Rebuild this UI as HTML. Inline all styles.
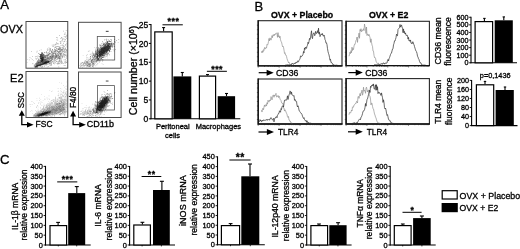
<!DOCTYPE html>
<html lang="en">
<head>
<meta charset="utf-8">
<title>Figure</title>
<style>
html,body{margin:0;padding:0;background:#fff;}
body{width:520px;height:249px;overflow:hidden;}
svg{display:block;font-family:"Liberation Sans", sans-serif;filter:blur(0.3px);}
text{stroke:#000;stroke-width:0.3px;}
</style>
</head>
<body>
<svg width="520" height="249" viewBox="0 0 520 249">
<rect width="520" height="249" fill="#fff"/>
<text x="0.2" y="9.3" font-size="13.2" text-anchor="start" font-weight="normal" fill="#000">A</text>
<text x="254.6" y="10.7" font-size="13" text-anchor="start" font-weight="normal" fill="#000">B</text>
<text x="0.0" y="163.6" font-size="13.2" text-anchor="start" font-weight="normal" fill="#000">C</text>
<text x="0.1" y="32.8" font-size="11" text-anchor="start" font-weight="normal" fill="#000" textLength="22.9" lengthAdjust="spacingAndGlyphs">OVX</text>
<text x="10.1" y="81.6" font-size="11" text-anchor="start" font-weight="normal" fill="#000">E2</text>
<rect x="26" y="21.5" width="41.75" height="46.70" fill="#fff" stroke="#4a4a4a" stroke-width="1.0"/>
<path d="M54.6 45.6h0.75v0.75h-0.75zM44.6 56.4h0.75v0.75h-0.75zM60.8 52.4h0.75v0.75h-0.75zM42.8 61.6h0.75v0.75h-0.75zM41.3 63.1h0.75v0.75h-0.75zM35.0 63.2h0.75v0.75h-0.75zM54.9 53.0h0.75v0.75h-0.75zM40.1 62.0h0.75v0.75h-0.75zM34.1 64.9h0.75v0.75h-0.75zM63.5 48.7h0.75v0.75h-0.75zM58.9 61.5h0.75v0.75h-0.75zM62.7 53.5h0.75v0.75h-0.75zM47.3 60.4h0.75v0.75h-0.75zM46.4 52.1h0.75v0.75h-0.75zM54.9 51.2h0.75v0.75h-0.75zM42.5 62.9h0.75v0.75h-0.75zM40.4 61.3h0.75v0.75h-0.75zM56.5 61.3h0.75v0.75h-0.75zM64.9 47.6h0.75v0.75h-0.75zM65.0 48.1h0.75v0.75h-0.75zM55.3 53.0h0.75v0.75h-0.75zM42.3 65.4h0.75v0.75h-0.75zM52.6 58.3h0.75v0.75h-0.75zM45.7 63.6h0.75v0.75h-0.75zM56.9 55.2h0.75v0.75h-0.75zM45.7 58.9h0.75v0.75h-0.75zM51.6 52.8h0.75v0.75h-0.75zM64.8 65.1h0.75v0.75h-0.75zM38.7 64.5h0.75v0.75h-0.75zM54.3 48.7h0.75v0.75h-0.75zM41.9 62.0h0.75v0.75h-0.75zM45.9 52.6h0.75v0.75h-0.75zM43.7 56.7h0.75v0.75h-0.75zM50.9 56.1h0.75v0.75h-0.75zM53.1 56.4h0.75v0.75h-0.75zM64.9 61.4h0.75v0.75h-0.75zM65.7 53.7h0.75v0.75h-0.75zM57.9 51.5h0.75v0.75h-0.75zM48.0 61.1h0.75v0.75h-0.75zM65.2 39.6h0.75v0.75h-0.75zM53.2 51.9h0.75v0.75h-0.75zM49.3 55.8h0.75v0.75h-0.75zM35.6 64.9h0.75v0.75h-0.75zM58.6 59.8h0.75v0.75h-0.75zM63.7 49.0h0.75v0.75h-0.75zM35.5 66.5h0.75v0.75h-0.75zM39.7 61.7h0.75v0.75h-0.75zM39.8 61.8h0.75v0.75h-0.75zM65.3 48.7h0.75v0.75h-0.75zM54.7 60.2h0.75v0.75h-0.75zM60.4 38.1h0.75v0.75h-0.75zM45.3 60.5h0.75v0.75h-0.75zM60.8 53.2h0.75v0.75h-0.75zM38.0 62.3h0.75v0.75h-0.75zM52.6 52.5h0.75v0.75h-0.75zM55.8 51.8h0.75v0.75h-0.75zM45.0 57.0h0.75v0.75h-0.75zM40.2 66.2h0.75v0.75h-0.75zM52.9 45.9h0.75v0.75h-0.75zM49.3 56.1h0.75v0.75h-0.75zM38.5 63.6h0.75v0.75h-0.75zM45.2 57.2h0.75v0.75h-0.75zM48.9 63.2h0.75v0.75h-0.75zM44.1 64.5h0.75v0.75h-0.75zM38.7 65.8h0.75v0.75h-0.75zM42.7 62.8h0.75v0.75h-0.75zM40.3 62.7h0.75v0.75h-0.75zM57.6 62.0h0.75v0.75h-0.75zM61.8 44.8h0.75v0.75h-0.75zM51.3 51.5h0.75v0.75h-0.75zM52.0 52.4h0.75v0.75h-0.75zM39.4 60.2h0.75v0.75h-0.75zM47.2 56.9h0.75v0.75h-0.75zM59.4 47.7h0.75v0.75h-0.75zM48.3 65.9h0.75v0.75h-0.75zM47.0 57.5h0.75v0.75h-0.75zM61.7 38.1h0.75v0.75h-0.75zM59.1 35.0h0.75v0.75h-0.75zM62.3 38.9h0.75v0.75h-0.75zM38.0 64.6h0.75v0.75h-0.75zM59.9 58.4h0.75v0.75h-0.75zM59.9 60.6h0.75v0.75h-0.75zM44.2 62.7h0.75v0.75h-0.75zM36.1 62.8h0.75v0.75h-0.75zM41.7 61.7h0.75v0.75h-0.75zM50.5 62.7h0.75v0.75h-0.75zM50.1 61.3h0.75v0.75h-0.75zM51.6 58.9h0.75v0.75h-0.75zM52.7 57.9h0.75v0.75h-0.75zM40.2 63.3h0.75v0.75h-0.75zM65.8 55.5h0.75v0.75h-0.75zM50.7 56.4h0.75v0.75h-0.75zM44.3 59.4h0.75v0.75h-0.75zM49.1 51.1h0.75v0.75h-0.75zM59.9 48.4h0.75v0.75h-0.75zM58.6 56.4h0.75v0.75h-0.75zM39.0 58.8h0.75v0.75h-0.75zM65.8 57.2h0.75v0.75h-0.75zM66.5 46.6h0.75v0.75h-0.75zM60.4 46.9h0.75v0.75h-0.75zM47.8 59.3h0.75v0.75h-0.75zM45.1 59.2h0.75v0.75h-0.75zM59.7 63.6h0.75v0.75h-0.75zM65.4 49.3h0.75v0.75h-0.75zM52.0 51.8h0.75v0.75h-0.75zM52.5 46.3h0.75v0.75h-0.75zM55.0 52.9h0.75v0.75h-0.75zM41.8 63.7h0.75v0.75h-0.75zM48.8 53.6h0.75v0.75h-0.75zM60.7 53.1h0.75v0.75h-0.75zM57.0 50.3h0.75v0.75h-0.75zM46.8 55.7h0.75v0.75h-0.75zM58.9 52.9h0.75v0.75h-0.75zM46.3 55.0h0.75v0.75h-0.75zM58.3 63.3h0.75v0.75h-0.75zM53.0 53.9h0.75v0.75h-0.75zM53.8 55.9h0.75v0.75h-0.75zM43.3 60.3h0.75v0.75h-0.75zM46.5 58.0h0.75v0.75h-0.75zM47.4 61.3h0.75v0.75h-0.75zM56.4 61.0h0.75v0.75h-0.75zM47.5 52.9h0.75v0.75h-0.75zM59.9 50.5h0.75v0.75h-0.75zM40.6 62.4h0.75v0.75h-0.75zM36.2 65.3h0.75v0.75h-0.75zM35.9 62.7h0.75v0.75h-0.75zM46.2 57.5h0.75v0.75h-0.75zM52.3 55.5h0.75v0.75h-0.75zM43.4 62.0h0.75v0.75h-0.75zM48.4 53.8h0.75v0.75h-0.75zM38.3 64.0h0.75v0.75h-0.75zM65.0 44.7h0.75v0.75h-0.75zM58.6 55.1h0.75v0.75h-0.75zM50.4 60.0h0.75v0.75h-0.75zM38.4 64.7h0.75v0.75h-0.75zM66.3 62.3h0.75v0.75h-0.75zM49.8 65.3h0.75v0.75h-0.75zM60.7 56.4h0.75v0.75h-0.75zM47.7 54.3h0.75v0.75h-0.75zM64.0 45.9h0.75v0.75h-0.75zM54.5 50.9h0.75v0.75h-0.75zM63.6 59.6h0.75v0.75h-0.75zM61.3 37.3h0.75v0.75h-0.75zM56.4 50.1h0.75v0.75h-0.75zM54.3 57.2h0.75v0.75h-0.75zM58.4 49.1h0.75v0.75h-0.75zM59.3 54.5h0.75v0.75h-0.75zM40.3 64.4h0.75v0.75h-0.75zM42.7 55.8h0.75v0.75h-0.75zM46.8 66.4h0.75v0.75h-0.75zM37.9 61.0h0.75v0.75h-0.75zM42.7 56.5h0.75v0.75h-0.75zM38.3 59.7h0.75v0.75h-0.75zM35.6 66.5h0.75v0.75h-0.75zM43.0 59.1h0.75v0.75h-0.75zM55.0 56.7h0.75v0.75h-0.75zM59.4 50.4h0.75v0.75h-0.75zM58.2 48.5h0.75v0.75h-0.75zM65.9 41.4h0.75v0.75h-0.75zM43.8 59.9h0.75v0.75h-0.75zM44.1 61.7h0.75v0.75h-0.75zM42.7 62.7h0.75v0.75h-0.75zM41.3 60.8h0.75v0.75h-0.75zM53.5 55.1h0.75v0.75h-0.75zM61.8 62.2h0.75v0.75h-0.75zM63.7 65.2h0.75v0.75h-0.75zM59.6 61.4h0.75v0.75h-0.75zM50.0 56.8h0.75v0.75h-0.75zM35.6 65.5h0.75v0.75h-0.75zM52.9 44.7h0.75v0.75h-0.75zM44.5 59.4h0.75v0.75h-0.75zM60.3 50.8h0.75v0.75h-0.75zM50.8 63.3h0.75v0.75h-0.75zM38.4 64.9h0.75v0.75h-0.75zM43.3 62.3h0.75v0.75h-0.75zM53.0 63.2h0.75v0.75h-0.75zM37.6 64.3h0.75v0.75h-0.75zM64.4 62.3h0.75v0.75h-0.75zM49.6 49.4h0.75v0.75h-0.75zM50.8 54.9h0.75v0.75h-0.75zM38.7 65.5h0.75v0.75h-0.75zM37.7 61.3h0.75v0.75h-0.75zM33.8 65.2h0.75v0.75h-0.75zM56.1 53.5h0.75v0.75h-0.75zM43.5 63.5h0.75v0.75h-0.75zM49.9 60.2h0.75v0.75h-0.75zM35.1 65.6h0.75v0.75h-0.75zM47.5 55.0h0.75v0.75h-0.75zM64.7 55.1h0.75v0.75h-0.75zM38.2 64.2h0.75v0.75h-0.75zM38.9 62.4h0.75v0.75h-0.75zM66.4 43.0h0.75v0.75h-0.75zM37.2 65.1h0.75v0.75h-0.75zM34.5 65.3h0.75v0.75h-0.75zM53.3 55.6h0.75v0.75h-0.75zM56.1 37.3h0.75v0.75h-0.75zM48.4 55.0h0.75v0.75h-0.75zM42.5 60.8h0.75v0.75h-0.75zM45.7 52.1h0.75v0.75h-0.75zM49.1 59.3h0.75v0.75h-0.75zM36.2 65.0h0.75v0.75h-0.75zM60.8 55.4h0.75v0.75h-0.75zM44.8 56.7h0.75v0.75h-0.75zM55.2 58.0h0.75v0.75h-0.75zM59.1 55.9h0.75v0.75h-0.75zM47.9 57.7h0.75v0.75h-0.75zM54.1 53.0h0.75v0.75h-0.75zM36.7 61.8h0.75v0.75h-0.75zM39.9 56.8h0.75v0.75h-0.75zM54.4 52.1h0.75v0.75h-0.75zM40.9 64.3h0.75v0.75h-0.75zM64.8 51.3h0.75v0.75h-0.75zM34.1 66.7h0.75v0.75h-0.75zM55.1 62.5h0.75v0.75h-0.75zM41.4 65.7h0.75v0.75h-0.75zM36.9 66.0h0.75v0.75h-0.75zM45.3 64.6h0.75v0.75h-0.75zM52.3 53.4h0.75v0.75h-0.75zM53.7 44.6h0.75v0.75h-0.75zM50.9 64.9h0.75v0.75h-0.75zM38.2 61.9h0.75v0.75h-0.75zM48.7 61.6h0.75v0.75h-0.75zM45.0 60.3h0.75v0.75h-0.75zM41.2 60.8h0.75v0.75h-0.75zM64.3 53.7h0.75v0.75h-0.75zM50.0 62.1h0.75v0.75h-0.75zM53.4 63.2h0.75v0.75h-0.75zM48.5 49.5h0.75v0.75h-0.75zM61.7 48.9h0.75v0.75h-0.75zM40.5 59.6h0.75v0.75h-0.75zM40.3 63.5h0.75v0.75h-0.75zM36.0 64.5h0.75v0.75h-0.75zM42.5 65.4h0.75v0.75h-0.75zM51.3 58.9h0.75v0.75h-0.75zM64.6 34.1h0.75v0.75h-0.75zM62.7 55.2h0.75v0.75h-0.75zM57.7 54.1h0.75v0.75h-0.75zM35.8 64.6h0.75v0.75h-0.75zM46.1 64.1h0.75v0.75h-0.75zM37.7 62.7h0.75v0.75h-0.75zM63.4 41.6h0.75v0.75h-0.75zM41.0 59.3h0.75v0.75h-0.75zM40.7 63.0h0.75v0.75h-0.75zM38.2 62.9h0.75v0.75h-0.75zM34.1 66.1h0.75v0.75h-0.75zM53.2 56.8h0.75v0.75h-0.75zM57.1 56.8h0.75v0.75h-0.75zM64.0 55.7h0.75v0.75h-0.75zM64.0 51.9h0.75v0.75h-0.75zM55.7 61.0h0.75v0.75h-0.75zM34.9 65.2h0.75v0.75h-0.75zM39.0 63.0h0.75v0.75h-0.75zM53.4 59.0h0.75v0.75h-0.75zM60.8 50.2h0.75v0.75h-0.75zM55.2 57.0h0.75v0.75h-0.75zM51.0 62.5h0.75v0.75h-0.75zM57.7 58.3h0.75v0.75h-0.75zM47.9 58.8h0.75v0.75h-0.75zM56.4 50.3h0.75v0.75h-0.75zM49.5 57.1h0.75v0.75h-0.75zM44.9 57.7h0.75v0.75h-0.75zM65.1 61.6h0.75v0.75h-0.75zM36.2 65.2h0.75v0.75h-0.75zM39.8 64.2h0.75v0.75h-0.75zM61.2 37.1h0.75v0.75h-0.75zM63.2 46.3h0.75v0.75h-0.75zM42.8 57.2h0.75v0.75h-0.75zM59.2 53.3h0.75v0.75h-0.75zM44.1 60.7h0.75v0.75h-0.75zM35.4 66.4h0.75v0.75h-0.75zM59.9 61.0h0.75v0.75h-0.75zM60.1 41.7h0.75v0.75h-0.75zM40.1 63.3h0.75v0.75h-0.75zM55.5 44.3h0.75v0.75h-0.75zM46.2 55.7h0.75v0.75h-0.75zM59.0 49.4h0.75v0.75h-0.75zM49.3 50.7h0.75v0.75h-0.75zM49.2 58.6h0.75v0.75h-0.75zM65.1 51.6h0.75v0.75h-0.75zM63.2 45.1h0.75v0.75h-0.75zM50.3 48.1h0.75v0.75h-0.75zM44.0 57.9h0.75v0.75h-0.75zM36.5 62.7h0.75v0.75h-0.75zM63.4 53.9h0.75v0.75h-0.75zM49.7 60.9h0.75v0.75h-0.75zM48.1 57.2h0.75v0.75h-0.75zM39.0 61.8h0.75v0.75h-0.75zM36.8 63.5h0.75v0.75h-0.75zM42.7 60.3h0.75v0.75h-0.75zM36.0 66.6h0.75v0.75h-0.75zM43.5 55.8h0.75v0.75h-0.75zM41.8 66.5h0.75v0.75h-0.75zM59.7 61.4h0.75v0.75h-0.75zM45.9 64.7h0.75v0.75h-0.75zM47.0 48.5h0.75v0.75h-0.75zM65.4 52.1h0.75v0.75h-0.75zM38.2 61.9h0.75v0.75h-0.75zM63.7 47.7h0.75v0.75h-0.75zM37.1 64.1h0.75v0.75h-0.75zM58.2 48.1h0.75v0.75h-0.75zM42.2 56.7h0.75v0.75h-0.75zM35.5 62.9h0.75v0.75h-0.75zM52.8 53.4h0.75v0.75h-0.75zM45.0 64.6h0.75v0.75h-0.75zM34.9 64.8h0.75v0.75h-0.75zM51.8 55.9h0.75v0.75h-0.75zM47.3 57.1h0.75v0.75h-0.75zM45.9 59.0h0.75v0.75h-0.75zM38.5 63.1h0.75v0.75h-0.75zM62.5 52.6h0.75v0.75h-0.75zM45.8 59.5h0.75v0.75h-0.75zM65.9 58.0h0.75v0.75h-0.75zM60.4 50.8h0.75v0.75h-0.75zM58.0 56.9h0.75v0.75h-0.75zM40.5 65.5h0.75v0.75h-0.75zM56.9 57.1h0.75v0.75h-0.75zM56.3 53.7h0.75v0.75h-0.75zM42.2 59.0h0.75v0.75h-0.75zM46.9 64.2h0.75v0.75h-0.75zM64.9 36.9h0.75v0.75h-0.75zM43.4 59.5h0.75v0.75h-0.75zM50.4 55.9h0.75v0.75h-0.75zM56.1 56.1h0.75v0.75h-0.75zM54.4 56.0h0.75v0.75h-0.75zM51.3 60.5h0.75v0.75h-0.75zM56.6 43.8h0.75v0.75h-0.75zM54.1 60.6h0.75v0.75h-0.75zM46.6 60.0h0.75v0.75h-0.75zM42.7 60.1h0.75v0.75h-0.75zM60.7 59.6h0.75v0.75h-0.75zM43.7 56.4h0.75v0.75h-0.75zM43.6 56.4h0.75v0.75h-0.75zM63.3 30.8h0.75v0.75h-0.75zM41.1 61.5h0.75v0.75h-0.75zM44.8 61.0h0.75v0.75h-0.75zM49.0 52.5h0.75v0.75h-0.75zM56.8 53.5h0.75v0.75h-0.75zM59.2 58.6h0.75v0.75h-0.75zM41.6 59.5h0.75v0.75h-0.75zM62.8 47.9h0.75v0.75h-0.75zM58.8 46.5h0.75v0.75h-0.75zM43.5 59.0h0.75v0.75h-0.75zM46.1 61.1h0.75v0.75h-0.75zM48.7 52.4h0.75v0.75h-0.75zM66.5 54.7h0.75v0.75h-0.75zM47.2 50.2h0.75v0.75h-0.75zM63.8 49.9h0.75v0.75h-0.75zM45.5 60.4h0.75v0.75h-0.75zM44.1 52.2h0.75v0.75h-0.75zM65.2 58.9h0.75v0.75h-0.75zM55.2 54.4h0.75v0.75h-0.75zM37.2 64.9h0.75v0.75h-0.75zM51.8 44.8h0.75v0.75h-0.75zM52.8 61.0h0.75v0.75h-0.75zM45.1 61.2h0.75v0.75h-0.75zM49.5 64.6h0.75v0.75h-0.75zM59.8 51.3h0.75v0.75h-0.75zM56.5 39.5h0.75v0.75h-0.75zM50.3 61.4h0.75v0.75h-0.75zM41.9 57.6h0.75v0.75h-0.75zM56.8 56.3h0.75v0.75h-0.75zM44.3 61.4h0.75v0.75h-0.75zM43.4 60.5h0.75v0.75h-0.75zM57.9 61.6h0.75v0.75h-0.75zM43.3 57.6h0.75v0.75h-0.75zM35.4 66.3h0.75v0.75h-0.75zM53.9 57.5h0.75v0.75h-0.75zM62.9 54.1h0.75v0.75h-0.75zM38.2 60.7h0.75v0.75h-0.75zM60.5 48.5h0.75v0.75h-0.75zM55.6 52.2h0.75v0.75h-0.75zM66.3 50.3h0.75v0.75h-0.75zM37.2 64.2h0.75v0.75h-0.75zM41.2 63.4h0.75v0.75h-0.75zM61.1 62.9h0.75v0.75h-0.75zM52.1 57.1h0.75v0.75h-0.75zM41.7 59.8h0.75v0.75h-0.75zM35.0 65.0h0.75v0.75h-0.75zM62.0 44.9h0.75v0.75h-0.75zM62.8 51.3h0.75v0.75h-0.75zM45.2 58.1h0.75v0.75h-0.75zM40.1 63.1h0.75v0.75h-0.75zM65.8 30.3h0.75v0.75h-0.75zM42.6 61.9h0.75v0.75h-0.75zM42.8 63.6h0.75v0.75h-0.75zM58.4 66.6h0.75v0.75h-0.75zM63.0 48.4h0.75v0.75h-0.75zM63.1 43.2h0.75v0.75h-0.75zM40.8 64.2h0.75v0.75h-0.75zM47.6 59.6h0.75v0.75h-0.75zM44.6 59.5h0.75v0.75h-0.75zM41.1 60.5h0.75v0.75h-0.75zM58.2 49.3h0.75v0.75h-0.75zM56.1 49.8h0.75v0.75h-0.75zM42.5 61.3h0.75v0.75h-0.75zM34.5 63.9h0.75v0.75h-0.75zM38.6 62.0h0.75v0.75h-0.75zM40.2 64.7h0.75v0.75h-0.75zM51.9 57.8h0.75v0.75h-0.75zM56.7 55.8h0.75v0.75h-0.75zM57.8 61.0h0.75v0.75h-0.75zM43.3 61.5h0.75v0.75h-0.75zM42.4 64.3h0.75v0.75h-0.75zM48.3 63.7h0.75v0.75h-0.75zM34.3 63.9h0.75v0.75h-0.75zM45.6 64.6h0.75v0.75h-0.75zM40.1 64.7h0.75v0.75h-0.75zM56.4 48.0h0.75v0.75h-0.75zM35.2 66.2h0.75v0.75h-0.75zM46.9 58.2h0.75v0.75h-0.75zM43.3 60.8h0.75v0.75h-0.75zM35.5 65.0h0.75v0.75h-0.75zM62.2 56.2h0.75v0.75h-0.75zM63.2 55.8h0.75v0.75h-0.75zM43.2 63.6h0.75v0.75h-0.75zM49.5 53.6h0.75v0.75h-0.75zM50.2 57.3h0.75v0.75h-0.75zM44.1 60.6h0.75v0.75h-0.75zM37.4 64.6h0.75v0.75h-0.75zM42.3 62.4h0.75v0.75h-0.75zM66.2 36.5h0.75v0.75h-0.75zM47.7 62.1h0.75v0.75h-0.75zM41.0 61.9h0.75v0.75h-0.75zM65.9 51.9h0.75v0.75h-0.75zM63.9 59.4h0.75v0.75h-0.75zM65.1 36.1h0.75v0.75h-0.75zM34.2 65.6h0.75v0.75h-0.75zM34.3 65.4h0.75v0.75h-0.75zM51.1 62.5h0.75v0.75h-0.75zM46.7 54.7h0.75v0.75h-0.75zM62.1 39.0h0.75v0.75h-0.75zM64.6 33.8h0.75v0.75h-0.75zM63.5 44.8h0.75v0.75h-0.75zM44.0 56.2h0.75v0.75h-0.75zM35.8 64.3h0.75v0.75h-0.75zM49.1 48.5h0.75v0.75h-0.75zM61.0 60.4h0.75v0.75h-0.75zM38.5 62.5h0.75v0.75h-0.75zM44.1 60.4h0.75v0.75h-0.75zM40.3 59.8h0.75v0.75h-0.75zM57.6 53.8h0.75v0.75h-0.75zM66.0 51.5h0.75v0.75h-0.75zM44.4 55.6h0.75v0.75h-0.75zM60.5 41.4h0.75v0.75h-0.75zM65.8 53.5h0.75v0.75h-0.75zM37.1 63.7h0.75v0.75h-0.75zM34.2 66.0h0.75v0.75h-0.75zM61.7 40.6h0.75v0.75h-0.75zM49.2 53.2h0.75v0.75h-0.75zM60.2 52.5h0.75v0.75h-0.75zM59.3 51.2h0.75v0.75h-0.75zM54.8 53.4h0.75v0.75h-0.75zM66.5 61.4h0.75v0.75h-0.75zM37.4 62.4h0.75v0.75h-0.75zM61.8 49.8h0.75v0.75h-0.75zM57.0 43.0h0.75v0.75h-0.75zM62.9 53.3h0.75v0.75h-0.75zM34.8 67.0h0.75v0.75h-0.75zM59.8 54.2h0.75v0.75h-0.75zM46.4 57.4h0.75v0.75h-0.75zM48.3 57.9h0.75v0.75h-0.75zM52.1 53.2h0.75v0.75h-0.75zM51.1 59.9h0.75v0.75h-0.75zM55.0 46.6h0.75v0.75h-0.75zM59.7 41.0h0.75v0.75h-0.75zM47.1 57.3h0.75v0.75h-0.75zM61.9 44.6h0.75v0.75h-0.75zM59.7 52.6h0.75v0.75h-0.75zM49.5 52.9h0.75v0.75h-0.75zM50.8 51.4h0.75v0.75h-0.75zM42.1 63.4h0.75v0.75h-0.75zM63.9 38.7h0.75v0.75h-0.75zM55.4 55.9h0.75v0.75h-0.75zM49.8 49.8h0.75v0.75h-0.75zM60.1 57.1h0.75v0.75h-0.75zM39.0 63.6h0.75v0.75h-0.75zM43.3 58.7h0.75v0.75h-0.75zM51.1 57.7h0.75v0.75h-0.75zM50.6 60.0h0.75v0.75h-0.75zM36.0 63.9h0.75v0.75h-0.75zM66.5 35.4h0.75v0.75h-0.75zM49.1 53.0h0.75v0.75h-0.75zM44.0 56.5h0.75v0.75h-0.75zM40.1 63.8h0.75v0.75h-0.75zM44.1 60.3h0.75v0.75h-0.75zM46.4 62.7h0.75v0.75h-0.75zM35.9 66.6h0.75v0.75h-0.75zM57.8 51.0h0.75v0.75h-0.75zM55.4 56.0h0.75v0.75h-0.75zM60.5 49.3h0.75v0.75h-0.75zM64.9 51.4h0.75v0.75h-0.75zM52.6 50.4h0.75v0.75h-0.75zM39.1 63.6h0.75v0.75h-0.75zM38.5 63.8h0.75v0.75h-0.75zM37.8 64.6h0.75v0.75h-0.75zM50.9 59.7h0.75v0.75h-0.75zM60.8 61.9h0.75v0.75h-0.75zM52.4 56.5h0.75v0.75h-0.75zM45.1 56.0h0.75v0.75h-0.75zM56.9 63.4h0.75v0.75h-0.75zM56.1 55.2h0.75v0.75h-0.75zM48.8 63.0h0.75v0.75h-0.75zM40.2 60.9h0.75v0.75h-0.75zM58.1 51.5h0.75v0.75h-0.75zM36.9 64.1h0.75v0.75h-0.75zM38.4 63.0h0.75v0.75h-0.75zM46.6 61.9h0.75v0.75h-0.75zM65.1 61.4h0.75v0.75h-0.75zM45.8 57.8h0.75v0.75h-0.75zM44.4 59.6h0.75v0.75h-0.75zM49.9 63.7h0.75v0.75h-0.75zM35.5 63.9h0.75v0.75h-0.75zM51.6 52.5h0.75v0.75h-0.75zM66.4 44.6h0.75v0.75h-0.75zM37.5 63.4h0.75v0.75h-0.75zM52.9 53.9h0.75v0.75h-0.75zM44.9 59.2h0.75v0.75h-0.75zM62.4 46.7h0.75v0.75h-0.75zM63.7 49.9h0.75v0.75h-0.75zM39.7 63.0h0.75v0.75h-0.75zM42.5 60.0h0.75v0.75h-0.75zM43.2 58.3h0.75v0.75h-0.75zM58.6 56.1h0.75v0.75h-0.75zM52.3 51.8h0.75v0.75h-0.75zM42.0 61.1h0.75v0.75h-0.75zM66.2 49.6h0.75v0.75h-0.75zM50.1 60.7h0.75v0.75h-0.75zM55.3 49.5h0.75v0.75h-0.75zM65.0 54.6h0.75v0.75h-0.75zM38.8 61.4h0.75v0.75h-0.75zM62.6 49.8h0.75v0.75h-0.75zM63.2 38.6h0.75v0.75h-0.75zM43.6 63.7h0.75v0.75h-0.75zM43.9 61.2h0.75v0.75h-0.75zM59.2 63.0h0.75v0.75h-0.75zM35.1 65.9h0.75v0.75h-0.75zM62.2 57.3h0.75v0.75h-0.75zM39.7 62.5h0.75v0.75h-0.75zM46.8 63.8h0.75v0.75h-0.75zM51.0 60.6h0.75v0.75h-0.75zM50.4 57.5h0.75v0.75h-0.75zM35.7 65.0h0.75v0.75h-0.75zM58.0 46.0h0.75v0.75h-0.75zM40.8 59.8h0.75v0.75h-0.75zM50.1 49.3h0.75v0.75h-0.75zM56.7 56.3h0.75v0.75h-0.75zM63.2 55.6h0.75v0.75h-0.75zM51.8 61.5h0.75v0.75h-0.75zM36.5 65.3h0.75v0.75h-0.75zM37.2 66.7h0.75v0.75h-0.75zM57.2 37.6h0.75v0.75h-0.75zM59.3 46.4h0.75v0.75h-0.75zM36.7 61.8h0.75v0.75h-0.75zM35.1 65.1h0.75v0.75h-0.75zM45.9 55.6h0.75v0.75h-0.75zM37.2 62.3h0.75v0.75h-0.75zM47.4 52.9h0.75v0.75h-0.75zM35.8 63.8h0.75v0.75h-0.75zM54.7 62.3h0.75v0.75h-0.75zM59.0 59.1h0.75v0.75h-0.75zM42.0 57.2h0.75v0.75h-0.75zM57.5 46.0h0.75v0.75h-0.75zM50.1 61.2h0.75v0.75h-0.75zM54.9 55.9h0.75v0.75h-0.75zM52.1 61.3h0.75v0.75h-0.75zM64.9 39.2h0.75v0.75h-0.75zM56.1 59.5h0.75v0.75h-0.75zM34.9 66.4h0.75v0.75h-0.75zM60.6 42.8h0.75v0.75h-0.75zM55.8 43.3h0.75v0.75h-0.75zM42.7 61.9h0.75v0.75h-0.75zM63.3 63.3h0.75v0.75h-0.75zM41.6 64.2h0.75v0.75h-0.75zM48.8 62.1h0.75v0.75h-0.75zM60.5 62.2h0.75v0.75h-0.75zM58.0 56.4h0.75v0.75h-0.75zM43.6 56.9h0.75v0.75h-0.75zM58.9 57.7h0.75v0.75h-0.75zM49.7 58.2h0.75v0.75h-0.75zM59.5 46.6h0.75v0.75h-0.75zM43.1 61.8h0.75v0.75h-0.75zM39.3 61.0h0.75v0.75h-0.75zM48.0 61.7h0.75v0.75h-0.75zM63.1 53.2h0.75v0.75h-0.75zM63.8 35.9h0.75v0.75h-0.75zM49.1 56.0h0.75v0.75h-0.75zM43.1 62.6h0.75v0.75h-0.75zM60.0 58.3h0.75v0.75h-0.75zM38.5 64.4h0.75v0.75h-0.75zM64.3 40.8h0.75v0.75h-0.75zM51.8 53.4h0.75v0.75h-0.75zM57.0 46.1h0.75v0.75h-0.75zM61.7 49.6h0.75v0.75h-0.75zM47.8 52.1h0.75v0.75h-0.75zM46.8 57.8h0.75v0.75h-0.75zM64.1 56.7h0.75v0.75h-0.75zM50.2 60.2h0.75v0.75h-0.75zM45.9 59.1h0.75v0.75h-0.75zM47.4 54.5h0.75v0.75h-0.75zM36.0 62.3h0.75v0.75h-0.75zM65.0 44.3h0.75v0.75h-0.75zM46.3 60.9h0.75v0.75h-0.75zM51.1 64.5h0.75v0.75h-0.75zM55.0 46.4h0.75v0.75h-0.75zM53.9 58.4h0.75v0.75h-0.75zM66.4 56.2h0.75v0.75h-0.75zM63.0 48.6h0.75v0.75h-0.75zM64.1 54.4h0.75v0.75h-0.75zM40.6 60.4h0.75v0.75h-0.75zM61.1 52.7h0.75v0.75h-0.75zM37.8 62.5h0.75v0.75h-0.75zM64.6 60.9h0.75v0.75h-0.75zM55.5 55.2h0.75v0.75h-0.75zM52.3 59.3h0.75v0.75h-0.75zM62.3 56.9h0.75v0.75h-0.75zM50.6 55.2h0.75v0.75h-0.75zM66.4 34.8h0.75v0.75h-0.75zM65.4 55.1h0.75v0.75h-0.75zM40.3 64.2h0.75v0.75h-0.75zM54.6 52.1h0.75v0.75h-0.75zM62.0 44.9h0.75v0.75h-0.75zM52.9 62.2h0.75v0.75h-0.75zM50.9 57.5h0.75v0.75h-0.75zM62.0 51.4h0.75v0.75h-0.75zM59.3 51.1h0.75v0.75h-0.75zM37.6 64.4h0.75v0.75h-0.75zM48.4 59.7h0.75v0.75h-0.75zM36.1 63.8h0.75v0.75h-0.75zM65.4 44.7h0.75v0.75h-0.75zM65.6 60.2h0.75v0.75h-0.75zM50.0 48.8h0.75v0.75h-0.75zM63.7 51.6h0.75v0.75h-0.75zM42.0 57.0h0.75v0.75h-0.75zM41.8 62.8h0.75v0.75h-0.75zM36.7 66.5h0.75v0.75h-0.75zM60.0 53.1h0.75v0.75h-0.75zM35.0 66.7h0.75v0.75h-0.75zM65.7 50.2h0.75v0.75h-0.75zM41.7 62.7h0.75v0.75h-0.75zM52.3 56.6h0.75v0.75h-0.75zM65.6 62.3h0.75v0.75h-0.75zM57.8 54.6h0.75v0.75h-0.75zM64.3 52.0h0.75v0.75h-0.75zM63.1 53.2h0.75v0.75h-0.75zM62.1 48.6h0.75v0.75h-0.75zM42.4 66.4h0.75v0.75h-0.75zM38.6 60.3h0.75v0.75h-0.75zM41.9 63.8h0.75v0.75h-0.75zM63.9 33.8h0.75v0.75h-0.75zM53.8 61.4h0.75v0.75h-0.75zM38.1 64.7h0.75v0.75h-0.75zM57.7 63.7h0.75v0.75h-0.75zM56.7 51.0h0.75v0.75h-0.75zM53.1 50.7h0.75v0.75h-0.75zM58.9 58.3h0.75v0.75h-0.75zM48.7 53.8h0.75v0.75h-0.75zM43.5 58.5h0.75v0.75h-0.75zM62.9 47.2h0.75v0.75h-0.75zM64.4 49.1h0.75v0.75h-0.75zM36.7 63.4h0.75v0.75h-0.75zM61.7 47.3h0.75v0.75h-0.75zM64.3 50.5h0.75v0.75h-0.75zM45.1 60.8h0.75v0.75h-0.75zM38.9 59.8h0.75v0.75h-0.75zM57.7 55.5h0.75v0.75h-0.75zM57.3 63.4h0.75v0.75h-0.75zM41.9 64.1h0.75v0.75h-0.75zM44.8 60.6h0.75v0.75h-0.75zM51.6 50.4h0.75v0.75h-0.75zM50.0 56.0h0.75v0.75h-0.75zM40.2 62.4h0.75v0.75h-0.75zM61.9 37.8h0.75v0.75h-0.75zM58.6 49.1h0.75v0.75h-0.75zM49.8 63.3h0.75v0.75h-0.75zM54.3 49.1h0.75v0.75h-0.75zM54.7 57.2h0.75v0.75h-0.75zM64.8 32.5h0.75v0.75h-0.75zM38.8 61.8h0.75v0.75h-0.75zM51.3 58.3h0.75v0.75h-0.75zM42.9 61.2h0.75v0.75h-0.75zM48.4 54.7h0.75v0.75h-0.75zM45.1 55.1h0.75v0.75h-0.75zM61.0 52.4h0.75v0.75h-0.75zM38.3 64.7h0.75v0.75h-0.75zM54.9 44.0h0.75v0.75h-0.75zM38.9 63.6h0.75v0.75h-0.75zM59.3 46.7h0.75v0.75h-0.75zM53.1 53.3h0.75v0.75h-0.75zM66.3 38.0h0.75v0.75h-0.75zM59.9 54.2h0.75v0.75h-0.75zM41.2 62.2h0.75v0.75h-0.75zM41.7 58.0h0.75v0.75h-0.75zM61.2 49.5h0.75v0.75h-0.75zM53.9 57.3h0.75v0.75h-0.75zM50.5 60.2h0.75v0.75h-0.75zM35.3 64.9h0.75v0.75h-0.75zM35.4 66.0h0.75v0.75h-0.75zM60.9 60.3h0.75v0.75h-0.75zM41.0 57.9h0.75v0.75h-0.75zM36.4 64.6h0.75v0.75h-0.75zM62.1 50.5h0.75v0.75h-0.75zM46.9 49.0h0.75v0.75h-0.75zM46.1 56.8h0.75v0.75h-0.75zM56.6 55.6h0.75v0.75h-0.75zM38.9 64.1h0.75v0.75h-0.75zM48.7 53.4h0.75v0.75h-0.75zM54.2 52.1h0.75v0.75h-0.75zM45.7 61.1h0.75v0.75h-0.75zM60.5 51.3h0.75v0.75h-0.75zM35.7 63.3h0.75v0.75h-0.75zM47.8 53.9h0.75v0.75h-0.75zM51.1 58.6h0.75v0.75h-0.75zM36.1 62.8h0.75v0.75h-0.75zM58.1 52.4h0.75v0.75h-0.75zM40.6 65.3h0.75v0.75h-0.75zM51.1 63.7h0.75v0.75h-0.75zM61.1 61.2h0.75v0.75h-0.75zM34.4 66.7h0.75v0.75h-0.75zM36.7 62.0h0.75v0.75h-0.75zM55.6 57.6h0.75v0.75h-0.75zM35.1 66.4h0.75v0.75h-0.75zM46.7 63.8h0.75v0.75h-0.75zM57.5 53.5h0.75v0.75h-0.75zM52.2 55.5h0.75v0.75h-0.75zM40.9 61.0h0.75v0.75h-0.75zM64.9 54.6h0.75v0.75h-0.75zM56.3 42.3h0.75v0.75h-0.75zM36.3 64.9h0.75v0.75h-0.75zM46.1 51.2h0.75v0.75h-0.75zM40.6 63.7h0.75v0.75h-0.75zM65.9 50.4h0.75v0.75h-0.75zM49.3 57.1h0.75v0.75h-0.75zM42.8 63.8h0.75v0.75h-0.75zM48.4 58.0h0.75v0.75h-0.75zM46.4 53.7h0.75v0.75h-0.75zM58.0 62.8h0.75v0.75h-0.75zM51.5 52.0h0.75v0.75h-0.75zM52.2 49.3h0.75v0.75h-0.75zM43.9 59.8h0.75v0.75h-0.75zM43.7 54.0h0.75v0.75h-0.75zM52.2 58.7h0.75v0.75h-0.75zM57.4 39.8h0.75v0.75h-0.75zM60.7 56.9h0.75v0.75h-0.75zM44.9 62.5h0.75v0.75h-0.75zM50.2 57.7h0.75v0.75h-0.75zM48.6 47.4h0.75v0.75h-0.75zM42.1 59.6h0.75v0.75h-0.75zM50.2 60.6h0.75v0.75h-0.75zM44.2 66.0h0.75v0.75h-0.75zM34.1 65.9h0.75v0.75h-0.75zM46.8 58.0h0.75v0.75h-0.75zM58.7 52.7h0.75v0.75h-0.75zM33.8 65.9h0.75v0.75h-0.75zM63.5 51.0h0.75v0.75h-0.75zM52.9 62.2h0.75v0.75h-0.75zM43.4 54.8h0.75v0.75h-0.75zM64.8 63.2h0.75v0.75h-0.75zM51.4 62.1h0.75v0.75h-0.75zM54.0 63.6h0.75v0.75h-0.75zM34.7 66.1h0.75v0.75h-0.75zM36.8 64.4h0.75v0.75h-0.75zM54.2 53.2h0.75v0.75h-0.75zM42.9 63.2h0.75v0.75h-0.75zM45.3 60.8h0.75v0.75h-0.75zM42.4 57.6h0.75v0.75h-0.75zM63.8 54.3h0.75v0.75h-0.75zM62.4 57.0h0.75v0.75h-0.75zM62.0 57.5h0.75v0.75h-0.75zM38.6 63.8h0.75v0.75h-0.75zM40.5 58.4h0.75v0.75h-0.75zM60.5 48.3h0.75v0.75h-0.75zM45.1 57.6h0.75v0.75h-0.75zM62.8 47.4h0.75v0.75h-0.75zM42.2 63.4h0.75v0.75h-0.75zM64.3 41.3h0.75v0.75h-0.75zM59.9 58.2h0.75v0.75h-0.75zM66.2 36.5h0.75v0.75h-0.75zM61.8 62.9h0.75v0.75h-0.75zM55.3 47.1h0.75v0.75h-0.75zM52.6 54.8h0.75v0.75h-0.75zM45.9 63.3h0.75v0.75h-0.75zM66.1 49.2h0.75v0.75h-0.75zM57.2 50.7h0.75v0.75h-0.75z" fill="#000" fill-opacity="0.36"/>
<path d="M40.5 62.5h0.75v0.75h-0.75zM56.2 57.1h0.75v0.75h-0.75zM58.4 54.2h0.75v0.75h-0.75zM53.1 57.0h0.75v0.75h-0.75zM41.4 61.4h0.75v0.75h-0.75zM41.5 59.7h0.75v0.75h-0.75zM56.3 55.2h0.75v0.75h-0.75zM58.2 57.1h0.75v0.75h-0.75zM36.4 64.4h0.75v0.75h-0.75zM49.5 58.2h0.75v0.75h-0.75zM45.7 60.3h0.75v0.75h-0.75zM47.5 57.1h0.75v0.75h-0.75zM55.9 54.4h0.75v0.75h-0.75zM44.4 58.9h0.75v0.75h-0.75zM57.8 52.4h0.75v0.75h-0.75zM60.4 53.3h0.75v0.75h-0.75zM48.1 54.1h0.75v0.75h-0.75zM41.3 59.8h0.75v0.75h-0.75zM39.5 63.7h0.75v0.75h-0.75zM56.2 56.1h0.75v0.75h-0.75zM40.9 60.7h0.75v0.75h-0.75zM45.7 58.1h0.75v0.75h-0.75zM56.1 48.5h0.75v0.75h-0.75zM45.5 62.5h0.75v0.75h-0.75zM42.3 63.2h0.75v0.75h-0.75zM46.2 55.3h0.75v0.75h-0.75zM52.1 54.4h0.75v0.75h-0.75zM51.4 58.6h0.75v0.75h-0.75zM55.5 56.3h0.75v0.75h-0.75zM60.0 47.7h0.75v0.75h-0.75zM41.3 61.4h0.75v0.75h-0.75zM55.7 54.3h0.75v0.75h-0.75zM51.3 56.8h0.75v0.75h-0.75zM59.9 47.8h0.75v0.75h-0.75zM61.7 40.6h0.75v0.75h-0.75zM55.6 47.0h0.75v0.75h-0.75zM37.3 63.1h0.75v0.75h-0.75zM47.2 58.6h0.75v0.75h-0.75zM35.6 64.0h0.75v0.75h-0.75zM41.3 59.9h0.75v0.75h-0.75zM54.3 59.0h0.75v0.75h-0.75zM61.7 61.5h0.75v0.75h-0.75zM58.7 58.2h0.75v0.75h-0.75zM43.7 61.8h0.75v0.75h-0.75zM50.8 53.9h0.75v0.75h-0.75zM60.6 45.0h0.75v0.75h-0.75zM47.2 60.5h0.75v0.75h-0.75zM49.8 56.2h0.75v0.75h-0.75zM52.8 55.9h0.75v0.75h-0.75zM44.7 58.9h0.75v0.75h-0.75zM41.7 63.3h0.75v0.75h-0.75zM44.1 59.3h0.75v0.75h-0.75zM55.2 55.6h0.75v0.75h-0.75zM40.8 61.3h0.75v0.75h-0.75zM46.2 59.1h0.75v0.75h-0.75zM36.4 62.9h0.75v0.75h-0.75zM52.3 55.6h0.75v0.75h-0.75zM51.7 58.5h0.75v0.75h-0.75zM40.2 60.2h0.75v0.75h-0.75zM44.7 62.4h0.75v0.75h-0.75zM40.8 62.3h0.75v0.75h-0.75zM50.4 58.2h0.75v0.75h-0.75zM38.9 62.2h0.75v0.75h-0.75zM36.8 61.2h0.75v0.75h-0.75zM60.0 42.9h0.75v0.75h-0.75zM56.3 48.6h0.75v0.75h-0.75zM39.9 60.3h0.75v0.75h-0.75zM40.2 60.0h0.75v0.75h-0.75zM40.3 63.2h0.75v0.75h-0.75zM38.5 61.2h0.75v0.75h-0.75zM55.9 56.6h0.75v0.75h-0.75zM47.3 62.7h0.75v0.75h-0.75zM44.2 64.4h0.75v0.75h-0.75zM47.4 59.6h0.75v0.75h-0.75zM44.2 59.3h0.75v0.75h-0.75zM49.5 58.6h0.75v0.75h-0.75zM44.8 59.8h0.75v0.75h-0.75zM46.5 60.2h0.75v0.75h-0.75zM42.8 58.8h0.75v0.75h-0.75zM40.4 59.9h0.75v0.75h-0.75zM38.6 62.9h0.75v0.75h-0.75zM52.3 56.2h0.75v0.75h-0.75zM60.6 49.6h0.75v0.75h-0.75zM40.4 62.5h0.75v0.75h-0.75zM61.0 49.8h0.75v0.75h-0.75zM47.3 58.8h0.75v0.75h-0.75zM56.7 59.3h0.75v0.75h-0.75zM51.8 55.7h0.75v0.75h-0.75zM46.7 59.7h0.75v0.75h-0.75zM59.2 56.1h0.75v0.75h-0.75zM60.8 48.9h0.75v0.75h-0.75zM62.1 56.3h0.75v0.75h-0.75zM57.5 49.4h0.75v0.75h-0.75zM61.6 51.5h0.75v0.75h-0.75zM57.4 48.6h0.75v0.75h-0.75zM54.2 47.5h0.75v0.75h-0.75zM59.0 48.5h0.75v0.75h-0.75zM54.6 49.9h0.75v0.75h-0.75zM39.6 63.1h0.75v0.75h-0.75zM44.5 55.4h0.75v0.75h-0.75zM56.9 56.6h0.75v0.75h-0.75zM40.4 63.2h0.75v0.75h-0.75zM54.0 49.5h0.75v0.75h-0.75zM61.0 54.2h0.75v0.75h-0.75zM52.9 56.3h0.75v0.75h-0.75zM48.9 59.8h0.75v0.75h-0.75zM44.4 59.4h0.75v0.75h-0.75zM55.4 51.3h0.75v0.75h-0.75zM60.4 58.2h0.75v0.75h-0.75zM47.0 55.4h0.75v0.75h-0.75zM59.2 57.9h0.75v0.75h-0.75zM39.1 61.9h0.75v0.75h-0.75zM39.6 61.4h0.75v0.75h-0.75zM47.9 55.5h0.75v0.75h-0.75zM39.0 64.6h0.75v0.75h-0.75zM60.7 53.9h0.75v0.75h-0.75zM39.0 64.4h0.75v0.75h-0.75zM44.4 61.8h0.75v0.75h-0.75zM45.3 61.2h0.75v0.75h-0.75zM37.4 62.5h0.75v0.75h-0.75zM36.1 63.4h0.75v0.75h-0.75zM47.3 55.1h0.75v0.75h-0.75zM46.4 61.6h0.75v0.75h-0.75zM38.2 62.7h0.75v0.75h-0.75zM54.7 58.2h0.75v0.75h-0.75zM50.2 60.6h0.75v0.75h-0.75zM51.6 56.8h0.75v0.75h-0.75zM39.9 58.4h0.75v0.75h-0.75zM44.1 63.4h0.75v0.75h-0.75zM48.1 55.5h0.75v0.75h-0.75zM42.7 60.6h0.75v0.75h-0.75zM50.2 56.0h0.75v0.75h-0.75zM58.1 55.2h0.75v0.75h-0.75zM41.0 60.0h0.75v0.75h-0.75zM55.4 50.2h0.75v0.75h-0.75zM37.8 63.4h0.75v0.75h-0.75zM48.9 62.6h0.75v0.75h-0.75zM47.5 57.4h0.75v0.75h-0.75zM55.9 55.1h0.75v0.75h-0.75zM44.2 61.4h0.75v0.75h-0.75zM49.7 60.4h0.75v0.75h-0.75zM44.6 60.3h0.75v0.75h-0.75zM41.9 61.8h0.75v0.75h-0.75zM53.9 55.5h0.75v0.75h-0.75zM49.8 59.2h0.75v0.75h-0.75zM42.5 61.9h0.75v0.75h-0.75zM51.1 57.3h0.75v0.75h-0.75zM43.4 59.0h0.75v0.75h-0.75zM41.0 62.9h0.75v0.75h-0.75zM50.8 50.7h0.75v0.75h-0.75zM51.0 52.0h0.75v0.75h-0.75zM37.1 64.5h0.75v0.75h-0.75zM46.8 58.0h0.75v0.75h-0.75zM41.9 61.6h0.75v0.75h-0.75zM51.3 56.7h0.75v0.75h-0.75zM54.8 50.8h0.75v0.75h-0.75zM49.3 63.0h0.75v0.75h-0.75zM51.6 58.8h0.75v0.75h-0.75zM53.1 53.0h0.75v0.75h-0.75zM45.6 60.8h0.75v0.75h-0.75zM54.6 58.8h0.75v0.75h-0.75zM57.7 54.8h0.75v0.75h-0.75zM57.7 52.3h0.75v0.75h-0.75zM49.9 50.1h0.75v0.75h-0.75zM59.1 60.1h0.75v0.75h-0.75zM60.6 58.7h0.75v0.75h-0.75zM51.7 60.4h0.75v0.75h-0.75zM37.1 63.2h0.75v0.75h-0.75zM46.2 60.5h0.75v0.75h-0.75zM47.8 60.2h0.75v0.75h-0.75zM45.3 56.7h0.75v0.75h-0.75zM58.8 52.5h0.75v0.75h-0.75zM59.1 56.9h0.75v0.75h-0.75zM55.2 49.6h0.75v0.75h-0.75zM45.5 61.1h0.75v0.75h-0.75zM39.4 63.7h0.75v0.75h-0.75zM52.2 48.9h0.75v0.75h-0.75zM60.3 54.9h0.75v0.75h-0.75zM54.3 58.8h0.75v0.75h-0.75zM59.4 47.8h0.75v0.75h-0.75zM42.0 61.2h0.75v0.75h-0.75zM47.0 58.2h0.75v0.75h-0.75zM41.9 60.7h0.75v0.75h-0.75zM46.0 60.4h0.75v0.75h-0.75zM61.3 55.5h0.75v0.75h-0.75zM40.6 61.1h0.75v0.75h-0.75zM45.6 56.0h0.75v0.75h-0.75zM51.7 58.4h0.75v0.75h-0.75zM46.0 59.5h0.75v0.75h-0.75zM40.9 62.3h0.75v0.75h-0.75zM58.1 56.9h0.75v0.75h-0.75zM46.4 63.2h0.75v0.75h-0.75zM43.0 60.8h0.75v0.75h-0.75zM56.1 45.9h0.75v0.75h-0.75zM51.6 59.2h0.75v0.75h-0.75zM40.5 60.7h0.75v0.75h-0.75zM59.0 52.2h0.75v0.75h-0.75zM48.8 54.1h0.75v0.75h-0.75zM52.2 56.3h0.75v0.75h-0.75zM40.7 64.9h0.75v0.75h-0.75zM44.1 61.3h0.75v0.75h-0.75zM41.2 61.0h0.75v0.75h-0.75zM54.7 57.0h0.75v0.75h-0.75zM51.0 51.5h0.75v0.75h-0.75zM62.0 54.7h0.75v0.75h-0.75zM50.4 53.1h0.75v0.75h-0.75zM55.3 57.7h0.75v0.75h-0.75zM44.8 61.3h0.75v0.75h-0.75zM38.2 62.3h0.75v0.75h-0.75zM47.4 61.5h0.75v0.75h-0.75zM59.3 60.8h0.75v0.75h-0.75zM47.9 57.2h0.75v0.75h-0.75zM37.9 62.1h0.75v0.75h-0.75zM55.6 54.8h0.75v0.75h-0.75zM41.2 61.5h0.75v0.75h-0.75zM55.9 55.6h0.75v0.75h-0.75zM50.6 56.7h0.75v0.75h-0.75zM37.8 63.4h0.75v0.75h-0.75zM51.3 57.6h0.75v0.75h-0.75zM52.9 53.6h0.75v0.75h-0.75zM62.1 48.9h0.75v0.75h-0.75zM38.8 64.8h0.75v0.75h-0.75zM55.0 54.0h0.75v0.75h-0.75zM44.1 57.7h0.75v0.75h-0.75zM52.2 57.6h0.75v0.75h-0.75zM46.3 61.8h0.75v0.75h-0.75zM44.1 63.4h0.75v0.75h-0.75zM58.5 49.2h0.75v0.75h-0.75zM57.4 54.9h0.75v0.75h-0.75zM43.0 63.1h0.75v0.75h-0.75zM42.3 60.0h0.75v0.75h-0.75zM49.0 60.8h0.75v0.75h-0.75zM50.8 60.6h0.75v0.75h-0.75zM45.2 59.1h0.75v0.75h-0.75zM37.1 64.3h0.75v0.75h-0.75zM47.3 56.3h0.75v0.75h-0.75zM51.8 54.0h0.75v0.75h-0.75zM49.0 57.0h0.75v0.75h-0.75zM54.9 53.1h0.75v0.75h-0.75zM45.5 59.2h0.75v0.75h-0.75zM36.8 63.4h0.75v0.75h-0.75zM41.7 62.9h0.75v0.75h-0.75zM60.5 53.4h0.75v0.75h-0.75zM59.6 56.4h0.75v0.75h-0.75zM55.8 54.3h0.75v0.75h-0.75zM48.2 62.4h0.75v0.75h-0.75zM36.5 64.2h0.75v0.75h-0.75zM60.0 50.6h0.75v0.75h-0.75zM49.2 58.1h0.75v0.75h-0.75zM39.6 62.5h0.75v0.75h-0.75zM58.3 51.5h0.75v0.75h-0.75zM49.8 58.3h0.75v0.75h-0.75zM45.1 60.4h0.75v0.75h-0.75zM41.0 59.7h0.75v0.75h-0.75zM40.2 63.8h0.75v0.75h-0.75zM59.9 54.8h0.75v0.75h-0.75zM48.2 61.1h0.75v0.75h-0.75zM55.1 59.8h0.75v0.75h-0.75zM48.6 55.7h0.75v0.75h-0.75zM58.3 57.9h0.75v0.75h-0.75zM40.6 62.7h0.75v0.75h-0.75zM57.8 49.1h0.75v0.75h-0.75zM54.2 51.6h0.75v0.75h-0.75zM40.4 60.4h0.75v0.75h-0.75zM59.8 56.0h0.75v0.75h-0.75zM38.7 62.1h0.75v0.75h-0.75zM57.0 53.6h0.75v0.75h-0.75zM44.7 60.6h0.75v0.75h-0.75zM54.0 58.5h0.75v0.75h-0.75zM38.2 61.8h0.75v0.75h-0.75zM58.5 56.8h0.75v0.75h-0.75zM48.1 57.8h0.75v0.75h-0.75zM46.3 60.8h0.75v0.75h-0.75zM36.9 63.4h0.75v0.75h-0.75zM56.7 63.2h0.75v0.75h-0.75zM41.8 63.6h0.75v0.75h-0.75zM56.8 57.7h0.75v0.75h-0.75zM45.7 61.7h0.75v0.75h-0.75zM57.3 58.6h0.75v0.75h-0.75zM59.0 57.5h0.75v0.75h-0.75zM53.8 51.0h0.75v0.75h-0.75zM44.6 60.0h0.75v0.75h-0.75zM40.1 60.8h0.75v0.75h-0.75zM57.1 51.1h0.75v0.75h-0.75zM37.5 62.6h0.75v0.75h-0.75zM37.2 64.7h0.75v0.75h-0.75zM51.4 55.2h0.75v0.75h-0.75zM38.6 62.9h0.75v0.75h-0.75zM47.4 60.4h0.75v0.75h-0.75zM37.9 64.4h0.75v0.75h-0.75zM37.1 64.6h0.75v0.75h-0.75zM53.5 60.0h0.75v0.75h-0.75zM43.3 59.4h0.75v0.75h-0.75zM51.6 56.2h0.75v0.75h-0.75zM38.6 62.5h0.75v0.75h-0.75zM60.9 53.3h0.75v0.75h-0.75zM51.9 56.7h0.75v0.75h-0.75zM47.1 58.5h0.75v0.75h-0.75zM59.2 51.3h0.75v0.75h-0.75zM43.8 62.2h0.75v0.75h-0.75zM42.5 61.4h0.75v0.75h-0.75zM47.8 55.4h0.75v0.75h-0.75zM60.8 58.3h0.75v0.75h-0.75zM45.0 62.1h0.75v0.75h-0.75zM41.6 62.0h0.75v0.75h-0.75zM38.4 64.0h0.75v0.75h-0.75zM58.3 43.6h0.75v0.75h-0.75zM43.5 56.5h0.75v0.75h-0.75zM38.0 63.4h0.75v0.75h-0.75zM53.4 55.1h0.75v0.75h-0.75zM59.5 49.6h0.75v0.75h-0.75zM40.7 61.3h0.75v0.75h-0.75zM60.5 55.5h0.75v0.75h-0.75zM50.6 54.4h0.75v0.75h-0.75zM40.7 61.0h0.75v0.75h-0.75zM59.4 56.7h0.75v0.75h-0.75zM58.8 47.4h0.75v0.75h-0.75zM48.2 58.5h0.75v0.75h-0.75zM56.0 57.3h0.75v0.75h-0.75zM60.0 54.3h0.75v0.75h-0.75zM47.4 54.8h0.75v0.75h-0.75zM39.8 61.8h0.75v0.75h-0.75zM50.4 57.0h0.75v0.75h-0.75zM53.9 55.2h0.75v0.75h-0.75zM60.2 53.5h0.75v0.75h-0.75zM49.5 52.9h0.75v0.75h-0.75zM58.4 51.4h0.75v0.75h-0.75zM51.9 50.5h0.75v0.75h-0.75zM53.6 55.2h0.75v0.75h-0.75zM55.6 50.0h0.75v0.75h-0.75z" fill="#000" fill-opacity="0.4"/>
<path d="M39.3 50.4h0.7v0.7h-0.7zM40.1 61.7h0.7v0.7h-0.7zM37.1 61.3h0.7v0.7h-0.7zM38.0 55.8h0.7v0.7h-0.7zM36.8 58.1h0.7v0.7h-0.7zM39.9 59.8h0.7v0.7h-0.7zM28.9 59.6h0.7v0.7h-0.7zM38.2 58.4h0.7v0.7h-0.7zM32.0 62.9h0.7v0.7h-0.7zM32.1 56.0h0.7v0.7h-0.7zM37.2 55.7h0.7v0.7h-0.7zM35.6 55.9h0.7v0.7h-0.7zM40.8 49.5h0.7v0.7h-0.7zM41.7 55.9h0.7v0.7h-0.7zM27.0 59.4h0.7v0.7h-0.7zM36.3 58.6h0.7v0.7h-0.7zM45.1 56.5h0.7v0.7h-0.7zM40.0 59.6h0.7v0.7h-0.7zM43.9 52.0h0.7v0.7h-0.7zM37.4 56.9h0.7v0.7h-0.7zM30.8 58.4h0.7v0.7h-0.7zM31.9 59.3h0.7v0.7h-0.7zM40.1 55.7h0.7v0.7h-0.7zM39.9 61.7h0.7v0.7h-0.7zM32.7 63.6h0.7v0.7h-0.7zM36.0 56.1h0.7v0.7h-0.7zM37.3 60.5h0.7v0.7h-0.7zM31.0 51.0h0.7v0.7h-0.7zM36.8 50.8h0.7v0.7h-0.7zM42.7 61.1h0.7v0.7h-0.7zM45.3 59.6h0.7v0.7h-0.7zM36.2 58.4h0.7v0.7h-0.7zM44.4 57.2h0.7v0.7h-0.7zM34.9 56.4h0.7v0.7h-0.7zM33.1 59.9h0.7v0.7h-0.7zM26.8 61.9h0.7v0.7h-0.7zM40.7 57.8h0.7v0.7h-0.7zM36.5 51.8h0.7v0.7h-0.7zM45.1 64.0h0.7v0.7h-0.7zM37.7 60.1h0.7v0.7h-0.7zM37.1 60.3h0.7v0.7h-0.7zM29.6 57.0h0.7v0.7h-0.7zM41.1 66.9h0.7v0.7h-0.7zM35.3 57.8h0.7v0.7h-0.7zM35.8 59.4h0.7v0.7h-0.7z" fill="#000" fill-opacity="0.35"/>
<path d="M41.7 53.0h0.7v0.7h-0.7zM41.1 55.6h0.7v0.7h-0.7zM41.4 55.3h0.7v0.7h-0.7zM40.7 56.7h0.7v0.7h-0.7zM41.1 57.4h0.7v0.7h-0.7zM42.0 55.1h0.7v0.7h-0.7zM42.3 59.8h0.7v0.7h-0.7zM41.5 54.6h0.7v0.7h-0.7zM42.8 55.6h0.7v0.7h-0.7zM42.7 56.9h0.7v0.7h-0.7zM40.5 54.4h0.7v0.7h-0.7zM43.3 57.5h0.7v0.7h-0.7zM41.0 57.9h0.7v0.7h-0.7zM41.4 56.1h0.7v0.7h-0.7zM42.4 60.2h0.7v0.7h-0.7zM41.3 56.8h0.7v0.7h-0.7zM41.4 57.2h0.7v0.7h-0.7zM40.4 55.0h0.7v0.7h-0.7zM41.6 53.4h0.7v0.7h-0.7zM41.7 55.4h0.7v0.7h-0.7zM41.9 56.0h0.7v0.7h-0.7zM39.9 56.0h0.7v0.7h-0.7zM41.1 58.2h0.7v0.7h-0.7zM41.9 52.0h0.7v0.7h-0.7zM41.7 54.4h0.7v0.7h-0.7zM41.8 53.1h0.7v0.7h-0.7zM42.1 59.1h0.7v0.7h-0.7zM41.4 55.6h0.7v0.7h-0.7zM39.5 55.9h0.7v0.7h-0.7zM43.0 54.3h0.7v0.7h-0.7zM41.1 58.4h0.7v0.7h-0.7zM41.2 55.9h0.7v0.7h-0.7zM42.4 56.9h0.7v0.7h-0.7zM41.3 52.8h0.7v0.7h-0.7zM42.5 58.7h0.7v0.7h-0.7zM41.8 57.3h0.7v0.7h-0.7zM41.0 57.8h0.7v0.7h-0.7zM43.4 58.7h0.7v0.7h-0.7zM40.5 56.4h0.7v0.7h-0.7zM42.0 56.2h0.7v0.7h-0.7zM40.6 58.2h0.7v0.7h-0.7zM41.5 57.5h0.7v0.7h-0.7zM40.5 56.3h0.7v0.7h-0.7zM41.2 56.8h0.7v0.7h-0.7zM40.6 55.8h0.7v0.7h-0.7zM41.9 58.0h0.7v0.7h-0.7zM42.7 58.2h0.7v0.7h-0.7zM41.1 56.7h0.7v0.7h-0.7zM41.6 60.2h0.7v0.7h-0.7zM39.4 54.0h0.7v0.7h-0.7zM43.4 55.9h0.7v0.7h-0.7zM42.4 59.8h0.7v0.7h-0.7zM40.7 56.0h0.7v0.7h-0.7zM42.4 53.4h0.7v0.7h-0.7zM42.3 59.2h0.7v0.7h-0.7zM40.0 57.9h0.7v0.7h-0.7zM40.1 54.5h0.7v0.7h-0.7zM42.7 57.9h0.7v0.7h-0.7zM40.2 54.9h0.7v0.7h-0.7zM40.3 54.2h0.7v0.7h-0.7zM41.0 56.4h0.7v0.7h-0.7zM41.2 55.8h0.7v0.7h-0.7zM41.2 54.6h0.7v0.7h-0.7zM42.4 55.8h0.7v0.7h-0.7zM41.9 54.6h0.7v0.7h-0.7zM41.1 56.8h0.7v0.7h-0.7zM41.6 56.6h0.7v0.7h-0.7zM40.3 58.3h0.7v0.7h-0.7zM41.9 55.7h0.7v0.7h-0.7zM43.5 53.8h0.7v0.7h-0.7zM41.6 54.1h0.7v0.7h-0.7zM41.4 56.2h0.7v0.7h-0.7zM41.8 59.6h0.7v0.7h-0.7zM41.9 58.2h0.7v0.7h-0.7zM42.3 55.3h0.7v0.7h-0.7zM40.6 58.6h0.7v0.7h-0.7zM42.0 54.3h0.7v0.7h-0.7zM41.4 58.6h0.7v0.7h-0.7zM41.9 55.8h0.7v0.7h-0.7zM43.0 57.9h0.7v0.7h-0.7zM40.6 58.0h0.7v0.7h-0.7zM43.9 55.8h0.7v0.7h-0.7zM42.6 57.1h0.7v0.7h-0.7zM41.0 54.7h0.7v0.7h-0.7zM42.0 56.4h0.7v0.7h-0.7zM41.3 58.7h0.7v0.7h-0.7zM43.0 64.3h0.7v0.7h-0.7zM42.3 57.9h0.7v0.7h-0.7zM39.8 57.1h0.7v0.7h-0.7zM41.6 54.7h0.7v0.7h-0.7zM42.1 58.6h0.7v0.7h-0.7zM42.2 53.3h0.7v0.7h-0.7zM42.1 55.0h0.7v0.7h-0.7zM41.2 57.4h0.7v0.7h-0.7zM40.9 54.4h0.7v0.7h-0.7zM42.1 59.5h0.7v0.7h-0.7zM42.6 58.6h0.7v0.7h-0.7zM40.9 55.6h0.7v0.7h-0.7zM43.1 55.3h0.7v0.7h-0.7zM41.6 54.1h0.7v0.7h-0.7zM41.5 53.9h0.7v0.7h-0.7zM42.6 57.3h0.7v0.7h-0.7zM41.7 57.8h0.7v0.7h-0.7zM42.4 57.2h0.7v0.7h-0.7zM42.5 57.0h0.7v0.7h-0.7zM39.9 55.8h0.7v0.7h-0.7zM41.1 57.4h0.7v0.7h-0.7zM40.2 54.0h0.7v0.7h-0.7zM41.7 56.6h0.7v0.7h-0.7zM41.3 59.5h0.7v0.7h-0.7zM41.4 59.2h0.7v0.7h-0.7zM40.5 55.9h0.7v0.7h-0.7zM39.5 56.3h0.7v0.7h-0.7zM42.3 59.2h0.7v0.7h-0.7zM42.0 60.0h0.7v0.7h-0.7zM41.3 53.8h0.7v0.7h-0.7zM44.7 55.3h0.7v0.7h-0.7zM43.0 56.9h0.7v0.7h-0.7zM42.0 58.9h0.7v0.7h-0.7zM40.9 55.1h0.7v0.7h-0.7zM42.4 57.7h0.7v0.7h-0.7zM40.6 56.2h0.7v0.7h-0.7zM41.2 61.3h0.7v0.7h-0.7zM42.2 57.4h0.7v0.7h-0.7zM40.4 56.5h0.7v0.7h-0.7zM40.0 56.2h0.7v0.7h-0.7zM41.6 58.7h0.7v0.7h-0.7zM42.8 57.8h0.7v0.7h-0.7zM40.1 54.8h0.7v0.7h-0.7zM41.9 57.0h0.7v0.7h-0.7zM41.6 54.0h0.7v0.7h-0.7zM41.4 55.2h0.7v0.7h-0.7zM41.8 54.1h0.7v0.7h-0.7zM40.4 54.3h0.7v0.7h-0.7zM40.8 55.4h0.7v0.7h-0.7zM40.3 54.9h0.7v0.7h-0.7zM41.3 57.7h0.7v0.7h-0.7zM42.6 58.0h0.7v0.7h-0.7zM41.8 56.1h0.7v0.7h-0.7zM40.6 54.6h0.7v0.7h-0.7zM42.3 58.1h0.7v0.7h-0.7zM38.5 53.2h0.7v0.7h-0.7zM41.4 52.9h0.7v0.7h-0.7zM42.4 57.9h0.7v0.7h-0.7zM40.9 58.0h0.7v0.7h-0.7zM41.3 58.6h0.7v0.7h-0.7zM41.7 56.2h0.7v0.7h-0.7zM41.5 54.2h0.7v0.7h-0.7zM41.2 55.7h0.7v0.7h-0.7zM41.1 57.8h0.7v0.7h-0.7zM40.8 55.3h0.7v0.7h-0.7zM41.8 55.3h0.7v0.7h-0.7zM40.9 54.0h0.7v0.7h-0.7zM40.6 54.5h0.7v0.7h-0.7zM41.2 58.3h0.7v0.7h-0.7zM44.6 57.1h0.7v0.7h-0.7zM42.2 54.3h0.7v0.7h-0.7zM42.1 54.5h0.7v0.7h-0.7zM41.7 55.5h0.7v0.7h-0.7zM41.7 57.7h0.7v0.7h-0.7zM40.5 54.5h0.7v0.7h-0.7zM41.1 56.4h0.7v0.7h-0.7zM41.2 52.6h0.7v0.7h-0.7zM41.3 54.2h0.7v0.7h-0.7zM40.2 57.6h0.7v0.7h-0.7zM42.5 58.2h0.7v0.7h-0.7zM41.1 54.5h0.7v0.7h-0.7zM40.1 55.4h0.7v0.7h-0.7zM41.6 58.2h0.7v0.7h-0.7zM43.4 55.6h0.7v0.7h-0.7z" fill="#000" fill-opacity="0.72"/>
<path d="M43.9 60.6h0.7v0.7h-0.7zM41.9 61.9h0.7v0.7h-0.7zM42.8 60.4h0.7v0.7h-0.7zM45.1 62.2h0.7v0.7h-0.7zM44.3 59.6h0.7v0.7h-0.7zM42.4 60.8h0.7v0.7h-0.7zM44.8 61.8h0.7v0.7h-0.7zM44.2 59.8h0.7v0.7h-0.7zM43.3 60.2h0.7v0.7h-0.7zM43.8 60.1h0.7v0.7h-0.7zM43.3 62.0h0.7v0.7h-0.7zM42.5 59.6h0.7v0.7h-0.7zM41.9 61.3h0.7v0.7h-0.7zM42.6 63.1h0.7v0.7h-0.7zM40.8 60.9h0.7v0.7h-0.7zM40.8 57.9h0.7v0.7h-0.7zM45.8 61.6h0.7v0.7h-0.7zM42.2 62.2h0.7v0.7h-0.7zM43.0 60.4h0.7v0.7h-0.7zM42.4 62.4h0.7v0.7h-0.7zM42.9 61.7h0.7v0.7h-0.7zM42.9 61.4h0.7v0.7h-0.7zM43.2 60.5h0.7v0.7h-0.7zM41.4 59.7h0.7v0.7h-0.7zM45.1 60.8h0.7v0.7h-0.7zM41.5 60.6h0.7v0.7h-0.7zM45.1 62.0h0.7v0.7h-0.7zM38.7 60.6h0.7v0.7h-0.7zM40.8 59.9h0.7v0.7h-0.7zM45.1 61.3h0.7v0.7h-0.7zM42.6 61.3h0.7v0.7h-0.7zM42.0 58.1h0.7v0.7h-0.7zM44.0 59.8h0.7v0.7h-0.7zM41.0 59.2h0.7v0.7h-0.7zM43.2 60.6h0.7v0.7h-0.7zM38.3 59.5h0.7v0.7h-0.7zM42.1 60.2h0.7v0.7h-0.7zM41.9 59.3h0.7v0.7h-0.7zM44.0 62.0h0.7v0.7h-0.7zM44.8 61.6h0.7v0.7h-0.7zM41.6 58.0h0.7v0.7h-0.7zM46.5 61.5h0.7v0.7h-0.7zM42.0 58.9h0.7v0.7h-0.7zM38.1 62.4h0.7v0.7h-0.7zM38.0 59.1h0.7v0.7h-0.7zM46.4 60.9h0.7v0.7h-0.7zM42.8 60.9h0.7v0.7h-0.7zM41.7 60.2h0.7v0.7h-0.7zM41.4 60.4h0.7v0.7h-0.7zM40.2 62.6h0.7v0.7h-0.7zM45.8 61.7h0.7v0.7h-0.7zM42.6 62.0h0.7v0.7h-0.7zM46.5 63.3h0.7v0.7h-0.7zM42.9 59.3h0.7v0.7h-0.7zM37.4 62.3h0.7v0.7h-0.7zM44.6 62.2h0.7v0.7h-0.7zM41.9 62.1h0.7v0.7h-0.7zM42.7 59.5h0.7v0.7h-0.7zM46.1 62.7h0.7v0.7h-0.7zM42.3 61.3h0.7v0.7h-0.7zM45.7 60.5h0.7v0.7h-0.7zM42.3 64.2h0.7v0.7h-0.7zM41.2 61.3h0.7v0.7h-0.7zM44.2 60.7h0.7v0.7h-0.7zM41.6 60.9h0.7v0.7h-0.7zM45.4 62.7h0.7v0.7h-0.7zM44.7 62.9h0.7v0.7h-0.7zM43.0 61.7h0.7v0.7h-0.7zM44.0 62.9h0.7v0.7h-0.7zM43.8 63.2h0.7v0.7h-0.7z" fill="#000" fill-opacity="0.4"/>
<path d="M36.4 66.3h0.7v0.7h-0.7zM47.8 61.7h0.7v0.7h-0.7zM48.2 61.6h0.7v0.7h-0.7zM47.2 61.8h0.7v0.7h-0.7zM38.1 65.5h0.7v0.7h-0.7zM46.5 62.1h0.7v0.7h-0.7zM39.8 64.3h0.7v0.7h-0.7zM39.6 64.8h0.7v0.7h-0.7zM44.8 62.8h0.7v0.7h-0.7zM36.8 66.3h0.7v0.7h-0.7zM35.0 66.8h0.7v0.7h-0.7zM48.1 61.7h0.7v0.7h-0.7zM40.0 64.3h0.7v0.7h-0.7zM45.8 62.0h0.7v0.7h-0.7zM40.8 64.1h0.7v0.7h-0.7zM37.0 66.3h0.7v0.7h-0.7zM42.0 64.0h0.7v0.7h-0.7zM37.5 65.4h0.7v0.7h-0.7zM36.1 65.6h0.7v0.7h-0.7zM35.7 66.5h0.7v0.7h-0.7zM40.6 64.3h0.7v0.7h-0.7zM39.4 65.0h0.7v0.7h-0.7zM39.4 64.6h0.7v0.7h-0.7zM47.7 61.9h0.7v0.7h-0.7zM46.4 62.0h0.7v0.7h-0.7zM44.9 63.2h0.7v0.7h-0.7zM38.7 65.5h0.7v0.7h-0.7zM45.7 62.5h0.7v0.7h-0.7zM45.4 63.0h0.7v0.7h-0.7zM42.4 63.6h0.7v0.7h-0.7zM38.4 64.8h0.7v0.7h-0.7zM37.6 65.2h0.7v0.7h-0.7zM41.1 63.9h0.7v0.7h-0.7zM39.4 65.1h0.7v0.7h-0.7zM47.2 61.8h0.7v0.7h-0.7zM42.0 64.1h0.7v0.7h-0.7zM44.5 63.1h0.7v0.7h-0.7zM47.9 60.7h0.7v0.7h-0.7zM43.8 63.2h0.7v0.7h-0.7zM37.2 64.9h0.7v0.7h-0.7zM39.5 64.7h0.7v0.7h-0.7zM47.3 61.3h0.7v0.7h-0.7zM35.5 66.1h0.7v0.7h-0.7zM38.5 65.6h0.7v0.7h-0.7zM44.0 62.6h0.7v0.7h-0.7zM47.5 62.0h0.7v0.7h-0.7zM46.4 62.1h0.7v0.7h-0.7zM45.1 62.0h0.7v0.7h-0.7zM44.5 62.9h0.7v0.7h-0.7zM40.7 64.4h0.7v0.7h-0.7zM36.3 65.8h0.7v0.7h-0.7zM43.7 62.8h0.7v0.7h-0.7zM36.6 67.0h0.7v0.7h-0.7zM46.3 62.1h0.7v0.7h-0.7zM36.6 65.1h0.7v0.7h-0.7zM36.0 65.9h0.7v0.7h-0.7zM48.8 61.1h0.7v0.7h-0.7zM37.5 65.3h0.7v0.7h-0.7zM43.1 63.3h0.7v0.7h-0.7zM36.8 65.7h0.7v0.7h-0.7zM49.0 61.5h0.7v0.7h-0.7zM36.2 66.1h0.7v0.7h-0.7zM44.3 62.4h0.7v0.7h-0.7zM46.5 61.7h0.7v0.7h-0.7zM39.7 64.7h0.7v0.7h-0.7zM35.1 66.5h0.7v0.7h-0.7zM35.7 66.3h0.7v0.7h-0.7zM35.6 65.9h0.7v0.7h-0.7zM46.1 62.5h0.7v0.7h-0.7zM42.8 63.7h0.7v0.7h-0.7zM47.6 62.4h0.7v0.7h-0.7zM43.9 62.9h0.7v0.7h-0.7zM43.2 63.4h0.7v0.7h-0.7zM38.0 65.5h0.7v0.7h-0.7zM38.6 64.9h0.7v0.7h-0.7zM48.3 61.4h0.7v0.7h-0.7zM48.6 61.5h0.7v0.7h-0.7zM41.1 63.9h0.7v0.7h-0.7zM45.8 62.4h0.7v0.7h-0.7zM45.5 63.0h0.7v0.7h-0.7zM39.1 65.2h0.7v0.7h-0.7zM38.3 65.2h0.7v0.7h-0.7zM45.3 62.5h0.7v0.7h-0.7zM47.6 62.1h0.7v0.7h-0.7zM48.8 60.9h0.7v0.7h-0.7zM39.8 64.5h0.7v0.7h-0.7zM36.6 66.3h0.7v0.7h-0.7zM39.2 64.7h0.7v0.7h-0.7zM35.7 66.2h0.7v0.7h-0.7zM48.7 61.3h0.7v0.7h-0.7zM39.7 65.0h0.7v0.7h-0.7zM46.8 62.4h0.7v0.7h-0.7zM38.3 65.0h0.7v0.7h-0.7zM48.5 61.5h0.7v0.7h-0.7zM41.5 63.8h0.7v0.7h-0.7zM46.4 61.9h0.7v0.7h-0.7zM43.2 63.2h0.7v0.7h-0.7zM45.5 62.0h0.7v0.7h-0.7zM36.6 66.2h0.7v0.7h-0.7zM36.4 66.4h0.7v0.7h-0.7zM40.4 65.0h0.7v0.7h-0.7zM47.4 62.2h0.7v0.7h-0.7zM47.0 61.4h0.7v0.7h-0.7zM44.5 63.2h0.7v0.7h-0.7zM43.3 63.0h0.7v0.7h-0.7zM35.9 66.0h0.7v0.7h-0.7zM47.9 62.2h0.7v0.7h-0.7zM43.6 62.6h0.7v0.7h-0.7zM43.9 63.4h0.7v0.7h-0.7zM46.9 62.1h0.7v0.7h-0.7zM38.5 65.0h0.7v0.7h-0.7zM43.3 62.9h0.7v0.7h-0.7zM44.6 63.0h0.7v0.7h-0.7zM45.4 62.3h0.7v0.7h-0.7zM36.9 66.2h0.7v0.7h-0.7zM45.1 63.0h0.7v0.7h-0.7zM47.7 61.3h0.7v0.7h-0.7zM43.7 62.9h0.7v0.7h-0.7zM38.1 65.3h0.7v0.7h-0.7zM47.0 61.2h0.7v0.7h-0.7zM36.4 65.4h0.7v0.7h-0.7zM38.6 65.2h0.7v0.7h-0.7zM46.4 61.9h0.7v0.7h-0.7zM43.5 62.8h0.7v0.7h-0.7zM39.5 64.4h0.7v0.7h-0.7zM46.2 62.4h0.7v0.7h-0.7zM43.8 62.6h0.7v0.7h-0.7zM36.8 65.4h0.7v0.7h-0.7zM38.6 65.6h0.7v0.7h-0.7zM46.2 62.6h0.7v0.7h-0.7zM46.1 61.6h0.7v0.7h-0.7zM37.1 65.5h0.7v0.7h-0.7zM42.4 63.8h0.7v0.7h-0.7zM44.6 62.3h0.7v0.7h-0.7zM40.1 64.6h0.7v0.7h-0.7zM36.5 65.8h0.7v0.7h-0.7zM41.4 64.4h0.7v0.7h-0.7zM48.5 60.7h0.7v0.7h-0.7zM44.9 61.9h0.7v0.7h-0.7zM38.6 64.8h0.7v0.7h-0.7zM47.1 62.3h0.7v0.7h-0.7zM44.3 62.8h0.7v0.7h-0.7zM39.4 64.3h0.7v0.7h-0.7zM38.0 65.1h0.7v0.7h-0.7zM37.6 65.6h0.7v0.7h-0.7zM41.4 64.2h0.7v0.7h-0.7zM39.7 64.4h0.7v0.7h-0.7zM39.1 65.0h0.7v0.7h-0.7zM47.2 62.2h0.7v0.7h-0.7zM45.8 62.5h0.7v0.7h-0.7z" fill="#000" fill-opacity="0.75"/>
<rect x="26" y="71.5" width="41.75" height="46.00" fill="#fff" stroke="#4a4a4a" stroke-width="1.0"/>
<path d="M46.8 112.4h0.6v0.6h-0.6zM62.9 108.9h0.6v0.6h-0.6zM64.4 109.0h0.6v0.6h-0.6zM37.2 115.3h0.6v0.6h-0.6zM41.9 109.7h0.6v0.6h-0.6zM34.5 115.9h0.6v0.6h-0.6zM66.4 106.9h0.6v0.6h-0.6zM59.0 112.4h0.6v0.6h-0.6zM46.9 110.5h0.6v0.6h-0.6zM66.2 101.0h0.6v0.6h-0.6zM63.0 102.7h0.6v0.6h-0.6zM51.4 106.8h0.6v0.6h-0.6zM60.2 113.9h0.6v0.6h-0.6zM62.0 105.3h0.6v0.6h-0.6zM49.4 113.5h0.6v0.6h-0.6zM50.4 105.5h0.6v0.6h-0.6zM57.4 107.4h0.6v0.6h-0.6zM61.7 110.0h0.6v0.6h-0.6zM59.2 97.1h0.6v0.6h-0.6zM58.9 107.9h0.6v0.6h-0.6zM43.2 108.1h0.6v0.6h-0.6zM51.4 106.4h0.6v0.6h-0.6zM35.6 116.1h0.6v0.6h-0.6zM33.4 115.3h0.6v0.6h-0.6zM47.6 114.0h0.6v0.6h-0.6zM51.9 112.1h0.6v0.6h-0.6zM60.3 110.9h0.6v0.6h-0.6zM37.9 114.8h0.6v0.6h-0.6zM64.0 108.1h0.6v0.6h-0.6zM41.1 110.8h0.6v0.6h-0.6zM53.9 105.5h0.6v0.6h-0.6zM64.0 102.9h0.6v0.6h-0.6zM40.4 110.9h0.6v0.6h-0.6zM56.5 113.2h0.6v0.6h-0.6zM47.4 110.4h0.6v0.6h-0.6zM35.7 115.8h0.6v0.6h-0.6zM46.4 110.6h0.6v0.6h-0.6zM59.4 101.7h0.6v0.6h-0.6zM42.1 109.3h0.6v0.6h-0.6zM56.4 106.6h0.6v0.6h-0.6zM59.6 101.7h0.6v0.6h-0.6zM41.6 109.1h0.6v0.6h-0.6zM38.0 116.1h0.6v0.6h-0.6zM66.3 105.2h0.6v0.6h-0.6zM45.3 112.8h0.6v0.6h-0.6zM56.3 104.2h0.6v0.6h-0.6zM52.2 114.0h0.6v0.6h-0.6zM57.0 110.8h0.6v0.6h-0.6zM50.1 113.1h0.6v0.6h-0.6zM42.9 113.4h0.6v0.6h-0.6zM57.5 105.1h0.6v0.6h-0.6zM60.2 109.0h0.6v0.6h-0.6zM52.1 109.4h0.6v0.6h-0.6zM47.6 107.7h0.6v0.6h-0.6zM44.8 113.4h0.6v0.6h-0.6zM36.8 115.7h0.6v0.6h-0.6zM47.6 107.9h0.6v0.6h-0.6zM56.1 108.6h0.6v0.6h-0.6zM55.0 100.1h0.6v0.6h-0.6zM54.8 111.3h0.6v0.6h-0.6zM58.1 112.6h0.6v0.6h-0.6zM56.6 106.2h0.6v0.6h-0.6zM54.4 111.1h0.6v0.6h-0.6zM35.2 114.9h0.6v0.6h-0.6zM46.4 107.3h0.6v0.6h-0.6zM48.9 113.3h0.6v0.6h-0.6zM62.4 102.2h0.6v0.6h-0.6zM51.7 99.9h0.6v0.6h-0.6zM45.4 111.6h0.6v0.6h-0.6zM40.8 114.7h0.6v0.6h-0.6zM56.5 105.0h0.6v0.6h-0.6zM45.4 113.8h0.6v0.6h-0.6zM45.7 114.8h0.6v0.6h-0.6zM54.5 110.5h0.6v0.6h-0.6zM54.3 107.3h0.6v0.6h-0.6zM56.3 112.6h0.6v0.6h-0.6zM38.4 113.8h0.6v0.6h-0.6zM52.7 110.3h0.6v0.6h-0.6zM46.0 111.6h0.6v0.6h-0.6zM52.4 107.3h0.6v0.6h-0.6zM62.4 106.4h0.6v0.6h-0.6zM50.8 108.8h0.6v0.6h-0.6zM39.4 113.8h0.6v0.6h-0.6zM40.7 114.4h0.6v0.6h-0.6zM48.4 113.7h0.6v0.6h-0.6zM50.7 101.9h0.6v0.6h-0.6zM57.4 98.9h0.6v0.6h-0.6zM53.6 100.8h0.6v0.6h-0.6zM65.2 110.0h0.6v0.6h-0.6zM41.5 113.2h0.6v0.6h-0.6zM50.3 110.5h0.6v0.6h-0.6zM42.8 111.1h0.6v0.6h-0.6zM65.5 93.7h0.6v0.6h-0.6zM41.8 111.3h0.6v0.6h-0.6zM61.9 104.6h0.6v0.6h-0.6zM55.4 103.3h0.6v0.6h-0.6zM65.4 106.1h0.6v0.6h-0.6zM50.8 104.1h0.6v0.6h-0.6zM59.1 100.1h0.6v0.6h-0.6zM58.0 105.9h0.6v0.6h-0.6zM52.1 109.0h0.6v0.6h-0.6zM55.2 107.2h0.6v0.6h-0.6zM56.3 113.4h0.6v0.6h-0.6zM60.6 108.5h0.6v0.6h-0.6zM38.3 113.9h0.6v0.6h-0.6zM49.8 107.9h0.6v0.6h-0.6zM52.9 110.8h0.6v0.6h-0.6zM38.0 111.6h0.6v0.6h-0.6zM61.6 113.2h0.6v0.6h-0.6zM43.4 109.0h0.6v0.6h-0.6zM36.2 114.4h0.6v0.6h-0.6zM64.9 98.7h0.6v0.6h-0.6zM50.0 107.5h0.6v0.6h-0.6zM62.7 95.8h0.6v0.6h-0.6zM61.9 106.4h0.6v0.6h-0.6zM40.5 114.1h0.6v0.6h-0.6zM64.7 104.3h0.6v0.6h-0.6zM47.2 112.7h0.6v0.6h-0.6zM41.7 114.2h0.6v0.6h-0.6zM37.1 116.1h0.6v0.6h-0.6zM66.0 95.3h0.6v0.6h-0.6zM44.2 114.2h0.6v0.6h-0.6zM57.5 108.0h0.6v0.6h-0.6zM53.4 110.3h0.6v0.6h-0.6zM56.6 103.0h0.6v0.6h-0.6zM64.1 104.1h0.6v0.6h-0.6zM35.5 114.1h0.6v0.6h-0.6zM37.2 114.2h0.6v0.6h-0.6zM59.1 109.2h0.6v0.6h-0.6zM57.9 105.1h0.6v0.6h-0.6zM55.9 111.1h0.6v0.6h-0.6zM48.7 103.3h0.6v0.6h-0.6zM60.0 113.7h0.6v0.6h-0.6zM37.6 115.2h0.6v0.6h-0.6zM35.4 115.7h0.6v0.6h-0.6zM55.7 105.6h0.6v0.6h-0.6zM54.3 114.9h0.6v0.6h-0.6zM40.6 114.1h0.6v0.6h-0.6zM63.8 109.3h0.6v0.6h-0.6zM53.9 101.3h0.6v0.6h-0.6zM40.1 114.0h0.6v0.6h-0.6zM47.0 106.7h0.6v0.6h-0.6zM56.4 108.0h0.6v0.6h-0.6zM45.7 111.7h0.6v0.6h-0.6zM54.9 100.4h0.6v0.6h-0.6zM49.5 111.4h0.6v0.6h-0.6zM40.1 115.0h0.6v0.6h-0.6zM43.3 113.6h0.6v0.6h-0.6zM44.0 113.9h0.6v0.6h-0.6zM56.2 109.6h0.6v0.6h-0.6zM63.8 112.7h0.6v0.6h-0.6zM36.7 115.9h0.6v0.6h-0.6zM37.1 114.9h0.6v0.6h-0.6zM59.5 105.6h0.6v0.6h-0.6zM42.3 108.2h0.6v0.6h-0.6zM53.5 101.3h0.6v0.6h-0.6zM64.2 104.8h0.6v0.6h-0.6zM60.3 100.3h0.6v0.6h-0.6zM62.1 112.9h0.6v0.6h-0.6zM60.1 103.6h0.6v0.6h-0.6zM52.9 112.9h0.6v0.6h-0.6zM49.1 104.5h0.6v0.6h-0.6zM63.3 109.2h0.6v0.6h-0.6zM62.1 107.8h0.6v0.6h-0.6zM47.3 110.9h0.6v0.6h-0.6zM64.0 99.3h0.6v0.6h-0.6zM46.9 108.6h0.6v0.6h-0.6zM59.9 109.6h0.6v0.6h-0.6zM36.5 115.4h0.6v0.6h-0.6zM44.0 113.0h0.6v0.6h-0.6zM63.8 106.3h0.6v0.6h-0.6zM46.9 113.9h0.6v0.6h-0.6zM55.1 109.2h0.6v0.6h-0.6zM62.4 106.2h0.6v0.6h-0.6zM41.9 111.2h0.6v0.6h-0.6zM43.6 110.8h0.6v0.6h-0.6zM62.7 105.5h0.6v0.6h-0.6zM53.2 107.0h0.6v0.6h-0.6zM44.4 115.4h0.6v0.6h-0.6zM56.1 103.5h0.6v0.6h-0.6zM47.3 113.0h0.6v0.6h-0.6zM39.1 113.3h0.6v0.6h-0.6zM53.2 100.6h0.6v0.6h-0.6zM38.2 114.7h0.6v0.6h-0.6zM56.7 113.4h0.6v0.6h-0.6zM56.4 108.3h0.6v0.6h-0.6zM59.8 100.9h0.6v0.6h-0.6zM35.1 115.2h0.6v0.6h-0.6zM52.9 107.2h0.6v0.6h-0.6zM48.2 110.6h0.6v0.6h-0.6zM58.5 95.7h0.6v0.6h-0.6zM50.0 105.1h0.6v0.6h-0.6zM65.4 100.1h0.6v0.6h-0.6zM44.9 111.4h0.6v0.6h-0.6zM55.0 109.4h0.6v0.6h-0.6zM64.0 112.0h0.6v0.6h-0.6zM33.5 114.6h0.6v0.6h-0.6zM51.4 108.5h0.6v0.6h-0.6zM40.8 115.3h0.6v0.6h-0.6zM35.9 113.8h0.6v0.6h-0.6zM43.3 112.1h0.6v0.6h-0.6zM42.6 113.6h0.6v0.6h-0.6zM57.6 109.0h0.6v0.6h-0.6zM49.2 108.4h0.6v0.6h-0.6zM57.1 109.7h0.6v0.6h-0.6zM56.7 104.7h0.6v0.6h-0.6zM40.8 109.6h0.6v0.6h-0.6zM43.1 114.1h0.6v0.6h-0.6zM58.5 108.0h0.6v0.6h-0.6zM55.0 112.7h0.6v0.6h-0.6zM57.4 103.8h0.6v0.6h-0.6zM38.4 114.2h0.6v0.6h-0.6zM61.5 108.1h0.6v0.6h-0.6zM40.7 114.0h0.6v0.6h-0.6zM62.4 113.9h0.6v0.6h-0.6zM50.5 103.2h0.6v0.6h-0.6zM39.8 112.9h0.6v0.6h-0.6zM36.7 114.0h0.6v0.6h-0.6zM64.1 104.9h0.6v0.6h-0.6zM57.7 102.1h0.6v0.6h-0.6zM35.9 113.7h0.6v0.6h-0.6zM53.0 106.2h0.6v0.6h-0.6zM49.2 113.5h0.6v0.6h-0.6zM42.5 112.9h0.6v0.6h-0.6zM51.9 103.3h0.6v0.6h-0.6zM53.2 100.7h0.6v0.6h-0.6zM55.3 106.0h0.6v0.6h-0.6zM46.3 105.7h0.6v0.6h-0.6zM55.6 105.2h0.6v0.6h-0.6zM51.8 110.4h0.6v0.6h-0.6zM55.3 101.9h0.6v0.6h-0.6zM34.8 115.4h0.6v0.6h-0.6zM65.6 93.2h0.6v0.6h-0.6zM47.1 106.2h0.6v0.6h-0.6zM61.6 109.6h0.6v0.6h-0.6zM60.2 111.5h0.6v0.6h-0.6zM63.2 109.8h0.6v0.6h-0.6zM35.6 115.8h0.6v0.6h-0.6zM62.5 110.7h0.6v0.6h-0.6zM44.9 107.4h0.6v0.6h-0.6zM45.6 107.2h0.6v0.6h-0.6zM50.6 110.0h0.6v0.6h-0.6zM60.1 94.3h0.6v0.6h-0.6zM65.8 105.6h0.6v0.6h-0.6zM49.7 108.2h0.6v0.6h-0.6zM46.1 110.5h0.6v0.6h-0.6zM52.6 104.8h0.6v0.6h-0.6zM43.3 111.8h0.6v0.6h-0.6zM51.6 102.3h0.6v0.6h-0.6zM62.0 106.2h0.6v0.6h-0.6zM49.5 104.7h0.6v0.6h-0.6zM46.0 106.8h0.6v0.6h-0.6zM56.7 101.0h0.6v0.6h-0.6zM43.0 111.8h0.6v0.6h-0.6zM60.5 107.1h0.6v0.6h-0.6zM58.2 112.9h0.6v0.6h-0.6zM55.1 112.0h0.6v0.6h-0.6zM40.3 112.3h0.6v0.6h-0.6zM58.5 105.9h0.6v0.6h-0.6zM43.2 111.9h0.6v0.6h-0.6zM66.5 96.3h0.6v0.6h-0.6zM55.0 104.2h0.6v0.6h-0.6zM58.4 114.7h0.6v0.6h-0.6zM48.9 110.2h0.6v0.6h-0.6zM63.6 100.4h0.6v0.6h-0.6zM43.7 111.0h0.6v0.6h-0.6zM55.2 113.9h0.6v0.6h-0.6zM63.0 107.4h0.6v0.6h-0.6zM52.8 109.2h0.6v0.6h-0.6zM60.5 105.6h0.6v0.6h-0.6zM38.3 111.1h0.6v0.6h-0.6zM62.8 110.1h0.6v0.6h-0.6zM55.1 103.9h0.6v0.6h-0.6zM51.8 108.7h0.6v0.6h-0.6zM58.9 114.5h0.6v0.6h-0.6zM58.2 106.9h0.6v0.6h-0.6zM44.3 109.8h0.6v0.6h-0.6zM53.4 108.9h0.6v0.6h-0.6zM41.7 113.2h0.6v0.6h-0.6zM53.0 108.9h0.6v0.6h-0.6zM61.1 100.6h0.6v0.6h-0.6zM55.5 98.3h0.6v0.6h-0.6zM55.4 103.9h0.6v0.6h-0.6zM45.8 109.9h0.6v0.6h-0.6zM63.2 90.8h0.6v0.6h-0.6zM60.1 106.0h0.6v0.6h-0.6zM57.2 106.9h0.6v0.6h-0.6zM48.0 114.2h0.6v0.6h-0.6zM54.1 99.5h0.6v0.6h-0.6zM56.9 109.6h0.6v0.6h-0.6zM38.7 114.7h0.6v0.6h-0.6zM65.4 102.6h0.6v0.6h-0.6zM55.9 106.9h0.6v0.6h-0.6zM43.6 112.9h0.6v0.6h-0.6zM49.5 106.1h0.6v0.6h-0.6zM65.5 99.6h0.6v0.6h-0.6zM66.2 100.1h0.6v0.6h-0.6zM47.4 115.2h0.6v0.6h-0.6zM34.7 116.1h0.6v0.6h-0.6zM63.5 92.5h0.6v0.6h-0.6zM38.9 114.9h0.6v0.6h-0.6zM58.9 98.3h0.6v0.6h-0.6zM49.9 111.6h0.6v0.6h-0.6zM66.4 111.8h0.6v0.6h-0.6zM41.0 115.3h0.6v0.6h-0.6zM44.3 112.6h0.6v0.6h-0.6zM41.1 112.6h0.6v0.6h-0.6zM51.4 114.9h0.6v0.6h-0.6zM47.2 103.7h0.6v0.6h-0.6zM55.6 108.6h0.6v0.6h-0.6zM54.4 109.2h0.6v0.6h-0.6zM51.3 110.2h0.6v0.6h-0.6zM36.5 113.1h0.6v0.6h-0.6zM51.2 106.8h0.6v0.6h-0.6zM51.1 102.9h0.6v0.6h-0.6zM39.7 110.8h0.6v0.6h-0.6zM45.9 111.5h0.6v0.6h-0.6zM43.4 114.1h0.6v0.6h-0.6zM49.7 107.8h0.6v0.6h-0.6zM63.0 113.7h0.6v0.6h-0.6zM63.0 109.6h0.6v0.6h-0.6zM55.9 108.9h0.6v0.6h-0.6zM43.9 112.8h0.6v0.6h-0.6zM35.4 116.3h0.6v0.6h-0.6zM58.1 104.7h0.6v0.6h-0.6zM56.9 106.1h0.6v0.6h-0.6zM55.4 113.4h0.6v0.6h-0.6zM47.7 111.7h0.6v0.6h-0.6zM33.7 115.3h0.6v0.6h-0.6zM56.5 106.7h0.6v0.6h-0.6zM46.6 112.3h0.6v0.6h-0.6zM59.3 104.1h0.6v0.6h-0.6zM48.4 109.3h0.6v0.6h-0.6zM56.8 113.0h0.6v0.6h-0.6zM35.6 113.7h0.6v0.6h-0.6zM66.2 106.8h0.6v0.6h-0.6zM60.1 96.6h0.6v0.6h-0.6zM44.3 113.0h0.6v0.6h-0.6zM65.5 112.4h0.6v0.6h-0.6zM61.4 106.7h0.6v0.6h-0.6zM62.0 107.3h0.6v0.6h-0.6zM47.8 112.7h0.6v0.6h-0.6zM43.1 111.8h0.6v0.6h-0.6zM65.8 106.1h0.6v0.6h-0.6zM65.4 108.8h0.6v0.6h-0.6zM52.2 100.5h0.6v0.6h-0.6zM53.1 110.6h0.6v0.6h-0.6zM47.7 113.9h0.6v0.6h-0.6zM37.2 116.0h0.6v0.6h-0.6zM40.1 111.9h0.6v0.6h-0.6zM39.7 113.5h0.6v0.6h-0.6zM48.8 109.1h0.6v0.6h-0.6zM55.0 109.4h0.6v0.6h-0.6zM60.1 105.0h0.6v0.6h-0.6zM55.7 109.6h0.6v0.6h-0.6zM61.1 98.5h0.6v0.6h-0.6zM45.7 112.4h0.6v0.6h-0.6zM52.8 109.8h0.6v0.6h-0.6zM53.4 110.9h0.6v0.6h-0.6zM42.8 113.9h0.6v0.6h-0.6zM47.2 102.9h0.6v0.6h-0.6zM63.9 92.6h0.6v0.6h-0.6zM53.9 114.3h0.6v0.6h-0.6zM33.7 114.9h0.6v0.6h-0.6zM55.6 111.9h0.6v0.6h-0.6zM40.5 115.7h0.6v0.6h-0.6zM52.6 111.8h0.6v0.6h-0.6zM60.2 109.3h0.6v0.6h-0.6zM41.5 113.9h0.6v0.6h-0.6zM41.7 108.9h0.6v0.6h-0.6zM51.9 114.5h0.6v0.6h-0.6zM53.3 111.9h0.6v0.6h-0.6zM59.2 103.8h0.6v0.6h-0.6zM44.6 110.0h0.6v0.6h-0.6zM61.3 91.1h0.6v0.6h-0.6zM49.0 108.1h0.6v0.6h-0.6zM40.6 111.5h0.6v0.6h-0.6zM42.9 110.3h0.6v0.6h-0.6zM50.1 113.0h0.6v0.6h-0.6zM45.9 113.4h0.6v0.6h-0.6zM65.7 98.4h0.6v0.6h-0.6zM39.8 114.2h0.6v0.6h-0.6zM55.9 110.6h0.6v0.6h-0.6zM52.0 102.8h0.6v0.6h-0.6zM50.5 102.8h0.6v0.6h-0.6zM65.4 111.0h0.6v0.6h-0.6zM46.6 111.9h0.6v0.6h-0.6zM48.9 109.4h0.6v0.6h-0.6zM35.4 115.0h0.6v0.6h-0.6zM64.3 102.2h0.6v0.6h-0.6zM57.2 111.9h0.6v0.6h-0.6zM51.3 111.4h0.6v0.6h-0.6zM60.3 112.9h0.6v0.6h-0.6zM58.1 104.1h0.6v0.6h-0.6zM46.5 107.7h0.6v0.6h-0.6zM63.0 99.7h0.6v0.6h-0.6zM33.5 115.2h0.6v0.6h-0.6zM59.5 109.6h0.6v0.6h-0.6zM34.3 115.8h0.6v0.6h-0.6zM34.2 116.1h0.6v0.6h-0.6zM58.8 112.5h0.6v0.6h-0.6zM58.4 102.7h0.6v0.6h-0.6zM49.3 108.9h0.6v0.6h-0.6zM59.7 104.4h0.6v0.6h-0.6zM49.1 105.2h0.6v0.6h-0.6zM57.4 113.2h0.6v0.6h-0.6zM50.4 108.9h0.6v0.6h-0.6zM40.1 112.4h0.6v0.6h-0.6zM47.9 111.5h0.6v0.6h-0.6zM52.8 109.7h0.6v0.6h-0.6zM63.2 110.5h0.6v0.6h-0.6zM51.7 108.4h0.6v0.6h-0.6zM46.1 114.0h0.6v0.6h-0.6zM66.1 105.0h0.6v0.6h-0.6zM34.9 114.7h0.6v0.6h-0.6zM45.4 112.2h0.6v0.6h-0.6zM49.9 101.2h0.6v0.6h-0.6zM57.0 107.8h0.6v0.6h-0.6zM54.9 109.9h0.6v0.6h-0.6zM59.0 103.5h0.6v0.6h-0.6zM39.5 115.5h0.6v0.6h-0.6zM38.1 112.1h0.6v0.6h-0.6zM49.0 113.6h0.6v0.6h-0.6zM50.5 115.8h0.6v0.6h-0.6zM53.8 106.4h0.6v0.6h-0.6zM65.0 109.3h0.6v0.6h-0.6zM46.1 104.9h0.6v0.6h-0.6zM42.5 113.7h0.6v0.6h-0.6zM40.5 111.6h0.6v0.6h-0.6zM63.7 100.0h0.6v0.6h-0.6zM49.1 113.5h0.6v0.6h-0.6zM56.4 104.0h0.6v0.6h-0.6zM53.1 113.9h0.6v0.6h-0.6zM59.9 101.5h0.6v0.6h-0.6zM62.8 97.7h0.6v0.6h-0.6zM43.4 109.1h0.6v0.6h-0.6zM54.5 112.5h0.6v0.6h-0.6zM50.6 109.7h0.6v0.6h-0.6zM58.5 108.6h0.6v0.6h-0.6zM45.2 108.2h0.6v0.6h-0.6zM60.6 111.3h0.6v0.6h-0.6zM56.0 101.7h0.6v0.6h-0.6zM60.0 107.4h0.6v0.6h-0.6zM37.2 114.3h0.6v0.6h-0.6zM43.2 110.3h0.6v0.6h-0.6zM55.9 110.1h0.6v0.6h-0.6zM41.9 109.6h0.6v0.6h-0.6zM45.2 111.6h0.6v0.6h-0.6zM38.4 115.0h0.6v0.6h-0.6zM38.0 109.8h0.6v0.6h-0.6zM57.8 98.5h0.6v0.6h-0.6zM52.3 112.6h0.6v0.6h-0.6zM51.9 106.0h0.6v0.6h-0.6zM51.0 109.6h0.6v0.6h-0.6zM52.4 105.8h0.6v0.6h-0.6zM51.2 112.4h0.6v0.6h-0.6zM64.8 99.0h0.6v0.6h-0.6zM51.3 103.6h0.6v0.6h-0.6zM49.7 104.1h0.6v0.6h-0.6zM57.9 108.1h0.6v0.6h-0.6zM47.4 111.8h0.6v0.6h-0.6zM38.4 113.5h0.6v0.6h-0.6zM48.2 112.2h0.6v0.6h-0.6zM66.2 109.4h0.6v0.6h-0.6zM38.5 114.7h0.6v0.6h-0.6zM55.6 112.4h0.6v0.6h-0.6zM53.7 100.2h0.6v0.6h-0.6zM52.3 114.9h0.6v0.6h-0.6zM37.8 115.0h0.6v0.6h-0.6zM45.6 113.1h0.6v0.6h-0.6zM66.1 102.7h0.6v0.6h-0.6zM35.5 115.6h0.6v0.6h-0.6zM44.0 113.0h0.6v0.6h-0.6zM39.4 114.8h0.6v0.6h-0.6zM57.2 106.4h0.6v0.6h-0.6zM35.0 115.8h0.6v0.6h-0.6zM62.5 99.6h0.6v0.6h-0.6zM43.8 113.9h0.6v0.6h-0.6zM66.4 108.0h0.6v0.6h-0.6zM34.3 115.8h0.6v0.6h-0.6zM40.0 114.2h0.6v0.6h-0.6zM62.2 93.7h0.6v0.6h-0.6zM43.6 111.8h0.6v0.6h-0.6zM43.6 112.1h0.6v0.6h-0.6zM63.8 112.4h0.6v0.6h-0.6zM34.4 116.1h0.6v0.6h-0.6zM61.4 108.7h0.6v0.6h-0.6zM46.2 114.1h0.6v0.6h-0.6zM60.4 106.2h0.6v0.6h-0.6zM47.8 115.9h0.6v0.6h-0.6zM37.9 114.0h0.6v0.6h-0.6zM39.8 115.5h0.6v0.6h-0.6zM62.0 107.6h0.6v0.6h-0.6zM39.7 110.9h0.6v0.6h-0.6zM66.3 110.2h0.6v0.6h-0.6zM34.6 116.0h0.6v0.6h-0.6zM46.7 112.1h0.6v0.6h-0.6zM43.6 110.6h0.6v0.6h-0.6zM55.0 101.9h0.6v0.6h-0.6zM34.5 115.8h0.6v0.6h-0.6zM51.4 101.7h0.6v0.6h-0.6zM61.4 107.3h0.6v0.6h-0.6zM66.1 111.3h0.6v0.6h-0.6zM48.4 113.7h0.6v0.6h-0.6zM47.5 108.7h0.6v0.6h-0.6zM61.5 98.1h0.6v0.6h-0.6zM38.9 111.6h0.6v0.6h-0.6zM39.9 115.1h0.6v0.6h-0.6zM55.3 109.1h0.6v0.6h-0.6zM36.2 115.9h0.6v0.6h-0.6zM60.4 110.3h0.6v0.6h-0.6zM40.1 110.6h0.6v0.6h-0.6zM47.8 110.6h0.6v0.6h-0.6zM65.0 113.6h0.6v0.6h-0.6zM40.8 113.9h0.6v0.6h-0.6zM50.7 105.0h0.6v0.6h-0.6zM46.0 111.6h0.6v0.6h-0.6zM45.9 115.1h0.6v0.6h-0.6zM38.0 115.5h0.6v0.6h-0.6zM52.2 109.0h0.6v0.6h-0.6zM46.8 111.0h0.6v0.6h-0.6zM63.4 96.5h0.6v0.6h-0.6zM62.2 109.5h0.6v0.6h-0.6zM59.0 101.7h0.6v0.6h-0.6zM59.7 112.4h0.6v0.6h-0.6zM49.9 114.0h0.6v0.6h-0.6zM63.5 112.3h0.6v0.6h-0.6zM33.5 115.5h0.6v0.6h-0.6zM65.2 104.2h0.6v0.6h-0.6zM44.4 110.4h0.6v0.6h-0.6zM43.3 111.4h0.6v0.6h-0.6zM64.3 99.0h0.6v0.6h-0.6zM61.4 106.0h0.6v0.6h-0.6zM49.2 111.7h0.6v0.6h-0.6zM46.5 108.6h0.6v0.6h-0.6zM62.6 106.7h0.6v0.6h-0.6zM40.0 113.5h0.6v0.6h-0.6zM57.6 105.3h0.6v0.6h-0.6zM66.4 94.4h0.6v0.6h-0.6zM36.2 115.6h0.6v0.6h-0.6zM41.9 114.5h0.6v0.6h-0.6zM40.0 112.0h0.6v0.6h-0.6zM61.2 108.7h0.6v0.6h-0.6zM53.0 107.4h0.6v0.6h-0.6zM60.8 108.7h0.6v0.6h-0.6zM39.9 111.1h0.6v0.6h-0.6zM45.4 112.4h0.6v0.6h-0.6zM48.4 107.9h0.6v0.6h-0.6zM37.0 115.3h0.6v0.6h-0.6zM34.7 115.2h0.6v0.6h-0.6zM56.4 109.7h0.6v0.6h-0.6zM65.4 97.5h0.6v0.6h-0.6zM49.1 104.5h0.6v0.6h-0.6zM64.2 108.8h0.6v0.6h-0.6zM59.7 103.0h0.6v0.6h-0.6zM56.0 109.5h0.6v0.6h-0.6zM45.6 111.8h0.6v0.6h-0.6zM44.7 113.9h0.6v0.6h-0.6zM43.6 115.9h0.6v0.6h-0.6zM61.5 107.3h0.6v0.6h-0.6zM35.9 113.4h0.6v0.6h-0.6zM56.3 103.1h0.6v0.6h-0.6zM51.8 110.8h0.6v0.6h-0.6zM63.4 93.4h0.6v0.6h-0.6zM58.0 108.1h0.6v0.6h-0.6zM45.6 109.1h0.6v0.6h-0.6zM40.3 109.9h0.6v0.6h-0.6zM56.1 108.8h0.6v0.6h-0.6zM43.4 113.5h0.6v0.6h-0.6zM58.2 100.4h0.6v0.6h-0.6zM48.3 109.6h0.6v0.6h-0.6zM34.1 115.9h0.6v0.6h-0.6zM47.2 111.0h0.6v0.6h-0.6zM46.3 112.7h0.6v0.6h-0.6zM54.2 99.7h0.6v0.6h-0.6zM39.9 111.5h0.6v0.6h-0.6zM55.4 105.5h0.6v0.6h-0.6zM39.4 114.0h0.6v0.6h-0.6zM34.6 115.9h0.6v0.6h-0.6zM50.0 106.0h0.6v0.6h-0.6zM37.6 113.4h0.6v0.6h-0.6zM58.0 106.2h0.6v0.6h-0.6zM60.3 103.4h0.6v0.6h-0.6zM65.3 111.3h0.6v0.6h-0.6zM44.1 113.0h0.6v0.6h-0.6zM41.2 116.1h0.6v0.6h-0.6zM55.2 106.2h0.6v0.6h-0.6zM43.8 114.8h0.6v0.6h-0.6zM35.6 116.2h0.6v0.6h-0.6zM66.3 99.7h0.6v0.6h-0.6zM52.2 112.2h0.6v0.6h-0.6zM35.6 116.3h0.6v0.6h-0.6zM36.5 115.1h0.6v0.6h-0.6zM58.1 102.8h0.6v0.6h-0.6zM37.9 115.5h0.6v0.6h-0.6zM65.1 103.2h0.6v0.6h-0.6zM34.9 116.2h0.6v0.6h-0.6zM55.3 96.8h0.6v0.6h-0.6zM48.9 109.2h0.6v0.6h-0.6zM41.8 108.5h0.6v0.6h-0.6zM51.5 106.0h0.6v0.6h-0.6zM58.7 106.1h0.6v0.6h-0.6zM64.8 103.6h0.6v0.6h-0.6zM46.4 109.6h0.6v0.6h-0.6zM64.6 115.8h0.6v0.6h-0.6zM47.3 115.2h0.6v0.6h-0.6zM46.6 114.3h0.6v0.6h-0.6zM62.8 99.2h0.6v0.6h-0.6zM47.8 112.7h0.6v0.6h-0.6zM49.9 111.4h0.6v0.6h-0.6zM46.8 109.4h0.6v0.6h-0.6zM39.3 112.7h0.6v0.6h-0.6zM55.5 103.4h0.6v0.6h-0.6zM36.0 114.2h0.6v0.6h-0.6zM57.2 107.8h0.6v0.6h-0.6zM55.2 100.6h0.6v0.6h-0.6zM44.5 112.1h0.6v0.6h-0.6zM46.8 104.4h0.6v0.6h-0.6zM50.9 104.2h0.6v0.6h-0.6zM50.5 114.4h0.6v0.6h-0.6zM65.5 110.5h0.6v0.6h-0.6zM36.1 114.6h0.6v0.6h-0.6zM55.0 102.8h0.6v0.6h-0.6zM48.3 114.4h0.6v0.6h-0.6zM53.7 107.9h0.6v0.6h-0.6zM48.7 105.3h0.6v0.6h-0.6zM50.9 112.1h0.6v0.6h-0.6zM66.2 105.3h0.6v0.6h-0.6zM65.4 107.3h0.6v0.6h-0.6zM60.4 108.3h0.6v0.6h-0.6zM46.2 106.8h0.6v0.6h-0.6zM52.0 107.9h0.6v0.6h-0.6zM44.3 110.3h0.6v0.6h-0.6zM33.7 114.8h0.6v0.6h-0.6zM42.1 114.2h0.6v0.6h-0.6zM66.0 102.7h0.6v0.6h-0.6zM66.5 111.1h0.6v0.6h-0.6zM56.1 104.5h0.6v0.6h-0.6zM45.2 109.7h0.6v0.6h-0.6zM49.6 113.2h0.6v0.6h-0.6zM59.9 104.2h0.6v0.6h-0.6zM47.0 111.3h0.6v0.6h-0.6zM39.7 114.0h0.6v0.6h-0.6zM46.2 115.4h0.6v0.6h-0.6zM48.0 110.4h0.6v0.6h-0.6zM64.2 101.0h0.6v0.6h-0.6zM34.0 116.3h0.6v0.6h-0.6zM45.4 108.9h0.6v0.6h-0.6zM64.4 109.1h0.6v0.6h-0.6zM33.7 114.7h0.6v0.6h-0.6zM44.0 113.0h0.6v0.6h-0.6zM40.7 114.8h0.6v0.6h-0.6zM61.3 94.5h0.6v0.6h-0.6zM59.1 113.2h0.6v0.6h-0.6zM40.7 111.4h0.6v0.6h-0.6zM51.5 112.4h0.6v0.6h-0.6zM35.5 114.2h0.6v0.6h-0.6zM56.3 107.5h0.6v0.6h-0.6zM59.3 104.6h0.6v0.6h-0.6zM45.7 113.5h0.6v0.6h-0.6zM42.7 113.1h0.6v0.6h-0.6zM63.5 103.1h0.6v0.6h-0.6zM37.4 115.0h0.6v0.6h-0.6zM44.8 110.6h0.6v0.6h-0.6zM45.8 112.9h0.6v0.6h-0.6zM46.1 107.4h0.6v0.6h-0.6zM39.9 115.3h0.6v0.6h-0.6zM43.6 108.1h0.6v0.6h-0.6zM39.1 111.5h0.6v0.6h-0.6zM46.9 113.0h0.6v0.6h-0.6zM46.5 106.9h0.6v0.6h-0.6zM52.0 103.9h0.6v0.6h-0.6zM55.2 103.7h0.6v0.6h-0.6zM51.0 108.6h0.6v0.6h-0.6zM64.1 107.5h0.6v0.6h-0.6zM63.1 109.3h0.6v0.6h-0.6zM47.6 107.8h0.6v0.6h-0.6zM46.7 114.6h0.6v0.6h-0.6zM45.4 109.0h0.6v0.6h-0.6zM60.1 98.3h0.6v0.6h-0.6zM63.9 110.4h0.6v0.6h-0.6zM38.4 112.3h0.6v0.6h-0.6zM55.2 100.7h0.6v0.6h-0.6zM54.5 108.8h0.6v0.6h-0.6zM42.1 116.0h0.6v0.6h-0.6zM64.6 108.6h0.6v0.6h-0.6zM40.6 115.5h0.6v0.6h-0.6zM34.0 115.9h0.6v0.6h-0.6zM55.2 109.6h0.6v0.6h-0.6zM38.3 113.8h0.6v0.6h-0.6zM45.0 113.3h0.6v0.6h-0.6zM41.0 114.1h0.6v0.6h-0.6zM40.0 109.9h0.6v0.6h-0.6zM66.1 98.5h0.6v0.6h-0.6zM45.0 110.1h0.6v0.6h-0.6zM37.6 111.8h0.6v0.6h-0.6zM40.1 110.8h0.6v0.6h-0.6zM46.3 113.1h0.6v0.6h-0.6zM63.2 109.4h0.6v0.6h-0.6zM42.4 112.6h0.6v0.6h-0.6zM39.1 116.2h0.6v0.6h-0.6zM52.8 105.3h0.6v0.6h-0.6zM45.4 114.3h0.6v0.6h-0.6zM40.6 109.7h0.6v0.6h-0.6zM36.7 114.6h0.6v0.6h-0.6zM37.4 110.7h0.6v0.6h-0.6zM66.5 111.4h0.6v0.6h-0.6zM53.4 110.3h0.6v0.6h-0.6zM63.9 111.5h0.6v0.6h-0.6zM51.2 111.3h0.6v0.6h-0.6zM53.3 109.6h0.6v0.6h-0.6zM38.2 115.4h0.6v0.6h-0.6zM63.2 107.5h0.6v0.6h-0.6zM63.7 101.5h0.6v0.6h-0.6zM51.2 107.1h0.6v0.6h-0.6zM57.9 102.1h0.6v0.6h-0.6zM52.2 112.5h0.6v0.6h-0.6zM47.6 110.9h0.6v0.6h-0.6zM38.0 116.0h0.6v0.6h-0.6zM57.5 98.6h0.6v0.6h-0.6zM46.6 112.1h0.6v0.6h-0.6zM44.1 112.3h0.6v0.6h-0.6zM44.7 109.1h0.6v0.6h-0.6zM46.4 115.4h0.6v0.6h-0.6zM42.6 113.9h0.6v0.6h-0.6zM52.5 106.7h0.6v0.6h-0.6zM49.1 110.9h0.6v0.6h-0.6zM38.7 114.3h0.6v0.6h-0.6zM53.1 105.6h0.6v0.6h-0.6zM46.9 110.9h0.6v0.6h-0.6zM60.5 113.9h0.6v0.6h-0.6zM60.1 104.6h0.6v0.6h-0.6zM42.2 115.3h0.6v0.6h-0.6zM65.0 95.7h0.6v0.6h-0.6zM65.2 112.3h0.6v0.6h-0.6zM62.8 112.4h0.6v0.6h-0.6zM43.5 112.1h0.6v0.6h-0.6zM50.7 111.9h0.6v0.6h-0.6zM34.2 116.1h0.6v0.6h-0.6zM64.8 106.4h0.6v0.6h-0.6zM34.9 115.4h0.6v0.6h-0.6zM55.7 107.9h0.6v0.6h-0.6zM36.4 115.9h0.6v0.6h-0.6zM65.5 100.0h0.6v0.6h-0.6zM55.7 103.9h0.6v0.6h-0.6zM59.2 112.4h0.6v0.6h-0.6zM55.9 106.6h0.6v0.6h-0.6zM36.0 115.9h0.6v0.6h-0.6zM45.9 104.4h0.6v0.6h-0.6zM59.5 103.1h0.6v0.6h-0.6zM41.2 110.6h0.6v0.6h-0.6zM55.7 110.6h0.6v0.6h-0.6zM35.2 115.0h0.6v0.6h-0.6zM52.1 109.9h0.6v0.6h-0.6zM58.8 103.0h0.6v0.6h-0.6zM64.9 96.7h0.6v0.6h-0.6zM60.3 109.2h0.6v0.6h-0.6zM46.9 109.4h0.6v0.6h-0.6zM52.8 114.2h0.6v0.6h-0.6zM37.9 113.6h0.6v0.6h-0.6zM44.9 113.0h0.6v0.6h-0.6zM33.3 115.2h0.6v0.6h-0.6zM65.2 99.9h0.6v0.6h-0.6zM61.5 97.3h0.6v0.6h-0.6zM51.1 110.2h0.6v0.6h-0.6zM42.2 108.2h0.6v0.6h-0.6zM42.7 112.8h0.6v0.6h-0.6zM44.7 110.8h0.6v0.6h-0.6zM64.1 112.4h0.6v0.6h-0.6zM52.0 111.3h0.6v0.6h-0.6zM65.5 104.6h0.6v0.6h-0.6zM41.5 115.5h0.6v0.6h-0.6zM57.3 107.2h0.6v0.6h-0.6zM64.6 109.4h0.6v0.6h-0.6zM43.0 112.7h0.6v0.6h-0.6zM42.2 116.0h0.6v0.6h-0.6zM51.8 104.9h0.6v0.6h-0.6zM43.8 108.7h0.6v0.6h-0.6zM37.7 116.2h0.6v0.6h-0.6zM44.7 110.3h0.6v0.6h-0.6zM53.8 101.7h0.6v0.6h-0.6zM63.8 103.3h0.6v0.6h-0.6zM44.7 112.3h0.6v0.6h-0.6zM61.9 107.6h0.6v0.6h-0.6zM33.3 116.3h0.6v0.6h-0.6zM56.1 104.2h0.6v0.6h-0.6zM63.0 100.9h0.6v0.6h-0.6zM36.0 114.2h0.6v0.6h-0.6zM62.8 105.7h0.6v0.6h-0.6zM58.0 94.9h0.6v0.6h-0.6zM50.9 112.0h0.6v0.6h-0.6zM64.0 99.0h0.6v0.6h-0.6zM48.8 109.2h0.6v0.6h-0.6zM35.8 116.1h0.6v0.6h-0.6zM66.1 101.2h0.6v0.6h-0.6zM61.3 105.4h0.6v0.6h-0.6zM38.3 111.3h0.6v0.6h-0.6zM47.6 111.8h0.6v0.6h-0.6zM46.8 113.7h0.6v0.6h-0.6zM65.3 94.0h0.6v0.6h-0.6zM36.7 111.8h0.6v0.6h-0.6zM56.0 110.4h0.6v0.6h-0.6zM65.4 104.6h0.6v0.6h-0.6zM53.2 105.5h0.6v0.6h-0.6zM48.3 112.6h0.6v0.6h-0.6zM37.1 115.1h0.6v0.6h-0.6zM61.5 109.9h0.6v0.6h-0.6zM65.1 98.9h0.6v0.6h-0.6zM51.4 111.9h0.6v0.6h-0.6zM45.0 111.4h0.6v0.6h-0.6zM38.5 114.4h0.6v0.6h-0.6zM66.5 100.4h0.6v0.6h-0.6zM65.2 110.2h0.6v0.6h-0.6zM47.2 115.9h0.6v0.6h-0.6zM56.7 105.7h0.6v0.6h-0.6zM60.5 107.0h0.6v0.6h-0.6zM51.1 114.4h0.6v0.6h-0.6zM50.3 110.7h0.6v0.6h-0.6zM47.5 115.2h0.6v0.6h-0.6zM63.0 106.6h0.6v0.6h-0.6zM63.2 109.8h0.6v0.6h-0.6zM63.3 105.5h0.6v0.6h-0.6zM35.7 115.8h0.6v0.6h-0.6zM53.4 105.5h0.6v0.6h-0.6zM44.9 110.3h0.6v0.6h-0.6zM57.3 101.0h0.6v0.6h-0.6zM57.5 107.5h0.6v0.6h-0.6zM43.1 115.1h0.6v0.6h-0.6zM65.7 89.4h0.6v0.6h-0.6zM34.8 116.2h0.6v0.6h-0.6zM53.7 106.3h0.6v0.6h-0.6zM65.7 104.0h0.6v0.6h-0.6zM51.2 108.4h0.6v0.6h-0.6zM39.3 114.2h0.6v0.6h-0.6zM45.4 113.0h0.6v0.6h-0.6zM60.2 106.2h0.6v0.6h-0.6zM58.7 108.0h0.6v0.6h-0.6zM44.1 115.1h0.6v0.6h-0.6zM53.6 112.6h0.6v0.6h-0.6zM48.8 113.1h0.6v0.6h-0.6zM37.9 114.2h0.6v0.6h-0.6zM51.2 106.2h0.6v0.6h-0.6zM62.9 102.3h0.6v0.6h-0.6zM47.3 105.3h0.6v0.6h-0.6zM54.1 116.1h0.6v0.6h-0.6zM41.4 113.7h0.6v0.6h-0.6zM57.4 109.0h0.6v0.6h-0.6zM56.5 105.0h0.6v0.6h-0.6zM55.5 106.1h0.6v0.6h-0.6zM45.0 109.5h0.6v0.6h-0.6zM55.6 109.8h0.6v0.6h-0.6zM51.2 108.5h0.6v0.6h-0.6zM56.9 110.9h0.6v0.6h-0.6zM35.4 116.3h0.6v0.6h-0.6zM54.3 109.7h0.6v0.6h-0.6zM64.9 113.6h0.6v0.6h-0.6zM58.9 98.2h0.6v0.6h-0.6zM64.4 104.5h0.6v0.6h-0.6zM39.4 116.1h0.6v0.6h-0.6zM38.4 113.7h0.6v0.6h-0.6zM46.0 110.3h0.6v0.6h-0.6zM64.9 110.6h0.6v0.6h-0.6zM59.9 109.5h0.6v0.6h-0.6zM65.6 106.0h0.6v0.6h-0.6zM42.8 113.5h0.6v0.6h-0.6zM61.4 97.4h0.6v0.6h-0.6zM61.8 100.7h0.6v0.6h-0.6zM50.5 115.5h0.6v0.6h-0.6zM38.4 114.8h0.6v0.6h-0.6zM59.6 106.4h0.6v0.6h-0.6zM54.5 110.3h0.6v0.6h-0.6zM42.3 110.9h0.6v0.6h-0.6zM60.5 109.2h0.6v0.6h-0.6zM64.9 104.8h0.6v0.6h-0.6zM50.9 100.2h0.6v0.6h-0.6zM49.9 110.9h0.6v0.6h-0.6zM37.9 114.1h0.6v0.6h-0.6zM54.5 103.4h0.6v0.6h-0.6zM38.1 113.5h0.6v0.6h-0.6zM48.6 109.4h0.6v0.6h-0.6zM49.6 113.4h0.6v0.6h-0.6zM64.6 107.7h0.6v0.6h-0.6zM56.5 106.6h0.6v0.6h-0.6zM36.3 115.0h0.6v0.6h-0.6zM63.0 104.9h0.6v0.6h-0.6zM48.0 113.7h0.6v0.6h-0.6zM57.7 101.3h0.6v0.6h-0.6zM62.2 103.7h0.6v0.6h-0.6zM48.1 113.2h0.6v0.6h-0.6zM47.9 111.8h0.6v0.6h-0.6zM53.4 106.7h0.6v0.6h-0.6zM57.9 108.2h0.6v0.6h-0.6zM45.8 114.0h0.6v0.6h-0.6zM41.5 115.1h0.6v0.6h-0.6zM47.1 115.2h0.6v0.6h-0.6zM35.7 116.0h0.6v0.6h-0.6zM38.7 112.6h0.6v0.6h-0.6zM64.6 102.9h0.6v0.6h-0.6zM59.4 112.0h0.6v0.6h-0.6zM48.8 113.5h0.6v0.6h-0.6zM41.0 115.2h0.6v0.6h-0.6zM66.2 93.7h0.6v0.6h-0.6zM55.3 100.8h0.6v0.6h-0.6zM55.9 112.6h0.6v0.6h-0.6zM61.2 99.2h0.6v0.6h-0.6zM44.8 110.1h0.6v0.6h-0.6zM48.0 107.9h0.6v0.6h-0.6zM33.9 114.8h0.6v0.6h-0.6zM62.1 108.7h0.6v0.6h-0.6zM64.8 110.7h0.6v0.6h-0.6zM44.3 112.3h0.6v0.6h-0.6zM66.3 98.8h0.6v0.6h-0.6zM35.4 116.0h0.6v0.6h-0.6zM45.7 113.2h0.6v0.6h-0.6zM33.9 114.2h0.6v0.6h-0.6zM42.6 110.3h0.6v0.6h-0.6zM44.0 110.0h0.6v0.6h-0.6zM63.0 95.8h0.6v0.6h-0.6zM57.6 95.4h0.6v0.6h-0.6zM36.4 111.4h0.6v0.6h-0.6zM50.3 107.5h0.6v0.6h-0.6zM49.6 114.3h0.6v0.6h-0.6zM48.5 108.6h0.6v0.6h-0.6zM36.7 112.5h0.6v0.6h-0.6zM45.2 109.2h0.6v0.6h-0.6zM63.5 112.5h0.6v0.6h-0.6zM54.1 110.5h0.6v0.6h-0.6zM53.9 103.7h0.6v0.6h-0.6zM49.7 104.2h0.6v0.6h-0.6zM37.3 113.4h0.6v0.6h-0.6zM62.9 105.1h0.6v0.6h-0.6zM36.0 115.2h0.6v0.6h-0.6zM39.7 112.0h0.6v0.6h-0.6zM55.4 109.6h0.6v0.6h-0.6zM49.9 110.3h0.6v0.6h-0.6zM51.8 113.8h0.6v0.6h-0.6zM38.6 112.4h0.6v0.6h-0.6zM33.5 115.3h0.6v0.6h-0.6zM59.6 108.6h0.6v0.6h-0.6zM41.3 111.8h0.6v0.6h-0.6zM49.7 114.6h0.6v0.6h-0.6zM42.4 114.8h0.6v0.6h-0.6zM41.4 114.8h0.6v0.6h-0.6zM49.9 107.3h0.6v0.6h-0.6zM58.5 94.5h0.6v0.6h-0.6zM58.1 106.9h0.6v0.6h-0.6zM63.9 114.3h0.6v0.6h-0.6zM60.0 111.5h0.6v0.6h-0.6zM59.8 113.0h0.6v0.6h-0.6zM58.6 109.4h0.6v0.6h-0.6zM40.7 116.2h0.6v0.6h-0.6zM59.3 101.9h0.6v0.6h-0.6zM41.4 113.4h0.6v0.6h-0.6zM41.9 113.9h0.6v0.6h-0.6zM58.7 109.5h0.6v0.6h-0.6zM39.3 115.2h0.6v0.6h-0.6zM64.0 103.8h0.6v0.6h-0.6zM42.1 115.6h0.6v0.6h-0.6zM51.5 110.7h0.6v0.6h-0.6zM44.4 113.2h0.6v0.6h-0.6zM49.6 114.6h0.6v0.6h-0.6zM64.0 113.0h0.6v0.6h-0.6zM46.9 106.4h0.6v0.6h-0.6zM49.4 101.9h0.6v0.6h-0.6zM51.5 109.7h0.6v0.6h-0.6zM41.2 116.1h0.6v0.6h-0.6zM65.1 101.8h0.6v0.6h-0.6zM47.3 106.7h0.6v0.6h-0.6zM57.6 104.5h0.6v0.6h-0.6zM61.4 102.0h0.6v0.6h-0.6zM40.3 113.1h0.6v0.6h-0.6zM53.9 102.8h0.6v0.6h-0.6zM63.8 109.9h0.6v0.6h-0.6zM55.7 110.0h0.6v0.6h-0.6zM63.3 106.8h0.6v0.6h-0.6zM45.5 107.2h0.6v0.6h-0.6zM45.8 111.0h0.6v0.6h-0.6zM48.9 108.3h0.6v0.6h-0.6zM40.3 108.5h0.6v0.6h-0.6zM43.1 113.2h0.6v0.6h-0.6zM38.0 114.8h0.6v0.6h-0.6zM63.2 103.4h0.6v0.6h-0.6zM55.8 106.4h0.6v0.6h-0.6zM49.4 106.2h0.6v0.6h-0.6zM64.6 102.3h0.6v0.6h-0.6zM64.6 113.0h0.6v0.6h-0.6zM37.4 116.2h0.6v0.6h-0.6zM58.8 100.0h0.6v0.6h-0.6zM63.7 104.9h0.6v0.6h-0.6zM38.7 113.9h0.6v0.6h-0.6zM66.3 100.2h0.6v0.6h-0.6zM37.6 116.3h0.6v0.6h-0.6zM38.1 114.6h0.6v0.6h-0.6zM53.0 109.1h0.6v0.6h-0.6zM49.0 105.1h0.6v0.6h-0.6zM49.7 105.9h0.6v0.6h-0.6zM56.1 110.4h0.6v0.6h-0.6zM46.9 107.0h0.6v0.6h-0.6zM39.0 113.5h0.6v0.6h-0.6zM53.8 113.1h0.6v0.6h-0.6zM51.5 110.9h0.6v0.6h-0.6zM41.1 113.3h0.6v0.6h-0.6zM48.6 108.0h0.6v0.6h-0.6zM41.6 116.3h0.6v0.6h-0.6zM41.6 112.8h0.6v0.6h-0.6zM65.2 103.2h0.6v0.6h-0.6zM37.4 114.8h0.6v0.6h-0.6zM39.0 115.8h0.6v0.6h-0.6zM34.0 114.0h0.6v0.6h-0.6zM40.6 111.7h0.6v0.6h-0.6zM64.8 112.6h0.6v0.6h-0.6zM55.8 109.4h0.6v0.6h-0.6zM59.4 106.2h0.6v0.6h-0.6zM61.1 111.3h0.6v0.6h-0.6zM42.6 109.3h0.6v0.6h-0.6zM53.6 105.6h0.6v0.6h-0.6zM49.1 114.8h0.6v0.6h-0.6zM56.8 110.3h0.6v0.6h-0.6zM46.4 113.8h0.6v0.6h-0.6zM44.8 108.1h0.6v0.6h-0.6zM61.0 109.8h0.6v0.6h-0.6zM65.5 111.0h0.6v0.6h-0.6zM63.6 104.1h0.6v0.6h-0.6zM66.0 98.5h0.6v0.6h-0.6zM46.4 110.4h0.6v0.6h-0.6zM62.4 99.8h0.6v0.6h-0.6zM56.4 104.4h0.6v0.6h-0.6zM36.8 114.4h0.6v0.6h-0.6zM62.9 103.7h0.6v0.6h-0.6zM51.9 107.7h0.6v0.6h-0.6zM59.1 104.9h0.6v0.6h-0.6zM59.0 106.0h0.6v0.6h-0.6zM37.1 115.9h0.6v0.6h-0.6zM60.5 103.5h0.6v0.6h-0.6zM56.9 106.2h0.6v0.6h-0.6zM45.7 114.5h0.6v0.6h-0.6zM52.9 101.1h0.6v0.6h-0.6zM47.3 113.2h0.6v0.6h-0.6zM48.6 106.2h0.6v0.6h-0.6zM51.1 112.6h0.6v0.6h-0.6zM59.9 104.2h0.6v0.6h-0.6zM62.6 96.4h0.6v0.6h-0.6zM62.9 113.1h0.6v0.6h-0.6zM54.0 107.7h0.6v0.6h-0.6zM37.3 116.2h0.6v0.6h-0.6zM47.4 107.8h0.6v0.6h-0.6zM46.8 106.9h0.6v0.6h-0.6zM44.4 109.7h0.6v0.6h-0.6zM63.3 112.8h0.6v0.6h-0.6zM33.8 115.9h0.6v0.6h-0.6zM55.6 109.3h0.6v0.6h-0.6zM64.3 105.5h0.6v0.6h-0.6zM43.3 111.5h0.6v0.6h-0.6zM35.2 116.2h0.6v0.6h-0.6zM60.3 111.2h0.6v0.6h-0.6zM40.3 114.7h0.6v0.6h-0.6zM37.5 113.9h0.6v0.6h-0.6zM46.3 108.4h0.6v0.6h-0.6zM43.6 109.2h0.6v0.6h-0.6zM55.3 105.6h0.6v0.6h-0.6zM54.7 111.3h0.6v0.6h-0.6zM55.9 103.0h0.6v0.6h-0.6zM61.2 100.8h0.6v0.6h-0.6zM52.9 111.2h0.6v0.6h-0.6zM53.6 111.3h0.6v0.6h-0.6zM55.3 112.1h0.6v0.6h-0.6zM49.4 106.7h0.6v0.6h-0.6zM37.4 113.9h0.6v0.6h-0.6zM55.4 103.9h0.6v0.6h-0.6zM36.3 115.3h0.6v0.6h-0.6zM48.3 112.9h0.6v0.6h-0.6zM55.4 111.7h0.6v0.6h-0.6zM39.1 114.2h0.6v0.6h-0.6zM62.6 109.4h0.6v0.6h-0.6zM48.9 110.2h0.6v0.6h-0.6zM62.8 95.0h0.6v0.6h-0.6zM48.5 112.1h0.6v0.6h-0.6zM55.2 110.1h0.6v0.6h-0.6zM55.5 103.9h0.6v0.6h-0.6zM42.9 108.1h0.6v0.6h-0.6zM45.6 105.4h0.6v0.6h-0.6zM64.9 104.7h0.6v0.6h-0.6zM35.9 115.8h0.6v0.6h-0.6zM45.2 115.3h0.6v0.6h-0.6zM58.7 96.9h0.6v0.6h-0.6zM60.0 106.0h0.6v0.6h-0.6zM43.0 111.4h0.6v0.6h-0.6zM56.6 103.1h0.6v0.6h-0.6zM43.1 107.6h0.6v0.6h-0.6zM61.0 104.5h0.6v0.6h-0.6zM41.6 115.1h0.6v0.6h-0.6zM38.0 115.9h0.6v0.6h-0.6zM63.9 106.9h0.6v0.6h-0.6zM57.4 105.4h0.6v0.6h-0.6zM63.7 105.0h0.6v0.6h-0.6zM57.7 108.7h0.6v0.6h-0.6zM49.0 107.6h0.6v0.6h-0.6zM64.3 102.6h0.6v0.6h-0.6zM36.0 115.8h0.6v0.6h-0.6zM40.0 114.3h0.6v0.6h-0.6zM42.2 110.9h0.6v0.6h-0.6zM34.2 115.5h0.6v0.6h-0.6zM58.9 109.0h0.6v0.6h-0.6zM38.4 112.9h0.6v0.6h-0.6zM46.6 109.6h0.6v0.6h-0.6zM59.8 109.0h0.6v0.6h-0.6zM53.6 110.4h0.6v0.6h-0.6zM57.4 107.5h0.6v0.6h-0.6zM38.2 115.7h0.6v0.6h-0.6zM58.6 111.7h0.6v0.6h-0.6zM34.4 115.8h0.6v0.6h-0.6zM62.8 103.4h0.6v0.6h-0.6zM59.5 105.7h0.6v0.6h-0.6zM36.5 114.7h0.6v0.6h-0.6zM38.5 115.5h0.6v0.6h-0.6zM38.3 114.3h0.6v0.6h-0.6zM61.5 106.0h0.6v0.6h-0.6zM55.4 98.7h0.6v0.6h-0.6zM65.2 91.8h0.6v0.6h-0.6zM41.6 114.6h0.6v0.6h-0.6zM61.4 104.7h0.6v0.6h-0.6zM47.4 106.2h0.6v0.6h-0.6zM41.2 110.8h0.6v0.6h-0.6zM56.3 110.0h0.6v0.6h-0.6zM63.9 106.3h0.6v0.6h-0.6zM53.7 108.7h0.6v0.6h-0.6zM60.9 102.8h0.6v0.6h-0.6zM50.0 113.2h0.6v0.6h-0.6zM58.7 97.0h0.6v0.6h-0.6zM59.3 103.4h0.6v0.6h-0.6zM46.5 105.6h0.6v0.6h-0.6zM59.4 114.2h0.6v0.6h-0.6zM51.8 115.0h0.6v0.6h-0.6zM34.0 115.9h0.6v0.6h-0.6zM60.7 101.8h0.6v0.6h-0.6zM45.7 110.7h0.6v0.6h-0.6zM48.0 105.3h0.6v0.6h-0.6zM60.8 93.2h0.6v0.6h-0.6zM54.3 106.8h0.6v0.6h-0.6zM36.1 112.9h0.6v0.6h-0.6zM39.9 112.8h0.6v0.6h-0.6zM59.2 111.5h0.6v0.6h-0.6zM44.2 110.2h0.6v0.6h-0.6zM64.3 99.2h0.6v0.6h-0.6zM65.6 104.2h0.6v0.6h-0.6zM34.6 114.4h0.6v0.6h-0.6zM49.4 103.4h0.6v0.6h-0.6zM50.7 109.9h0.6v0.6h-0.6zM63.4 101.0h0.6v0.6h-0.6zM56.9 109.1h0.6v0.6h-0.6zM35.3 113.2h0.6v0.6h-0.6zM62.3 98.7h0.6v0.6h-0.6zM44.5 110.0h0.6v0.6h-0.6zM66.1 103.0h0.6v0.6h-0.6zM63.5 110.6h0.6v0.6h-0.6zM47.5 108.3h0.6v0.6h-0.6zM56.5 102.8h0.6v0.6h-0.6zM46.1 115.6h0.6v0.6h-0.6zM49.1 110.9h0.6v0.6h-0.6zM47.0 114.6h0.6v0.6h-0.6zM66.0 106.9h0.6v0.6h-0.6zM59.2 103.9h0.6v0.6h-0.6zM35.8 113.6h0.6v0.6h-0.6zM37.2 115.7h0.6v0.6h-0.6zM44.7 114.8h0.6v0.6h-0.6zM59.0 107.4h0.6v0.6h-0.6zM63.0 108.1h0.6v0.6h-0.6zM39.0 112.9h0.6v0.6h-0.6zM44.7 108.3h0.6v0.6h-0.6zM48.9 113.8h0.6v0.6h-0.6zM37.2 112.9h0.6v0.6h-0.6zM32.7 115.7h0.6v0.6h-0.6zM55.2 111.9h0.6v0.6h-0.6zM39.9 114.8h0.6v0.6h-0.6zM54.5 114.2h0.6v0.6h-0.6zM34.4 114.6h0.6v0.6h-0.6zM60.2 105.8h0.6v0.6h-0.6zM55.9 112.9h0.6v0.6h-0.6zM54.7 109.5h0.6v0.6h-0.6zM56.1 104.3h0.6v0.6h-0.6zM41.2 116.2h0.6v0.6h-0.6zM53.4 109.7h0.6v0.6h-0.6zM54.3 110.8h0.6v0.6h-0.6zM38.3 115.8h0.6v0.6h-0.6zM52.5 113.0h0.6v0.6h-0.6zM55.9 108.3h0.6v0.6h-0.6zM63.1 106.8h0.6v0.6h-0.6zM61.0 110.3h0.6v0.6h-0.6zM47.1 110.4h0.6v0.6h-0.6zM53.5 109.1h0.6v0.6h-0.6zM54.6 113.2h0.6v0.6h-0.6zM39.7 113.5h0.6v0.6h-0.6zM47.8 104.8h0.6v0.6h-0.6zM41.7 113.5h0.6v0.6h-0.6zM65.9 104.1h0.6v0.6h-0.6zM49.6 107.2h0.6v0.6h-0.6zM47.6 112.0h0.6v0.6h-0.6zM41.2 115.2h0.6v0.6h-0.6zM64.8 108.2h0.6v0.6h-0.6zM54.8 106.0h0.6v0.6h-0.6zM41.3 112.5h0.6v0.6h-0.6zM63.6 108.1h0.6v0.6h-0.6zM56.4 103.6h0.6v0.6h-0.6zM61.3 98.0h0.6v0.6h-0.6zM37.1 116.3h0.6v0.6h-0.6zM49.4 104.6h0.6v0.6h-0.6zM36.7 116.1h0.6v0.6h-0.6zM41.0 115.5h0.6v0.6h-0.6zM45.6 111.7h0.6v0.6h-0.6zM63.0 108.0h0.6v0.6h-0.6zM50.2 111.6h0.6v0.6h-0.6zM41.9 112.9h0.6v0.6h-0.6zM46.9 109.2h0.6v0.6h-0.6zM35.9 112.6h0.6v0.6h-0.6zM53.3 108.1h0.6v0.6h-0.6zM49.9 115.6h0.6v0.6h-0.6zM53.7 109.7h0.6v0.6h-0.6zM57.3 112.4h0.6v0.6h-0.6zM61.5 97.7h0.6v0.6h-0.6zM64.4 109.6h0.6v0.6h-0.6zM52.9 99.3h0.6v0.6h-0.6zM46.4 111.5h0.6v0.6h-0.6zM57.1 112.1h0.6v0.6h-0.6zM59.0 98.1h0.6v0.6h-0.6zM54.4 111.3h0.6v0.6h-0.6zM58.6 95.4h0.6v0.6h-0.6zM35.9 111.4h0.6v0.6h-0.6zM48.6 112.6h0.6v0.6h-0.6zM65.0 101.3h0.6v0.6h-0.6zM46.7 110.4h0.6v0.6h-0.6zM54.5 111.5h0.6v0.6h-0.6zM65.1 102.9h0.6v0.6h-0.6zM40.5 114.6h0.6v0.6h-0.6zM59.7 108.7h0.6v0.6h-0.6zM47.4 107.3h0.6v0.6h-0.6zM55.5 100.7h0.6v0.6h-0.6zM57.0 111.1h0.6v0.6h-0.6zM56.4 103.9h0.6v0.6h-0.6zM50.8 109.0h0.6v0.6h-0.6zM59.9 114.9h0.6v0.6h-0.6zM59.2 102.2h0.6v0.6h-0.6zM55.5 108.7h0.6v0.6h-0.6zM64.0 112.0h0.6v0.6h-0.6zM64.4 98.5h0.6v0.6h-0.6zM48.8 112.6h0.6v0.6h-0.6zM42.9 111.2h0.6v0.6h-0.6zM45.1 114.5h0.6v0.6h-0.6zM55.4 101.1h0.6v0.6h-0.6zM52.2 111.5h0.6v0.6h-0.6zM53.5 108.4h0.6v0.6h-0.6zM38.3 114.3h0.6v0.6h-0.6zM42.7 112.2h0.6v0.6h-0.6zM56.9 113.0h0.6v0.6h-0.6zM38.3 114.0h0.6v0.6h-0.6zM63.7 102.5h0.6v0.6h-0.6zM52.3 104.9h0.6v0.6h-0.6zM51.0 106.7h0.6v0.6h-0.6zM66.5 103.0h0.6v0.6h-0.6zM52.9 110.1h0.6v0.6h-0.6zM38.2 114.4h0.6v0.6h-0.6zM44.3 112.5h0.6v0.6h-0.6zM33.7 114.2h0.6v0.6h-0.6zM46.4 105.8h0.6v0.6h-0.6zM64.3 97.5h0.6v0.6h-0.6zM59.9 110.9h0.6v0.6h-0.6zM48.3 114.9h0.6v0.6h-0.6zM43.4 113.3h0.6v0.6h-0.6zM56.2 102.3h0.6v0.6h-0.6zM39.7 111.1h0.6v0.6h-0.6zM64.0 114.7h0.6v0.6h-0.6zM57.3 110.6h0.6v0.6h-0.6zM44.7 109.2h0.6v0.6h-0.6zM49.8 105.1h0.6v0.6h-0.6zM47.1 111.9h0.6v0.6h-0.6zM39.6 112.9h0.6v0.6h-0.6zM38.2 114.6h0.6v0.6h-0.6zM63.5 109.3h0.6v0.6h-0.6zM65.5 92.9h0.6v0.6h-0.6zM59.6 100.9h0.6v0.6h-0.6zM42.3 112.7h0.6v0.6h-0.6zM47.2 113.3h0.6v0.6h-0.6zM35.0 115.2h0.6v0.6h-0.6zM36.2 116.0h0.6v0.6h-0.6zM42.6 114.3h0.6v0.6h-0.6zM43.9 112.6h0.6v0.6h-0.6zM37.9 115.1h0.6v0.6h-0.6zM44.9 108.1h0.6v0.6h-0.6zM54.9 102.4h0.6v0.6h-0.6zM63.4 110.9h0.6v0.6h-0.6zM50.7 109.3h0.6v0.6h-0.6zM54.5 106.9h0.6v0.6h-0.6zM43.4 106.9h0.6v0.6h-0.6zM58.2 105.2h0.6v0.6h-0.6zM39.3 115.4h0.6v0.6h-0.6zM47.4 105.7h0.6v0.6h-0.6zM54.0 107.3h0.6v0.6h-0.6zM60.4 97.4h0.6v0.6h-0.6zM48.2 105.4h0.6v0.6h-0.6zM43.1 111.1h0.6v0.6h-0.6zM42.0 112.9h0.6v0.6h-0.6zM53.3 107.6h0.6v0.6h-0.6zM55.4 105.5h0.6v0.6h-0.6zM43.5 111.9h0.6v0.6h-0.6zM33.0 115.4h0.6v0.6h-0.6zM50.2 112.6h0.6v0.6h-0.6zM49.4 107.7h0.6v0.6h-0.6zM62.2 99.1h0.6v0.6h-0.6zM58.5 105.6h0.6v0.6h-0.6zM63.7 102.4h0.6v0.6h-0.6zM38.2 111.8h0.6v0.6h-0.6zM39.9 110.9h0.6v0.6h-0.6zM52.5 108.3h0.6v0.6h-0.6zM55.2 102.7h0.6v0.6h-0.6zM54.2 109.9h0.6v0.6h-0.6zM53.3 113.7h0.6v0.6h-0.6zM41.5 115.3h0.6v0.6h-0.6zM44.4 115.1h0.6v0.6h-0.6zM51.2 107.2h0.6v0.6h-0.6zM37.1 114.5h0.6v0.6h-0.6zM36.7 116.0h0.6v0.6h-0.6zM49.5 112.2h0.6v0.6h-0.6zM48.3 110.5h0.6v0.6h-0.6zM66.4 102.6h0.6v0.6h-0.6zM34.9 116.1h0.6v0.6h-0.6zM64.7 112.3h0.6v0.6h-0.6zM51.8 104.0h0.6v0.6h-0.6zM39.5 113.2h0.6v0.6h-0.6zM65.0 96.1h0.6v0.6h-0.6zM55.6 114.6h0.6v0.6h-0.6zM65.6 103.5h0.6v0.6h-0.6zM52.3 109.2h0.6v0.6h-0.6zM42.4 111.9h0.6v0.6h-0.6zM61.3 99.0h0.6v0.6h-0.6zM54.1 104.1h0.6v0.6h-0.6zM47.2 109.6h0.6v0.6h-0.6zM40.6 111.7h0.6v0.6h-0.6zM36.9 112.6h0.6v0.6h-0.6zM61.2 110.0h0.6v0.6h-0.6zM66.5 111.0h0.6v0.6h-0.6zM56.5 106.2h0.6v0.6h-0.6zM35.9 114.7h0.6v0.6h-0.6zM47.9 115.2h0.6v0.6h-0.6zM42.9 109.3h0.6v0.6h-0.6zM43.4 114.4h0.6v0.6h-0.6zM35.1 114.8h0.6v0.6h-0.6zM54.8 112.9h0.6v0.6h-0.6zM37.1 112.0h0.6v0.6h-0.6zM57.6 112.9h0.6v0.6h-0.6zM61.8 108.5h0.6v0.6h-0.6zM40.5 111.9h0.6v0.6h-0.6zM56.7 114.4h0.6v0.6h-0.6zM57.2 113.9h0.6v0.6h-0.6zM34.2 115.4h0.6v0.6h-0.6zM60.6 106.6h0.6v0.6h-0.6zM64.3 98.9h0.6v0.6h-0.6zM64.5 112.6h0.6v0.6h-0.6zM46.4 113.1h0.6v0.6h-0.6zM58.1 106.7h0.6v0.6h-0.6zM41.9 112.5h0.6v0.6h-0.6zM47.2 116.0h0.6v0.6h-0.6zM55.8 99.2h0.6v0.6h-0.6zM59.5 111.5h0.6v0.6h-0.6zM42.4 114.5h0.6v0.6h-0.6zM49.3 109.9h0.6v0.6h-0.6zM56.3 107.8h0.6v0.6h-0.6zM50.7 108.7h0.6v0.6h-0.6zM54.5 107.0h0.6v0.6h-0.6zM57.9 107.1h0.6v0.6h-0.6zM54.4 115.0h0.6v0.6h-0.6zM39.1 114.1h0.6v0.6h-0.6zM44.7 111.3h0.6v0.6h-0.6zM57.3 101.3h0.6v0.6h-0.6zM62.7 106.9h0.6v0.6h-0.6zM59.4 104.8h0.6v0.6h-0.6zM60.1 105.1h0.6v0.6h-0.6zM65.5 88.4h0.6v0.6h-0.6zM55.7 107.8h0.6v0.6h-0.6zM45.8 113.0h0.6v0.6h-0.6zM58.2 105.4h0.6v0.6h-0.6zM44.6 114.0h0.6v0.6h-0.6zM49.3 112.6h0.6v0.6h-0.6zM34.3 115.4h0.6v0.6h-0.6zM62.5 106.9h0.6v0.6h-0.6zM38.0 111.9h0.6v0.6h-0.6zM62.0 99.4h0.6v0.6h-0.6zM45.7 114.1h0.6v0.6h-0.6zM51.4 110.2h0.6v0.6h-0.6zM35.7 115.3h0.6v0.6h-0.6zM38.1 114.4h0.6v0.6h-0.6zM56.1 106.0h0.6v0.6h-0.6zM60.2 110.3h0.6v0.6h-0.6zM57.7 111.8h0.6v0.6h-0.6zM63.9 100.1h0.6v0.6h-0.6zM46.4 113.9h0.6v0.6h-0.6zM64.6 114.5h0.6v0.6h-0.6zM36.4 115.9h0.6v0.6h-0.6zM43.9 113.2h0.6v0.6h-0.6zM66.4 102.5h0.6v0.6h-0.6zM57.3 103.3h0.6v0.6h-0.6zM40.1 114.9h0.6v0.6h-0.6zM36.0 114.6h0.6v0.6h-0.6zM57.8 103.1h0.6v0.6h-0.6zM63.7 113.7h0.6v0.6h-0.6zM48.4 107.7h0.6v0.6h-0.6zM66.0 92.4h0.6v0.6h-0.6zM52.6 108.8h0.6v0.6h-0.6zM42.9 113.2h0.6v0.6h-0.6zM52.3 109.4h0.6v0.6h-0.6zM57.4 102.9h0.6v0.6h-0.6zM55.1 112.7h0.6v0.6h-0.6zM47.2 106.8h0.6v0.6h-0.6zM39.4 112.3h0.6v0.6h-0.6zM47.9 113.0h0.6v0.6h-0.6zM48.7 107.1h0.6v0.6h-0.6zM59.5 107.8h0.6v0.6h-0.6zM49.2 114.1h0.6v0.6h-0.6zM56.6 112.3h0.6v0.6h-0.6zM64.7 102.0h0.6v0.6h-0.6zM45.1 109.4h0.6v0.6h-0.6zM65.0 109.4h0.6v0.6h-0.6zM60.7 110.7h0.6v0.6h-0.6zM45.1 106.8h0.6v0.6h-0.6zM55.6 109.4h0.6v0.6h-0.6zM60.2 103.3h0.6v0.6h-0.6zM62.2 111.7h0.6v0.6h-0.6zM66.1 102.8h0.6v0.6h-0.6zM56.4 114.0h0.6v0.6h-0.6zM61.2 113.7h0.6v0.6h-0.6zM43.7 113.7h0.6v0.6h-0.6zM46.1 109.1h0.6v0.6h-0.6zM35.8 114.0h0.6v0.6h-0.6zM38.9 113.0h0.6v0.6h-0.6zM39.7 114.6h0.6v0.6h-0.6zM58.2 108.2h0.6v0.6h-0.6zM65.1 100.1h0.6v0.6h-0.6zM59.1 110.4h0.6v0.6h-0.6zM51.2 109.9h0.6v0.6h-0.6zM43.1 109.7h0.6v0.6h-0.6zM38.1 111.9h0.6v0.6h-0.6zM60.0 106.3h0.6v0.6h-0.6zM57.9 111.7h0.6v0.6h-0.6zM47.1 106.2h0.6v0.6h-0.6zM62.1 95.2h0.6v0.6h-0.6zM43.9 105.6h0.6v0.6h-0.6zM46.8 104.4h0.6v0.6h-0.6zM37.7 113.6h0.6v0.6h-0.6zM53.4 111.0h0.6v0.6h-0.6zM59.5 108.6h0.6v0.6h-0.6zM52.7 110.6h0.6v0.6h-0.6zM51.5 106.5h0.6v0.6h-0.6zM47.8 113.5h0.6v0.6h-0.6zM54.0 102.3h0.6v0.6h-0.6zM53.5 111.7h0.6v0.6h-0.6zM63.7 108.8h0.6v0.6h-0.6zM41.6 110.9h0.6v0.6h-0.6zM34.8 114.5h0.6v0.6h-0.6zM65.0 108.8h0.6v0.6h-0.6zM41.8 109.1h0.6v0.6h-0.6zM49.9 112.0h0.6v0.6h-0.6zM34.5 113.8h0.6v0.6h-0.6zM48.8 106.5h0.6v0.6h-0.6zM36.8 115.6h0.6v0.6h-0.6zM38.7 115.0h0.6v0.6h-0.6zM35.1 114.5h0.6v0.6h-0.6zM54.1 109.0h0.6v0.6h-0.6zM63.9 103.1h0.6v0.6h-0.6zM43.5 108.6h0.6v0.6h-0.6zM34.5 115.4h0.6v0.6h-0.6zM64.2 109.0h0.6v0.6h-0.6zM57.8 112.9h0.6v0.6h-0.6zM51.8 110.3h0.6v0.6h-0.6zM59.6 107.7h0.6v0.6h-0.6zM36.4 115.5h0.6v0.6h-0.6zM39.7 114.0h0.6v0.6h-0.6zM51.3 107.6h0.6v0.6h-0.6zM55.1 106.1h0.6v0.6h-0.6zM61.3 111.2h0.6v0.6h-0.6zM64.8 112.2h0.6v0.6h-0.6zM39.6 116.1h0.6v0.6h-0.6zM63.4 104.6h0.6v0.6h-0.6zM50.1 113.0h0.6v0.6h-0.6zM65.0 104.9h0.6v0.6h-0.6zM65.4 102.7h0.6v0.6h-0.6zM57.8 103.7h0.6v0.6h-0.6zM65.5 110.7h0.6v0.6h-0.6zM54.6 112.5h0.6v0.6h-0.6zM54.7 110.4h0.6v0.6h-0.6zM43.0 106.6h0.6v0.6h-0.6zM52.5 115.1h0.6v0.6h-0.6zM53.8 105.7h0.6v0.6h-0.6zM58.8 108.4h0.6v0.6h-0.6zM39.5 114.6h0.6v0.6h-0.6zM66.2 103.1h0.6v0.6h-0.6zM44.8 107.0h0.6v0.6h-0.6zM48.4 108.4h0.6v0.6h-0.6zM55.2 103.8h0.6v0.6h-0.6zM55.1 102.1h0.6v0.6h-0.6zM52.6 111.2h0.6v0.6h-0.6zM38.4 113.7h0.6v0.6h-0.6zM44.7 108.8h0.6v0.6h-0.6zM48.3 103.6h0.6v0.6h-0.6zM47.0 112.3h0.6v0.6h-0.6zM35.8 115.5h0.6v0.6h-0.6zM51.4 111.5h0.6v0.6h-0.6zM62.3 103.7h0.6v0.6h-0.6zM61.4 104.0h0.6v0.6h-0.6zM60.2 109.5h0.6v0.6h-0.6zM56.7 109.3h0.6v0.6h-0.6zM52.6 106.9h0.6v0.6h-0.6zM61.4 113.0h0.6v0.6h-0.6zM62.9 97.7h0.6v0.6h-0.6zM50.8 109.6h0.6v0.6h-0.6zM53.9 108.5h0.6v0.6h-0.6zM57.6 110.3h0.6v0.6h-0.6zM66.2 97.0h0.6v0.6h-0.6zM66.4 104.6h0.6v0.6h-0.6zM37.0 113.8h0.6v0.6h-0.6zM62.4 100.5h0.6v0.6h-0.6zM47.3 115.6h0.6v0.6h-0.6zM44.9 107.1h0.6v0.6h-0.6zM37.4 115.4h0.6v0.6h-0.6zM35.7 113.4h0.6v0.6h-0.6zM60.9 113.8h0.6v0.6h-0.6zM45.9 111.3h0.6v0.6h-0.6zM44.4 115.1h0.6v0.6h-0.6zM34.3 115.1h0.6v0.6h-0.6zM56.2 105.8h0.6v0.6h-0.6zM41.9 112.8h0.6v0.6h-0.6zM48.3 110.9h0.6v0.6h-0.6zM44.3 113.9h0.6v0.6h-0.6zM38.4 113.3h0.6v0.6h-0.6zM51.3 109.7h0.6v0.6h-0.6zM52.0 103.8h0.6v0.6h-0.6zM59.9 104.5h0.6v0.6h-0.6zM61.7 96.4h0.6v0.6h-0.6zM43.2 110.5h0.6v0.6h-0.6zM47.4 108.0h0.6v0.6h-0.6zM65.9 94.1h0.6v0.6h-0.6zM43.0 113.5h0.6v0.6h-0.6zM43.6 114.7h0.6v0.6h-0.6zM46.3 111.1h0.6v0.6h-0.6zM62.8 113.2h0.6v0.6h-0.6zM60.4 109.3h0.6v0.6h-0.6zM47.8 110.0h0.6v0.6h-0.6zM46.8 110.6h0.6v0.6h-0.6zM56.1 110.8h0.6v0.6h-0.6zM60.2 113.0h0.6v0.6h-0.6zM55.1 99.4h0.6v0.6h-0.6zM60.8 101.8h0.6v0.6h-0.6zM60.3 99.2h0.6v0.6h-0.6zM49.6 108.0h0.6v0.6h-0.6zM43.0 112.8h0.6v0.6h-0.6zM36.1 115.2h0.6v0.6h-0.6zM50.0 113.4h0.6v0.6h-0.6zM64.2 110.6h0.6v0.6h-0.6zM57.1 99.7h0.6v0.6h-0.6zM58.1 102.0h0.6v0.6h-0.6zM46.2 115.0h0.6v0.6h-0.6zM62.2 108.4h0.6v0.6h-0.6zM37.3 113.6h0.6v0.6h-0.6zM64.3 115.3h0.6v0.6h-0.6zM44.2 113.3h0.6v0.6h-0.6zM46.1 111.6h0.6v0.6h-0.6zM40.9 112.9h0.6v0.6h-0.6zM35.8 113.9h0.6v0.6h-0.6zM47.0 106.2h0.6v0.6h-0.6zM41.5 112.5h0.6v0.6h-0.6zM58.6 114.6h0.6v0.6h-0.6zM58.4 106.8h0.6v0.6h-0.6zM41.3 113.3h0.6v0.6h-0.6zM39.2 113.1h0.6v0.6h-0.6zM59.6 107.4h0.6v0.6h-0.6zM51.7 108.6h0.6v0.6h-0.6zM38.7 115.3h0.6v0.6h-0.6zM34.1 115.1h0.6v0.6h-0.6zM50.2 112.4h0.6v0.6h-0.6zM49.2 112.9h0.6v0.6h-0.6zM57.0 109.6h0.6v0.6h-0.6zM37.2 114.6h0.6v0.6h-0.6zM52.8 103.8h0.6v0.6h-0.6zM36.6 114.1h0.6v0.6h-0.6zM52.0 107.5h0.6v0.6h-0.6zM39.6 112.2h0.6v0.6h-0.6zM45.8 115.0h0.6v0.6h-0.6zM63.8 96.4h0.6v0.6h-0.6zM59.3 114.0h0.6v0.6h-0.6zM54.5 102.7h0.6v0.6h-0.6zM66.4 95.2h0.6v0.6h-0.6zM65.5 109.0h0.6v0.6h-0.6zM57.5 103.1h0.6v0.6h-0.6zM37.5 115.3h0.6v0.6h-0.6zM60.6 105.0h0.6v0.6h-0.6zM53.8 101.5h0.6v0.6h-0.6zM45.0 110.4h0.6v0.6h-0.6zM56.9 110.2h0.6v0.6h-0.6zM41.9 109.1h0.6v0.6h-0.6zM55.2 97.4h0.6v0.6h-0.6zM64.0 104.2h0.6v0.6h-0.6zM59.6 103.1h0.6v0.6h-0.6zM60.5 97.9h0.6v0.6h-0.6zM37.0 112.6h0.6v0.6h-0.6zM52.0 109.5h0.6v0.6h-0.6zM43.9 109.1h0.6v0.6h-0.6zM48.0 113.7h0.6v0.6h-0.6zM61.0 103.1h0.6v0.6h-0.6zM46.3 107.9h0.6v0.6h-0.6zM60.6 102.7h0.6v0.6h-0.6zM34.1 115.3h0.6v0.6h-0.6zM50.4 110.7h0.6v0.6h-0.6zM41.8 109.3h0.6v0.6h-0.6zM59.4 114.5h0.6v0.6h-0.6zM36.5 114.8h0.6v0.6h-0.6zM62.0 101.2h0.6v0.6h-0.6zM43.7 112.1h0.6v0.6h-0.6zM43.3 107.3h0.6v0.6h-0.6zM52.4 102.5h0.6v0.6h-0.6zM42.7 110.4h0.6v0.6h-0.6zM51.9 116.2h0.6v0.6h-0.6zM42.2 113.2h0.6v0.6h-0.6zM59.1 103.7h0.6v0.6h-0.6zM57.1 111.9h0.6v0.6h-0.6zM62.5 109.5h0.6v0.6h-0.6zM59.6 105.1h0.6v0.6h-0.6zM55.5 114.1h0.6v0.6h-0.6zM38.5 115.6h0.6v0.6h-0.6zM47.2 108.5h0.6v0.6h-0.6zM37.0 112.9h0.6v0.6h-0.6zM41.7 112.8h0.6v0.6h-0.6zM55.0 103.9h0.6v0.6h-0.6zM47.4 112.9h0.6v0.6h-0.6zM61.1 110.7h0.6v0.6h-0.6zM46.6 111.7h0.6v0.6h-0.6zM61.3 94.3h0.6v0.6h-0.6zM36.8 114.3h0.6v0.6h-0.6zM62.1 101.9h0.6v0.6h-0.6zM35.9 115.8h0.6v0.6h-0.6zM65.0 111.1h0.6v0.6h-0.6zM66.0 88.8h0.6v0.6h-0.6zM58.3 107.8h0.6v0.6h-0.6zM41.0 113.9h0.6v0.6h-0.6zM48.1 110.1h0.6v0.6h-0.6zM52.3 108.9h0.6v0.6h-0.6zM61.1 106.5h0.6v0.6h-0.6zM58.9 107.6h0.6v0.6h-0.6zM49.0 114.0h0.6v0.6h-0.6zM46.9 110.9h0.6v0.6h-0.6zM42.9 109.2h0.6v0.6h-0.6zM36.8 110.7h0.6v0.6h-0.6zM41.6 113.8h0.6v0.6h-0.6zM42.3 112.3h0.6v0.6h-0.6zM49.6 111.0h0.6v0.6h-0.6zM51.6 112.7h0.6v0.6h-0.6zM48.0 112.0h0.6v0.6h-0.6zM59.0 105.9h0.6v0.6h-0.6zM44.9 113.4h0.6v0.6h-0.6zM54.7 107.0h0.6v0.6h-0.6zM34.6 113.9h0.6v0.6h-0.6zM33.5 114.5h0.6v0.6h-0.6zM60.4 114.3h0.6v0.6h-0.6zM49.8 113.1h0.6v0.6h-0.6zM59.5 108.3h0.6v0.6h-0.6zM51.5 105.4h0.6v0.6h-0.6zM48.9 112.8h0.6v0.6h-0.6zM57.8 110.7h0.6v0.6h-0.6zM58.5 102.8h0.6v0.6h-0.6zM47.6 109.7h0.6v0.6h-0.6zM63.9 95.0h0.6v0.6h-0.6zM54.8 111.8h0.6v0.6h-0.6zM48.6 112.7h0.6v0.6h-0.6zM44.5 114.3h0.6v0.6h-0.6zM60.8 100.3h0.6v0.6h-0.6zM35.9 115.4h0.6v0.6h-0.6zM56.2 111.2h0.6v0.6h-0.6zM37.7 115.2h0.6v0.6h-0.6zM48.6 113.9h0.6v0.6h-0.6zM58.3 107.9h0.6v0.6h-0.6zM53.7 104.4h0.6v0.6h-0.6zM39.3 114.2h0.6v0.6h-0.6zM39.9 114.0h0.6v0.6h-0.6zM58.3 105.9h0.6v0.6h-0.6zM48.8 108.5h0.6v0.6h-0.6zM64.5 98.5h0.6v0.6h-0.6zM55.7 108.8h0.6v0.6h-0.6zM47.8 114.7h0.6v0.6h-0.6zM61.2 110.0h0.6v0.6h-0.6zM44.1 113.8h0.6v0.6h-0.6zM65.4 111.6h0.6v0.6h-0.6zM42.3 113.9h0.6v0.6h-0.6zM40.8 114.6h0.6v0.6h-0.6zM46.4 113.4h0.6v0.6h-0.6zM65.0 104.8h0.6v0.6h-0.6zM62.4 112.1h0.6v0.6h-0.6zM44.1 109.9h0.6v0.6h-0.6zM59.4 109.0h0.6v0.6h-0.6zM51.0 102.7h0.6v0.6h-0.6zM42.2 112.6h0.6v0.6h-0.6zM40.9 113.1h0.6v0.6h-0.6zM54.6 111.3h0.6v0.6h-0.6zM49.7 113.2h0.6v0.6h-0.6zM49.1 110.5h0.6v0.6h-0.6zM35.4 115.1h0.6v0.6h-0.6zM56.0 103.9h0.6v0.6h-0.6zM54.9 107.5h0.6v0.6h-0.6zM39.9 114.7h0.6v0.6h-0.6zM65.8 107.7h0.6v0.6h-0.6zM40.3 112.9h0.6v0.6h-0.6zM56.5 105.2h0.6v0.6h-0.6zM51.9 111.9h0.6v0.6h-0.6zM60.0 98.8h0.6v0.6h-0.6zM42.6 110.7h0.6v0.6h-0.6zM49.4 111.3h0.6v0.6h-0.6zM63.3 105.1h0.6v0.6h-0.6zM65.0 107.1h0.6v0.6h-0.6zM66.2 107.1h0.6v0.6h-0.6zM62.5 111.1h0.6v0.6h-0.6zM46.6 111.3h0.6v0.6h-0.6zM64.1 94.3h0.6v0.6h-0.6zM38.3 114.7h0.6v0.6h-0.6zM53.9 111.8h0.6v0.6h-0.6zM45.3 114.8h0.6v0.6h-0.6zM48.7 110.0h0.6v0.6h-0.6zM35.0 115.7h0.6v0.6h-0.6zM40.1 113.1h0.6v0.6h-0.6zM38.7 115.6h0.6v0.6h-0.6zM33.3 115.8h0.6v0.6h-0.6zM50.1 108.6h0.6v0.6h-0.6zM61.9 112.7h0.6v0.6h-0.6zM61.2 97.8h0.6v0.6h-0.6zM49.0 113.0h0.6v0.6h-0.6zM60.1 110.9h0.6v0.6h-0.6zM65.0 102.0h0.6v0.6h-0.6zM51.9 109.9h0.6v0.6h-0.6zM44.0 114.2h0.6v0.6h-0.6zM59.5 99.8h0.6v0.6h-0.6zM46.9 113.8h0.6v0.6h-0.6zM52.8 105.6h0.6v0.6h-0.6zM61.9 92.3h0.6v0.6h-0.6zM38.9 113.7h0.6v0.6h-0.6zM39.7 114.6h0.6v0.6h-0.6zM63.1 107.2h0.6v0.6h-0.6zM56.6 111.3h0.6v0.6h-0.6zM47.5 116.0h0.6v0.6h-0.6zM42.3 109.2h0.6v0.6h-0.6zM63.6 105.1h0.6v0.6h-0.6zM43.1 113.7h0.6v0.6h-0.6zM33.3 115.1h0.6v0.6h-0.6zM54.2 110.5h0.6v0.6h-0.6zM64.5 102.6h0.6v0.6h-0.6zM40.0 112.6h0.6v0.6h-0.6zM48.7 110.3h0.6v0.6h-0.6zM44.7 113.8h0.6v0.6h-0.6zM56.8 103.0h0.6v0.6h-0.6zM59.1 106.7h0.6v0.6h-0.6zM33.7 115.9h0.6v0.6h-0.6zM56.5 109.6h0.6v0.6h-0.6zM37.0 111.9h0.6v0.6h-0.6zM61.0 113.5h0.6v0.6h-0.6zM39.0 115.9h0.6v0.6h-0.6zM64.9 112.7h0.6v0.6h-0.6zM37.2 113.4h0.6v0.6h-0.6zM66.2 105.6h0.6v0.6h-0.6zM56.2 108.3h0.6v0.6h-0.6zM62.5 110.8h0.6v0.6h-0.6zM55.4 108.6h0.6v0.6h-0.6zM65.2 92.7h0.6v0.6h-0.6zM63.5 112.0h0.6v0.6h-0.6zM50.9 110.3h0.6v0.6h-0.6zM39.7 115.5h0.6v0.6h-0.6zM38.7 114.7h0.6v0.6h-0.6zM43.8 114.3h0.6v0.6h-0.6zM51.5 105.3h0.6v0.6h-0.6zM33.6 116.2h0.6v0.6h-0.6zM43.4 114.4h0.6v0.6h-0.6zM41.3 111.5h0.6v0.6h-0.6zM38.5 114.1h0.6v0.6h-0.6zM41.9 115.1h0.6v0.6h-0.6zM38.6 113.0h0.6v0.6h-0.6zM41.4 110.1h0.6v0.6h-0.6zM59.0 106.3h0.6v0.6h-0.6zM53.0 108.4h0.6v0.6h-0.6zM54.6 113.6h0.6v0.6h-0.6zM42.7 115.5h0.6v0.6h-0.6zM42.7 114.2h0.6v0.6h-0.6zM52.1 109.8h0.6v0.6h-0.6zM52.1 111.0h0.6v0.6h-0.6zM55.0 110.6h0.6v0.6h-0.6zM64.3 110.9h0.6v0.6h-0.6zM49.7 114.5h0.6v0.6h-0.6zM56.9 103.4h0.6v0.6h-0.6zM46.7 110.8h0.6v0.6h-0.6zM34.3 114.9h0.6v0.6h-0.6zM38.2 115.7h0.6v0.6h-0.6zM54.1 106.6h0.6v0.6h-0.6zM63.6 105.4h0.6v0.6h-0.6zM47.2 109.3h0.6v0.6h-0.6zM64.8 99.5h0.6v0.6h-0.6zM37.8 113.0h0.6v0.6h-0.6zM56.2 100.0h0.6v0.6h-0.6zM58.7 105.6h0.6v0.6h-0.6zM64.6 106.2h0.6v0.6h-0.6zM41.3 115.4h0.6v0.6h-0.6zM61.7 100.7h0.6v0.6h-0.6zM42.1 115.4h0.6v0.6h-0.6zM33.4 114.8h0.6v0.6h-0.6zM43.0 110.8h0.6v0.6h-0.6zM43.4 113.1h0.6v0.6h-0.6zM41.7 112.9h0.6v0.6h-0.6zM63.1 106.6h0.6v0.6h-0.6zM44.5 109.6h0.6v0.6h-0.6zM61.3 101.9h0.6v0.6h-0.6zM35.6 115.2h0.6v0.6h-0.6zM62.0 108.0h0.6v0.6h-0.6zM63.0 95.8h0.6v0.6h-0.6zM37.1 115.7h0.6v0.6h-0.6zM57.4 108.6h0.6v0.6h-0.6zM45.9 106.1h0.6v0.6h-0.6zM51.2 107.4h0.6v0.6h-0.6zM64.9 109.2h0.6v0.6h-0.6zM50.3 106.3h0.6v0.6h-0.6zM62.2 100.4h0.6v0.6h-0.6zM51.5 107.1h0.6v0.6h-0.6zM34.4 115.9h0.6v0.6h-0.6zM63.9 90.6h0.6v0.6h-0.6zM46.5 113.0h0.6v0.6h-0.6zM49.6 107.0h0.6v0.6h-0.6zM51.3 110.9h0.6v0.6h-0.6zM53.0 109.1h0.6v0.6h-0.6zM56.8 107.1h0.6v0.6h-0.6zM46.3 113.0h0.6v0.6h-0.6zM66.0 103.8h0.6v0.6h-0.6zM63.7 109.0h0.6v0.6h-0.6zM59.7 105.9h0.6v0.6h-0.6zM58.4 98.9h0.6v0.6h-0.6zM47.5 115.6h0.6v0.6h-0.6zM59.3 111.4h0.6v0.6h-0.6zM40.8 114.7h0.6v0.6h-0.6zM49.7 110.4h0.6v0.6h-0.6zM60.4 108.4h0.6v0.6h-0.6zM48.0 112.1h0.6v0.6h-0.6zM47.1 112.9h0.6v0.6h-0.6zM64.6 109.0h0.6v0.6h-0.6zM37.2 116.2h0.6v0.6h-0.6zM39.2 116.0h0.6v0.6h-0.6zM38.0 115.1h0.6v0.6h-0.6zM57.2 99.4h0.6v0.6h-0.6zM58.0 109.2h0.6v0.6h-0.6zM54.5 105.2h0.6v0.6h-0.6zM53.3 111.0h0.6v0.6h-0.6zM66.0 107.5h0.6v0.6h-0.6zM46.9 110.3h0.6v0.6h-0.6zM51.0 113.9h0.6v0.6h-0.6zM52.3 106.3h0.6v0.6h-0.6zM62.8 103.9h0.6v0.6h-0.6zM66.3 103.3h0.6v0.6h-0.6zM54.1 112.0h0.6v0.6h-0.6zM53.6 107.8h0.6v0.6h-0.6zM48.3 107.3h0.6v0.6h-0.6zM66.4 99.0h0.6v0.6h-0.6zM41.9 113.6h0.6v0.6h-0.6zM44.6 112.6h0.6v0.6h-0.6zM51.2 106.1h0.6v0.6h-0.6zM65.6 106.1h0.6v0.6h-0.6zM64.2 114.3h0.6v0.6h-0.6zM51.5 110.1h0.6v0.6h-0.6zM48.7 105.7h0.6v0.6h-0.6z" fill="#000" fill-opacity="0.27"/>
<path d="M61.5 112.7h0.6v0.6h-0.6zM39.4 114.0h0.6v0.6h-0.6zM52.4 106.9h0.6v0.6h-0.6zM55.1 108.4h0.6v0.6h-0.6zM41.8 115.8h0.6v0.6h-0.6zM42.1 115.4h0.6v0.6h-0.6zM39.2 112.9h0.6v0.6h-0.6zM55.6 107.6h0.6v0.6h-0.6zM46.9 112.8h0.6v0.6h-0.6zM48.8 108.3h0.6v0.6h-0.6zM51.0 112.4h0.6v0.6h-0.6zM58.6 106.6h0.6v0.6h-0.6zM54.8 104.3h0.6v0.6h-0.6zM37.6 115.9h0.6v0.6h-0.6zM42.1 115.2h0.6v0.6h-0.6zM57.4 109.7h0.6v0.6h-0.6zM49.1 109.2h0.6v0.6h-0.6zM47.6 113.9h0.6v0.6h-0.6zM53.8 114.8h0.6v0.6h-0.6zM38.4 114.6h0.6v0.6h-0.6zM57.4 112.1h0.6v0.6h-0.6zM53.9 113.0h0.6v0.6h-0.6zM46.7 111.8h0.6v0.6h-0.6zM61.4 110.5h0.6v0.6h-0.6zM60.4 113.6h0.6v0.6h-0.6zM59.7 101.6h0.6v0.6h-0.6zM51.7 106.8h0.6v0.6h-0.6zM38.1 115.2h0.6v0.6h-0.6zM53.5 109.7h0.6v0.6h-0.6zM56.4 113.3h0.6v0.6h-0.6zM48.3 108.7h0.6v0.6h-0.6zM56.6 108.6h0.6v0.6h-0.6zM36.8 115.4h0.6v0.6h-0.6zM44.1 111.9h0.6v0.6h-0.6zM62.1 105.6h0.6v0.6h-0.6zM63.2 109.9h0.6v0.6h-0.6zM47.7 113.9h0.6v0.6h-0.6zM51.8 112.4h0.6v0.6h-0.6zM53.9 112.2h0.6v0.6h-0.6zM38.5 115.1h0.6v0.6h-0.6zM56.3 104.1h0.6v0.6h-0.6zM49.8 111.4h0.6v0.6h-0.6zM49.4 112.8h0.6v0.6h-0.6zM62.7 108.2h0.6v0.6h-0.6zM52.8 109.6h0.6v0.6h-0.6zM51.2 110.8h0.6v0.6h-0.6zM51.3 110.8h0.6v0.6h-0.6zM54.8 112.6h0.6v0.6h-0.6zM56.3 108.9h0.6v0.6h-0.6zM43.8 114.1h0.6v0.6h-0.6zM51.4 111.5h0.6v0.6h-0.6zM61.2 109.1h0.6v0.6h-0.6zM43.8 112.4h0.6v0.6h-0.6zM46.3 113.7h0.6v0.6h-0.6zM50.0 111.8h0.6v0.6h-0.6zM59.3 106.1h0.6v0.6h-0.6zM54.3 108.8h0.6v0.6h-0.6zM51.5 110.7h0.6v0.6h-0.6zM61.5 105.0h0.6v0.6h-0.6zM42.6 115.4h0.6v0.6h-0.6zM39.0 113.2h0.6v0.6h-0.6zM49.7 110.9h0.6v0.6h-0.6zM52.1 112.5h0.6v0.6h-0.6zM60.5 109.2h0.6v0.6h-0.6zM51.7 113.8h0.6v0.6h-0.6zM59.9 109.2h0.6v0.6h-0.6zM52.6 110.9h0.6v0.6h-0.6zM37.3 116.1h0.6v0.6h-0.6zM40.5 115.1h0.6v0.6h-0.6zM38.1 115.3h0.6v0.6h-0.6zM58.2 112.8h0.6v0.6h-0.6zM50.0 114.0h0.6v0.6h-0.6zM48.2 112.7h0.6v0.6h-0.6zM62.7 100.0h0.6v0.6h-0.6zM60.7 100.3h0.6v0.6h-0.6zM63.8 112.4h0.6v0.6h-0.6zM62.1 107.4h0.6v0.6h-0.6zM53.3 106.9h0.6v0.6h-0.6zM51.1 109.7h0.6v0.6h-0.6zM55.8 110.6h0.6v0.6h-0.6zM61.9 109.9h0.6v0.6h-0.6zM46.0 112.5h0.6v0.6h-0.6zM55.1 110.8h0.6v0.6h-0.6zM58.4 111.6h0.6v0.6h-0.6zM48.1 107.5h0.6v0.6h-0.6zM52.3 112.0h0.6v0.6h-0.6zM54.6 110.9h0.6v0.6h-0.6zM64.3 104.4h0.6v0.6h-0.6zM51.5 109.9h0.6v0.6h-0.6zM62.3 111.8h0.6v0.6h-0.6zM47.6 108.1h0.6v0.6h-0.6zM50.4 110.1h0.6v0.6h-0.6zM62.1 105.6h0.6v0.6h-0.6zM60.5 106.6h0.6v0.6h-0.6zM61.8 107.3h0.6v0.6h-0.6zM44.2 113.7h0.6v0.6h-0.6zM63.5 104.8h0.6v0.6h-0.6zM63.6 108.9h0.6v0.6h-0.6zM54.7 112.7h0.6v0.6h-0.6zM52.1 113.8h0.6v0.6h-0.6zM55.8 107.5h0.6v0.6h-0.6zM54.2 106.4h0.6v0.6h-0.6zM42.6 111.2h0.6v0.6h-0.6zM59.4 111.6h0.6v0.6h-0.6zM61.5 103.1h0.6v0.6h-0.6zM39.5 115.1h0.6v0.6h-0.6zM64.0 101.7h0.6v0.6h-0.6zM59.0 109.6h0.6v0.6h-0.6zM61.5 111.7h0.6v0.6h-0.6zM35.8 115.8h0.6v0.6h-0.6zM41.4 111.5h0.6v0.6h-0.6zM45.1 115.3h0.6v0.6h-0.6zM62.9 104.6h0.6v0.6h-0.6zM57.1 105.8h0.6v0.6h-0.6zM61.4 108.2h0.6v0.6h-0.6zM61.9 110.4h0.6v0.6h-0.6zM36.2 116.2h0.6v0.6h-0.6zM63.7 102.8h0.6v0.6h-0.6zM63.2 103.3h0.6v0.6h-0.6zM52.0 108.7h0.6v0.6h-0.6zM45.4 113.7h0.6v0.6h-0.6zM42.9 111.3h0.6v0.6h-0.6zM39.6 115.0h0.6v0.6h-0.6zM47.1 114.7h0.6v0.6h-0.6zM55.2 109.4h0.6v0.6h-0.6zM49.1 112.0h0.6v0.6h-0.6zM44.7 113.7h0.6v0.6h-0.6zM51.7 112.3h0.6v0.6h-0.6zM61.7 110.8h0.6v0.6h-0.6zM49.8 110.1h0.6v0.6h-0.6zM43.2 113.7h0.6v0.6h-0.6zM46.5 112.8h0.6v0.6h-0.6zM50.2 112.4h0.6v0.6h-0.6zM55.6 111.3h0.6v0.6h-0.6zM60.2 110.4h0.6v0.6h-0.6zM49.2 113.2h0.6v0.6h-0.6zM49.4 114.1h0.6v0.6h-0.6zM40.2 113.5h0.6v0.6h-0.6zM60.7 105.8h0.6v0.6h-0.6zM41.7 113.5h0.6v0.6h-0.6zM38.9 114.8h0.6v0.6h-0.6zM55.5 108.2h0.6v0.6h-0.6zM47.3 109.2h0.6v0.6h-0.6zM63.5 108.3h0.6v0.6h-0.6zM50.5 108.4h0.6v0.6h-0.6zM48.5 113.1h0.6v0.6h-0.6zM62.0 111.9h0.6v0.6h-0.6zM52.6 109.5h0.6v0.6h-0.6zM46.0 113.3h0.6v0.6h-0.6zM54.2 110.5h0.6v0.6h-0.6zM38.2 115.6h0.6v0.6h-0.6zM36.8 115.8h0.6v0.6h-0.6zM48.8 112.3h0.6v0.6h-0.6zM35.1 115.6h0.6v0.6h-0.6zM42.5 114.8h0.6v0.6h-0.6zM46.8 113.3h0.6v0.6h-0.6zM58.0 110.6h0.6v0.6h-0.6zM39.1 113.1h0.6v0.6h-0.6zM47.5 112.9h0.6v0.6h-0.6zM41.7 111.2h0.6v0.6h-0.6zM54.2 108.3h0.6v0.6h-0.6zM43.8 111.4h0.6v0.6h-0.6zM53.9 108.6h0.6v0.6h-0.6zM62.4 110.5h0.6v0.6h-0.6zM64.3 109.1h0.6v0.6h-0.6zM63.5 111.1h0.6v0.6h-0.6zM49.2 113.3h0.6v0.6h-0.6zM48.6 113.1h0.6v0.6h-0.6zM46.1 114.2h0.6v0.6h-0.6zM47.8 113.0h0.6v0.6h-0.6zM41.2 113.4h0.6v0.6h-0.6zM51.4 111.6h0.6v0.6h-0.6zM57.9 105.8h0.6v0.6h-0.6zM58.9 104.2h0.6v0.6h-0.6zM51.5 109.8h0.6v0.6h-0.6zM46.3 113.8h0.6v0.6h-0.6zM63.0 109.7h0.6v0.6h-0.6zM43.4 110.6h0.6v0.6h-0.6zM62.9 109.7h0.6v0.6h-0.6zM48.3 114.4h0.6v0.6h-0.6zM47.5 114.0h0.6v0.6h-0.6zM52.8 109.6h0.6v0.6h-0.6zM56.6 102.9h0.6v0.6h-0.6zM46.6 113.0h0.6v0.6h-0.6zM54.8 107.2h0.6v0.6h-0.6zM40.0 113.4h0.6v0.6h-0.6zM61.4 110.6h0.6v0.6h-0.6zM57.1 107.3h0.6v0.6h-0.6zM53.1 106.6h0.6v0.6h-0.6zM64.1 101.2h0.6v0.6h-0.6zM44.9 114.5h0.6v0.6h-0.6zM56.3 109.7h0.6v0.6h-0.6zM57.7 104.2h0.6v0.6h-0.6zM55.2 110.1h0.6v0.6h-0.6zM52.5 109.1h0.6v0.6h-0.6zM55.6 111.7h0.6v0.6h-0.6zM57.7 110.6h0.6v0.6h-0.6zM53.6 108.8h0.6v0.6h-0.6zM38.3 114.5h0.6v0.6h-0.6zM56.1 107.9h0.6v0.6h-0.6zM41.7 113.3h0.6v0.6h-0.6zM44.8 111.5h0.6v0.6h-0.6zM60.4 109.6h0.6v0.6h-0.6zM37.3 115.1h0.6v0.6h-0.6zM61.3 108.1h0.6v0.6h-0.6zM60.6 108.5h0.6v0.6h-0.6zM42.0 112.8h0.6v0.6h-0.6zM47.2 109.6h0.6v0.6h-0.6zM62.5 105.3h0.6v0.6h-0.6zM43.1 113.8h0.6v0.6h-0.6zM39.9 114.0h0.6v0.6h-0.6zM53.2 114.1h0.6v0.6h-0.6zM57.8 110.5h0.6v0.6h-0.6zM52.3 110.6h0.6v0.6h-0.6zM59.2 107.6h0.6v0.6h-0.6zM59.6 101.8h0.6v0.6h-0.6zM60.0 110.4h0.6v0.6h-0.6zM54.2 110.2h0.6v0.6h-0.6zM36.5 115.2h0.6v0.6h-0.6zM56.2 110.9h0.6v0.6h-0.6zM60.6 109.0h0.6v0.6h-0.6zM54.3 109.7h0.6v0.6h-0.6zM49.6 115.5h0.6v0.6h-0.6zM55.4 110.4h0.6v0.6h-0.6zM58.9 109.0h0.6v0.6h-0.6zM51.0 106.1h0.6v0.6h-0.6zM46.5 116.0h0.6v0.6h-0.6zM52.6 110.5h0.6v0.6h-0.6zM40.0 113.7h0.6v0.6h-0.6zM50.9 114.0h0.6v0.6h-0.6zM52.8 109.4h0.6v0.6h-0.6zM40.3 113.1h0.6v0.6h-0.6zM59.9 109.5h0.6v0.6h-0.6zM50.7 113.0h0.6v0.6h-0.6zM61.5 110.7h0.6v0.6h-0.6zM54.1 111.8h0.6v0.6h-0.6zM53.2 109.0h0.6v0.6h-0.6zM51.0 108.4h0.6v0.6h-0.6zM49.7 111.1h0.6v0.6h-0.6zM44.4 113.5h0.6v0.6h-0.6zM50.8 112.3h0.6v0.6h-0.6zM48.3 113.8h0.6v0.6h-0.6zM39.1 114.5h0.6v0.6h-0.6zM46.3 110.0h0.6v0.6h-0.6zM56.2 109.1h0.6v0.6h-0.6zM62.0 107.1h0.6v0.6h-0.6zM57.9 108.0h0.6v0.6h-0.6zM57.0 104.4h0.6v0.6h-0.6zM59.7 105.1h0.6v0.6h-0.6zM60.1 103.7h0.6v0.6h-0.6zM60.1 108.5h0.6v0.6h-0.6zM59.8 112.2h0.6v0.6h-0.6zM40.2 115.0h0.6v0.6h-0.6zM45.2 114.1h0.6v0.6h-0.6zM62.4 112.2h0.6v0.6h-0.6zM53.3 113.5h0.6v0.6h-0.6zM59.3 110.5h0.6v0.6h-0.6zM56.1 110.4h0.6v0.6h-0.6zM62.3 111.5h0.6v0.6h-0.6zM37.9 113.6h0.6v0.6h-0.6zM49.5 107.1h0.6v0.6h-0.6zM48.0 111.0h0.6v0.6h-0.6zM54.9 108.2h0.6v0.6h-0.6zM39.3 113.2h0.6v0.6h-0.6zM45.0 111.8h0.6v0.6h-0.6zM60.9 102.2h0.6v0.6h-0.6zM54.9 109.3h0.6v0.6h-0.6zM46.3 111.6h0.6v0.6h-0.6zM47.6 112.6h0.6v0.6h-0.6zM42.8 113.3h0.6v0.6h-0.6zM41.0 115.2h0.6v0.6h-0.6zM45.8 112.4h0.6v0.6h-0.6zM61.7 108.0h0.6v0.6h-0.6zM34.6 115.1h0.6v0.6h-0.6zM43.5 114.3h0.6v0.6h-0.6zM63.5 109.7h0.6v0.6h-0.6zM53.0 110.6h0.6v0.6h-0.6zM43.0 110.9h0.6v0.6h-0.6zM58.4 108.8h0.6v0.6h-0.6zM57.9 109.7h0.6v0.6h-0.6zM45.3 113.9h0.6v0.6h-0.6zM46.2 113.9h0.6v0.6h-0.6zM52.1 110.9h0.6v0.6h-0.6zM38.2 114.8h0.6v0.6h-0.6zM52.0 107.6h0.6v0.6h-0.6zM38.6 116.0h0.6v0.6h-0.6zM60.3 100.8h0.6v0.6h-0.6zM55.7 111.3h0.6v0.6h-0.6zM56.5 110.7h0.6v0.6h-0.6zM59.1 108.2h0.6v0.6h-0.6zM55.8 113.2h0.6v0.6h-0.6zM58.6 110.5h0.6v0.6h-0.6zM50.6 106.9h0.6v0.6h-0.6zM60.9 110.0h0.6v0.6h-0.6zM57.9 109.6h0.6v0.6h-0.6zM44.2 113.6h0.6v0.6h-0.6zM38.3 116.1h0.6v0.6h-0.6zM57.9 110.8h0.6v0.6h-0.6zM62.0 104.3h0.6v0.6h-0.6zM38.2 114.7h0.6v0.6h-0.6zM55.7 109.9h0.6v0.6h-0.6zM41.1 115.5h0.6v0.6h-0.6zM62.1 104.3h0.6v0.6h-0.6zM58.9 106.8h0.6v0.6h-0.6zM42.1 112.1h0.6v0.6h-0.6zM54.0 113.5h0.6v0.6h-0.6zM45.8 113.4h0.6v0.6h-0.6zM47.0 109.8h0.6v0.6h-0.6zM49.1 113.5h0.6v0.6h-0.6zM51.8 114.0h0.6v0.6h-0.6zM38.3 115.1h0.6v0.6h-0.6zM56.8 111.0h0.6v0.6h-0.6zM52.9 108.6h0.6v0.6h-0.6zM46.9 107.8h0.6v0.6h-0.6zM54.1 115.4h0.6v0.6h-0.6zM62.3 107.2h0.6v0.6h-0.6zM49.0 113.7h0.6v0.6h-0.6zM48.1 114.2h0.6v0.6h-0.6zM63.5 108.8h0.6v0.6h-0.6zM57.8 108.0h0.6v0.6h-0.6zM49.3 110.0h0.6v0.6h-0.6zM48.4 114.7h0.6v0.6h-0.6zM63.5 99.6h0.6v0.6h-0.6zM39.1 115.7h0.6v0.6h-0.6zM55.8 111.5h0.6v0.6h-0.6zM50.3 111.5h0.6v0.6h-0.6zM59.5 103.5h0.6v0.6h-0.6zM38.8 115.5h0.6v0.6h-0.6zM42.3 112.7h0.6v0.6h-0.6zM48.5 114.6h0.6v0.6h-0.6zM37.8 116.0h0.6v0.6h-0.6zM48.8 110.9h0.6v0.6h-0.6zM62.7 108.2h0.6v0.6h-0.6zM57.6 107.1h0.6v0.6h-0.6zM37.0 115.4h0.6v0.6h-0.6zM35.8 114.6h0.6v0.6h-0.6zM46.5 112.5h0.6v0.6h-0.6zM47.1 113.1h0.6v0.6h-0.6zM44.7 113.0h0.6v0.6h-0.6zM62.8 106.9h0.6v0.6h-0.6zM56.4 107.2h0.6v0.6h-0.6zM46.8 109.8h0.6v0.6h-0.6zM46.5 113.9h0.6v0.6h-0.6zM52.7 108.6h0.6v0.6h-0.6zM59.9 107.5h0.6v0.6h-0.6zM40.2 114.6h0.6v0.6h-0.6zM59.8 108.5h0.6v0.6h-0.6zM55.7 108.1h0.6v0.6h-0.6zM57.4 108.5h0.6v0.6h-0.6zM54.1 106.7h0.6v0.6h-0.6zM57.2 108.8h0.6v0.6h-0.6zM57.5 110.9h0.6v0.6h-0.6zM44.0 111.3h0.6v0.6h-0.6zM59.6 114.3h0.6v0.6h-0.6zM58.4 109.7h0.6v0.6h-0.6zM60.7 110.2h0.6v0.6h-0.6zM60.6 110.6h0.6v0.6h-0.6zM60.9 108.2h0.6v0.6h-0.6zM51.9 109.4h0.6v0.6h-0.6zM47.4 113.6h0.6v0.6h-0.6zM60.2 108.4h0.6v0.6h-0.6zM34.8 116.1h0.6v0.6h-0.6zM62.2 108.8h0.6v0.6h-0.6zM57.8 110.6h0.6v0.6h-0.6zM47.7 112.7h0.6v0.6h-0.6zM61.0 107.7h0.6v0.6h-0.6zM62.7 109.7h0.6v0.6h-0.6zM49.5 111.7h0.6v0.6h-0.6zM37.9 115.4h0.6v0.6h-0.6zM54.6 104.9h0.6v0.6h-0.6zM57.0 107.6h0.6v0.6h-0.6zM43.7 111.0h0.6v0.6h-0.6zM53.9 111.7h0.6v0.6h-0.6zM55.3 111.2h0.6v0.6h-0.6zM61.7 110.7h0.6v0.6h-0.6zM53.0 112.2h0.6v0.6h-0.6zM45.5 116.2h0.6v0.6h-0.6zM51.6 113.6h0.6v0.6h-0.6zM41.8 111.5h0.6v0.6h-0.6zM58.1 111.3h0.6v0.6h-0.6zM39.3 114.7h0.6v0.6h-0.6zM53.8 108.6h0.6v0.6h-0.6zM40.8 113.6h0.6v0.6h-0.6zM40.1 115.7h0.6v0.6h-0.6zM45.9 111.8h0.6v0.6h-0.6zM45.6 110.3h0.6v0.6h-0.6zM60.1 105.6h0.6v0.6h-0.6zM44.2 109.5h0.6v0.6h-0.6zM61.5 104.1h0.6v0.6h-0.6zM49.1 109.5h0.6v0.6h-0.6zM49.7 112.0h0.6v0.6h-0.6zM54.2 110.2h0.6v0.6h-0.6zM36.0 115.6h0.6v0.6h-0.6zM51.8 113.6h0.6v0.6h-0.6zM35.1 113.6h0.6v0.6h-0.6zM47.0 108.0h0.6v0.6h-0.6zM47.8 110.9h0.6v0.6h-0.6zM55.8 107.5h0.6v0.6h-0.6zM51.6 109.9h0.6v0.6h-0.6zM59.2 108.5h0.6v0.6h-0.6zM46.7 111.0h0.6v0.6h-0.6zM52.2 106.6h0.6v0.6h-0.6zM62.5 106.3h0.6v0.6h-0.6zM51.2 111.2h0.6v0.6h-0.6zM62.2 105.3h0.6v0.6h-0.6zM44.6 114.5h0.6v0.6h-0.6zM62.7 108.9h0.6v0.6h-0.6zM62.3 105.2h0.6v0.6h-0.6zM57.8 108.5h0.6v0.6h-0.6zM57.9 109.9h0.6v0.6h-0.6zM36.8 115.4h0.6v0.6h-0.6zM61.1 107.8h0.6v0.6h-0.6zM45.1 114.9h0.6v0.6h-0.6zM54.1 110.1h0.6v0.6h-0.6zM55.8 107.6h0.6v0.6h-0.6zM52.2 114.3h0.6v0.6h-0.6zM54.1 106.8h0.6v0.6h-0.6zM60.6 108.6h0.6v0.6h-0.6zM41.6 114.7h0.6v0.6h-0.6zM37.7 114.2h0.6v0.6h-0.6zM56.4 111.0h0.6v0.6h-0.6zM58.9 108.3h0.6v0.6h-0.6zM45.0 114.7h0.6v0.6h-0.6zM57.6 110.6h0.6v0.6h-0.6zM39.7 115.5h0.6v0.6h-0.6zM61.1 111.4h0.6v0.6h-0.6zM41.3 114.3h0.6v0.6h-0.6zM61.8 108.5h0.6v0.6h-0.6zM52.3 113.4h0.6v0.6h-0.6zM47.9 111.2h0.6v0.6h-0.6zM63.8 109.0h0.6v0.6h-0.6zM35.3 115.5h0.6v0.6h-0.6zM61.6 101.7h0.6v0.6h-0.6zM43.4 113.9h0.6v0.6h-0.6zM59.5 112.5h0.6v0.6h-0.6zM38.7 115.0h0.6v0.6h-0.6zM60.2 105.7h0.6v0.6h-0.6zM58.6 110.0h0.6v0.6h-0.6zM59.0 103.9h0.6v0.6h-0.6zM38.2 112.7h0.6v0.6h-0.6zM58.3 103.5h0.6v0.6h-0.6zM50.2 110.0h0.6v0.6h-0.6zM57.5 104.5h0.6v0.6h-0.6zM62.9 107.4h0.6v0.6h-0.6zM63.9 105.8h0.6v0.6h-0.6zM45.9 113.2h0.6v0.6h-0.6zM42.0 113.5h0.6v0.6h-0.6zM53.7 112.7h0.6v0.6h-0.6zM58.3 107.7h0.6v0.6h-0.6zM64.7 100.4h0.6v0.6h-0.6zM39.6 113.8h0.6v0.6h-0.6zM40.7 114.7h0.6v0.6h-0.6zM49.6 109.1h0.6v0.6h-0.6zM47.2 113.1h0.6v0.6h-0.6zM56.4 108.0h0.6v0.6h-0.6zM46.5 114.8h0.6v0.6h-0.6zM50.0 109.0h0.6v0.6h-0.6zM63.2 103.9h0.6v0.6h-0.6zM48.4 111.3h0.6v0.6h-0.6zM42.6 112.5h0.6v0.6h-0.6zM49.9 112.5h0.6v0.6h-0.6zM49.1 108.3h0.6v0.6h-0.6zM46.5 114.3h0.6v0.6h-0.6zM41.6 115.8h0.6v0.6h-0.6zM48.4 112.8h0.6v0.6h-0.6zM53.9 106.9h0.6v0.6h-0.6zM61.2 109.0h0.6v0.6h-0.6zM46.0 113.3h0.6v0.6h-0.6zM43.7 112.8h0.6v0.6h-0.6zM36.9 115.6h0.6v0.6h-0.6zM49.3 111.9h0.6v0.6h-0.6zM46.8 111.8h0.6v0.6h-0.6zM45.5 111.4h0.6v0.6h-0.6zM41.4 115.9h0.6v0.6h-0.6zM63.8 106.7h0.6v0.6h-0.6zM52.6 108.5h0.6v0.6h-0.6zM41.1 114.1h0.6v0.6h-0.6zM41.2 115.3h0.6v0.6h-0.6zM47.3 112.6h0.6v0.6h-0.6zM58.2 111.2h0.6v0.6h-0.6zM56.0 109.0h0.6v0.6h-0.6zM38.4 114.9h0.6v0.6h-0.6zM42.4 112.1h0.6v0.6h-0.6zM51.7 111.7h0.6v0.6h-0.6zM49.7 113.0h0.6v0.6h-0.6zM47.6 112.9h0.6v0.6h-0.6zM37.8 115.2h0.6v0.6h-0.6zM42.6 114.1h0.6v0.6h-0.6zM43.6 115.9h0.6v0.6h-0.6zM42.7 113.3h0.6v0.6h-0.6zM49.8 110.9h0.6v0.6h-0.6zM57.6 108.0h0.6v0.6h-0.6zM41.3 113.5h0.6v0.6h-0.6zM56.5 110.1h0.6v0.6h-0.6zM36.6 114.8h0.6v0.6h-0.6zM48.4 111.5h0.6v0.6h-0.6zM37.1 115.4h0.6v0.6h-0.6zM53.3 106.8h0.6v0.6h-0.6zM45.9 115.3h0.6v0.6h-0.6zM60.6 103.5h0.6v0.6h-0.6zM61.8 113.5h0.6v0.6h-0.6zM34.2 115.2h0.6v0.6h-0.6zM61.4 108.8h0.6v0.6h-0.6zM45.0 112.3h0.6v0.6h-0.6zM46.3 112.8h0.6v0.6h-0.6zM36.9 114.5h0.6v0.6h-0.6zM57.1 107.7h0.6v0.6h-0.6zM60.6 109.1h0.6v0.6h-0.6zM53.5 112.3h0.6v0.6h-0.6zM60.6 107.3h0.6v0.6h-0.6zM58.7 109.1h0.6v0.6h-0.6zM45.5 115.8h0.6v0.6h-0.6zM59.8 110.4h0.6v0.6h-0.6zM51.4 113.1h0.6v0.6h-0.6zM55.2 111.8h0.6v0.6h-0.6zM54.4 110.8h0.6v0.6h-0.6zM55.2 105.5h0.6v0.6h-0.6zM58.2 108.2h0.6v0.6h-0.6zM40.1 115.7h0.6v0.6h-0.6zM38.3 114.8h0.6v0.6h-0.6zM58.1 106.3h0.6v0.6h-0.6zM62.6 106.4h0.6v0.6h-0.6zM46.6 115.6h0.6v0.6h-0.6zM57.3 103.9h0.6v0.6h-0.6zM52.0 106.6h0.6v0.6h-0.6zM54.3 109.1h0.6v0.6h-0.6zM51.1 110.1h0.6v0.6h-0.6zM59.1 109.1h0.6v0.6h-0.6zM59.6 109.5h0.6v0.6h-0.6zM63.2 108.5h0.6v0.6h-0.6zM64.3 111.3h0.6v0.6h-0.6zM61.3 110.1h0.6v0.6h-0.6zM47.9 114.1h0.6v0.6h-0.6zM45.3 113.7h0.6v0.6h-0.6zM46.2 111.0h0.6v0.6h-0.6zM39.6 112.7h0.6v0.6h-0.6zM35.7 115.9h0.6v0.6h-0.6zM55.6 109.5h0.6v0.6h-0.6zM49.2 108.4h0.6v0.6h-0.6zM63.9 108.7h0.6v0.6h-0.6zM56.8 113.2h0.6v0.6h-0.6zM63.5 111.3h0.6v0.6h-0.6zM40.4 115.9h0.6v0.6h-0.6zM37.2 116.1h0.6v0.6h-0.6zM44.3 113.7h0.6v0.6h-0.6zM38.8 113.8h0.6v0.6h-0.6zM41.6 115.4h0.6v0.6h-0.6zM63.7 101.7h0.6v0.6h-0.6zM38.8 115.1h0.6v0.6h-0.6zM34.7 115.2h0.6v0.6h-0.6zM63.6 105.4h0.6v0.6h-0.6zM47.6 113.5h0.6v0.6h-0.6zM45.5 114.4h0.6v0.6h-0.6zM48.4 110.3h0.6v0.6h-0.6zM40.4 112.8h0.6v0.6h-0.6zM44.0 113.8h0.6v0.6h-0.6zM55.8 106.2h0.6v0.6h-0.6zM61.1 108.1h0.6v0.6h-0.6zM46.4 113.1h0.6v0.6h-0.6zM61.2 102.4h0.6v0.6h-0.6zM52.8 112.2h0.6v0.6h-0.6zM38.4 115.7h0.6v0.6h-0.6zM51.1 112.4h0.6v0.6h-0.6zM37.9 116.2h0.6v0.6h-0.6zM54.9 112.6h0.6v0.6h-0.6zM59.7 109.9h0.6v0.6h-0.6zM44.1 110.8h0.6v0.6h-0.6zM47.1 112.0h0.6v0.6h-0.6zM63.5 107.4h0.6v0.6h-0.6zM43.2 113.5h0.6v0.6h-0.6zM39.2 113.9h0.6v0.6h-0.6zM61.9 109.1h0.6v0.6h-0.6zM58.7 103.3h0.6v0.6h-0.6zM57.9 110.1h0.6v0.6h-0.6zM40.8 114.2h0.6v0.6h-0.6zM62.8 109.1h0.6v0.6h-0.6zM41.5 112.4h0.6v0.6h-0.6zM60.5 108.8h0.6v0.6h-0.6zM43.3 112.8h0.6v0.6h-0.6zM57.6 107.3h0.6v0.6h-0.6zM50.0 109.3h0.6v0.6h-0.6zM52.1 113.0h0.6v0.6h-0.6zM46.1 112.8h0.6v0.6h-0.6zM38.0 114.9h0.6v0.6h-0.6zM59.6 109.7h0.6v0.6h-0.6zM40.0 114.7h0.6v0.6h-0.6zM51.1 115.9h0.6v0.6h-0.6zM37.5 114.1h0.6v0.6h-0.6zM63.0 107.5h0.6v0.6h-0.6zM62.8 106.9h0.6v0.6h-0.6zM54.7 110.7h0.6v0.6h-0.6zM57.9 112.1h0.6v0.6h-0.6zM43.4 112.9h0.6v0.6h-0.6zM49.7 111.6h0.6v0.6h-0.6zM51.1 113.8h0.6v0.6h-0.6zM57.4 112.4h0.6v0.6h-0.6zM56.7 109.9h0.6v0.6h-0.6zM51.2 107.6h0.6v0.6h-0.6zM38.8 112.7h0.6v0.6h-0.6zM56.3 108.9h0.6v0.6h-0.6zM38.4 115.4h0.6v0.6h-0.6zM53.8 109.3h0.6v0.6h-0.6zM43.3 114.0h0.6v0.6h-0.6zM58.4 106.6h0.6v0.6h-0.6zM59.1 110.0h0.6v0.6h-0.6zM41.8 113.6h0.6v0.6h-0.6zM55.9 108.1h0.6v0.6h-0.6zM45.8 114.0h0.6v0.6h-0.6zM57.0 103.1h0.6v0.6h-0.6zM58.8 111.1h0.6v0.6h-0.6zM44.8 113.5h0.6v0.6h-0.6zM59.2 110.0h0.6v0.6h-0.6zM47.0 111.7h0.6v0.6h-0.6zM52.9 109.5h0.6v0.6h-0.6zM46.4 109.9h0.6v0.6h-0.6zM58.4 109.0h0.6v0.6h-0.6zM38.7 115.2h0.6v0.6h-0.6zM59.0 107.2h0.6v0.6h-0.6zM56.8 110.6h0.6v0.6h-0.6zM62.5 109.5h0.6v0.6h-0.6zM43.2 111.3h0.6v0.6h-0.6zM60.0 106.7h0.6v0.6h-0.6zM41.4 113.5h0.6v0.6h-0.6zM42.7 112.4h0.6v0.6h-0.6zM62.3 103.1h0.6v0.6h-0.6zM61.1 106.2h0.6v0.6h-0.6zM54.5 111.6h0.6v0.6h-0.6zM36.8 115.9h0.6v0.6h-0.6zM60.7 107.2h0.6v0.6h-0.6zM36.1 114.8h0.6v0.6h-0.6zM40.7 114.0h0.6v0.6h-0.6zM39.5 115.7h0.6v0.6h-0.6zM46.3 110.4h0.6v0.6h-0.6zM60.2 109.8h0.6v0.6h-0.6zM41.0 114.2h0.6v0.6h-0.6zM63.1 108.5h0.6v0.6h-0.6zM52.1 108.7h0.6v0.6h-0.6zM58.7 108.8h0.6v0.6h-0.6zM56.5 109.7h0.6v0.6h-0.6zM59.2 103.1h0.6v0.6h-0.6zM53.5 110.8h0.6v0.6h-0.6zM40.7 113.5h0.6v0.6h-0.6zM51.8 111.5h0.6v0.6h-0.6zM44.7 111.2h0.6v0.6h-0.6zM62.7 109.2h0.6v0.6h-0.6zM38.6 114.7h0.6v0.6h-0.6zM53.9 108.3h0.6v0.6h-0.6zM39.6 112.8h0.6v0.6h-0.6zM37.7 113.8h0.6v0.6h-0.6zM62.6 105.6h0.6v0.6h-0.6zM43.2 112.3h0.6v0.6h-0.6zM36.8 113.3h0.6v0.6h-0.6zM59.3 103.1h0.6v0.6h-0.6zM37.8 115.0h0.6v0.6h-0.6zM48.8 111.0h0.6v0.6h-0.6zM58.5 108.5h0.6v0.6h-0.6zM35.9 116.0h0.6v0.6h-0.6zM46.6 115.2h0.6v0.6h-0.6zM53.2 111.8h0.6v0.6h-0.6zM48.3 112.9h0.6v0.6h-0.6zM41.2 113.8h0.6v0.6h-0.6zM46.7 112.3h0.6v0.6h-0.6zM60.0 105.8h0.6v0.6h-0.6zM58.4 110.4h0.6v0.6h-0.6zM40.6 113.4h0.6v0.6h-0.6zM56.7 105.2h0.6v0.6h-0.6zM61.0 101.3h0.6v0.6h-0.6zM61.2 107.6h0.6v0.6h-0.6zM63.4 109.4h0.6v0.6h-0.6zM54.6 112.6h0.6v0.6h-0.6zM39.9 114.6h0.6v0.6h-0.6zM51.2 108.9h0.6v0.6h-0.6zM60.5 107.7h0.6v0.6h-0.6zM64.1 107.6h0.6v0.6h-0.6zM53.3 107.9h0.6v0.6h-0.6zM57.7 108.3h0.6v0.6h-0.6zM41.9 114.1h0.6v0.6h-0.6zM46.1 114.2h0.6v0.6h-0.6zM56.2 109.9h0.6v0.6h-0.6zM58.5 112.9h0.6v0.6h-0.6zM46.3 112.6h0.6v0.6h-0.6zM45.9 111.3h0.6v0.6h-0.6zM57.0 110.0h0.6v0.6h-0.6zM53.7 105.7h0.6v0.6h-0.6zM60.2 111.0h0.6v0.6h-0.6zM61.6 105.3h0.6v0.6h-0.6zM61.9 108.8h0.6v0.6h-0.6zM38.8 114.5h0.6v0.6h-0.6zM43.3 114.7h0.6v0.6h-0.6zM42.0 114.0h0.6v0.6h-0.6zM52.2 110.2h0.6v0.6h-0.6zM48.9 106.5h0.6v0.6h-0.6zM44.2 112.4h0.6v0.6h-0.6zM51.8 109.9h0.6v0.6h-0.6zM51.6 109.4h0.6v0.6h-0.6zM59.8 106.8h0.6v0.6h-0.6zM55.4 107.5h0.6v0.6h-0.6zM49.3 110.1h0.6v0.6h-0.6zM57.5 108.6h0.6v0.6h-0.6zM39.6 115.8h0.6v0.6h-0.6zM44.1 114.9h0.6v0.6h-0.6zM45.1 113.0h0.6v0.6h-0.6zM42.2 113.4h0.6v0.6h-0.6zM60.3 109.0h0.6v0.6h-0.6zM56.0 109.3h0.6v0.6h-0.6zM63.2 107.1h0.6v0.6h-0.6zM43.6 112.2h0.6v0.6h-0.6zM43.5 115.4h0.6v0.6h-0.6zM50.3 107.4h0.6v0.6h-0.6zM58.6 112.3h0.6v0.6h-0.6zM54.0 109.7h0.6v0.6h-0.6zM47.1 112.2h0.6v0.6h-0.6zM38.3 116.3h0.6v0.6h-0.6zM55.7 111.8h0.6v0.6h-0.6zM55.1 110.6h0.6v0.6h-0.6zM51.7 111.4h0.6v0.6h-0.6zM35.9 116.1h0.6v0.6h-0.6zM59.1 105.2h0.6v0.6h-0.6zM48.4 111.2h0.6v0.6h-0.6zM46.1 110.5h0.6v0.6h-0.6zM55.3 108.1h0.6v0.6h-0.6zM37.4 114.7h0.6v0.6h-0.6zM59.4 106.6h0.6v0.6h-0.6zM50.7 112.7h0.6v0.6h-0.6zM50.3 108.4h0.6v0.6h-0.6zM59.6 111.0h0.6v0.6h-0.6zM51.5 110.9h0.6v0.6h-0.6zM45.7 113.7h0.6v0.6h-0.6zM42.4 114.0h0.6v0.6h-0.6zM63.4 109.6h0.6v0.6h-0.6zM36.4 115.7h0.6v0.6h-0.6zM61.3 109.9h0.6v0.6h-0.6zM62.2 110.1h0.6v0.6h-0.6zM55.9 110.5h0.6v0.6h-0.6zM41.1 114.8h0.6v0.6h-0.6zM59.9 105.3h0.6v0.6h-0.6zM54.7 110.9h0.6v0.6h-0.6zM45.3 111.3h0.6v0.6h-0.6zM51.3 113.2h0.6v0.6h-0.6zM59.9 112.0h0.6v0.6h-0.6zM55.5 111.1h0.6v0.6h-0.6zM60.4 111.9h0.6v0.6h-0.6zM48.6 113.5h0.6v0.6h-0.6zM50.1 112.9h0.6v0.6h-0.6zM47.0 114.1h0.6v0.6h-0.6zM42.0 111.4h0.6v0.6h-0.6zM54.5 110.6h0.6v0.6h-0.6zM54.3 111.6h0.6v0.6h-0.6zM56.3 106.5h0.6v0.6h-0.6zM62.2 109.1h0.6v0.6h-0.6zM55.9 109.2h0.6v0.6h-0.6zM35.7 115.7h0.6v0.6h-0.6zM62.6 103.4h0.6v0.6h-0.6zM61.9 110.2h0.6v0.6h-0.6zM52.4 109.8h0.6v0.6h-0.6zM54.5 110.5h0.6v0.6h-0.6zM47.7 112.2h0.6v0.6h-0.6zM37.0 113.6h0.6v0.6h-0.6zM60.8 105.4h0.6v0.6h-0.6zM54.2 106.6h0.6v0.6h-0.6zM42.5 114.4h0.6v0.6h-0.6zM47.9 109.8h0.6v0.6h-0.6zM55.4 111.7h0.6v0.6h-0.6zM37.2 114.7h0.6v0.6h-0.6zM61.2 113.0h0.6v0.6h-0.6zM57.8 104.8h0.6v0.6h-0.6zM46.0 112.4h0.6v0.6h-0.6zM57.7 106.5h0.6v0.6h-0.6zM56.0 110.8h0.6v0.6h-0.6zM44.0 113.2h0.6v0.6h-0.6zM59.1 108.2h0.6v0.6h-0.6zM40.0 114.6h0.6v0.6h-0.6zM37.8 116.3h0.6v0.6h-0.6zM42.6 113.0h0.6v0.6h-0.6zM53.6 113.6h0.6v0.6h-0.6zM62.0 110.9h0.6v0.6h-0.6zM38.7 115.0h0.6v0.6h-0.6zM53.7 112.6h0.6v0.6h-0.6zM59.2 110.8h0.6v0.6h-0.6zM46.6 111.4h0.6v0.6h-0.6zM48.3 110.5h0.6v0.6h-0.6zM46.6 113.8h0.6v0.6h-0.6zM61.4 109.6h0.6v0.6h-0.6zM46.3 112.1h0.6v0.6h-0.6zM39.3 113.4h0.6v0.6h-0.6zM48.4 113.0h0.6v0.6h-0.6zM40.3 115.4h0.6v0.6h-0.6zM55.7 109.9h0.6v0.6h-0.6zM55.0 110.1h0.6v0.6h-0.6zM42.0 114.0h0.6v0.6h-0.6zM59.8 104.9h0.6v0.6h-0.6zM50.7 110.5h0.6v0.6h-0.6zM40.4 115.3h0.6v0.6h-0.6zM59.4 109.5h0.6v0.6h-0.6zM61.3 101.1h0.6v0.6h-0.6zM44.9 114.2h0.6v0.6h-0.6zM44.5 112.2h0.6v0.6h-0.6zM63.3 102.4h0.6v0.6h-0.6zM57.2 109.2h0.6v0.6h-0.6zM35.8 116.1h0.6v0.6h-0.6zM44.4 112.6h0.6v0.6h-0.6zM56.4 112.6h0.6v0.6h-0.6zM35.1 116.1h0.6v0.6h-0.6zM43.9 115.5h0.6v0.6h-0.6zM51.3 109.2h0.6v0.6h-0.6zM52.7 109.2h0.6v0.6h-0.6zM49.6 112.3h0.6v0.6h-0.6zM62.0 106.7h0.6v0.6h-0.6zM44.5 114.0h0.6v0.6h-0.6zM39.8 114.1h0.6v0.6h-0.6zM58.0 104.3h0.6v0.6h-0.6zM42.2 114.3h0.6v0.6h-0.6zM58.1 110.9h0.6v0.6h-0.6zM56.5 111.2h0.6v0.6h-0.6zM59.9 109.1h0.6v0.6h-0.6zM62.6 103.8h0.6v0.6h-0.6zM55.4 105.0h0.6v0.6h-0.6zM47.5 111.6h0.6v0.6h-0.6zM60.5 111.4h0.6v0.6h-0.6zM38.3 114.7h0.6v0.6h-0.6zM38.7 114.1h0.6v0.6h-0.6zM36.1 115.7h0.6v0.6h-0.6zM51.2 108.5h0.6v0.6h-0.6zM39.0 114.8h0.6v0.6h-0.6zM62.8 109.3h0.6v0.6h-0.6zM56.0 107.9h0.6v0.6h-0.6zM54.6 106.2h0.6v0.6h-0.6zM50.9 112.6h0.6v0.6h-0.6zM55.9 113.5h0.6v0.6h-0.6zM43.0 113.0h0.6v0.6h-0.6zM48.1 109.4h0.6v0.6h-0.6zM51.7 107.9h0.6v0.6h-0.6zM57.0 110.5h0.6v0.6h-0.6zM45.2 114.8h0.6v0.6h-0.6zM56.5 113.1h0.6v0.6h-0.6zM56.5 110.8h0.6v0.6h-0.6zM57.5 111.9h0.6v0.6h-0.6zM37.5 115.4h0.6v0.6h-0.6zM59.8 107.4h0.6v0.6h-0.6zM57.1 110.8h0.6v0.6h-0.6zM46.0 112.2h0.6v0.6h-0.6zM44.6 114.4h0.6v0.6h-0.6zM55.1 109.4h0.6v0.6h-0.6zM62.1 106.5h0.6v0.6h-0.6zM52.9 107.9h0.6v0.6h-0.6zM51.1 113.6h0.6v0.6h-0.6zM55.4 113.1h0.6v0.6h-0.6zM50.2 113.6h0.6v0.6h-0.6zM62.2 109.7h0.6v0.6h-0.6zM50.3 112.6h0.6v0.6h-0.6zM57.2 107.6h0.6v0.6h-0.6zM42.6 114.1h0.6v0.6h-0.6zM62.9 108.3h0.6v0.6h-0.6zM60.2 110.8h0.6v0.6h-0.6zM47.2 113.2h0.6v0.6h-0.6zM48.8 113.9h0.6v0.6h-0.6zM37.4 115.2h0.6v0.6h-0.6zM39.1 116.1h0.6v0.6h-0.6zM40.7 113.7h0.6v0.6h-0.6zM39.7 114.8h0.6v0.6h-0.6zM50.9 112.6h0.6v0.6h-0.6zM49.2 115.3h0.6v0.6h-0.6zM64.3 109.0h0.6v0.6h-0.6zM58.6 108.8h0.6v0.6h-0.6zM36.0 116.2h0.6v0.6h-0.6zM45.0 113.8h0.6v0.6h-0.6zM44.2 113.6h0.6v0.6h-0.6zM56.3 109.9h0.6v0.6h-0.6zM41.2 116.2h0.6v0.6h-0.6zM47.5 109.6h0.6v0.6h-0.6zM53.9 109.7h0.6v0.6h-0.6zM63.8 109.3h0.6v0.6h-0.6zM48.8 113.4h0.6v0.6h-0.6zM40.2 115.5h0.6v0.6h-0.6zM46.1 114.9h0.6v0.6h-0.6zM42.8 114.7h0.6v0.6h-0.6zM60.4 109.1h0.6v0.6h-0.6zM47.3 112.7h0.6v0.6h-0.6zM47.3 115.0h0.6v0.6h-0.6z" fill="#000" fill-opacity="0.33"/>
<path d="M41.6 105.3h0.6v0.6h-0.6zM66.2 81.7h0.6v0.6h-0.6zM49.5 90.2h0.6v0.6h-0.6zM51.4 100.2h0.6v0.6h-0.6zM33.9 103.2h0.6v0.6h-0.6zM42.8 100.0h0.6v0.6h-0.6zM30.7 104.0h0.6v0.6h-0.6zM36.7 100.0h0.6v0.6h-0.6zM57.8 88.3h0.6v0.6h-0.6zM32.4 104.5h0.6v0.6h-0.6zM46.7 97.4h0.6v0.6h-0.6zM61.3 102.0h0.6v0.6h-0.6zM39.4 97.8h0.6v0.6h-0.6zM61.8 94.2h0.6v0.6h-0.6zM58.4 93.0h0.6v0.6h-0.6zM52.3 90.7h0.6v0.6h-0.6zM59.3 107.5h0.6v0.6h-0.6zM48.7 98.5h0.6v0.6h-0.6zM58.3 90.7h0.6v0.6h-0.6zM63.1 101.2h0.6v0.6h-0.6zM43.5 106.1h0.6v0.6h-0.6zM62.1 102.3h0.6v0.6h-0.6zM40.3 107.3h0.6v0.6h-0.6zM57.8 91.3h0.6v0.6h-0.6zM61.0 96.0h0.6v0.6h-0.6zM57.5 100.5h0.6v0.6h-0.6zM30.3 110.9h0.6v0.6h-0.6zM60.0 95.0h0.6v0.6h-0.6zM61.4 82.8h0.6v0.6h-0.6zM50.2 102.9h0.6v0.6h-0.6zM60.6 100.9h0.6v0.6h-0.6zM59.6 103.4h0.6v0.6h-0.6zM38.2 102.9h0.6v0.6h-0.6zM41.4 94.4h0.6v0.6h-0.6zM36.4 107.0h0.6v0.6h-0.6zM38.9 110.7h0.6v0.6h-0.6zM33.1 101.9h0.6v0.6h-0.6zM65.0 96.0h0.6v0.6h-0.6zM58.7 97.3h0.6v0.6h-0.6zM56.1 106.6h0.6v0.6h-0.6zM44.6 98.5h0.6v0.6h-0.6zM61.2 99.6h0.6v0.6h-0.6zM36.3 106.0h0.6v0.6h-0.6zM35.3 113.3h0.6v0.6h-0.6zM47.5 98.9h0.6v0.6h-0.6zM37.6 108.7h0.6v0.6h-0.6zM47.9 104.2h0.6v0.6h-0.6zM60.5 90.6h0.6v0.6h-0.6zM31.9 110.7h0.6v0.6h-0.6zM40.5 99.2h0.6v0.6h-0.6zM40.1 104.4h0.6v0.6h-0.6zM59.8 96.8h0.6v0.6h-0.6zM63.1 92.1h0.6v0.6h-0.6zM66.4 91.1h0.6v0.6h-0.6zM43.7 104.8h0.6v0.6h-0.6zM50.4 104.5h0.6v0.6h-0.6zM55.1 98.2h0.6v0.6h-0.6zM65.5 92.9h0.6v0.6h-0.6zM36.0 107.5h0.6v0.6h-0.6zM59.6 97.6h0.6v0.6h-0.6zM56.6 104.4h0.6v0.6h-0.6zM36.6 98.2h0.6v0.6h-0.6zM48.7 105.4h0.6v0.6h-0.6zM40.2 113.7h0.6v0.6h-0.6zM57.1 100.8h0.6v0.6h-0.6zM39.7 102.4h0.6v0.6h-0.6zM52.0 112.8h0.6v0.6h-0.6zM38.4 102.6h0.6v0.6h-0.6zM34.0 103.3h0.6v0.6h-0.6zM46.8 97.9h0.6v0.6h-0.6zM41.7 102.3h0.6v0.6h-0.6zM48.7 95.6h0.6v0.6h-0.6zM40.7 101.0h0.6v0.6h-0.6zM61.5 97.3h0.6v0.6h-0.6zM30.1 106.0h0.6v0.6h-0.6zM36.2 115.8h0.6v0.6h-0.6zM38.3 103.0h0.6v0.6h-0.6zM64.3 87.0h0.6v0.6h-0.6zM54.6 113.5h0.6v0.6h-0.6zM44.6 99.3h0.6v0.6h-0.6zM29.7 104.1h0.6v0.6h-0.6zM48.2 101.4h0.6v0.6h-0.6zM60.3 88.3h0.6v0.6h-0.6zM40.0 113.8h0.6v0.6h-0.6zM31.1 110.2h0.6v0.6h-0.6zM51.0 91.3h0.6v0.6h-0.6zM61.6 88.7h0.6v0.6h-0.6zM59.4 82.2h0.6v0.6h-0.6zM43.7 103.7h0.6v0.6h-0.6zM52.0 102.7h0.6v0.6h-0.6zM37.3 105.6h0.6v0.6h-0.6zM32.4 113.2h0.6v0.6h-0.6zM37.9 106.7h0.6v0.6h-0.6zM59.7 105.5h0.6v0.6h-0.6zM61.7 102.2h0.6v0.6h-0.6zM37.3 105.0h0.6v0.6h-0.6zM63.0 85.3h0.6v0.6h-0.6zM52.7 99.2h0.6v0.6h-0.6zM60.0 103.5h0.6v0.6h-0.6zM40.0 103.2h0.6v0.6h-0.6zM49.8 104.4h0.6v0.6h-0.6zM64.8 85.9h0.6v0.6h-0.6zM31.0 101.5h0.6v0.6h-0.6zM49.1 99.1h0.6v0.6h-0.6zM42.8 111.4h0.6v0.6h-0.6zM44.2 96.4h0.6v0.6h-0.6zM55.8 101.1h0.6v0.6h-0.6zM65.8 101.0h0.6v0.6h-0.6zM46.5 104.7h0.6v0.6h-0.6zM62.5 94.9h0.6v0.6h-0.6zM59.7 92.7h0.6v0.6h-0.6zM35.3 110.3h0.6v0.6h-0.6zM44.7 98.9h0.6v0.6h-0.6zM31.9 101.5h0.6v0.6h-0.6zM55.2 108.7h0.6v0.6h-0.6zM39.2 100.1h0.6v0.6h-0.6zM66.4 85.8h0.6v0.6h-0.6z" fill="#000" fill-opacity="0.25"/>
<path d="M46.1 112.2h0.7v0.7h-0.7zM42.5 114.1h0.7v0.7h-0.7zM44.9 112.9h0.7v0.7h-0.7zM42.4 112.8h0.7v0.7h-0.7zM48.2 112.3h0.7v0.7h-0.7zM40.5 114.2h0.7v0.7h-0.7zM43.5 113.3h0.7v0.7h-0.7zM39.0 115.1h0.7v0.7h-0.7zM44.5 112.3h0.7v0.7h-0.7zM38.2 114.7h0.7v0.7h-0.7zM41.6 113.2h0.7v0.7h-0.7zM47.7 112.4h0.7v0.7h-0.7zM44.2 113.7h0.7v0.7h-0.7zM41.1 114.1h0.7v0.7h-0.7zM43.6 112.9h0.7v0.7h-0.7zM38.6 115.6h0.7v0.7h-0.7zM40.3 114.3h0.7v0.7h-0.7zM48.8 110.8h0.7v0.7h-0.7zM38.7 114.0h0.7v0.7h-0.7zM46.4 112.2h0.7v0.7h-0.7zM47.6 113.0h0.7v0.7h-0.7zM45.4 112.6h0.7v0.7h-0.7zM46.8 111.9h0.7v0.7h-0.7zM39.5 114.8h0.7v0.7h-0.7zM42.6 113.6h0.7v0.7h-0.7zM41.0 113.8h0.7v0.7h-0.7zM40.1 114.7h0.7v0.7h-0.7zM40.6 114.2h0.7v0.7h-0.7zM40.9 114.6h0.7v0.7h-0.7zM49.7 110.9h0.7v0.7h-0.7zM41.7 114.2h0.7v0.7h-0.7zM47.1 112.2h0.7v0.7h-0.7zM46.8 112.1h0.7v0.7h-0.7zM47.0 112.2h0.7v0.7h-0.7zM43.6 113.2h0.7v0.7h-0.7zM43.5 114.1h0.7v0.7h-0.7zM39.6 114.4h0.7v0.7h-0.7zM47.6 112.2h0.7v0.7h-0.7zM43.1 114.3h0.7v0.7h-0.7zM46.2 112.3h0.7v0.7h-0.7zM48.2 112.5h0.7v0.7h-0.7zM44.8 112.0h0.7v0.7h-0.7zM42.3 114.0h0.7v0.7h-0.7zM48.6 111.8h0.7v0.7h-0.7zM38.4 115.1h0.7v0.7h-0.7zM46.2 112.6h0.7v0.7h-0.7zM41.0 114.1h0.7v0.7h-0.7zM45.9 112.4h0.7v0.7h-0.7zM40.0 115.1h0.7v0.7h-0.7zM48.6 111.6h0.7v0.7h-0.7zM43.5 113.0h0.7v0.7h-0.7zM39.5 115.3h0.7v0.7h-0.7zM47.5 112.0h0.7v0.7h-0.7zM41.0 113.8h0.7v0.7h-0.7zM39.0 115.3h0.7v0.7h-0.7zM48.5 111.5h0.7v0.7h-0.7zM37.8 114.7h0.7v0.7h-0.7zM40.4 114.5h0.7v0.7h-0.7zM40.0 114.6h0.7v0.7h-0.7zM42.3 113.8h0.7v0.7h-0.7zM49.7 110.8h0.7v0.7h-0.7zM38.6 116.0h0.7v0.7h-0.7zM50.1 111.6h0.7v0.7h-0.7zM41.5 114.4h0.7v0.7h-0.7zM42.7 113.8h0.7v0.7h-0.7zM47.4 111.0h0.7v0.7h-0.7zM49.2 112.2h0.7v0.7h-0.7zM38.6 114.5h0.7v0.7h-0.7zM46.0 112.8h0.7v0.7h-0.7zM43.0 113.0h0.7v0.7h-0.7zM38.9 115.6h0.7v0.7h-0.7zM50.5 111.0h0.7v0.7h-0.7zM42.0 113.6h0.7v0.7h-0.7zM46.7 113.2h0.7v0.7h-0.7zM46.3 112.7h0.7v0.7h-0.7zM41.7 113.8h0.7v0.7h-0.7zM40.7 114.0h0.7v0.7h-0.7zM42.9 113.9h0.7v0.7h-0.7zM48.4 111.6h0.7v0.7h-0.7zM48.3 112.3h0.7v0.7h-0.7zM45.3 112.4h0.7v0.7h-0.7zM41.9 113.2h0.7v0.7h-0.7zM41.4 113.7h0.7v0.7h-0.7zM42.0 113.9h0.7v0.7h-0.7zM42.7 114.1h0.7v0.7h-0.7zM43.1 113.8h0.7v0.7h-0.7zM42.4 114.3h0.7v0.7h-0.7zM41.2 114.1h0.7v0.7h-0.7zM46.8 112.2h0.7v0.7h-0.7zM48.3 112.0h0.7v0.7h-0.7zM48.8 111.7h0.7v0.7h-0.7zM39.7 114.6h0.7v0.7h-0.7zM44.4 112.8h0.7v0.7h-0.7zM39.9 115.2h0.7v0.7h-0.7zM49.1 112.4h0.7v0.7h-0.7zM43.8 113.9h0.7v0.7h-0.7zM37.1 114.7h0.7v0.7h-0.7zM48.8 112.5h0.7v0.7h-0.7zM46.1 112.1h0.7v0.7h-0.7zM39.3 114.8h0.7v0.7h-0.7zM49.4 112.1h0.7v0.7h-0.7zM37.9 114.6h0.7v0.7h-0.7zM48.8 111.1h0.7v0.7h-0.7zM49.1 110.9h0.7v0.7h-0.7zM43.3 114.3h0.7v0.7h-0.7zM45.2 113.4h0.7v0.7h-0.7zM42.0 113.4h0.7v0.7h-0.7zM43.1 113.5h0.7v0.7h-0.7zM47.8 112.0h0.7v0.7h-0.7zM47.3 112.2h0.7v0.7h-0.7zM43.4 113.4h0.7v0.7h-0.7zM47.8 112.6h0.7v0.7h-0.7zM41.4 113.9h0.7v0.7h-0.7zM47.2 112.5h0.7v0.7h-0.7zM40.7 113.4h0.7v0.7h-0.7zM47.7 112.1h0.7v0.7h-0.7zM40.2 114.4h0.7v0.7h-0.7zM44.0 113.9h0.7v0.7h-0.7zM38.8 113.6h0.7v0.7h-0.7zM37.9 115.4h0.7v0.7h-0.7zM42.8 114.1h0.7v0.7h-0.7zM37.6 115.0h0.7v0.7h-0.7zM38.6 115.5h0.7v0.7h-0.7zM42.7 114.8h0.7v0.7h-0.7zM46.4 112.6h0.7v0.7h-0.7zM42.1 114.3h0.7v0.7h-0.7zM38.1 115.9h0.7v0.7h-0.7zM42.3 113.9h0.7v0.7h-0.7zM42.0 114.2h0.7v0.7h-0.7zM41.3 114.7h0.7v0.7h-0.7zM41.5 113.7h0.7v0.7h-0.7zM43.7 113.0h0.7v0.7h-0.7zM43.6 113.8h0.7v0.7h-0.7zM45.3 113.2h0.7v0.7h-0.7zM48.7 111.1h0.7v0.7h-0.7zM48.7 111.4h0.7v0.7h-0.7zM45.6 113.2h0.7v0.7h-0.7zM41.8 113.1h0.7v0.7h-0.7zM37.4 115.0h0.7v0.7h-0.7zM42.8 113.9h0.7v0.7h-0.7zM41.1 114.7h0.7v0.7h-0.7zM45.0 112.3h0.7v0.7h-0.7zM40.6 114.1h0.7v0.7h-0.7zM44.7 113.0h0.7v0.7h-0.7zM41.1 115.0h0.7v0.7h-0.7zM40.2 114.8h0.7v0.7h-0.7zM39.0 114.2h0.7v0.7h-0.7zM42.6 113.9h0.7v0.7h-0.7zM39.8 115.0h0.7v0.7h-0.7zM39.1 114.5h0.7v0.7h-0.7z" fill="#000" fill-opacity="0.6"/>
<path d="M47.1 112.5h0.7v0.7h-0.7zM43.7 113.0h0.7v0.7h-0.7zM44.8 113.7h0.7v0.7h-0.7zM41.7 114.2h0.7v0.7h-0.7zM46.1 113.0h0.7v0.7h-0.7zM45.2 112.2h0.7v0.7h-0.7zM42.3 113.1h0.7v0.7h-0.7zM42.3 113.7h0.7v0.7h-0.7zM45.6 112.2h0.7v0.7h-0.7zM46.2 112.8h0.7v0.7h-0.7zM45.6 112.9h0.7v0.7h-0.7zM43.1 114.2h0.7v0.7h-0.7zM43.9 113.6h0.7v0.7h-0.7zM45.7 112.0h0.7v0.7h-0.7zM45.9 113.2h0.7v0.7h-0.7zM46.2 112.1h0.7v0.7h-0.7zM44.0 112.8h0.7v0.7h-0.7zM42.2 113.9h0.7v0.7h-0.7zM44.4 113.1h0.7v0.7h-0.7zM45.0 113.5h0.7v0.7h-0.7zM43.1 115.2h0.7v0.7h-0.7zM44.9 113.2h0.7v0.7h-0.7zM42.1 114.7h0.7v0.7h-0.7zM44.3 113.0h0.7v0.7h-0.7zM42.5 113.9h0.7v0.7h-0.7zM48.5 111.4h0.7v0.7h-0.7zM46.4 112.2h0.7v0.7h-0.7zM44.6 113.8h0.7v0.7h-0.7zM40.9 114.5h0.7v0.7h-0.7zM41.1 114.5h0.7v0.7h-0.7zM45.2 112.4h0.7v0.7h-0.7zM43.7 114.3h0.7v0.7h-0.7zM44.5 113.0h0.7v0.7h-0.7zM40.1 114.1h0.7v0.7h-0.7zM40.3 114.4h0.7v0.7h-0.7zM44.2 113.6h0.7v0.7h-0.7zM43.4 113.8h0.7v0.7h-0.7zM41.0 115.1h0.7v0.7h-0.7zM41.8 113.3h0.7v0.7h-0.7zM45.5 112.5h0.7v0.7h-0.7zM43.1 114.4h0.7v0.7h-0.7zM45.5 114.1h0.7v0.7h-0.7zM47.4 111.7h0.7v0.7h-0.7zM44.5 113.0h0.7v0.7h-0.7zM43.8 112.4h0.7v0.7h-0.7zM42.3 113.3h0.7v0.7h-0.7zM46.4 111.9h0.7v0.7h-0.7zM40.5 114.3h0.7v0.7h-0.7zM41.1 113.5h0.7v0.7h-0.7zM43.9 113.8h0.7v0.7h-0.7zM40.4 114.4h0.7v0.7h-0.7zM46.0 112.4h0.7v0.7h-0.7zM42.5 114.2h0.7v0.7h-0.7zM44.9 112.8h0.7v0.7h-0.7zM42.9 112.9h0.7v0.7h-0.7zM43.2 113.5h0.7v0.7h-0.7zM44.2 114.4h0.7v0.7h-0.7zM39.3 114.8h0.7v0.7h-0.7zM41.4 114.4h0.7v0.7h-0.7zM42.7 113.6h0.7v0.7h-0.7zM48.8 111.5h0.7v0.7h-0.7zM45.7 112.9h0.7v0.7h-0.7zM45.0 111.4h0.7v0.7h-0.7zM41.2 113.4h0.7v0.7h-0.7zM45.7 112.3h0.7v0.7h-0.7zM46.6 112.2h0.7v0.7h-0.7zM45.7 113.5h0.7v0.7h-0.7zM50.2 112.6h0.7v0.7h-0.7zM40.8 114.6h0.7v0.7h-0.7zM41.4 114.3h0.7v0.7h-0.7zM43.3 113.9h0.7v0.7h-0.7zM41.8 114.8h0.7v0.7h-0.7zM43.7 112.7h0.7v0.7h-0.7zM44.9 112.7h0.7v0.7h-0.7zM43.8 113.4h0.7v0.7h-0.7zM44.1 113.4h0.7v0.7h-0.7zM44.4 112.0h0.7v0.7h-0.7zM45.6 112.9h0.7v0.7h-0.7zM42.0 113.0h0.7v0.7h-0.7zM42.4 114.2h0.7v0.7h-0.7zM46.6 112.8h0.7v0.7h-0.7zM42.6 112.4h0.7v0.7h-0.7zM42.0 114.2h0.7v0.7h-0.7zM44.5 113.2h0.7v0.7h-0.7zM42.9 113.2h0.7v0.7h-0.7zM44.2 113.7h0.7v0.7h-0.7zM44.0 114.4h0.7v0.7h-0.7zM45.3 113.1h0.7v0.7h-0.7zM45.7 112.0h0.7v0.7h-0.7zM41.6 113.2h0.7v0.7h-0.7zM40.8 113.6h0.7v0.7h-0.7zM47.2 111.6h0.7v0.7h-0.7zM42.4 114.4h0.7v0.7h-0.7zM40.3 114.6h0.7v0.7h-0.7zM39.4 114.7h0.7v0.7h-0.7zM43.8 113.8h0.7v0.7h-0.7zM42.3 113.8h0.7v0.7h-0.7zM39.6 114.7h0.7v0.7h-0.7zM41.5 113.6h0.7v0.7h-0.7zM41.2 113.8h0.7v0.7h-0.7zM46.0 112.6h0.7v0.7h-0.7zM44.1 112.5h0.7v0.7h-0.7zM44.0 114.2h0.7v0.7h-0.7zM40.9 114.3h0.7v0.7h-0.7zM43.3 113.2h0.7v0.7h-0.7zM45.4 113.3h0.7v0.7h-0.7zM43.9 112.6h0.7v0.7h-0.7zM46.4 113.1h0.7v0.7h-0.7zM44.0 113.3h0.7v0.7h-0.7zM45.7 113.8h0.7v0.7h-0.7z" fill="#000" fill-opacity="0.65"/>
<rect x="78.5" y="22.3" width="42.60" height="45.90" fill="#fff" stroke="#4a4a4a" stroke-width="1.0"/>
<rect x="97.3" y="36.5" width="17.40" height="23.50" fill="none" stroke="#555" stroke-width="0.8"/>
<path d="M102.0 54.1h0.7v0.7h-0.7zM104.2 55.0h0.7v0.7h-0.7zM98.7 53.2h0.7v0.7h-0.7zM100.4 58.5h0.7v0.7h-0.7zM102.7 47.9h0.7v0.7h-0.7zM96.9 53.3h0.7v0.7h-0.7zM100.4 45.1h0.7v0.7h-0.7zM101.6 54.5h0.7v0.7h-0.7zM109.9 48.5h0.7v0.7h-0.7zM89.9 58.9h0.7v0.7h-0.7zM104.1 48.0h0.7v0.7h-0.7zM102.6 49.7h0.7v0.7h-0.7zM100.2 47.6h0.7v0.7h-0.7zM100.3 53.1h0.7v0.7h-0.7zM110.9 43.5h0.7v0.7h-0.7zM100.3 51.2h0.7v0.7h-0.7zM103.0 46.8h0.7v0.7h-0.7zM102.0 51.7h0.7v0.7h-0.7zM102.4 52.9h0.7v0.7h-0.7zM100.8 47.5h0.7v0.7h-0.7zM105.6 47.3h0.7v0.7h-0.7zM99.1 56.0h0.7v0.7h-0.7zM96.1 47.4h0.7v0.7h-0.7zM97.4 56.8h0.7v0.7h-0.7zM107.5 51.7h0.7v0.7h-0.7zM97.0 51.7h0.7v0.7h-0.7zM101.9 55.7h0.7v0.7h-0.7zM105.2 47.1h0.7v0.7h-0.7zM103.9 51.5h0.7v0.7h-0.7zM104.3 48.4h0.7v0.7h-0.7zM100.3 48.9h0.7v0.7h-0.7zM101.7 45.7h0.7v0.7h-0.7zM107.3 54.1h0.7v0.7h-0.7zM95.8 52.7h0.7v0.7h-0.7zM103.3 49.0h0.7v0.7h-0.7zM103.8 54.3h0.7v0.7h-0.7zM102.4 51.9h0.7v0.7h-0.7zM104.4 49.5h0.7v0.7h-0.7zM97.1 49.2h0.7v0.7h-0.7zM97.3 53.7h0.7v0.7h-0.7zM105.7 43.1h0.7v0.7h-0.7zM107.7 39.5h0.7v0.7h-0.7zM102.0 52.4h0.7v0.7h-0.7zM109.2 47.0h0.7v0.7h-0.7zM103.2 47.4h0.7v0.7h-0.7zM99.0 51.9h0.7v0.7h-0.7zM100.1 54.6h0.7v0.7h-0.7zM103.2 53.1h0.7v0.7h-0.7zM99.2 50.3h0.7v0.7h-0.7zM103.5 53.8h0.7v0.7h-0.7zM104.0 52.5h0.7v0.7h-0.7zM98.1 55.1h0.7v0.7h-0.7zM104.7 44.8h0.7v0.7h-0.7zM99.0 56.1h0.7v0.7h-0.7zM99.5 56.0h0.7v0.7h-0.7zM109.8 49.6h0.7v0.7h-0.7zM105.1 46.1h0.7v0.7h-0.7zM111.8 47.0h0.7v0.7h-0.7zM102.9 49.2h0.7v0.7h-0.7zM101.0 54.0h0.7v0.7h-0.7zM107.6 45.4h0.7v0.7h-0.7zM102.6 50.9h0.7v0.7h-0.7zM104.9 53.4h0.7v0.7h-0.7zM98.1 52.7h0.7v0.7h-0.7zM106.0 50.1h0.7v0.7h-0.7zM92.3 59.8h0.7v0.7h-0.7zM105.1 48.1h0.7v0.7h-0.7zM93.1 57.5h0.7v0.7h-0.7zM107.0 47.1h0.7v0.7h-0.7zM92.8 53.4h0.7v0.7h-0.7zM105.4 47.1h0.7v0.7h-0.7zM115.2 41.8h0.7v0.7h-0.7zM103.1 53.0h0.7v0.7h-0.7zM95.1 52.4h0.7v0.7h-0.7zM109.3 40.3h0.7v0.7h-0.7zM100.3 51.5h0.7v0.7h-0.7zM101.3 58.3h0.7v0.7h-0.7zM107.5 44.4h0.7v0.7h-0.7zM90.7 62.3h0.7v0.7h-0.7zM96.1 56.2h0.7v0.7h-0.7zM97.8 56.4h0.7v0.7h-0.7zM98.4 51.7h0.7v0.7h-0.7zM94.7 59.3h0.7v0.7h-0.7zM107.2 47.7h0.7v0.7h-0.7zM109.1 47.9h0.7v0.7h-0.7zM101.1 49.1h0.7v0.7h-0.7zM102.7 53.7h0.7v0.7h-0.7zM99.5 60.3h0.7v0.7h-0.7zM106.3 49.8h0.7v0.7h-0.7zM101.1 54.5h0.7v0.7h-0.7zM101.3 43.5h0.7v0.7h-0.7zM109.6 48.4h0.7v0.7h-0.7zM106.4 53.5h0.7v0.7h-0.7zM95.9 61.4h0.7v0.7h-0.7zM99.8 55.2h0.7v0.7h-0.7zM110.2 46.1h0.7v0.7h-0.7zM109.3 54.5h0.7v0.7h-0.7zM107.8 43.2h0.7v0.7h-0.7zM92.6 59.0h0.7v0.7h-0.7zM104.3 52.8h0.7v0.7h-0.7zM102.6 51.6h0.7v0.7h-0.7zM92.2 53.4h0.7v0.7h-0.7zM100.5 53.5h0.7v0.7h-0.7zM107.7 46.9h0.7v0.7h-0.7zM103.6 46.5h0.7v0.7h-0.7zM101.3 53.3h0.7v0.7h-0.7zM104.7 49.4h0.7v0.7h-0.7zM104.9 42.2h0.7v0.7h-0.7zM99.2 55.8h0.7v0.7h-0.7zM107.9 52.9h0.7v0.7h-0.7zM110.4 49.1h0.7v0.7h-0.7zM98.0 51.3h0.7v0.7h-0.7zM106.2 42.6h0.7v0.7h-0.7zM102.6 50.8h0.7v0.7h-0.7zM108.2 46.2h0.7v0.7h-0.7zM104.6 44.1h0.7v0.7h-0.7zM102.8 47.9h0.7v0.7h-0.7zM104.0 54.0h0.7v0.7h-0.7zM100.5 53.5h0.7v0.7h-0.7zM105.4 51.5h0.7v0.7h-0.7zM103.8 49.4h0.7v0.7h-0.7zM110.7 46.3h0.7v0.7h-0.7zM101.6 49.8h0.7v0.7h-0.7zM103.5 48.0h0.7v0.7h-0.7zM108.5 41.6h0.7v0.7h-0.7zM101.0 45.6h0.7v0.7h-0.7zM104.2 47.7h0.7v0.7h-0.7zM107.5 41.2h0.7v0.7h-0.7zM102.5 49.1h0.7v0.7h-0.7zM104.9 48.9h0.7v0.7h-0.7zM106.5 47.5h0.7v0.7h-0.7zM103.1 51.5h0.7v0.7h-0.7zM97.5 54.3h0.7v0.7h-0.7zM96.6 56.4h0.7v0.7h-0.7zM104.1 53.2h0.7v0.7h-0.7zM107.5 45.3h0.7v0.7h-0.7zM107.2 46.2h0.7v0.7h-0.7zM105.7 39.2h0.7v0.7h-0.7zM104.9 44.6h0.7v0.7h-0.7zM102.0 55.0h0.7v0.7h-0.7zM95.2 54.9h0.7v0.7h-0.7zM98.8 50.6h0.7v0.7h-0.7zM103.5 53.2h0.7v0.7h-0.7zM97.6 51.3h0.7v0.7h-0.7zM108.6 48.2h0.7v0.7h-0.7zM99.3 53.5h0.7v0.7h-0.7zM104.3 46.8h0.7v0.7h-0.7zM102.7 43.4h0.7v0.7h-0.7zM97.8 60.0h0.7v0.7h-0.7zM97.9 48.9h0.7v0.7h-0.7zM106.1 42.9h0.7v0.7h-0.7zM107.9 48.2h0.7v0.7h-0.7zM101.3 47.6h0.7v0.7h-0.7zM99.0 55.9h0.7v0.7h-0.7zM99.8 53.2h0.7v0.7h-0.7zM102.8 49.5h0.7v0.7h-0.7zM106.5 43.2h0.7v0.7h-0.7zM103.9 47.1h0.7v0.7h-0.7zM103.0 51.2h0.7v0.7h-0.7zM102.2 47.6h0.7v0.7h-0.7zM107.3 48.2h0.7v0.7h-0.7zM95.8 58.1h0.7v0.7h-0.7zM99.6 55.4h0.7v0.7h-0.7zM103.4 50.6h0.7v0.7h-0.7zM109.1 46.3h0.7v0.7h-0.7zM108.2 46.5h0.7v0.7h-0.7zM101.0 55.1h0.7v0.7h-0.7zM103.7 50.9h0.7v0.7h-0.7zM100.3 54.0h0.7v0.7h-0.7zM99.6 50.3h0.7v0.7h-0.7zM100.5 46.7h0.7v0.7h-0.7zM101.4 51.9h0.7v0.7h-0.7zM102.2 54.4h0.7v0.7h-0.7zM96.3 53.6h0.7v0.7h-0.7zM93.3 54.2h0.7v0.7h-0.7zM101.1 50.2h0.7v0.7h-0.7zM104.3 50.2h0.7v0.7h-0.7zM107.0 49.3h0.7v0.7h-0.7zM98.8 53.2h0.7v0.7h-0.7zM97.7 51.3h0.7v0.7h-0.7zM108.2 44.9h0.7v0.7h-0.7zM105.8 49.8h0.7v0.7h-0.7zM106.6 46.5h0.7v0.7h-0.7zM102.2 54.5h0.7v0.7h-0.7zM98.9 52.4h0.7v0.7h-0.7zM99.5 56.7h0.7v0.7h-0.7zM110.0 49.1h0.7v0.7h-0.7zM96.3 53.3h0.7v0.7h-0.7zM94.0 56.1h0.7v0.7h-0.7zM100.8 54.6h0.7v0.7h-0.7zM113.7 50.6h0.7v0.7h-0.7zM103.9 51.1h0.7v0.7h-0.7zM103.8 49.3h0.7v0.7h-0.7zM105.7 52.2h0.7v0.7h-0.7zM102.5 50.3h0.7v0.7h-0.7zM99.3 48.2h0.7v0.7h-0.7zM95.2 54.5h0.7v0.7h-0.7zM112.3 45.8h0.7v0.7h-0.7zM99.3 48.0h0.7v0.7h-0.7zM105.6 42.7h0.7v0.7h-0.7zM97.6 58.4h0.7v0.7h-0.7zM105.5 48.3h0.7v0.7h-0.7zM99.9 57.4h0.7v0.7h-0.7zM95.5 53.9h0.7v0.7h-0.7zM102.7 47.9h0.7v0.7h-0.7zM106.7 45.4h0.7v0.7h-0.7zM106.6 42.4h0.7v0.7h-0.7zM108.2 44.4h0.7v0.7h-0.7zM101.4 51.2h0.7v0.7h-0.7zM107.7 48.6h0.7v0.7h-0.7zM100.2 52.7h0.7v0.7h-0.7zM99.9 51.9h0.7v0.7h-0.7zM104.8 50.2h0.7v0.7h-0.7zM104.3 52.8h0.7v0.7h-0.7zM108.3 48.6h0.7v0.7h-0.7zM95.5 58.5h0.7v0.7h-0.7zM107.1 44.9h0.7v0.7h-0.7zM99.6 51.9h0.7v0.7h-0.7zM106.9 41.8h0.7v0.7h-0.7zM107.9 45.7h0.7v0.7h-0.7zM97.9 55.1h0.7v0.7h-0.7zM105.5 53.5h0.7v0.7h-0.7zM106.2 47.9h0.7v0.7h-0.7zM100.8 55.0h0.7v0.7h-0.7zM102.0 55.8h0.7v0.7h-0.7zM98.3 48.3h0.7v0.7h-0.7zM104.9 46.1h0.7v0.7h-0.7zM106.4 46.1h0.7v0.7h-0.7zM101.3 52.3h0.7v0.7h-0.7zM104.4 44.8h0.7v0.7h-0.7zM110.7 45.7h0.7v0.7h-0.7zM108.4 48.1h0.7v0.7h-0.7zM100.6 54.3h0.7v0.7h-0.7zM100.5 55.1h0.7v0.7h-0.7zM102.2 47.2h0.7v0.7h-0.7zM108.4 48.9h0.7v0.7h-0.7zM103.7 47.4h0.7v0.7h-0.7zM98.0 48.6h0.7v0.7h-0.7zM99.2 54.4h0.7v0.7h-0.7zM109.1 45.8h0.7v0.7h-0.7zM101.1 49.7h0.7v0.7h-0.7zM108.0 39.6h0.7v0.7h-0.7zM96.0 53.1h0.7v0.7h-0.7zM101.2 51.4h0.7v0.7h-0.7zM95.7 48.5h0.7v0.7h-0.7zM112.6 44.4h0.7v0.7h-0.7zM109.9 46.9h0.7v0.7h-0.7zM100.5 52.1h0.7v0.7h-0.7zM96.5 60.2h0.7v0.7h-0.7zM107.5 45.2h0.7v0.7h-0.7zM101.5 47.7h0.7v0.7h-0.7zM99.2 56.1h0.7v0.7h-0.7zM97.5 57.6h0.7v0.7h-0.7zM103.0 47.0h0.7v0.7h-0.7zM99.6 48.6h0.7v0.7h-0.7zM101.8 47.9h0.7v0.7h-0.7zM106.6 50.7h0.7v0.7h-0.7zM100.8 51.3h0.7v0.7h-0.7zM106.7 56.4h0.7v0.7h-0.7zM104.6 46.4h0.7v0.7h-0.7zM103.5 51.8h0.7v0.7h-0.7zM102.3 52.0h0.7v0.7h-0.7zM105.3 47.2h0.7v0.7h-0.7zM96.0 60.0h0.7v0.7h-0.7zM106.7 43.6h0.7v0.7h-0.7zM104.7 48.3h0.7v0.7h-0.7zM97.6 51.4h0.7v0.7h-0.7zM98.4 47.1h0.7v0.7h-0.7zM108.3 45.3h0.7v0.7h-0.7zM103.3 45.9h0.7v0.7h-0.7zM93.1 55.4h0.7v0.7h-0.7zM99.6 55.6h0.7v0.7h-0.7zM103.4 49.2h0.7v0.7h-0.7zM111.2 43.5h0.7v0.7h-0.7zM109.2 50.2h0.7v0.7h-0.7zM102.4 51.4h0.7v0.7h-0.7zM106.2 48.7h0.7v0.7h-0.7zM100.9 48.1h0.7v0.7h-0.7zM103.1 53.0h0.7v0.7h-0.7zM106.1 50.2h0.7v0.7h-0.7zM92.0 57.3h0.7v0.7h-0.7zM108.4 47.2h0.7v0.7h-0.7zM105.8 48.6h0.7v0.7h-0.7zM100.7 51.7h0.7v0.7h-0.7zM99.5 54.0h0.7v0.7h-0.7zM102.1 59.6h0.7v0.7h-0.7zM103.0 48.0h0.7v0.7h-0.7zM103.0 49.1h0.7v0.7h-0.7zM103.9 49.7h0.7v0.7h-0.7zM109.9 42.8h0.7v0.7h-0.7zM90.4 56.2h0.7v0.7h-0.7zM101.0 54.4h0.7v0.7h-0.7zM101.3 55.1h0.7v0.7h-0.7zM110.0 49.4h0.7v0.7h-0.7zM100.9 50.3h0.7v0.7h-0.7zM96.8 51.9h0.7v0.7h-0.7zM105.0 50.6h0.7v0.7h-0.7zM102.9 46.7h0.7v0.7h-0.7zM109.8 43.5h0.7v0.7h-0.7zM103.3 48.5h0.7v0.7h-0.7zM101.4 52.4h0.7v0.7h-0.7zM100.1 51.6h0.7v0.7h-0.7zM100.7 54.9h0.7v0.7h-0.7zM103.4 46.6h0.7v0.7h-0.7zM110.6 51.1h0.7v0.7h-0.7zM103.4 52.6h0.7v0.7h-0.7zM101.3 49.7h0.7v0.7h-0.7zM107.1 42.8h0.7v0.7h-0.7zM103.1 49.5h0.7v0.7h-0.7zM104.3 47.4h0.7v0.7h-0.7zM96.9 53.3h0.7v0.7h-0.7zM102.8 55.3h0.7v0.7h-0.7zM95.6 60.9h0.7v0.7h-0.7zM95.3 54.0h0.7v0.7h-0.7zM105.5 49.7h0.7v0.7h-0.7zM108.3 45.1h0.7v0.7h-0.7zM103.2 52.8h0.7v0.7h-0.7zM96.7 54.1h0.7v0.7h-0.7zM107.1 53.7h0.7v0.7h-0.7zM108.0 45.6h0.7v0.7h-0.7zM105.8 54.5h0.7v0.7h-0.7zM106.1 45.6h0.7v0.7h-0.7zM105.1 52.9h0.7v0.7h-0.7zM97.6 55.2h0.7v0.7h-0.7zM102.0 57.0h0.7v0.7h-0.7zM101.6 51.0h0.7v0.7h-0.7zM110.8 38.9h0.7v0.7h-0.7zM103.6 45.9h0.7v0.7h-0.7zM100.9 50.1h0.7v0.7h-0.7zM105.3 50.1h0.7v0.7h-0.7zM104.5 50.1h0.7v0.7h-0.7zM101.3 52.3h0.7v0.7h-0.7zM104.4 52.6h0.7v0.7h-0.7zM104.8 54.3h0.7v0.7h-0.7zM104.4 45.4h0.7v0.7h-0.7zM111.4 45.6h0.7v0.7h-0.7zM112.7 48.9h0.7v0.7h-0.7zM100.6 50.5h0.7v0.7h-0.7zM104.4 47.0h0.7v0.7h-0.7zM100.6 54.0h0.7v0.7h-0.7zM98.7 55.2h0.7v0.7h-0.7zM102.4 49.0h0.7v0.7h-0.7zM105.5 47.6h0.7v0.7h-0.7zM105.5 53.4h0.7v0.7h-0.7zM108.1 48.5h0.7v0.7h-0.7zM105.1 45.4h0.7v0.7h-0.7zM103.2 44.1h0.7v0.7h-0.7zM100.4 48.9h0.7v0.7h-0.7zM97.5 56.3h0.7v0.7h-0.7zM109.3 41.4h0.7v0.7h-0.7zM99.5 50.8h0.7v0.7h-0.7zM107.4 48.5h0.7v0.7h-0.7zM104.6 47.7h0.7v0.7h-0.7zM100.9 51.0h0.7v0.7h-0.7zM111.1 43.1h0.7v0.7h-0.7zM108.4 50.1h0.7v0.7h-0.7zM103.5 50.9h0.7v0.7h-0.7zM102.4 53.2h0.7v0.7h-0.7zM99.0 54.5h0.7v0.7h-0.7zM100.3 58.3h0.7v0.7h-0.7zM103.3 45.7h0.7v0.7h-0.7zM99.2 50.1h0.7v0.7h-0.7zM100.2 51.3h0.7v0.7h-0.7zM108.7 51.8h0.7v0.7h-0.7zM104.2 54.5h0.7v0.7h-0.7zM103.8 45.6h0.7v0.7h-0.7zM99.5 52.1h0.7v0.7h-0.7zM101.8 53.4h0.7v0.7h-0.7zM107.0 46.6h0.7v0.7h-0.7zM101.7 54.7h0.7v0.7h-0.7zM104.7 46.9h0.7v0.7h-0.7zM102.3 45.2h0.7v0.7h-0.7zM104.1 51.4h0.7v0.7h-0.7zM98.2 59.4h0.7v0.7h-0.7zM94.8 53.0h0.7v0.7h-0.7zM95.1 51.5h0.7v0.7h-0.7zM96.8 54.8h0.7v0.7h-0.7zM103.4 43.4h0.7v0.7h-0.7zM100.1 54.7h0.7v0.7h-0.7zM95.7 53.4h0.7v0.7h-0.7zM102.2 53.7h0.7v0.7h-0.7zM102.0 50.1h0.7v0.7h-0.7zM96.2 57.5h0.7v0.7h-0.7zM106.7 49.0h0.7v0.7h-0.7zM105.7 46.9h0.7v0.7h-0.7zM98.7 51.0h0.7v0.7h-0.7zM108.0 48.6h0.7v0.7h-0.7zM93.8 54.1h0.7v0.7h-0.7zM103.1 55.1h0.7v0.7h-0.7zM101.2 49.9h0.7v0.7h-0.7zM102.4 49.1h0.7v0.7h-0.7zM108.5 46.2h0.7v0.7h-0.7zM102.3 52.4h0.7v0.7h-0.7zM99.6 55.4h0.7v0.7h-0.7zM101.3 46.8h0.7v0.7h-0.7zM102.1 48.1h0.7v0.7h-0.7zM105.5 49.1h0.7v0.7h-0.7zM102.2 52.3h0.7v0.7h-0.7zM103.6 49.4h0.7v0.7h-0.7zM102.8 55.0h0.7v0.7h-0.7zM105.1 47.7h0.7v0.7h-0.7zM101.8 54.7h0.7v0.7h-0.7zM102.3 54.8h0.7v0.7h-0.7zM108.5 46.1h0.7v0.7h-0.7zM99.4 53.1h0.7v0.7h-0.7zM104.3 51.6h0.7v0.7h-0.7zM106.2 48.8h0.7v0.7h-0.7zM102.7 52.7h0.7v0.7h-0.7zM105.3 45.0h0.7v0.7h-0.7zM101.4 53.5h0.7v0.7h-0.7zM110.1 48.9h0.7v0.7h-0.7zM95.9 56.2h0.7v0.7h-0.7zM97.5 56.2h0.7v0.7h-0.7zM102.9 49.6h0.7v0.7h-0.7zM110.6 46.0h0.7v0.7h-0.7zM106.2 40.0h0.7v0.7h-0.7zM102.2 56.7h0.7v0.7h-0.7zM103.8 51.4h0.7v0.7h-0.7zM100.5 51.9h0.7v0.7h-0.7zM94.4 59.7h0.7v0.7h-0.7zM108.0 49.3h0.7v0.7h-0.7zM102.1 52.5h0.7v0.7h-0.7zM110.0 45.9h0.7v0.7h-0.7zM106.3 51.3h0.7v0.7h-0.7zM101.1 52.8h0.7v0.7h-0.7zM101.4 54.5h0.7v0.7h-0.7zM104.8 53.7h0.7v0.7h-0.7zM105.9 49.5h0.7v0.7h-0.7zM99.9 51.2h0.7v0.7h-0.7zM116.2 40.1h0.7v0.7h-0.7zM107.4 53.1h0.7v0.7h-0.7zM97.7 54.5h0.7v0.7h-0.7zM104.1 50.8h0.7v0.7h-0.7zM108.6 46.4h0.7v0.7h-0.7zM106.4 50.1h0.7v0.7h-0.7zM100.9 51.0h0.7v0.7h-0.7zM100.2 53.0h0.7v0.7h-0.7zM103.1 57.1h0.7v0.7h-0.7zM99.2 56.5h0.7v0.7h-0.7zM99.8 51.4h0.7v0.7h-0.7zM105.5 50.7h0.7v0.7h-0.7zM100.7 52.8h0.7v0.7h-0.7zM112.6 46.3h0.7v0.7h-0.7zM101.8 45.9h0.7v0.7h-0.7zM101.3 52.3h0.7v0.7h-0.7zM104.6 52.2h0.7v0.7h-0.7zM107.0 42.0h0.7v0.7h-0.7zM94.5 56.1h0.7v0.7h-0.7zM104.8 50.2h0.7v0.7h-0.7zM114.4 39.3h0.7v0.7h-0.7zM106.7 45.7h0.7v0.7h-0.7zM99.7 54.6h0.7v0.7h-0.7zM101.1 47.4h0.7v0.7h-0.7zM100.6 49.8h0.7v0.7h-0.7zM117.8 41.9h0.7v0.7h-0.7zM99.1 52.0h0.7v0.7h-0.7zM102.6 52.2h0.7v0.7h-0.7zM101.5 51.6h0.7v0.7h-0.7zM98.5 57.7h0.7v0.7h-0.7zM89.7 64.6h0.7v0.7h-0.7zM102.7 52.0h0.7v0.7h-0.7zM107.2 50.3h0.7v0.7h-0.7zM101.8 52.7h0.7v0.7h-0.7zM102.2 45.3h0.7v0.7h-0.7zM105.1 46.1h0.7v0.7h-0.7zM108.4 50.0h0.7v0.7h-0.7zM97.7 59.2h0.7v0.7h-0.7zM109.0 43.7h0.7v0.7h-0.7zM103.9 44.0h0.7v0.7h-0.7zM105.2 45.8h0.7v0.7h-0.7zM106.7 54.0h0.7v0.7h-0.7zM105.1 52.5h0.7v0.7h-0.7zM102.9 54.7h0.7v0.7h-0.7zM102.0 45.8h0.7v0.7h-0.7zM104.6 44.1h0.7v0.7h-0.7zM99.6 51.7h0.7v0.7h-0.7zM104.1 44.6h0.7v0.7h-0.7zM101.3 52.5h0.7v0.7h-0.7zM103.6 46.0h0.7v0.7h-0.7zM103.2 51.8h0.7v0.7h-0.7zM106.3 46.4h0.7v0.7h-0.7zM110.2 41.4h0.7v0.7h-0.7zM105.1 50.6h0.7v0.7h-0.7zM101.7 53.2h0.7v0.7h-0.7zM101.4 52.3h0.7v0.7h-0.7zM105.0 47.1h0.7v0.7h-0.7zM100.8 52.3h0.7v0.7h-0.7zM103.8 42.9h0.7v0.7h-0.7zM100.9 45.6h0.7v0.7h-0.7zM105.7 45.4h0.7v0.7h-0.7zM100.9 52.9h0.7v0.7h-0.7zM102.0 57.4h0.7v0.7h-0.7zM100.6 54.1h0.7v0.7h-0.7zM103.0 46.9h0.7v0.7h-0.7zM98.9 52.7h0.7v0.7h-0.7zM103.8 45.2h0.7v0.7h-0.7zM94.3 58.8h0.7v0.7h-0.7zM100.1 52.9h0.7v0.7h-0.7zM102.3 50.9h0.7v0.7h-0.7zM95.8 58.4h0.7v0.7h-0.7zM102.2 54.7h0.7v0.7h-0.7zM97.9 57.7h0.7v0.7h-0.7zM100.7 48.6h0.7v0.7h-0.7zM103.5 52.8h0.7v0.7h-0.7zM104.4 45.5h0.7v0.7h-0.7zM100.1 54.5h0.7v0.7h-0.7zM96.3 57.2h0.7v0.7h-0.7zM103.6 55.5h0.7v0.7h-0.7zM103.4 49.6h0.7v0.7h-0.7zM103.3 49.8h0.7v0.7h-0.7zM103.3 49.1h0.7v0.7h-0.7zM109.7 46.8h0.7v0.7h-0.7zM102.1 52.3h0.7v0.7h-0.7zM101.7 50.7h0.7v0.7h-0.7zM100.9 55.3h0.7v0.7h-0.7zM104.2 56.5h0.7v0.7h-0.7zM110.3 48.9h0.7v0.7h-0.7zM107.2 51.5h0.7v0.7h-0.7zM91.1 60.2h0.7v0.7h-0.7zM108.0 45.2h0.7v0.7h-0.7zM94.9 58.8h0.7v0.7h-0.7zM98.4 49.0h0.7v0.7h-0.7zM110.1 49.3h0.7v0.7h-0.7zM101.1 47.2h0.7v0.7h-0.7zM106.1 48.7h0.7v0.7h-0.7zM104.6 44.6h0.7v0.7h-0.7zM104.5 49.3h0.7v0.7h-0.7zM99.2 57.0h0.7v0.7h-0.7zM105.5 49.7h0.7v0.7h-0.7zM98.6 51.7h0.7v0.7h-0.7zM91.7 59.2h0.7v0.7h-0.7zM103.4 53.2h0.7v0.7h-0.7zM105.3 47.9h0.7v0.7h-0.7zM103.8 50.0h0.7v0.7h-0.7zM104.7 51.9h0.7v0.7h-0.7zM106.1 38.7h0.7v0.7h-0.7zM104.7 49.6h0.7v0.7h-0.7zM109.1 48.7h0.7v0.7h-0.7zM107.5 52.1h0.7v0.7h-0.7zM111.2 44.7h0.7v0.7h-0.7zM100.3 50.5h0.7v0.7h-0.7zM109.7 47.1h0.7v0.7h-0.7zM114.0 46.1h0.7v0.7h-0.7zM100.4 50.7h0.7v0.7h-0.7zM106.3 44.7h0.7v0.7h-0.7zM97.1 55.7h0.7v0.7h-0.7zM103.7 48.3h0.7v0.7h-0.7zM102.7 43.7h0.7v0.7h-0.7zM95.5 49.6h0.7v0.7h-0.7zM93.3 55.4h0.7v0.7h-0.7zM102.2 49.0h0.7v0.7h-0.7zM102.5 52.4h0.7v0.7h-0.7zM103.0 48.6h0.7v0.7h-0.7zM104.6 49.4h0.7v0.7h-0.7zM109.0 49.2h0.7v0.7h-0.7zM114.9 49.1h0.7v0.7h-0.7zM106.4 50.0h0.7v0.7h-0.7zM95.0 54.9h0.7v0.7h-0.7zM107.7 49.2h0.7v0.7h-0.7zM104.8 48.7h0.7v0.7h-0.7zM104.3 50.3h0.7v0.7h-0.7zM111.5 45.4h0.7v0.7h-0.7zM105.6 50.5h0.7v0.7h-0.7zM99.4 49.4h0.7v0.7h-0.7zM103.1 46.3h0.7v0.7h-0.7zM96.8 57.3h0.7v0.7h-0.7zM108.4 47.5h0.7v0.7h-0.7zM107.0 53.7h0.7v0.7h-0.7zM111.3 44.3h0.7v0.7h-0.7zM105.4 46.8h0.7v0.7h-0.7zM103.9 47.8h0.7v0.7h-0.7zM102.7 48.2h0.7v0.7h-0.7zM95.9 52.8h0.7v0.7h-0.7zM100.6 48.3h0.7v0.7h-0.7zM103.5 48.0h0.7v0.7h-0.7zM107.5 46.3h0.7v0.7h-0.7zM103.7 47.1h0.7v0.7h-0.7zM106.1 47.4h0.7v0.7h-0.7zM105.6 46.9h0.7v0.7h-0.7zM100.5 52.0h0.7v0.7h-0.7zM103.7 48.2h0.7v0.7h-0.7zM102.7 51.6h0.7v0.7h-0.7zM97.9 55.4h0.7v0.7h-0.7zM92.2 51.8h0.7v0.7h-0.7zM107.1 47.2h0.7v0.7h-0.7zM109.4 44.4h0.7v0.7h-0.7zM108.1 43.2h0.7v0.7h-0.7zM99.9 54.0h0.7v0.7h-0.7zM108.3 42.8h0.7v0.7h-0.7zM110.0 43.9h0.7v0.7h-0.7zM98.5 51.8h0.7v0.7h-0.7zM106.4 49.4h0.7v0.7h-0.7zM111.0 43.7h0.7v0.7h-0.7zM101.1 47.3h0.7v0.7h-0.7zM107.0 44.1h0.7v0.7h-0.7zM101.8 54.0h0.7v0.7h-0.7zM102.5 52.3h0.7v0.7h-0.7zM107.1 46.8h0.7v0.7h-0.7zM100.5 48.9h0.7v0.7h-0.7zM102.6 48.4h0.7v0.7h-0.7zM103.9 50.1h0.7v0.7h-0.7zM99.4 54.9h0.7v0.7h-0.7zM109.5 44.0h0.7v0.7h-0.7zM101.2 49.3h0.7v0.7h-0.7zM101.4 51.1h0.7v0.7h-0.7zM100.5 51.1h0.7v0.7h-0.7zM101.5 47.9h0.7v0.7h-0.7zM97.4 52.1h0.7v0.7h-0.7zM105.5 45.2h0.7v0.7h-0.7zM99.2 48.9h0.7v0.7h-0.7zM107.3 47.7h0.7v0.7h-0.7zM100.8 55.1h0.7v0.7h-0.7zM100.4 55.9h0.7v0.7h-0.7zM98.0 52.6h0.7v0.7h-0.7zM102.9 47.9h0.7v0.7h-0.7zM98.0 56.1h0.7v0.7h-0.7zM105.9 45.9h0.7v0.7h-0.7zM101.2 51.0h0.7v0.7h-0.7zM106.4 45.9h0.7v0.7h-0.7zM98.8 48.9h0.7v0.7h-0.7zM108.8 49.0h0.7v0.7h-0.7zM96.4 51.9h0.7v0.7h-0.7zM95.8 52.0h0.7v0.7h-0.7zM107.0 49.1h0.7v0.7h-0.7zM99.0 50.5h0.7v0.7h-0.7zM109.5 47.7h0.7v0.7h-0.7zM100.8 53.6h0.7v0.7h-0.7zM105.9 48.7h0.7v0.7h-0.7zM99.0 52.9h0.7v0.7h-0.7zM93.4 54.9h0.7v0.7h-0.7zM107.2 42.2h0.7v0.7h-0.7zM102.4 51.2h0.7v0.7h-0.7zM107.1 46.0h0.7v0.7h-0.7zM101.8 47.3h0.7v0.7h-0.7zM93.9 55.3h0.7v0.7h-0.7zM103.3 47.0h0.7v0.7h-0.7zM107.6 45.6h0.7v0.7h-0.7zM109.3 45.6h0.7v0.7h-0.7zM111.6 45.0h0.7v0.7h-0.7zM104.1 47.9h0.7v0.7h-0.7zM105.1 53.1h0.7v0.7h-0.7zM104.6 51.1h0.7v0.7h-0.7zM100.7 57.6h0.7v0.7h-0.7zM104.7 45.6h0.7v0.7h-0.7zM107.2 48.2h0.7v0.7h-0.7zM106.4 50.6h0.7v0.7h-0.7zM96.8 50.3h0.7v0.7h-0.7zM107.4 49.1h0.7v0.7h-0.7zM101.5 53.2h0.7v0.7h-0.7zM109.9 46.6h0.7v0.7h-0.7zM100.8 53.0h0.7v0.7h-0.7zM102.8 54.4h0.7v0.7h-0.7zM101.0 50.8h0.7v0.7h-0.7zM97.9 53.6h0.7v0.7h-0.7zM100.5 55.2h0.7v0.7h-0.7zM103.1 52.6h0.7v0.7h-0.7zM90.4 58.1h0.7v0.7h-0.7zM113.6 44.0h0.7v0.7h-0.7zM106.7 50.7h0.7v0.7h-0.7zM106.1 50.8h0.7v0.7h-0.7zM98.1 52.6h0.7v0.7h-0.7zM106.0 51.6h0.7v0.7h-0.7zM103.9 51.2h0.7v0.7h-0.7zM105.1 51.4h0.7v0.7h-0.7zM96.7 56.3h0.7v0.7h-0.7zM101.9 50.0h0.7v0.7h-0.7zM93.9 56.8h0.7v0.7h-0.7zM101.2 50.0h0.7v0.7h-0.7zM100.8 55.5h0.7v0.7h-0.7zM99.2 51.4h0.7v0.7h-0.7zM100.7 50.5h0.7v0.7h-0.7zM107.2 47.3h0.7v0.7h-0.7zM107.8 44.7h0.7v0.7h-0.7zM99.7 46.6h0.7v0.7h-0.7zM97.4 53.6h0.7v0.7h-0.7zM108.7 43.4h0.7v0.7h-0.7zM99.8 58.9h0.7v0.7h-0.7zM101.9 53.7h0.7v0.7h-0.7zM100.5 49.4h0.7v0.7h-0.7zM98.1 51.4h0.7v0.7h-0.7zM107.9 43.9h0.7v0.7h-0.7zM105.1 49.0h0.7v0.7h-0.7zM106.3 44.4h0.7v0.7h-0.7zM102.5 52.2h0.7v0.7h-0.7zM104.4 44.2h0.7v0.7h-0.7zM103.0 51.5h0.7v0.7h-0.7zM104.4 52.9h0.7v0.7h-0.7zM99.8 44.4h0.7v0.7h-0.7zM104.7 48.6h0.7v0.7h-0.7zM105.9 48.3h0.7v0.7h-0.7zM102.9 51.9h0.7v0.7h-0.7zM96.8 56.7h0.7v0.7h-0.7zM101.6 51.5h0.7v0.7h-0.7zM92.1 61.9h0.7v0.7h-0.7zM102.0 51.7h0.7v0.7h-0.7zM99.7 53.8h0.7v0.7h-0.7zM109.2 49.6h0.7v0.7h-0.7zM93.3 63.3h0.7v0.7h-0.7zM113.1 43.5h0.7v0.7h-0.7zM100.5 50.6h0.7v0.7h-0.7zM95.4 56.1h0.7v0.7h-0.7zM106.6 50.4h0.7v0.7h-0.7zM103.3 46.4h0.7v0.7h-0.7zM106.5 50.3h0.7v0.7h-0.7zM110.0 38.9h0.7v0.7h-0.7zM103.1 57.4h0.7v0.7h-0.7zM106.4 51.2h0.7v0.7h-0.7zM102.7 48.7h0.7v0.7h-0.7zM99.3 52.3h0.7v0.7h-0.7zM100.8 45.6h0.7v0.7h-0.7zM108.3 45.0h0.7v0.7h-0.7zM101.4 55.9h0.7v0.7h-0.7zM106.0 49.5h0.7v0.7h-0.7zM106.8 45.7h0.7v0.7h-0.7zM109.2 51.1h0.7v0.7h-0.7zM97.2 57.9h0.7v0.7h-0.7zM104.9 49.8h0.7v0.7h-0.7zM100.9 51.4h0.7v0.7h-0.7zM109.2 46.2h0.7v0.7h-0.7zM106.9 55.3h0.7v0.7h-0.7zM112.1 42.9h0.7v0.7h-0.7zM95.0 52.5h0.7v0.7h-0.7zM105.5 48.6h0.7v0.7h-0.7zM102.5 57.2h0.7v0.7h-0.7zM112.6 45.0h0.7v0.7h-0.7zM108.8 42.9h0.7v0.7h-0.7zM99.7 54.7h0.7v0.7h-0.7zM103.7 44.6h0.7v0.7h-0.7zM103.9 51.6h0.7v0.7h-0.7zM94.6 55.5h0.7v0.7h-0.7zM97.7 53.7h0.7v0.7h-0.7zM102.5 48.9h0.7v0.7h-0.7zM104.0 46.9h0.7v0.7h-0.7zM104.3 54.8h0.7v0.7h-0.7zM106.8 51.6h0.7v0.7h-0.7zM103.9 48.5h0.7v0.7h-0.7zM104.4 49.3h0.7v0.7h-0.7zM100.8 58.1h0.7v0.7h-0.7zM103.1 49.2h0.7v0.7h-0.7zM104.5 47.3h0.7v0.7h-0.7zM95.2 55.0h0.7v0.7h-0.7zM112.2 46.6h0.7v0.7h-0.7zM109.5 44.5h0.7v0.7h-0.7zM103.7 49.6h0.7v0.7h-0.7zM111.2 40.9h0.7v0.7h-0.7zM98.1 52.1h0.7v0.7h-0.7zM100.6 55.9h0.7v0.7h-0.7zM99.0 51.6h0.7v0.7h-0.7zM99.1 52.4h0.7v0.7h-0.7zM108.0 39.7h0.7v0.7h-0.7zM101.3 48.2h0.7v0.7h-0.7zM101.9 49.6h0.7v0.7h-0.7zM103.7 47.9h0.7v0.7h-0.7zM107.2 41.0h0.7v0.7h-0.7zM102.7 48.5h0.7v0.7h-0.7zM101.2 51.6h0.7v0.7h-0.7zM99.7 44.6h0.7v0.7h-0.7zM109.3 46.0h0.7v0.7h-0.7zM101.7 50.6h0.7v0.7h-0.7zM106.7 42.1h0.7v0.7h-0.7zM103.8 48.5h0.7v0.7h-0.7zM103.0 51.8h0.7v0.7h-0.7zM105.1 48.2h0.7v0.7h-0.7zM111.5 42.1h0.7v0.7h-0.7zM102.0 51.3h0.7v0.7h-0.7zM109.9 45.7h0.7v0.7h-0.7zM103.1 45.6h0.7v0.7h-0.7zM102.7 48.6h0.7v0.7h-0.7zM103.9 50.7h0.7v0.7h-0.7zM106.5 46.9h0.7v0.7h-0.7zM103.8 45.9h0.7v0.7h-0.7zM104.1 48.2h0.7v0.7h-0.7zM104.6 46.3h0.7v0.7h-0.7zM99.4 53.9h0.7v0.7h-0.7zM97.4 50.1h0.7v0.7h-0.7zM96.0 51.6h0.7v0.7h-0.7zM99.1 49.2h0.7v0.7h-0.7zM101.9 50.9h0.7v0.7h-0.7zM105.6 56.0h0.7v0.7h-0.7zM106.9 49.7h0.7v0.7h-0.7zM101.1 56.3h0.7v0.7h-0.7zM102.0 51.3h0.7v0.7h-0.7zM109.4 49.4h0.7v0.7h-0.7zM110.7 43.9h0.7v0.7h-0.7zM103.3 50.1h0.7v0.7h-0.7zM109.9 47.1h0.7v0.7h-0.7zM106.7 42.5h0.7v0.7h-0.7zM95.0 50.7h0.7v0.7h-0.7zM102.0 47.2h0.7v0.7h-0.7zM100.9 57.0h0.7v0.7h-0.7zM102.9 53.4h0.7v0.7h-0.7zM105.0 48.9h0.7v0.7h-0.7zM97.2 55.1h0.7v0.7h-0.7zM104.9 47.7h0.7v0.7h-0.7zM103.1 51.5h0.7v0.7h-0.7zM100.5 49.8h0.7v0.7h-0.7zM106.6 49.4h0.7v0.7h-0.7zM97.9 52.0h0.7v0.7h-0.7zM98.1 59.6h0.7v0.7h-0.7zM102.5 49.5h0.7v0.7h-0.7zM98.4 51.6h0.7v0.7h-0.7zM101.7 50.6h0.7v0.7h-0.7zM96.8 53.2h0.7v0.7h-0.7zM98.8 53.9h0.7v0.7h-0.7zM95.6 51.4h0.7v0.7h-0.7zM96.7 54.7h0.7v0.7h-0.7zM99.7 53.8h0.7v0.7h-0.7zM100.3 54.2h0.7v0.7h-0.7zM102.4 49.5h0.7v0.7h-0.7zM118.4 39.3h0.7v0.7h-0.7zM97.5 49.9h0.7v0.7h-0.7zM95.9 56.5h0.7v0.7h-0.7zM104.6 47.0h0.7v0.7h-0.7zM97.7 55.4h0.7v0.7h-0.7zM98.7 53.5h0.7v0.7h-0.7zM103.8 54.1h0.7v0.7h-0.7zM103.1 50.1h0.7v0.7h-0.7zM101.7 48.4h0.7v0.7h-0.7zM108.2 53.6h0.7v0.7h-0.7zM102.5 50.8h0.7v0.7h-0.7zM107.3 45.4h0.7v0.7h-0.7zM108.0 48.4h0.7v0.7h-0.7zM99.6 51.5h0.7v0.7h-0.7zM101.6 50.8h0.7v0.7h-0.7zM98.7 57.4h0.7v0.7h-0.7zM103.7 45.5h0.7v0.7h-0.7zM101.3 50.4h0.7v0.7h-0.7zM112.5 44.1h0.7v0.7h-0.7zM103.1 56.2h0.7v0.7h-0.7zM109.2 43.9h0.7v0.7h-0.7zM98.9 53.9h0.7v0.7h-0.7zM97.7 59.1h0.7v0.7h-0.7zM96.8 51.3h0.7v0.7h-0.7zM103.2 47.7h0.7v0.7h-0.7zM105.8 44.7h0.7v0.7h-0.7zM95.7 50.3h0.7v0.7h-0.7zM102.0 41.3h0.7v0.7h-0.7zM100.0 51.8h0.7v0.7h-0.7zM102.3 54.0h0.7v0.7h-0.7zM102.8 52.7h0.7v0.7h-0.7zM112.0 45.7h0.7v0.7h-0.7zM99.0 44.8h0.7v0.7h-0.7zM103.9 48.8h0.7v0.7h-0.7zM98.8 58.8h0.7v0.7h-0.7zM102.1 48.1h0.7v0.7h-0.7zM101.8 46.9h0.7v0.7h-0.7zM110.3 44.2h0.7v0.7h-0.7zM99.3 53.9h0.7v0.7h-0.7zM101.0 54.3h0.7v0.7h-0.7zM99.0 54.1h0.7v0.7h-0.7zM102.3 55.2h0.7v0.7h-0.7zM106.9 48.8h0.7v0.7h-0.7zM100.0 54.0h0.7v0.7h-0.7zM107.6 44.4h0.7v0.7h-0.7zM104.2 51.4h0.7v0.7h-0.7zM97.9 52.9h0.7v0.7h-0.7zM101.8 54.7h0.7v0.7h-0.7zM99.1 58.0h0.7v0.7h-0.7zM98.4 58.0h0.7v0.7h-0.7zM105.5 43.4h0.7v0.7h-0.7zM107.3 47.5h0.7v0.7h-0.7zM99.4 55.0h0.7v0.7h-0.7zM102.5 53.7h0.7v0.7h-0.7zM106.9 41.1h0.7v0.7h-0.7zM98.8 52.3h0.7v0.7h-0.7zM103.7 49.3h0.7v0.7h-0.7zM107.4 50.7h0.7v0.7h-0.7zM101.0 50.2h0.7v0.7h-0.7zM103.6 52.7h0.7v0.7h-0.7zM101.7 52.0h0.7v0.7h-0.7zM106.6 53.3h0.7v0.7h-0.7zM96.9 57.4h0.7v0.7h-0.7zM100.3 47.4h0.7v0.7h-0.7zM103.1 49.2h0.7v0.7h-0.7zM97.7 56.3h0.7v0.7h-0.7zM106.9 50.7h0.7v0.7h-0.7zM100.1 55.4h0.7v0.7h-0.7zM91.4 60.7h0.7v0.7h-0.7zM92.5 56.2h0.7v0.7h-0.7zM103.3 50.1h0.7v0.7h-0.7zM105.0 47.9h0.7v0.7h-0.7zM103.3 54.5h0.7v0.7h-0.7zM98.3 58.0h0.7v0.7h-0.7zM99.7 48.6h0.7v0.7h-0.7zM102.7 42.6h0.7v0.7h-0.7zM101.9 49.9h0.7v0.7h-0.7zM97.1 56.9h0.7v0.7h-0.7zM103.1 46.8h0.7v0.7h-0.7zM101.1 50.3h0.7v0.7h-0.7zM104.1 53.2h0.7v0.7h-0.7zM104.3 51.5h0.7v0.7h-0.7zM102.2 45.1h0.7v0.7h-0.7zM102.9 51.5h0.7v0.7h-0.7zM99.0 54.7h0.7v0.7h-0.7zM102.0 50.5h0.7v0.7h-0.7zM104.3 50.9h0.7v0.7h-0.7zM108.8 46.6h0.7v0.7h-0.7zM101.9 59.8h0.7v0.7h-0.7zM102.6 51.4h0.7v0.7h-0.7zM97.9 52.8h0.7v0.7h-0.7zM103.1 48.5h0.7v0.7h-0.7zM101.7 53.9h0.7v0.7h-0.7zM93.2 66.5h0.7v0.7h-0.7zM107.8 47.6h0.7v0.7h-0.7zM100.9 54.1h0.7v0.7h-0.7zM98.7 55.4h0.7v0.7h-0.7zM95.7 55.9h0.7v0.7h-0.7zM98.4 55.0h0.7v0.7h-0.7zM95.3 53.7h0.7v0.7h-0.7zM103.5 52.4h0.7v0.7h-0.7zM104.2 50.7h0.7v0.7h-0.7zM102.8 51.1h0.7v0.7h-0.7zM102.8 47.5h0.7v0.7h-0.7zM98.9 53.4h0.7v0.7h-0.7zM104.3 47.0h0.7v0.7h-0.7zM102.9 51.4h0.7v0.7h-0.7zM104.2 48.1h0.7v0.7h-0.7zM106.0 48.6h0.7v0.7h-0.7zM102.9 53.6h0.7v0.7h-0.7zM110.2 47.6h0.7v0.7h-0.7zM104.4 45.4h0.7v0.7h-0.7zM100.5 51.6h0.7v0.7h-0.7zM108.3 41.3h0.7v0.7h-0.7zM111.9 45.8h0.7v0.7h-0.7zM94.9 55.3h0.7v0.7h-0.7zM95.7 62.0h0.7v0.7h-0.7zM99.4 52.1h0.7v0.7h-0.7zM106.5 50.3h0.7v0.7h-0.7zM105.8 45.7h0.7v0.7h-0.7zM105.2 47.3h0.7v0.7h-0.7zM103.0 50.7h0.7v0.7h-0.7zM107.0 46.6h0.7v0.7h-0.7zM105.6 47.3h0.7v0.7h-0.7zM102.1 53.4h0.7v0.7h-0.7zM105.7 51.8h0.7v0.7h-0.7zM108.8 47.6h0.7v0.7h-0.7zM99.3 52.2h0.7v0.7h-0.7zM97.0 49.8h0.7v0.7h-0.7zM99.5 54.1h0.7v0.7h-0.7zM104.1 39.5h0.7v0.7h-0.7zM106.8 48.9h0.7v0.7h-0.7zM107.5 48.0h0.7v0.7h-0.7zM99.2 49.8h0.7v0.7h-0.7zM103.7 51.6h0.7v0.7h-0.7zM106.8 44.3h0.7v0.7h-0.7zM103.9 53.8h0.7v0.7h-0.7zM106.5 44.2h0.7v0.7h-0.7zM101.4 49.0h0.7v0.7h-0.7zM101.7 49.4h0.7v0.7h-0.7zM105.6 48.6h0.7v0.7h-0.7z" fill="#000" fill-opacity="0.48"/>
<path d="M102.0 52.8h0.7v0.7h-0.7zM108.9 41.4h0.7v0.7h-0.7zM103.4 50.5h0.7v0.7h-0.7zM109.9 45.2h0.7v0.7h-0.7zM102.8 49.4h0.7v0.7h-0.7zM101.8 48.5h0.7v0.7h-0.7zM101.0 49.9h0.7v0.7h-0.7zM100.2 49.3h0.7v0.7h-0.7zM107.4 50.0h0.7v0.7h-0.7zM105.6 44.0h0.7v0.7h-0.7zM103.2 47.6h0.7v0.7h-0.7zM102.1 52.1h0.7v0.7h-0.7zM104.9 48.8h0.7v0.7h-0.7zM103.1 52.6h0.7v0.7h-0.7zM98.2 58.0h0.7v0.7h-0.7zM105.1 49.4h0.7v0.7h-0.7zM99.3 54.0h0.7v0.7h-0.7zM101.9 50.4h0.7v0.7h-0.7zM104.2 49.0h0.7v0.7h-0.7zM104.2 51.4h0.7v0.7h-0.7zM104.2 50.7h0.7v0.7h-0.7zM109.3 45.7h0.7v0.7h-0.7zM105.2 44.9h0.7v0.7h-0.7zM107.7 44.3h0.7v0.7h-0.7zM104.2 48.0h0.7v0.7h-0.7zM104.4 48.1h0.7v0.7h-0.7zM108.1 43.3h0.7v0.7h-0.7zM103.3 51.7h0.7v0.7h-0.7zM106.3 49.5h0.7v0.7h-0.7zM106.6 50.9h0.7v0.7h-0.7zM104.6 47.9h0.7v0.7h-0.7zM105.9 47.6h0.7v0.7h-0.7zM104.7 49.1h0.7v0.7h-0.7zM106.5 47.1h0.7v0.7h-0.7zM101.0 50.7h0.7v0.7h-0.7zM106.5 48.8h0.7v0.7h-0.7zM99.3 50.0h0.7v0.7h-0.7zM106.8 45.8h0.7v0.7h-0.7zM105.0 44.6h0.7v0.7h-0.7zM104.4 50.5h0.7v0.7h-0.7zM101.4 49.2h0.7v0.7h-0.7zM103.0 48.2h0.7v0.7h-0.7zM105.8 47.8h0.7v0.7h-0.7zM99.0 52.3h0.7v0.7h-0.7zM101.7 52.3h0.7v0.7h-0.7zM106.5 46.3h0.7v0.7h-0.7zM105.7 52.0h0.7v0.7h-0.7zM99.4 51.5h0.7v0.7h-0.7zM97.2 54.5h0.7v0.7h-0.7zM103.6 51.2h0.7v0.7h-0.7zM99.5 54.2h0.7v0.7h-0.7zM105.1 49.5h0.7v0.7h-0.7zM103.7 49.3h0.7v0.7h-0.7zM110.4 45.3h0.7v0.7h-0.7zM101.1 53.1h0.7v0.7h-0.7zM107.4 49.0h0.7v0.7h-0.7zM99.5 51.2h0.7v0.7h-0.7zM101.6 52.4h0.7v0.7h-0.7zM103.4 49.7h0.7v0.7h-0.7zM102.3 52.1h0.7v0.7h-0.7zM108.3 43.4h0.7v0.7h-0.7zM104.9 50.4h0.7v0.7h-0.7zM100.7 50.0h0.7v0.7h-0.7zM111.6 44.0h0.7v0.7h-0.7zM102.6 52.1h0.7v0.7h-0.7zM101.3 48.5h0.7v0.7h-0.7zM104.0 50.4h0.7v0.7h-0.7zM100.0 49.4h0.7v0.7h-0.7zM106.5 48.3h0.7v0.7h-0.7zM105.8 44.4h0.7v0.7h-0.7zM100.5 52.8h0.7v0.7h-0.7zM102.6 50.4h0.7v0.7h-0.7zM101.4 48.7h0.7v0.7h-0.7zM98.4 51.2h0.7v0.7h-0.7zM101.1 53.5h0.7v0.7h-0.7zM102.6 49.9h0.7v0.7h-0.7zM102.8 53.0h0.7v0.7h-0.7zM105.0 48.5h0.7v0.7h-0.7zM109.3 50.2h0.7v0.7h-0.7zM104.9 49.1h0.7v0.7h-0.7zM106.8 50.5h0.7v0.7h-0.7zM102.0 52.3h0.7v0.7h-0.7zM102.6 51.2h0.7v0.7h-0.7zM105.8 49.0h0.7v0.7h-0.7zM105.0 47.1h0.7v0.7h-0.7zM103.2 49.0h0.7v0.7h-0.7zM107.4 49.7h0.7v0.7h-0.7zM103.3 49.9h0.7v0.7h-0.7zM99.7 51.4h0.7v0.7h-0.7zM105.6 49.2h0.7v0.7h-0.7zM102.1 49.7h0.7v0.7h-0.7zM99.5 54.2h0.7v0.7h-0.7zM107.7 48.4h0.7v0.7h-0.7zM106.6 49.8h0.7v0.7h-0.7zM108.1 49.4h0.7v0.7h-0.7zM104.1 52.0h0.7v0.7h-0.7zM109.0 46.2h0.7v0.7h-0.7zM106.1 48.8h0.7v0.7h-0.7zM107.2 47.1h0.7v0.7h-0.7zM102.3 51.2h0.7v0.7h-0.7zM105.7 52.8h0.7v0.7h-0.7zM107.6 45.9h0.7v0.7h-0.7zM105.9 51.3h0.7v0.7h-0.7zM104.1 49.3h0.7v0.7h-0.7zM109.6 46.8h0.7v0.7h-0.7zM104.4 43.3h0.7v0.7h-0.7zM105.0 49.0h0.7v0.7h-0.7zM108.8 43.7h0.7v0.7h-0.7zM101.8 55.2h0.7v0.7h-0.7zM105.6 51.3h0.7v0.7h-0.7zM102.0 50.3h0.7v0.7h-0.7zM108.2 45.4h0.7v0.7h-0.7zM109.5 46.2h0.7v0.7h-0.7zM103.2 51.1h0.7v0.7h-0.7zM104.7 49.2h0.7v0.7h-0.7zM107.8 48.0h0.7v0.7h-0.7zM104.3 46.7h0.7v0.7h-0.7zM106.7 50.5h0.7v0.7h-0.7zM107.5 47.3h0.7v0.7h-0.7zM106.6 41.2h0.7v0.7h-0.7zM103.6 48.2h0.7v0.7h-0.7zM101.1 52.4h0.7v0.7h-0.7zM106.4 52.2h0.7v0.7h-0.7zM104.1 49.6h0.7v0.7h-0.7zM101.6 48.9h0.7v0.7h-0.7zM107.6 49.1h0.7v0.7h-0.7zM106.7 48.0h0.7v0.7h-0.7zM106.8 47.1h0.7v0.7h-0.7zM106.7 49.3h0.7v0.7h-0.7zM104.6 48.4h0.7v0.7h-0.7zM101.4 52.1h0.7v0.7h-0.7zM104.4 51.5h0.7v0.7h-0.7zM102.4 52.3h0.7v0.7h-0.7zM106.2 49.7h0.7v0.7h-0.7zM103.6 49.4h0.7v0.7h-0.7zM106.0 51.4h0.7v0.7h-0.7zM104.2 46.6h0.7v0.7h-0.7zM102.1 48.8h0.7v0.7h-0.7zM107.8 47.2h0.7v0.7h-0.7zM106.8 46.4h0.7v0.7h-0.7zM102.0 52.3h0.7v0.7h-0.7zM107.9 46.1h0.7v0.7h-0.7zM103.2 50.3h0.7v0.7h-0.7zM101.2 50.3h0.7v0.7h-0.7zM103.8 50.7h0.7v0.7h-0.7zM102.2 54.3h0.7v0.7h-0.7zM104.4 47.7h0.7v0.7h-0.7zM109.6 48.3h0.7v0.7h-0.7zM101.8 55.3h0.7v0.7h-0.7zM104.6 47.5h0.7v0.7h-0.7zM106.8 48.8h0.7v0.7h-0.7zM105.0 46.6h0.7v0.7h-0.7zM105.9 47.7h0.7v0.7h-0.7zM104.4 47.2h0.7v0.7h-0.7zM102.5 50.2h0.7v0.7h-0.7zM104.8 45.2h0.7v0.7h-0.7zM105.1 48.5h0.7v0.7h-0.7zM105.4 46.3h0.7v0.7h-0.7zM104.2 47.7h0.7v0.7h-0.7zM101.5 48.1h0.7v0.7h-0.7zM104.2 49.7h0.7v0.7h-0.7zM108.0 50.0h0.7v0.7h-0.7zM106.8 46.4h0.7v0.7h-0.7zM99.0 54.5h0.7v0.7h-0.7zM99.7 51.7h0.7v0.7h-0.7zM99.4 53.4h0.7v0.7h-0.7zM102.0 50.0h0.7v0.7h-0.7zM100.9 49.6h0.7v0.7h-0.7zM103.9 48.1h0.7v0.7h-0.7zM102.9 49.8h0.7v0.7h-0.7zM108.3 46.3h0.7v0.7h-0.7zM102.3 50.8h0.7v0.7h-0.7zM102.7 51.7h0.7v0.7h-0.7zM103.4 53.1h0.7v0.7h-0.7zM104.5 51.3h0.7v0.7h-0.7zM104.3 48.7h0.7v0.7h-0.7zM101.1 48.9h0.7v0.7h-0.7zM101.6 51.8h0.7v0.7h-0.7zM100.7 53.3h0.7v0.7h-0.7zM105.8 50.1h0.7v0.7h-0.7zM103.0 51.1h0.7v0.7h-0.7zM104.5 55.1h0.7v0.7h-0.7zM103.2 49.9h0.7v0.7h-0.7zM105.9 49.4h0.7v0.7h-0.7zM108.9 43.1h0.7v0.7h-0.7zM107.6 44.1h0.7v0.7h-0.7zM101.6 51.6h0.7v0.7h-0.7zM103.3 50.9h0.7v0.7h-0.7zM99.7 55.5h0.7v0.7h-0.7zM95.6 51.4h0.7v0.7h-0.7zM100.4 55.7h0.7v0.7h-0.7zM108.3 48.7h0.7v0.7h-0.7zM105.3 51.4h0.7v0.7h-0.7zM101.2 54.4h0.7v0.7h-0.7zM102.3 51.2h0.7v0.7h-0.7zM103.5 51.5h0.7v0.7h-0.7zM103.8 52.7h0.7v0.7h-0.7zM107.2 44.6h0.7v0.7h-0.7zM99.7 55.4h0.7v0.7h-0.7zM103.5 51.3h0.7v0.7h-0.7zM104.8 48.7h0.7v0.7h-0.7zM107.4 50.2h0.7v0.7h-0.7zM97.6 54.6h0.7v0.7h-0.7zM103.7 48.0h0.7v0.7h-0.7zM100.8 52.8h0.7v0.7h-0.7zM102.0 50.4h0.7v0.7h-0.7zM101.3 55.2h0.7v0.7h-0.7zM104.6 45.7h0.7v0.7h-0.7zM111.3 39.8h0.7v0.7h-0.7zM107.3 47.2h0.7v0.7h-0.7zM104.2 51.1h0.7v0.7h-0.7zM98.2 52.9h0.7v0.7h-0.7zM108.0 48.6h0.7v0.7h-0.7zM105.5 44.3h0.7v0.7h-0.7zM102.3 53.6h0.7v0.7h-0.7zM105.9 46.1h0.7v0.7h-0.7zM98.9 53.8h0.7v0.7h-0.7zM102.7 54.8h0.7v0.7h-0.7zM104.6 49.1h0.7v0.7h-0.7zM99.8 52.5h0.7v0.7h-0.7zM106.5 47.7h0.7v0.7h-0.7zM110.1 47.7h0.7v0.7h-0.7zM104.5 49.4h0.7v0.7h-0.7zM104.8 47.4h0.7v0.7h-0.7zM108.8 45.4h0.7v0.7h-0.7zM104.4 46.8h0.7v0.7h-0.7zM107.1 45.3h0.7v0.7h-0.7zM107.6 45.0h0.7v0.7h-0.7zM102.1 53.0h0.7v0.7h-0.7zM109.7 43.1h0.7v0.7h-0.7zM108.0 46.8h0.7v0.7h-0.7zM105.9 50.3h0.7v0.7h-0.7zM108.2 48.9h0.7v0.7h-0.7zM103.4 46.8h0.7v0.7h-0.7zM104.9 48.7h0.7v0.7h-0.7zM100.4 50.8h0.7v0.7h-0.7zM103.9 51.2h0.7v0.7h-0.7zM103.7 50.6h0.7v0.7h-0.7zM107.3 46.5h0.7v0.7h-0.7zM105.1 47.6h0.7v0.7h-0.7zM104.4 47.3h0.7v0.7h-0.7zM102.2 47.9h0.7v0.7h-0.7zM108.8 47.1h0.7v0.7h-0.7zM97.5 55.7h0.7v0.7h-0.7zM101.9 51.8h0.7v0.7h-0.7zM107.2 47.2h0.7v0.7h-0.7zM104.0 51.3h0.7v0.7h-0.7zM108.1 49.7h0.7v0.7h-0.7zM108.5 45.0h0.7v0.7h-0.7zM107.2 47.9h0.7v0.7h-0.7zM98.6 51.6h0.7v0.7h-0.7zM103.3 49.6h0.7v0.7h-0.7zM100.5 51.7h0.7v0.7h-0.7zM105.0 47.4h0.7v0.7h-0.7zM108.4 47.9h0.7v0.7h-0.7zM103.8 50.1h0.7v0.7h-0.7zM105.8 48.1h0.7v0.7h-0.7zM103.9 50.0h0.7v0.7h-0.7zM109.3 44.0h0.7v0.7h-0.7zM104.5 48.8h0.7v0.7h-0.7zM104.3 48.1h0.7v0.7h-0.7zM105.3 47.3h0.7v0.7h-0.7zM106.8 46.1h0.7v0.7h-0.7zM106.0 47.3h0.7v0.7h-0.7zM102.3 47.4h0.7v0.7h-0.7zM104.6 49.3h0.7v0.7h-0.7zM105.7 48.0h0.7v0.7h-0.7zM106.4 48.2h0.7v0.7h-0.7zM102.2 49.2h0.7v0.7h-0.7zM101.8 49.9h0.7v0.7h-0.7zM104.5 50.8h0.7v0.7h-0.7zM104.8 47.4h0.7v0.7h-0.7zM103.6 51.1h0.7v0.7h-0.7zM100.7 51.5h0.7v0.7h-0.7zM102.2 49.0h0.7v0.7h-0.7zM101.5 49.1h0.7v0.7h-0.7zM105.4 47.1h0.7v0.7h-0.7zM102.5 50.2h0.7v0.7h-0.7zM102.0 49.1h0.7v0.7h-0.7zM110.9 45.9h0.7v0.7h-0.7zM105.6 48.2h0.7v0.7h-0.7zM100.9 50.9h0.7v0.7h-0.7zM109.2 47.7h0.7v0.7h-0.7zM104.2 51.2h0.7v0.7h-0.7zM101.4 50.7h0.7v0.7h-0.7zM105.0 46.5h0.7v0.7h-0.7zM100.3 52.9h0.7v0.7h-0.7zM104.9 50.3h0.7v0.7h-0.7zM104.4 46.4h0.7v0.7h-0.7zM107.6 48.6h0.7v0.7h-0.7zM102.5 50.3h0.7v0.7h-0.7zM103.9 51.6h0.7v0.7h-0.7zM104.0 49.4h0.7v0.7h-0.7zM108.2 46.6h0.7v0.7h-0.7zM100.2 54.8h0.7v0.7h-0.7zM107.9 48.5h0.7v0.7h-0.7zM104.4 47.8h0.7v0.7h-0.7zM110.0 47.7h0.7v0.7h-0.7zM100.0 51.0h0.7v0.7h-0.7zM107.8 46.6h0.7v0.7h-0.7zM102.7 52.4h0.7v0.7h-0.7zM105.2 48.6h0.7v0.7h-0.7zM104.2 51.3h0.7v0.7h-0.7zM96.0 54.2h0.7v0.7h-0.7zM104.2 49.5h0.7v0.7h-0.7zM106.5 49.4h0.7v0.7h-0.7zM106.7 47.1h0.7v0.7h-0.7zM101.5 49.9h0.7v0.7h-0.7zM101.4 52.6h0.7v0.7h-0.7zM106.5 47.7h0.7v0.7h-0.7zM102.4 49.2h0.7v0.7h-0.7zM108.6 48.0h0.7v0.7h-0.7zM107.7 45.0h0.7v0.7h-0.7zM102.7 48.9h0.7v0.7h-0.7zM104.0 49.9h0.7v0.7h-0.7zM101.8 50.6h0.7v0.7h-0.7zM98.7 54.5h0.7v0.7h-0.7zM104.6 49.6h0.7v0.7h-0.7zM105.9 47.0h0.7v0.7h-0.7zM107.9 47.2h0.7v0.7h-0.7zM104.6 49.7h0.7v0.7h-0.7zM110.7 45.7h0.7v0.7h-0.7zM101.9 49.7h0.7v0.7h-0.7zM104.4 49.5h0.7v0.7h-0.7zM103.2 51.1h0.7v0.7h-0.7zM103.5 50.8h0.7v0.7h-0.7zM101.5 47.9h0.7v0.7h-0.7zM101.4 50.0h0.7v0.7h-0.7zM103.6 50.8h0.7v0.7h-0.7zM105.8 49.2h0.7v0.7h-0.7zM104.7 49.1h0.7v0.7h-0.7zM101.8 52.3h0.7v0.7h-0.7zM107.0 49.3h0.7v0.7h-0.7zM101.8 51.1h0.7v0.7h-0.7zM104.9 47.3h0.7v0.7h-0.7zM106.2 50.7h0.7v0.7h-0.7zM99.8 55.1h0.7v0.7h-0.7zM101.4 51.9h0.7v0.7h-0.7zM106.2 46.1h0.7v0.7h-0.7zM104.3 52.7h0.7v0.7h-0.7zM102.3 50.8h0.7v0.7h-0.7zM102.4 49.6h0.7v0.7h-0.7zM106.0 50.4h0.7v0.7h-0.7zM104.5 46.2h0.7v0.7h-0.7zM103.5 50.0h0.7v0.7h-0.7zM109.7 45.5h0.7v0.7h-0.7zM102.6 50.6h0.7v0.7h-0.7zM102.6 50.0h0.7v0.7h-0.7zM104.4 50.3h0.7v0.7h-0.7zM103.6 47.6h0.7v0.7h-0.7zM108.2 45.2h0.7v0.7h-0.7zM111.5 43.8h0.7v0.7h-0.7zM102.4 49.1h0.7v0.7h-0.7zM105.4 51.2h0.7v0.7h-0.7zM105.9 47.4h0.7v0.7h-0.7zM104.0 49.6h0.7v0.7h-0.7zM106.3 46.5h0.7v0.7h-0.7zM102.1 52.8h0.7v0.7h-0.7zM106.3 46.6h0.7v0.7h-0.7zM98.7 55.4h0.7v0.7h-0.7zM107.2 49.3h0.7v0.7h-0.7zM107.5 48.9h0.7v0.7h-0.7zM109.6 41.1h0.7v0.7h-0.7zM103.3 53.2h0.7v0.7h-0.7zM105.8 47.0h0.7v0.7h-0.7zM106.5 47.9h0.7v0.7h-0.7zM102.0 52.0h0.7v0.7h-0.7zM105.4 48.9h0.7v0.7h-0.7zM101.5 51.0h0.7v0.7h-0.7zM101.8 53.1h0.7v0.7h-0.7zM101.3 54.4h0.7v0.7h-0.7zM103.2 49.3h0.7v0.7h-0.7zM101.5 52.1h0.7v0.7h-0.7zM99.6 55.8h0.7v0.7h-0.7zM106.3 49.7h0.7v0.7h-0.7zM100.1 54.3h0.7v0.7h-0.7zM106.6 47.8h0.7v0.7h-0.7zM105.6 49.2h0.7v0.7h-0.7zM101.8 51.2h0.7v0.7h-0.7zM100.4 54.0h0.7v0.7h-0.7zM101.6 51.5h0.7v0.7h-0.7zM100.3 52.6h0.7v0.7h-0.7zM100.9 47.9h0.7v0.7h-0.7zM101.5 48.5h0.7v0.7h-0.7zM111.5 43.1h0.7v0.7h-0.7zM99.4 55.8h0.7v0.7h-0.7zM103.2 51.4h0.7v0.7h-0.7zM106.0 48.0h0.7v0.7h-0.7zM106.9 46.3h0.7v0.7h-0.7zM108.6 46.3h0.7v0.7h-0.7zM101.3 51.6h0.7v0.7h-0.7zM106.6 47.2h0.7v0.7h-0.7zM98.0 58.7h0.7v0.7h-0.7zM102.3 48.5h0.7v0.7h-0.7zM106.1 46.4h0.7v0.7h-0.7zM106.1 47.2h0.7v0.7h-0.7zM98.5 51.1h0.7v0.7h-0.7zM100.8 50.3h0.7v0.7h-0.7zM99.5 56.3h0.7v0.7h-0.7zM102.8 51.9h0.7v0.7h-0.7zM100.4 52.9h0.7v0.7h-0.7zM106.5 50.0h0.7v0.7h-0.7zM101.2 50.4h0.7v0.7h-0.7zM108.0 49.8h0.7v0.7h-0.7zM104.0 49.6h0.7v0.7h-0.7zM102.8 49.6h0.7v0.7h-0.7zM110.4 45.7h0.7v0.7h-0.7zM108.1 46.7h0.7v0.7h-0.7zM100.9 53.2h0.7v0.7h-0.7zM108.1 45.5h0.7v0.7h-0.7zM104.6 45.4h0.7v0.7h-0.7zM105.9 43.6h0.7v0.7h-0.7zM105.6 48.1h0.7v0.7h-0.7zM100.4 55.3h0.7v0.7h-0.7zM102.5 49.5h0.7v0.7h-0.7zM97.7 56.1h0.7v0.7h-0.7zM98.8 51.5h0.7v0.7h-0.7zM100.9 49.7h0.7v0.7h-0.7zM107.8 45.8h0.7v0.7h-0.7zM105.2 50.0h0.7v0.7h-0.7zM105.7 49.5h0.7v0.7h-0.7zM107.6 48.6h0.7v0.7h-0.7zM101.0 51.0h0.7v0.7h-0.7zM107.2 46.2h0.7v0.7h-0.7zM105.8 49.6h0.7v0.7h-0.7zM100.6 50.9h0.7v0.7h-0.7zM102.4 50.6h0.7v0.7h-0.7zM103.6 50.0h0.7v0.7h-0.7zM106.0 47.7h0.7v0.7h-0.7zM109.2 46.4h0.7v0.7h-0.7zM103.9 50.6h0.7v0.7h-0.7zM103.2 49.5h0.7v0.7h-0.7zM106.9 42.0h0.7v0.7h-0.7zM114.0 41.5h0.7v0.7h-0.7zM110.4 45.5h0.7v0.7h-0.7zM105.4 49.4h0.7v0.7h-0.7zM103.7 50.7h0.7v0.7h-0.7zM106.7 48.0h0.7v0.7h-0.7zM106.4 49.8h0.7v0.7h-0.7zM101.6 51.0h0.7v0.7h-0.7zM108.0 45.6h0.7v0.7h-0.7zM110.4 41.4h0.7v0.7h-0.7zM101.7 51.4h0.7v0.7h-0.7zM101.3 50.6h0.7v0.7h-0.7zM102.0 49.9h0.7v0.7h-0.7zM98.7 50.7h0.7v0.7h-0.7zM106.5 47.0h0.7v0.7h-0.7zM101.3 54.3h0.7v0.7h-0.7zM103.1 44.3h0.7v0.7h-0.7zM106.7 49.6h0.7v0.7h-0.7zM106.4 47.3h0.7v0.7h-0.7zM99.5 52.7h0.7v0.7h-0.7zM105.0 49.3h0.7v0.7h-0.7zM104.8 48.3h0.7v0.7h-0.7zM106.7 46.8h0.7v0.7h-0.7zM106.8 49.8h0.7v0.7h-0.7zM102.8 51.1h0.7v0.7h-0.7zM107.9 46.6h0.7v0.7h-0.7zM107.9 45.2h0.7v0.7h-0.7zM107.9 45.4h0.7v0.7h-0.7zM101.3 50.4h0.7v0.7h-0.7zM105.7 47.8h0.7v0.7h-0.7zM100.9 51.0h0.7v0.7h-0.7zM105.0 51.0h0.7v0.7h-0.7zM106.2 47.0h0.7v0.7h-0.7zM101.0 54.0h0.7v0.7h-0.7zM113.4 43.1h0.7v0.7h-0.7zM108.8 47.0h0.7v0.7h-0.7zM101.4 50.7h0.7v0.7h-0.7zM104.4 52.7h0.7v0.7h-0.7zM102.1 47.5h0.7v0.7h-0.7zM105.4 51.2h0.7v0.7h-0.7zM98.3 50.0h0.7v0.7h-0.7zM103.0 48.7h0.7v0.7h-0.7zM99.9 53.5h0.7v0.7h-0.7zM101.8 50.3h0.7v0.7h-0.7zM107.1 42.2h0.7v0.7h-0.7zM102.6 47.9h0.7v0.7h-0.7zM103.5 50.7h0.7v0.7h-0.7zM106.9 43.2h0.7v0.7h-0.7zM105.8 49.1h0.7v0.7h-0.7zM107.2 48.8h0.7v0.7h-0.7zM104.1 52.3h0.7v0.7h-0.7zM107.6 46.6h0.7v0.7h-0.7zM103.3 50.2h0.7v0.7h-0.7zM106.3 46.5h0.7v0.7h-0.7zM108.9 50.4h0.7v0.7h-0.7zM110.4 45.8h0.7v0.7h-0.7zM107.7 47.2h0.7v0.7h-0.7zM104.6 49.7h0.7v0.7h-0.7zM102.4 53.4h0.7v0.7h-0.7zM101.5 48.1h0.7v0.7h-0.7zM103.2 52.1h0.7v0.7h-0.7zM108.0 44.5h0.7v0.7h-0.7zM100.6 48.1h0.7v0.7h-0.7zM99.0 56.8h0.7v0.7h-0.7zM104.6 47.5h0.7v0.7h-0.7zM107.0 47.5h0.7v0.7h-0.7zM100.9 51.1h0.7v0.7h-0.7zM105.9 46.9h0.7v0.7h-0.7zM102.2 54.7h0.7v0.7h-0.7zM105.3 49.0h0.7v0.7h-0.7zM104.2 50.2h0.7v0.7h-0.7zM103.6 46.8h0.7v0.7h-0.7zM106.4 49.1h0.7v0.7h-0.7zM101.7 50.5h0.7v0.7h-0.7zM107.1 47.6h0.7v0.7h-0.7zM101.8 49.6h0.7v0.7h-0.7zM105.0 49.4h0.7v0.7h-0.7zM108.9 46.0h0.7v0.7h-0.7zM100.2 50.3h0.7v0.7h-0.7zM104.8 49.4h0.7v0.7h-0.7zM107.9 43.9h0.7v0.7h-0.7zM109.1 47.1h0.7v0.7h-0.7zM102.7 51.6h0.7v0.7h-0.7zM102.6 51.1h0.7v0.7h-0.7zM109.0 51.0h0.7v0.7h-0.7zM103.3 52.0h0.7v0.7h-0.7zM104.1 48.7h0.7v0.7h-0.7zM101.3 54.0h0.7v0.7h-0.7z" fill="#000" fill-opacity="0.66"/>
<path d="M101.7 63.4h0.6v0.6h-0.6zM98.7 48.7h0.6v0.6h-0.6zM102.7 47.3h0.6v0.6h-0.6zM91.8 59.2h0.6v0.6h-0.6zM93.8 60.2h0.6v0.6h-0.6zM93.8 63.9h0.6v0.6h-0.6zM95.1 61.0h0.6v0.6h-0.6zM103.8 49.2h0.6v0.6h-0.6zM95.1 56.2h0.6v0.6h-0.6zM92.3 65.5h0.6v0.6h-0.6zM97.7 62.8h0.6v0.6h-0.6zM95.0 55.4h0.6v0.6h-0.6zM102.6 57.5h0.6v0.6h-0.6zM94.7 60.8h0.6v0.6h-0.6zM96.6 57.8h0.6v0.6h-0.6zM107.3 43.0h0.6v0.6h-0.6zM91.5 54.9h0.6v0.6h-0.6zM96.6 58.6h0.6v0.6h-0.6zM82.8 54.9h0.6v0.6h-0.6zM98.7 52.7h0.6v0.6h-0.6zM93.7 61.0h0.6v0.6h-0.6zM100.5 45.8h0.6v0.6h-0.6zM104.8 57.6h0.6v0.6h-0.6zM102.8 59.3h0.6v0.6h-0.6zM90.1 56.9h0.6v0.6h-0.6zM93.1 58.9h0.6v0.6h-0.6zM92.8 59.1h0.6v0.6h-0.6zM94.2 56.0h0.6v0.6h-0.6zM92.2 57.9h0.6v0.6h-0.6zM93.4 61.4h0.6v0.6h-0.6zM99.3 62.2h0.6v0.6h-0.6zM95.1 58.2h0.6v0.6h-0.6zM93.4 59.7h0.6v0.6h-0.6zM99.9 54.6h0.6v0.6h-0.6zM98.7 51.8h0.6v0.6h-0.6zM93.7 61.9h0.6v0.6h-0.6zM104.7 47.9h0.6v0.6h-0.6zM94.8 53.6h0.6v0.6h-0.6zM102.7 54.8h0.6v0.6h-0.6zM100.3 45.1h0.6v0.6h-0.6zM86.8 62.2h0.6v0.6h-0.6zM96.7 54.8h0.6v0.6h-0.6zM99.4 53.9h0.6v0.6h-0.6zM97.6 48.8h0.6v0.6h-0.6zM96.9 52.1h0.6v0.6h-0.6zM99.8 53.5h0.6v0.6h-0.6zM88.9 65.6h0.6v0.6h-0.6zM90.0 61.4h0.6v0.6h-0.6zM97.5 55.0h0.6v0.6h-0.6zM83.0 63.7h0.6v0.6h-0.6zM92.4 60.2h0.6v0.6h-0.6zM87.9 50.8h0.6v0.6h-0.6zM98.4 58.2h0.6v0.6h-0.6zM101.8 57.0h0.6v0.6h-0.6zM96.2 56.9h0.6v0.6h-0.6zM88.7 58.5h0.6v0.6h-0.6zM93.3 65.5h0.6v0.6h-0.6zM95.6 54.4h0.6v0.6h-0.6zM101.0 59.3h0.6v0.6h-0.6zM96.4 55.6h0.6v0.6h-0.6zM94.1 55.2h0.6v0.6h-0.6zM95.2 56.9h0.6v0.6h-0.6zM86.6 61.6h0.6v0.6h-0.6zM94.6 57.6h0.6v0.6h-0.6zM100.0 56.3h0.6v0.6h-0.6zM88.8 61.7h0.6v0.6h-0.6zM96.2 54.9h0.6v0.6h-0.6zM98.5 55.1h0.6v0.6h-0.6zM107.7 49.6h0.6v0.6h-0.6zM94.8 58.2h0.6v0.6h-0.6zM95.1 60.4h0.6v0.6h-0.6zM90.3 64.4h0.6v0.6h-0.6zM90.3 63.1h0.6v0.6h-0.6zM88.6 66.4h0.6v0.6h-0.6zM86.1 65.2h0.6v0.6h-0.6zM101.2 58.3h0.6v0.6h-0.6zM96.0 59.1h0.6v0.6h-0.6zM98.5 59.0h0.6v0.6h-0.6zM86.7 63.8h0.6v0.6h-0.6zM81.8 62.1h0.6v0.6h-0.6zM85.2 63.8h0.6v0.6h-0.6zM103.3 51.5h0.6v0.6h-0.6zM101.6 54.4h0.6v0.6h-0.6zM88.3 63.2h0.6v0.6h-0.6zM98.9 61.6h0.6v0.6h-0.6zM93.1 53.6h0.6v0.6h-0.6zM86.2 57.0h0.6v0.6h-0.6zM91.5 60.0h0.6v0.6h-0.6zM98.4 52.2h0.6v0.6h-0.6zM98.8 55.1h0.6v0.6h-0.6zM101.1 56.1h0.6v0.6h-0.6zM102.8 64.1h0.6v0.6h-0.6zM92.8 53.8h0.6v0.6h-0.6zM95.3 52.9h0.6v0.6h-0.6zM94.2 58.4h0.6v0.6h-0.6zM100.4 47.0h0.6v0.6h-0.6zM94.6 54.9h0.6v0.6h-0.6zM100.7 59.3h0.6v0.6h-0.6zM94.6 58.1h0.6v0.6h-0.6zM91.7 60.5h0.6v0.6h-0.6zM97.4 61.1h0.6v0.6h-0.6zM89.7 54.5h0.6v0.6h-0.6zM91.4 61.4h0.6v0.6h-0.6zM99.1 54.5h0.6v0.6h-0.6zM105.8 50.6h0.6v0.6h-0.6zM94.4 54.0h0.6v0.6h-0.6zM93.7 57.1h0.6v0.6h-0.6zM91.4 60.5h0.6v0.6h-0.6zM89.4 65.8h0.6v0.6h-0.6zM96.6 53.4h0.6v0.6h-0.6zM99.4 57.2h0.6v0.6h-0.6zM86.5 55.2h0.6v0.6h-0.6zM96.5 58.7h0.6v0.6h-0.6zM92.6 63.4h0.6v0.6h-0.6zM100.3 49.6h0.6v0.6h-0.6zM95.1 56.6h0.6v0.6h-0.6zM97.4 56.0h0.6v0.6h-0.6zM104.4 51.8h0.6v0.6h-0.6zM97.7 56.7h0.6v0.6h-0.6zM96.1 56.1h0.6v0.6h-0.6zM93.3 58.4h0.6v0.6h-0.6zM95.9 58.5h0.6v0.6h-0.6zM103.2 55.0h0.6v0.6h-0.6zM92.5 61.1h0.6v0.6h-0.6zM90.8 58.9h0.6v0.6h-0.6zM103.2 49.9h0.6v0.6h-0.6zM98.7 51.5h0.6v0.6h-0.6zM95.8 53.4h0.6v0.6h-0.6zM98.3 53.2h0.6v0.6h-0.6zM94.5 55.8h0.6v0.6h-0.6zM95.5 61.0h0.6v0.6h-0.6zM92.0 55.1h0.6v0.6h-0.6zM97.1 56.7h0.6v0.6h-0.6zM90.4 56.4h0.6v0.6h-0.6zM89.1 66.3h0.6v0.6h-0.6zM95.2 59.2h0.6v0.6h-0.6zM99.5 60.1h0.6v0.6h-0.6zM95.9 59.8h0.6v0.6h-0.6zM96.5 52.2h0.6v0.6h-0.6zM96.9 56.7h0.6v0.6h-0.6zM98.8 52.1h0.6v0.6h-0.6zM94.8 55.8h0.6v0.6h-0.6zM92.3 55.6h0.6v0.6h-0.6zM97.6 54.6h0.6v0.6h-0.6zM100.0 54.4h0.6v0.6h-0.6zM93.6 60.1h0.6v0.6h-0.6zM101.7 51.9h0.6v0.6h-0.6zM92.9 60.0h0.6v0.6h-0.6zM97.0 56.0h0.6v0.6h-0.6zM92.5 58.9h0.6v0.6h-0.6zM95.8 56.0h0.6v0.6h-0.6zM102.4 52.3h0.6v0.6h-0.6zM103.3 50.4h0.6v0.6h-0.6zM90.4 64.9h0.6v0.6h-0.6zM89.1 64.6h0.6v0.6h-0.6zM98.3 55.4h0.6v0.6h-0.6zM103.8 52.3h0.6v0.6h-0.6zM96.1 55.9h0.6v0.6h-0.6zM93.4 58.3h0.6v0.6h-0.6zM99.3 54.2h0.6v0.6h-0.6zM92.0 63.1h0.6v0.6h-0.6zM99.0 55.6h0.6v0.6h-0.6zM100.9 50.9h0.6v0.6h-0.6zM101.4 52.7h0.6v0.6h-0.6zM101.6 58.2h0.6v0.6h-0.6zM90.8 57.2h0.6v0.6h-0.6zM95.1 60.8h0.6v0.6h-0.6zM90.3 60.7h0.6v0.6h-0.6zM112.7 60.4h0.6v0.6h-0.6zM102.9 54.5h0.6v0.6h-0.6zM95.2 58.1h0.6v0.6h-0.6zM94.8 57.7h0.6v0.6h-0.6zM93.3 52.7h0.6v0.6h-0.6zM91.0 59.0h0.6v0.6h-0.6zM102.3 61.1h0.6v0.6h-0.6zM98.6 56.7h0.6v0.6h-0.6zM96.9 55.2h0.6v0.6h-0.6zM95.6 57.5h0.6v0.6h-0.6zM92.3 56.0h0.6v0.6h-0.6zM88.5 63.7h0.6v0.6h-0.6zM88.0 65.8h0.6v0.6h-0.6zM103.3 44.8h0.6v0.6h-0.6zM92.3 59.1h0.6v0.6h-0.6zM88.5 51.2h0.6v0.6h-0.6zM90.2 54.4h0.6v0.6h-0.6zM92.9 63.4h0.6v0.6h-0.6zM106.0 54.6h0.6v0.6h-0.6zM94.9 52.4h0.6v0.6h-0.6zM92.2 59.9h0.6v0.6h-0.6zM100.9 51.8h0.6v0.6h-0.6zM101.8 57.3h0.6v0.6h-0.6zM96.4 58.4h0.6v0.6h-0.6zM88.0 64.0h0.6v0.6h-0.6zM100.5 56.3h0.6v0.6h-0.6zM99.1 52.7h0.6v0.6h-0.6zM100.6 57.8h0.6v0.6h-0.6zM93.1 58.1h0.6v0.6h-0.6zM100.8 58.3h0.6v0.6h-0.6zM91.8 61.4h0.6v0.6h-0.6zM97.0 57.5h0.6v0.6h-0.6zM94.6 53.3h0.6v0.6h-0.6zM90.8 54.6h0.6v0.6h-0.6zM86.9 57.6h0.6v0.6h-0.6zM95.2 60.1h0.6v0.6h-0.6zM86.2 55.6h0.6v0.6h-0.6zM92.2 66.3h0.6v0.6h-0.6zM99.8 52.8h0.6v0.6h-0.6zM91.6 54.9h0.6v0.6h-0.6zM93.4 60.8h0.6v0.6h-0.6zM90.0 56.6h0.6v0.6h-0.6zM97.5 56.2h0.6v0.6h-0.6zM93.0 58.4h0.6v0.6h-0.6zM94.2 63.9h0.6v0.6h-0.6zM98.5 59.2h0.6v0.6h-0.6zM97.9 59.8h0.6v0.6h-0.6zM89.7 60.2h0.6v0.6h-0.6zM92.5 65.5h0.6v0.6h-0.6zM101.5 52.5h0.6v0.6h-0.6zM94.0 59.3h0.6v0.6h-0.6zM102.2 54.2h0.6v0.6h-0.6zM98.8 56.2h0.6v0.6h-0.6zM92.0 54.6h0.6v0.6h-0.6zM95.4 60.6h0.6v0.6h-0.6zM99.9 47.1h0.6v0.6h-0.6zM93.0 61.7h0.6v0.6h-0.6zM93.1 59.2h0.6v0.6h-0.6zM91.2 61.4h0.6v0.6h-0.6zM92.1 55.6h0.6v0.6h-0.6zM92.6 64.3h0.6v0.6h-0.6zM95.4 57.0h0.6v0.6h-0.6zM90.7 65.2h0.6v0.6h-0.6zM96.2 53.8h0.6v0.6h-0.6zM95.3 54.6h0.6v0.6h-0.6zM96.4 57.2h0.6v0.6h-0.6zM94.4 63.0h0.6v0.6h-0.6zM98.8 49.2h0.6v0.6h-0.6zM104.0 48.3h0.6v0.6h-0.6zM93.4 57.1h0.6v0.6h-0.6zM90.7 60.2h0.6v0.6h-0.6zM97.4 54.1h0.6v0.6h-0.6zM96.4 61.6h0.6v0.6h-0.6zM97.4 59.2h0.6v0.6h-0.6zM98.4 55.4h0.6v0.6h-0.6zM90.2 65.6h0.6v0.6h-0.6zM101.0 57.7h0.6v0.6h-0.6zM88.6 60.4h0.6v0.6h-0.6zM87.4 60.9h0.6v0.6h-0.6zM94.7 61.3h0.6v0.6h-0.6zM107.0 57.7h0.6v0.6h-0.6zM86.9 54.1h0.6v0.6h-0.6zM96.1 54.4h0.6v0.6h-0.6zM92.2 63.7h0.6v0.6h-0.6zM96.6 53.2h0.6v0.6h-0.6zM98.6 58.9h0.6v0.6h-0.6zM101.4 53.9h0.6v0.6h-0.6zM93.4 53.8h0.6v0.6h-0.6zM94.2 56.6h0.6v0.6h-0.6zM86.6 66.4h0.6v0.6h-0.6zM94.8 54.2h0.6v0.6h-0.6zM100.4 56.3h0.6v0.6h-0.6zM96.8 57.9h0.6v0.6h-0.6zM95.4 56.4h0.6v0.6h-0.6zM98.8 56.7h0.6v0.6h-0.6zM98.7 53.5h0.6v0.6h-0.6zM91.1 62.1h0.6v0.6h-0.6zM92.6 55.5h0.6v0.6h-0.6zM100.3 60.0h0.6v0.6h-0.6zM95.8 56.2h0.6v0.6h-0.6zM92.8 64.8h0.6v0.6h-0.6zM100.1 60.9h0.6v0.6h-0.6zM98.7 55.0h0.6v0.6h-0.6zM103.8 51.6h0.6v0.6h-0.6zM97.1 56.1h0.6v0.6h-0.6zM91.4 62.2h0.6v0.6h-0.6zM95.6 53.9h0.6v0.6h-0.6zM90.7 53.5h0.6v0.6h-0.6zM92.4 61.5h0.6v0.6h-0.6zM88.0 63.8h0.6v0.6h-0.6zM95.5 65.6h0.6v0.6h-0.6zM90.1 55.9h0.6v0.6h-0.6zM93.4 55.2h0.6v0.6h-0.6zM96.9 59.9h0.6v0.6h-0.6zM98.8 60.2h0.6v0.6h-0.6zM104.9 50.6h0.6v0.6h-0.6zM94.9 58.3h0.6v0.6h-0.6zM98.0 47.5h0.6v0.6h-0.6zM90.0 59.0h0.6v0.6h-0.6zM93.7 61.6h0.6v0.6h-0.6zM86.9 66.1h0.6v0.6h-0.6zM101.5 48.9h0.6v0.6h-0.6zM98.2 59.2h0.6v0.6h-0.6zM101.9 59.0h0.6v0.6h-0.6zM103.7 50.9h0.6v0.6h-0.6zM97.7 56.5h0.6v0.6h-0.6zM104.7 53.2h0.6v0.6h-0.6zM103.3 55.2h0.6v0.6h-0.6zM94.7 54.3h0.6v0.6h-0.6zM90.3 57.7h0.6v0.6h-0.6zM99.4 52.1h0.6v0.6h-0.6zM89.5 50.6h0.6v0.6h-0.6zM88.8 57.2h0.6v0.6h-0.6zM84.9 65.2h0.6v0.6h-0.6zM102.6 49.0h0.6v0.6h-0.6zM80.2 66.2h0.6v0.6h-0.6zM97.4 60.0h0.6v0.6h-0.6zM103.8 52.4h0.6v0.6h-0.6zM100.1 57.5h0.6v0.6h-0.6zM91.6 60.0h0.6v0.6h-0.6zM92.9 57.9h0.6v0.6h-0.6zM90.2 58.1h0.6v0.6h-0.6zM96.9 57.6h0.6v0.6h-0.6zM90.8 53.4h0.6v0.6h-0.6zM86.7 60.8h0.6v0.6h-0.6zM89.0 65.4h0.6v0.6h-0.6zM102.6 55.6h0.6v0.6h-0.6zM88.5 62.9h0.6v0.6h-0.6zM86.9 59.4h0.6v0.6h-0.6zM108.0 50.1h0.6v0.6h-0.6zM89.3 59.4h0.6v0.6h-0.6zM88.1 63.0h0.6v0.6h-0.6zM88.1 59.3h0.6v0.6h-0.6zM102.8 59.8h0.6v0.6h-0.6zM94.5 65.0h0.6v0.6h-0.6zM92.5 56.3h0.6v0.6h-0.6zM80.9 64.2h0.6v0.6h-0.6zM91.8 60.4h0.6v0.6h-0.6zM96.5 59.6h0.6v0.6h-0.6zM97.9 61.2h0.6v0.6h-0.6zM102.3 51.9h0.6v0.6h-0.6zM94.9 52.7h0.6v0.6h-0.6zM87.3 65.3h0.6v0.6h-0.6zM87.1 57.4h0.6v0.6h-0.6zM92.9 58.5h0.6v0.6h-0.6zM94.6 57.1h0.6v0.6h-0.6zM96.0 52.9h0.6v0.6h-0.6zM86.9 65.5h0.6v0.6h-0.6zM101.1 57.6h0.6v0.6h-0.6zM87.9 59.7h0.6v0.6h-0.6zM81.7 66.0h0.6v0.6h-0.6zM91.5 63.8h0.6v0.6h-0.6zM91.9 59.0h0.6v0.6h-0.6zM88.0 62.1h0.6v0.6h-0.6zM94.5 47.1h0.6v0.6h-0.6zM87.9 60.8h0.6v0.6h-0.6zM94.6 54.6h0.6v0.6h-0.6zM95.8 57.1h0.6v0.6h-0.6zM96.7 64.2h0.6v0.6h-0.6z" fill="#000" fill-opacity="0.32"/>
<path d="M87.2 65.6h0.6v0.6h-0.6zM85.6 61.0h0.6v0.6h-0.6zM88.7 65.8h0.6v0.6h-0.6zM86.3 64.8h0.6v0.6h-0.6zM89.3 63.4h0.6v0.6h-0.6zM99.4 60.9h0.6v0.6h-0.6zM83.8 61.9h0.6v0.6h-0.6zM86.1 61.7h0.6v0.6h-0.6zM87.0 62.6h0.6v0.6h-0.6zM90.8 65.2h0.6v0.6h-0.6zM86.8 61.6h0.6v0.6h-0.6zM85.6 60.5h0.6v0.6h-0.6zM88.3 63.6h0.6v0.6h-0.6zM83.3 64.3h0.6v0.6h-0.6zM93.0 64.5h0.6v0.6h-0.6zM80.7 65.9h0.6v0.6h-0.6zM90.9 61.1h0.6v0.6h-0.6zM86.9 64.0h0.6v0.6h-0.6zM88.3 63.9h0.6v0.6h-0.6zM79.9 64.9h0.6v0.6h-0.6zM80.6 62.7h0.6v0.6h-0.6zM82.9 65.0h0.6v0.6h-0.6zM86.3 61.4h0.6v0.6h-0.6zM86.8 63.4h0.6v0.6h-0.6zM93.8 61.6h0.6v0.6h-0.6zM93.7 57.2h0.6v0.6h-0.6zM88.3 64.5h0.6v0.6h-0.6zM96.2 61.0h0.6v0.6h-0.6zM87.5 62.3h0.6v0.6h-0.6zM92.6 64.2h0.6v0.6h-0.6zM84.7 61.5h0.6v0.6h-0.6zM87.0 63.6h0.6v0.6h-0.6zM86.3 64.2h0.6v0.6h-0.6zM84.0 63.1h0.6v0.6h-0.6zM89.2 63.0h0.6v0.6h-0.6zM83.3 62.7h0.6v0.6h-0.6zM86.8 62.5h0.6v0.6h-0.6zM89.7 64.3h0.6v0.6h-0.6zM97.0 59.9h0.6v0.6h-0.6zM87.6 62.1h0.6v0.6h-0.6zM90.8 63.8h0.6v0.6h-0.6zM85.7 63.1h0.6v0.6h-0.6zM91.2 61.1h0.6v0.6h-0.6zM90.1 63.6h0.6v0.6h-0.6zM89.0 59.3h0.6v0.6h-0.6zM84.8 60.3h0.6v0.6h-0.6zM86.6 64.2h0.6v0.6h-0.6zM82.7 63.5h0.6v0.6h-0.6zM88.5 63.9h0.6v0.6h-0.6zM82.0 61.9h0.6v0.6h-0.6zM83.2 64.6h0.6v0.6h-0.6zM81.1 65.1h0.6v0.6h-0.6zM92.9 63.5h0.6v0.6h-0.6zM84.6 62.6h0.6v0.6h-0.6zM90.8 60.9h0.6v0.6h-0.6zM86.1 66.7h0.6v0.6h-0.6zM88.7 61.2h0.6v0.6h-0.6zM86.9 65.1h0.6v0.6h-0.6zM89.7 65.6h0.6v0.6h-0.6zM93.7 59.0h0.6v0.6h-0.6zM92.5 64.1h0.6v0.6h-0.6zM80.4 63.5h0.6v0.6h-0.6zM91.3 60.6h0.6v0.6h-0.6zM86.2 62.6h0.6v0.6h-0.6zM87.7 61.7h0.6v0.6h-0.6zM93.8 63.7h0.6v0.6h-0.6zM92.2 62.9h0.6v0.6h-0.6zM92.3 63.8h0.6v0.6h-0.6zM97.2 63.2h0.6v0.6h-0.6zM92.4 61.7h0.6v0.6h-0.6zM84.9 65.3h0.6v0.6h-0.6zM82.0 66.9h0.6v0.6h-0.6zM92.1 66.1h0.6v0.6h-0.6zM79.6 65.4h0.6v0.6h-0.6zM85.8 63.3h0.6v0.6h-0.6zM85.5 62.1h0.6v0.6h-0.6zM84.1 63.4h0.6v0.6h-0.6zM93.8 62.2h0.6v0.6h-0.6zM89.1 63.6h0.6v0.6h-0.6zM85.9 61.2h0.6v0.6h-0.6zM91.5 61.9h0.6v0.6h-0.6zM85.5 63.5h0.6v0.6h-0.6zM92.9 61.3h0.6v0.6h-0.6zM96.8 60.4h0.6v0.6h-0.6zM87.0 64.2h0.6v0.6h-0.6zM86.4 61.8h0.6v0.6h-0.6zM93.0 63.3h0.6v0.6h-0.6zM81.7 65.1h0.6v0.6h-0.6zM82.3 62.4h0.6v0.6h-0.6zM87.7 64.9h0.6v0.6h-0.6zM89.4 65.7h0.6v0.6h-0.6zM87.0 62.0h0.6v0.6h-0.6zM86.9 61.1h0.6v0.6h-0.6zM91.3 60.2h0.6v0.6h-0.6zM92.4 62.1h0.6v0.6h-0.6zM93.7 64.3h0.6v0.6h-0.6zM87.1 64.9h0.6v0.6h-0.6zM87.8 64.7h0.6v0.6h-0.6zM93.9 59.8h0.6v0.6h-0.6zM89.8 65.1h0.6v0.6h-0.6zM93.9 63.6h0.6v0.6h-0.6zM85.1 62.9h0.6v0.6h-0.6zM86.3 58.8h0.6v0.6h-0.6zM84.2 62.6h0.6v0.6h-0.6zM87.3 63.3h0.6v0.6h-0.6zM90.1 66.0h0.6v0.6h-0.6zM85.5 64.3h0.6v0.6h-0.6zM96.6 61.5h0.6v0.6h-0.6zM92.1 65.6h0.6v0.6h-0.6zM82.6 65.2h0.6v0.6h-0.6zM89.1 64.4h0.6v0.6h-0.6zM84.4 66.5h0.6v0.6h-0.6zM87.6 62.1h0.6v0.6h-0.6zM88.0 64.2h0.6v0.6h-0.6zM83.6 63.4h0.6v0.6h-0.6zM81.4 62.8h0.6v0.6h-0.6zM84.3 65.1h0.6v0.6h-0.6zM88.0 65.5h0.6v0.6h-0.6zM92.0 66.2h0.6v0.6h-0.6zM95.3 63.4h0.6v0.6h-0.6zM89.5 62.7h0.6v0.6h-0.6zM84.7 61.1h0.6v0.6h-0.6zM87.3 62.3h0.6v0.6h-0.6zM89.1 63.9h0.6v0.6h-0.6zM91.0 61.7h0.6v0.6h-0.6zM90.1 66.7h0.6v0.6h-0.6zM87.8 65.8h0.6v0.6h-0.6zM94.7 61.7h0.6v0.6h-0.6zM89.4 66.5h0.6v0.6h-0.6zM87.7 64.7h0.6v0.6h-0.6zM93.4 65.5h0.6v0.6h-0.6zM82.1 64.2h0.6v0.6h-0.6zM83.4 65.8h0.6v0.6h-0.6zM94.2 61.7h0.6v0.6h-0.6zM86.6 63.7h0.6v0.6h-0.6zM91.9 66.3h0.6v0.6h-0.6zM93.1 62.6h0.6v0.6h-0.6zM84.0 64.8h0.6v0.6h-0.6zM81.1 63.1h0.6v0.6h-0.6zM87.1 63.2h0.6v0.6h-0.6zM89.3 64.1h0.6v0.6h-0.6zM84.2 61.7h0.6v0.6h-0.6zM83.0 63.6h0.6v0.6h-0.6zM89.5 60.9h0.6v0.6h-0.6zM90.0 63.4h0.6v0.6h-0.6zM80.4 66.7h0.6v0.6h-0.6zM82.4 65.2h0.6v0.6h-0.6zM85.8 63.3h0.6v0.6h-0.6zM84.1 62.2h0.6v0.6h-0.6zM87.8 60.3h0.6v0.6h-0.6zM89.8 63.1h0.6v0.6h-0.6zM96.6 64.6h0.6v0.6h-0.6zM89.0 62.7h0.6v0.6h-0.6zM91.7 62.5h0.6v0.6h-0.6zM80.0 64.1h0.6v0.6h-0.6zM83.8 62.1h0.6v0.6h-0.6z" fill="#000" fill-opacity="0.4"/>
<rect x="105.8" y="30.8" width="2.8" height="1.2" fill="#222" opacity="0.75"/>
<rect x="78.5" y="72" width="42.60" height="45.50" fill="#fff" stroke="#4a4a4a" stroke-width="1.0"/>
<rect x="97.5" y="85.6" width="16.90" height="24.40" fill="none" stroke="#555" stroke-width="0.8"/>
<path d="M107.5 101.2h0.7v0.7h-0.7zM99.9 97.4h0.7v0.7h-0.7zM101.4 111.5h0.7v0.7h-0.7zM98.8 108.1h0.7v0.7h-0.7zM108.4 100.3h0.7v0.7h-0.7zM99.4 106.5h0.7v0.7h-0.7zM103.2 104.4h0.7v0.7h-0.7zM100.5 108.2h0.7v0.7h-0.7zM102.2 101.5h0.7v0.7h-0.7zM99.1 105.7h0.7v0.7h-0.7zM95.6 101.9h0.7v0.7h-0.7zM100.2 108.4h0.7v0.7h-0.7zM107.5 96.3h0.7v0.7h-0.7zM109.4 93.6h0.7v0.7h-0.7zM105.1 104.3h0.7v0.7h-0.7zM104.9 101.5h0.7v0.7h-0.7zM104.4 101.7h0.7v0.7h-0.7zM99.1 101.0h0.7v0.7h-0.7zM102.4 104.1h0.7v0.7h-0.7zM100.8 104.5h0.7v0.7h-0.7zM106.3 101.9h0.7v0.7h-0.7zM98.0 107.4h0.7v0.7h-0.7zM97.8 105.0h0.7v0.7h-0.7zM104.0 100.6h0.7v0.7h-0.7zM101.6 111.2h0.7v0.7h-0.7zM105.5 96.3h0.7v0.7h-0.7zM103.8 106.3h0.7v0.7h-0.7zM102.6 102.6h0.7v0.7h-0.7zM102.6 95.9h0.7v0.7h-0.7zM103.3 104.5h0.7v0.7h-0.7zM106.9 106.2h0.7v0.7h-0.7zM101.5 106.3h0.7v0.7h-0.7zM102.0 100.2h0.7v0.7h-0.7zM104.0 100.7h0.7v0.7h-0.7zM98.3 105.6h0.7v0.7h-0.7zM109.3 104.9h0.7v0.7h-0.7zM106.1 100.7h0.7v0.7h-0.7zM99.6 98.6h0.7v0.7h-0.7zM101.7 107.4h0.7v0.7h-0.7zM105.8 100.7h0.7v0.7h-0.7zM104.5 97.1h0.7v0.7h-0.7zM99.9 104.5h0.7v0.7h-0.7zM97.0 110.2h0.7v0.7h-0.7zM103.4 108.5h0.7v0.7h-0.7zM101.5 102.7h0.7v0.7h-0.7zM104.8 97.7h0.7v0.7h-0.7zM107.5 100.4h0.7v0.7h-0.7zM103.2 100.1h0.7v0.7h-0.7zM98.7 104.5h0.7v0.7h-0.7zM104.3 100.5h0.7v0.7h-0.7zM103.8 104.7h0.7v0.7h-0.7zM99.7 107.5h0.7v0.7h-0.7zM96.6 109.7h0.7v0.7h-0.7zM107.8 101.7h0.7v0.7h-0.7zM100.2 111.5h0.7v0.7h-0.7zM103.2 96.7h0.7v0.7h-0.7zM106.8 93.6h0.7v0.7h-0.7zM100.9 102.2h0.7v0.7h-0.7zM99.6 106.4h0.7v0.7h-0.7zM100.8 106.1h0.7v0.7h-0.7zM100.3 106.0h0.7v0.7h-0.7zM103.6 102.2h0.7v0.7h-0.7zM106.0 100.4h0.7v0.7h-0.7zM98.0 104.6h0.7v0.7h-0.7zM97.6 101.8h0.7v0.7h-0.7zM101.0 106.3h0.7v0.7h-0.7zM107.9 100.9h0.7v0.7h-0.7zM105.5 100.1h0.7v0.7h-0.7zM99.2 106.1h0.7v0.7h-0.7zM102.5 105.4h0.7v0.7h-0.7zM102.3 102.5h0.7v0.7h-0.7zM95.0 108.5h0.7v0.7h-0.7zM100.2 105.0h0.7v0.7h-0.7zM104.1 104.0h0.7v0.7h-0.7zM98.9 109.2h0.7v0.7h-0.7zM104.2 103.7h0.7v0.7h-0.7zM101.7 102.7h0.7v0.7h-0.7zM101.8 106.4h0.7v0.7h-0.7zM107.9 101.6h0.7v0.7h-0.7zM99.1 106.6h0.7v0.7h-0.7zM102.7 101.3h0.7v0.7h-0.7zM103.8 106.2h0.7v0.7h-0.7zM105.7 99.6h0.7v0.7h-0.7zM98.1 104.9h0.7v0.7h-0.7zM103.4 100.7h0.7v0.7h-0.7zM106.5 103.0h0.7v0.7h-0.7zM106.3 99.8h0.7v0.7h-0.7zM110.3 100.0h0.7v0.7h-0.7zM99.2 110.1h0.7v0.7h-0.7zM102.6 104.2h0.7v0.7h-0.7zM101.1 109.0h0.7v0.7h-0.7zM104.1 99.1h0.7v0.7h-0.7zM108.2 99.9h0.7v0.7h-0.7zM101.4 104.6h0.7v0.7h-0.7zM102.7 102.3h0.7v0.7h-0.7zM106.9 99.2h0.7v0.7h-0.7zM102.2 102.2h0.7v0.7h-0.7zM100.1 102.5h0.7v0.7h-0.7zM96.1 108.5h0.7v0.7h-0.7zM101.3 106.9h0.7v0.7h-0.7zM105.8 100.2h0.7v0.7h-0.7zM98.4 109.1h0.7v0.7h-0.7zM104.5 103.5h0.7v0.7h-0.7zM101.5 101.6h0.7v0.7h-0.7zM101.7 103.1h0.7v0.7h-0.7zM107.5 102.8h0.7v0.7h-0.7zM98.6 105.1h0.7v0.7h-0.7zM108.6 100.1h0.7v0.7h-0.7zM100.7 104.8h0.7v0.7h-0.7zM106.3 100.5h0.7v0.7h-0.7zM101.2 106.1h0.7v0.7h-0.7zM102.7 102.3h0.7v0.7h-0.7zM101.7 105.0h0.7v0.7h-0.7zM108.9 98.6h0.7v0.7h-0.7zM98.2 106.5h0.7v0.7h-0.7zM98.9 104.7h0.7v0.7h-0.7zM108.1 99.3h0.7v0.7h-0.7zM104.1 100.0h0.7v0.7h-0.7zM102.0 103.5h0.7v0.7h-0.7zM101.4 104.3h0.7v0.7h-0.7zM98.0 107.8h0.7v0.7h-0.7zM98.5 102.2h0.7v0.7h-0.7zM103.3 102.1h0.7v0.7h-0.7zM105.1 98.4h0.7v0.7h-0.7zM102.8 98.3h0.7v0.7h-0.7zM105.6 97.4h0.7v0.7h-0.7zM103.9 102.4h0.7v0.7h-0.7zM103.4 108.5h0.7v0.7h-0.7zM100.5 104.1h0.7v0.7h-0.7zM109.2 99.6h0.7v0.7h-0.7zM101.9 102.6h0.7v0.7h-0.7zM107.3 98.9h0.7v0.7h-0.7zM97.4 109.2h0.7v0.7h-0.7zM102.3 106.4h0.7v0.7h-0.7zM100.4 106.8h0.7v0.7h-0.7zM102.5 102.1h0.7v0.7h-0.7zM97.5 104.5h0.7v0.7h-0.7zM100.3 109.9h0.7v0.7h-0.7zM99.6 101.9h0.7v0.7h-0.7zM94.8 111.4h0.7v0.7h-0.7zM103.8 108.2h0.7v0.7h-0.7zM104.1 102.3h0.7v0.7h-0.7zM99.3 108.0h0.7v0.7h-0.7zM102.5 103.9h0.7v0.7h-0.7zM100.3 107.2h0.7v0.7h-0.7zM100.8 104.4h0.7v0.7h-0.7zM103.7 103.1h0.7v0.7h-0.7zM103.5 101.6h0.7v0.7h-0.7zM103.1 101.5h0.7v0.7h-0.7zM101.1 107.0h0.7v0.7h-0.7zM107.9 98.7h0.7v0.7h-0.7zM104.0 102.8h0.7v0.7h-0.7zM102.2 107.3h0.7v0.7h-0.7zM109.6 101.0h0.7v0.7h-0.7zM104.3 107.4h0.7v0.7h-0.7zM108.3 96.3h0.7v0.7h-0.7zM103.0 98.9h0.7v0.7h-0.7zM104.1 105.5h0.7v0.7h-0.7zM101.3 105.5h0.7v0.7h-0.7zM101.4 107.7h0.7v0.7h-0.7zM99.6 106.0h0.7v0.7h-0.7zM103.2 105.7h0.7v0.7h-0.7zM104.5 97.0h0.7v0.7h-0.7zM103.3 103.1h0.7v0.7h-0.7zM99.9 102.1h0.7v0.7h-0.7zM107.2 104.6h0.7v0.7h-0.7zM101.1 104.4h0.7v0.7h-0.7zM95.2 105.5h0.7v0.7h-0.7zM100.4 110.9h0.7v0.7h-0.7zM108.3 99.5h0.7v0.7h-0.7zM104.1 106.4h0.7v0.7h-0.7zM105.2 96.0h0.7v0.7h-0.7zM108.7 96.9h0.7v0.7h-0.7zM105.6 104.2h0.7v0.7h-0.7zM104.5 100.4h0.7v0.7h-0.7zM102.2 105.4h0.7v0.7h-0.7zM101.8 103.8h0.7v0.7h-0.7zM102.3 102.8h0.7v0.7h-0.7zM104.9 105.4h0.7v0.7h-0.7zM105.6 96.8h0.7v0.7h-0.7zM102.3 104.0h0.7v0.7h-0.7zM106.2 100.9h0.7v0.7h-0.7zM103.0 103.1h0.7v0.7h-0.7zM105.8 102.3h0.7v0.7h-0.7zM104.5 93.9h0.7v0.7h-0.7zM100.0 111.0h0.7v0.7h-0.7zM103.9 97.5h0.7v0.7h-0.7zM100.4 105.6h0.7v0.7h-0.7zM102.6 102.3h0.7v0.7h-0.7zM102.4 105.5h0.7v0.7h-0.7zM100.9 105.1h0.7v0.7h-0.7zM97.8 108.2h0.7v0.7h-0.7zM95.9 114.6h0.7v0.7h-0.7zM112.4 98.1h0.7v0.7h-0.7zM104.1 99.4h0.7v0.7h-0.7zM100.7 103.6h0.7v0.7h-0.7zM96.1 109.9h0.7v0.7h-0.7zM102.4 99.3h0.7v0.7h-0.7zM105.1 95.9h0.7v0.7h-0.7zM103.0 101.2h0.7v0.7h-0.7zM98.7 111.0h0.7v0.7h-0.7zM100.1 104.9h0.7v0.7h-0.7zM101.9 101.4h0.7v0.7h-0.7zM102.2 103.7h0.7v0.7h-0.7zM104.5 98.2h0.7v0.7h-0.7zM104.3 110.8h0.7v0.7h-0.7zM103.3 108.0h0.7v0.7h-0.7zM95.2 113.1h0.7v0.7h-0.7zM103.0 97.0h0.7v0.7h-0.7zM103.5 100.3h0.7v0.7h-0.7zM99.7 104.0h0.7v0.7h-0.7zM95.7 109.3h0.7v0.7h-0.7zM101.4 97.3h0.7v0.7h-0.7zM97.4 108.3h0.7v0.7h-0.7zM97.7 107.7h0.7v0.7h-0.7zM95.6 110.1h0.7v0.7h-0.7zM96.1 107.4h0.7v0.7h-0.7zM100.3 107.7h0.7v0.7h-0.7zM97.8 106.7h0.7v0.7h-0.7zM101.9 96.4h0.7v0.7h-0.7zM102.8 99.5h0.7v0.7h-0.7zM104.1 104.3h0.7v0.7h-0.7zM102.8 107.4h0.7v0.7h-0.7zM100.4 102.3h0.7v0.7h-0.7zM98.2 108.5h0.7v0.7h-0.7zM104.6 102.8h0.7v0.7h-0.7zM101.2 108.4h0.7v0.7h-0.7zM100.1 105.0h0.7v0.7h-0.7zM103.9 102.7h0.7v0.7h-0.7zM99.1 106.4h0.7v0.7h-0.7zM95.2 106.6h0.7v0.7h-0.7zM107.1 100.8h0.7v0.7h-0.7zM97.2 110.2h0.7v0.7h-0.7zM99.3 109.1h0.7v0.7h-0.7zM98.6 107.9h0.7v0.7h-0.7zM98.7 105.3h0.7v0.7h-0.7zM101.2 103.5h0.7v0.7h-0.7zM98.7 103.9h0.7v0.7h-0.7zM109.3 100.2h0.7v0.7h-0.7zM109.9 102.0h0.7v0.7h-0.7zM101.2 97.2h0.7v0.7h-0.7zM103.7 105.1h0.7v0.7h-0.7zM102.3 102.2h0.7v0.7h-0.7zM101.8 106.6h0.7v0.7h-0.7zM97.7 110.4h0.7v0.7h-0.7zM103.2 102.0h0.7v0.7h-0.7zM107.2 100.6h0.7v0.7h-0.7zM103.5 102.6h0.7v0.7h-0.7zM104.9 105.7h0.7v0.7h-0.7zM105.6 100.7h0.7v0.7h-0.7zM100.9 100.5h0.7v0.7h-0.7zM105.5 99.0h0.7v0.7h-0.7zM101.2 105.3h0.7v0.7h-0.7zM96.0 109.9h0.7v0.7h-0.7zM101.8 100.1h0.7v0.7h-0.7zM108.4 102.7h0.7v0.7h-0.7zM100.0 106.6h0.7v0.7h-0.7zM103.1 102.7h0.7v0.7h-0.7zM101.8 98.7h0.7v0.7h-0.7zM95.2 115.0h0.7v0.7h-0.7zM109.6 93.9h0.7v0.7h-0.7zM106.6 102.0h0.7v0.7h-0.7zM104.7 106.6h0.7v0.7h-0.7zM97.8 107.3h0.7v0.7h-0.7zM96.4 108.9h0.7v0.7h-0.7zM114.5 92.0h0.7v0.7h-0.7zM103.3 106.3h0.7v0.7h-0.7zM105.1 101.3h0.7v0.7h-0.7zM101.7 107.2h0.7v0.7h-0.7zM100.9 104.5h0.7v0.7h-0.7zM104.4 101.0h0.7v0.7h-0.7zM99.6 107.3h0.7v0.7h-0.7zM98.6 101.1h0.7v0.7h-0.7zM103.1 105.4h0.7v0.7h-0.7zM105.2 102.8h0.7v0.7h-0.7zM103.5 99.0h0.7v0.7h-0.7zM101.0 103.6h0.7v0.7h-0.7zM107.2 98.5h0.7v0.7h-0.7zM102.2 106.5h0.7v0.7h-0.7zM101.3 105.2h0.7v0.7h-0.7zM101.9 102.7h0.7v0.7h-0.7zM102.4 105.2h0.7v0.7h-0.7zM105.0 100.7h0.7v0.7h-0.7zM92.1 113.6h0.7v0.7h-0.7zM96.5 110.2h0.7v0.7h-0.7zM95.2 111.7h0.7v0.7h-0.7zM107.8 99.0h0.7v0.7h-0.7zM102.7 98.7h0.7v0.7h-0.7zM99.0 105.3h0.7v0.7h-0.7zM103.0 101.6h0.7v0.7h-0.7zM97.1 110.6h0.7v0.7h-0.7zM105.5 108.0h0.7v0.7h-0.7zM106.6 97.6h0.7v0.7h-0.7zM106.2 102.5h0.7v0.7h-0.7zM110.3 96.2h0.7v0.7h-0.7zM103.1 107.3h0.7v0.7h-0.7zM108.9 101.3h0.7v0.7h-0.7zM103.8 104.0h0.7v0.7h-0.7zM101.8 101.1h0.7v0.7h-0.7zM102.6 102.1h0.7v0.7h-0.7zM107.3 102.5h0.7v0.7h-0.7zM110.2 101.2h0.7v0.7h-0.7zM104.8 105.0h0.7v0.7h-0.7zM107.7 105.3h0.7v0.7h-0.7zM103.3 104.9h0.7v0.7h-0.7zM101.9 101.4h0.7v0.7h-0.7zM100.2 106.9h0.7v0.7h-0.7zM106.0 100.0h0.7v0.7h-0.7zM106.2 102.0h0.7v0.7h-0.7zM104.9 103.4h0.7v0.7h-0.7zM100.9 102.5h0.7v0.7h-0.7zM102.5 107.8h0.7v0.7h-0.7zM98.6 106.6h0.7v0.7h-0.7zM99.6 108.3h0.7v0.7h-0.7zM101.2 107.6h0.7v0.7h-0.7zM106.5 100.9h0.7v0.7h-0.7zM104.7 102.6h0.7v0.7h-0.7zM97.2 108.5h0.7v0.7h-0.7zM99.3 107.2h0.7v0.7h-0.7zM108.2 99.5h0.7v0.7h-0.7zM106.8 96.4h0.7v0.7h-0.7zM103.1 98.7h0.7v0.7h-0.7zM104.6 91.9h0.7v0.7h-0.7zM100.4 106.3h0.7v0.7h-0.7zM102.3 100.6h0.7v0.7h-0.7zM100.6 106.0h0.7v0.7h-0.7zM107.5 93.3h0.7v0.7h-0.7zM103.1 101.2h0.7v0.7h-0.7zM103.2 101.3h0.7v0.7h-0.7zM105.3 103.2h0.7v0.7h-0.7zM99.0 105.0h0.7v0.7h-0.7zM100.4 102.1h0.7v0.7h-0.7zM95.8 112.6h0.7v0.7h-0.7zM102.6 106.3h0.7v0.7h-0.7zM98.0 106.2h0.7v0.7h-0.7zM105.8 101.0h0.7v0.7h-0.7zM106.7 98.1h0.7v0.7h-0.7zM104.3 103.0h0.7v0.7h-0.7zM96.3 105.0h0.7v0.7h-0.7zM99.4 107.8h0.7v0.7h-0.7zM104.4 100.1h0.7v0.7h-0.7zM102.1 104.7h0.7v0.7h-0.7zM100.6 103.5h0.7v0.7h-0.7zM99.1 107.5h0.7v0.7h-0.7zM99.6 99.5h0.7v0.7h-0.7zM103.2 102.5h0.7v0.7h-0.7zM107.4 102.0h0.7v0.7h-0.7zM100.1 107.3h0.7v0.7h-0.7zM102.6 103.6h0.7v0.7h-0.7zM98.9 109.4h0.7v0.7h-0.7zM105.7 104.3h0.7v0.7h-0.7zM101.5 102.4h0.7v0.7h-0.7zM99.0 102.9h0.7v0.7h-0.7zM103.5 98.3h0.7v0.7h-0.7zM97.6 107.5h0.7v0.7h-0.7zM107.5 97.3h0.7v0.7h-0.7zM105.3 102.8h0.7v0.7h-0.7zM103.1 100.1h0.7v0.7h-0.7zM101.7 100.9h0.7v0.7h-0.7zM102.0 107.3h0.7v0.7h-0.7zM102.8 106.9h0.7v0.7h-0.7zM104.2 98.5h0.7v0.7h-0.7zM103.9 104.4h0.7v0.7h-0.7zM103.3 101.8h0.7v0.7h-0.7zM100.8 104.0h0.7v0.7h-0.7zM105.0 99.8h0.7v0.7h-0.7zM103.2 99.6h0.7v0.7h-0.7zM95.8 106.1h0.7v0.7h-0.7zM106.2 93.7h0.7v0.7h-0.7zM104.5 98.2h0.7v0.7h-0.7zM105.7 100.4h0.7v0.7h-0.7zM104.3 102.5h0.7v0.7h-0.7zM104.0 104.6h0.7v0.7h-0.7zM103.9 98.8h0.7v0.7h-0.7zM110.4 93.0h0.7v0.7h-0.7zM99.9 101.7h0.7v0.7h-0.7zM97.6 106.3h0.7v0.7h-0.7zM104.3 104.7h0.7v0.7h-0.7zM102.6 102.8h0.7v0.7h-0.7zM108.8 102.0h0.7v0.7h-0.7zM100.1 109.0h0.7v0.7h-0.7zM100.5 104.4h0.7v0.7h-0.7zM100.5 103.6h0.7v0.7h-0.7zM102.0 96.7h0.7v0.7h-0.7zM108.3 100.6h0.7v0.7h-0.7zM104.9 103.8h0.7v0.7h-0.7zM112.1 103.8h0.7v0.7h-0.7zM106.5 105.6h0.7v0.7h-0.7zM103.5 103.3h0.7v0.7h-0.7zM93.9 110.9h0.7v0.7h-0.7zM96.8 104.5h0.7v0.7h-0.7zM98.5 107.2h0.7v0.7h-0.7zM103.9 101.5h0.7v0.7h-0.7zM100.3 101.1h0.7v0.7h-0.7zM100.5 108.5h0.7v0.7h-0.7zM104.4 104.5h0.7v0.7h-0.7zM100.5 102.5h0.7v0.7h-0.7zM103.3 101.5h0.7v0.7h-0.7zM98.4 103.7h0.7v0.7h-0.7zM102.1 107.5h0.7v0.7h-0.7zM104.7 97.4h0.7v0.7h-0.7zM99.8 102.9h0.7v0.7h-0.7zM102.2 96.8h0.7v0.7h-0.7zM98.1 105.5h0.7v0.7h-0.7zM98.8 102.0h0.7v0.7h-0.7zM103.4 106.1h0.7v0.7h-0.7zM100.7 108.1h0.7v0.7h-0.7zM102.5 99.0h0.7v0.7h-0.7zM96.9 107.5h0.7v0.7h-0.7zM103.1 102.4h0.7v0.7h-0.7zM96.2 111.9h0.7v0.7h-0.7zM102.7 99.3h0.7v0.7h-0.7zM105.0 105.1h0.7v0.7h-0.7zM107.0 99.9h0.7v0.7h-0.7zM112.1 98.2h0.7v0.7h-0.7zM95.6 102.4h0.7v0.7h-0.7zM99.8 101.3h0.7v0.7h-0.7zM99.9 109.4h0.7v0.7h-0.7zM101.5 105.5h0.7v0.7h-0.7zM102.2 102.8h0.7v0.7h-0.7zM100.6 101.8h0.7v0.7h-0.7zM105.7 101.0h0.7v0.7h-0.7zM103.1 100.8h0.7v0.7h-0.7zM107.8 101.5h0.7v0.7h-0.7zM102.4 107.6h0.7v0.7h-0.7zM104.5 104.1h0.7v0.7h-0.7zM96.1 105.0h0.7v0.7h-0.7zM102.5 104.6h0.7v0.7h-0.7zM105.4 106.4h0.7v0.7h-0.7zM104.8 105.0h0.7v0.7h-0.7zM103.1 106.8h0.7v0.7h-0.7zM99.9 104.0h0.7v0.7h-0.7zM99.9 112.1h0.7v0.7h-0.7zM103.8 108.6h0.7v0.7h-0.7zM101.4 106.4h0.7v0.7h-0.7zM104.0 103.3h0.7v0.7h-0.7zM103.6 101.5h0.7v0.7h-0.7zM101.5 105.5h0.7v0.7h-0.7zM101.5 103.7h0.7v0.7h-0.7zM104.3 102.8h0.7v0.7h-0.7zM99.5 106.8h0.7v0.7h-0.7zM102.8 97.5h0.7v0.7h-0.7zM107.5 94.7h0.7v0.7h-0.7zM104.3 102.6h0.7v0.7h-0.7zM101.4 105.7h0.7v0.7h-0.7zM105.7 104.6h0.7v0.7h-0.7zM107.6 100.3h0.7v0.7h-0.7zM108.5 100.3h0.7v0.7h-0.7zM98.3 108.7h0.7v0.7h-0.7zM105.3 103.7h0.7v0.7h-0.7zM99.0 105.4h0.7v0.7h-0.7zM99.9 104.3h0.7v0.7h-0.7zM104.8 103.7h0.7v0.7h-0.7zM104.5 101.8h0.7v0.7h-0.7zM100.2 103.5h0.7v0.7h-0.7zM101.6 108.1h0.7v0.7h-0.7zM104.4 106.3h0.7v0.7h-0.7zM100.7 108.6h0.7v0.7h-0.7zM109.9 98.5h0.7v0.7h-0.7zM99.4 110.8h0.7v0.7h-0.7zM105.8 102.5h0.7v0.7h-0.7zM101.4 102.0h0.7v0.7h-0.7zM99.2 101.0h0.7v0.7h-0.7zM98.7 107.1h0.7v0.7h-0.7zM95.3 101.1h0.7v0.7h-0.7zM100.4 104.1h0.7v0.7h-0.7zM98.9 104.1h0.7v0.7h-0.7zM101.9 104.6h0.7v0.7h-0.7zM101.5 102.2h0.7v0.7h-0.7zM101.1 105.3h0.7v0.7h-0.7zM102.1 100.6h0.7v0.7h-0.7zM104.1 100.4h0.7v0.7h-0.7zM103.4 107.7h0.7v0.7h-0.7zM102.8 99.3h0.7v0.7h-0.7zM99.5 101.0h0.7v0.7h-0.7zM103.2 107.6h0.7v0.7h-0.7zM105.1 102.8h0.7v0.7h-0.7zM105.6 99.2h0.7v0.7h-0.7zM100.7 104.3h0.7v0.7h-0.7zM97.5 111.0h0.7v0.7h-0.7zM104.1 100.1h0.7v0.7h-0.7zM107.0 101.0h0.7v0.7h-0.7zM98.5 107.5h0.7v0.7h-0.7zM100.9 103.2h0.7v0.7h-0.7zM104.7 102.5h0.7v0.7h-0.7zM93.9 111.7h0.7v0.7h-0.7zM105.7 101.3h0.7v0.7h-0.7zM102.4 99.2h0.7v0.7h-0.7zM103.8 99.7h0.7v0.7h-0.7zM107.1 98.1h0.7v0.7h-0.7zM98.0 106.7h0.7v0.7h-0.7zM106.9 101.3h0.7v0.7h-0.7zM109.0 94.7h0.7v0.7h-0.7zM96.0 112.6h0.7v0.7h-0.7zM97.8 102.4h0.7v0.7h-0.7zM105.4 101.7h0.7v0.7h-0.7zM100.3 106.5h0.7v0.7h-0.7zM93.4 108.0h0.7v0.7h-0.7zM103.7 102.8h0.7v0.7h-0.7zM103.4 103.4h0.7v0.7h-0.7zM98.9 105.5h0.7v0.7h-0.7zM101.1 101.2h0.7v0.7h-0.7zM102.6 98.2h0.7v0.7h-0.7zM105.4 99.8h0.7v0.7h-0.7zM103.6 102.1h0.7v0.7h-0.7zM98.2 108.2h0.7v0.7h-0.7zM104.9 107.6h0.7v0.7h-0.7zM95.5 112.5h0.7v0.7h-0.7zM99.4 108.0h0.7v0.7h-0.7zM100.0 100.9h0.7v0.7h-0.7zM104.5 102.0h0.7v0.7h-0.7zM103.8 105.0h0.7v0.7h-0.7zM100.7 102.5h0.7v0.7h-0.7zM100.1 114.1h0.7v0.7h-0.7zM97.5 107.9h0.7v0.7h-0.7zM99.1 108.4h0.7v0.7h-0.7zM99.8 105.5h0.7v0.7h-0.7zM99.8 105.5h0.7v0.7h-0.7zM103.7 91.4h0.7v0.7h-0.7zM106.8 101.0h0.7v0.7h-0.7zM95.3 104.7h0.7v0.7h-0.7zM102.4 108.0h0.7v0.7h-0.7zM98.7 104.4h0.7v0.7h-0.7zM99.6 105.3h0.7v0.7h-0.7zM105.1 109.1h0.7v0.7h-0.7zM94.4 110.4h0.7v0.7h-0.7zM105.3 98.9h0.7v0.7h-0.7zM102.1 99.4h0.7v0.7h-0.7zM103.8 101.0h0.7v0.7h-0.7zM103.3 103.9h0.7v0.7h-0.7zM106.4 104.0h0.7v0.7h-0.7zM96.6 101.6h0.7v0.7h-0.7zM96.2 111.3h0.7v0.7h-0.7zM103.6 104.1h0.7v0.7h-0.7zM103.9 104.8h0.7v0.7h-0.7zM96.9 107.8h0.7v0.7h-0.7zM95.6 112.6h0.7v0.7h-0.7zM108.9 101.8h0.7v0.7h-0.7zM99.8 108.2h0.7v0.7h-0.7zM105.3 107.4h0.7v0.7h-0.7zM98.0 104.8h0.7v0.7h-0.7zM106.0 96.3h0.7v0.7h-0.7zM97.8 109.6h0.7v0.7h-0.7zM103.6 98.3h0.7v0.7h-0.7zM95.8 114.5h0.7v0.7h-0.7zM103.0 98.7h0.7v0.7h-0.7zM101.3 106.2h0.7v0.7h-0.7zM92.8 110.5h0.7v0.7h-0.7zM100.9 102.4h0.7v0.7h-0.7zM102.4 104.4h0.7v0.7h-0.7zM98.4 110.9h0.7v0.7h-0.7zM101.6 101.1h0.7v0.7h-0.7zM99.5 101.9h0.7v0.7h-0.7zM104.6 102.7h0.7v0.7h-0.7zM96.2 107.9h0.7v0.7h-0.7zM100.6 107.3h0.7v0.7h-0.7zM101.6 109.3h0.7v0.7h-0.7zM103.7 104.2h0.7v0.7h-0.7zM97.9 103.8h0.7v0.7h-0.7zM101.4 109.4h0.7v0.7h-0.7zM108.3 99.9h0.7v0.7h-0.7zM99.6 105.1h0.7v0.7h-0.7zM104.7 99.0h0.7v0.7h-0.7zM107.2 102.5h0.7v0.7h-0.7zM100.6 107.0h0.7v0.7h-0.7zM97.4 111.6h0.7v0.7h-0.7zM104.7 104.5h0.7v0.7h-0.7zM105.2 101.9h0.7v0.7h-0.7zM110.7 103.0h0.7v0.7h-0.7zM105.8 104.2h0.7v0.7h-0.7zM103.8 102.3h0.7v0.7h-0.7zM100.5 106.4h0.7v0.7h-0.7zM99.5 106.2h0.7v0.7h-0.7zM114.0 92.9h0.7v0.7h-0.7zM103.6 97.7h0.7v0.7h-0.7zM99.8 110.2h0.7v0.7h-0.7zM102.1 101.8h0.7v0.7h-0.7zM100.4 99.5h0.7v0.7h-0.7zM98.6 112.1h0.7v0.7h-0.7zM102.1 105.5h0.7v0.7h-0.7zM104.5 102.0h0.7v0.7h-0.7zM106.7 96.9h0.7v0.7h-0.7zM107.1 97.4h0.7v0.7h-0.7zM100.1 104.3h0.7v0.7h-0.7zM103.7 106.9h0.7v0.7h-0.7zM103.3 107.5h0.7v0.7h-0.7zM102.9 102.9h0.7v0.7h-0.7zM104.9 100.5h0.7v0.7h-0.7zM99.7 108.3h0.7v0.7h-0.7zM103.3 105.7h0.7v0.7h-0.7zM100.9 106.4h0.7v0.7h-0.7zM99.2 106.2h0.7v0.7h-0.7zM100.3 105.5h0.7v0.7h-0.7zM108.3 97.0h0.7v0.7h-0.7zM107.3 96.8h0.7v0.7h-0.7zM106.0 97.5h0.7v0.7h-0.7zM99.5 112.0h0.7v0.7h-0.7zM104.0 103.2h0.7v0.7h-0.7zM111.1 95.6h0.7v0.7h-0.7zM102.0 101.0h0.7v0.7h-0.7zM101.6 107.7h0.7v0.7h-0.7zM104.2 101.5h0.7v0.7h-0.7zM101.1 104.5h0.7v0.7h-0.7zM99.9 104.5h0.7v0.7h-0.7zM102.0 101.9h0.7v0.7h-0.7zM102.9 101.3h0.7v0.7h-0.7zM102.0 104.6h0.7v0.7h-0.7zM102.1 103.8h0.7v0.7h-0.7zM102.8 110.5h0.7v0.7h-0.7zM103.0 104.6h0.7v0.7h-0.7zM104.9 101.3h0.7v0.7h-0.7zM102.5 103.3h0.7v0.7h-0.7zM100.4 103.4h0.7v0.7h-0.7zM96.6 108.4h0.7v0.7h-0.7zM106.4 99.9h0.7v0.7h-0.7zM96.2 106.3h0.7v0.7h-0.7zM107.2 103.3h0.7v0.7h-0.7zM104.0 107.3h0.7v0.7h-0.7zM102.2 98.7h0.7v0.7h-0.7zM107.6 101.3h0.7v0.7h-0.7zM103.3 106.5h0.7v0.7h-0.7zM97.4 112.7h0.7v0.7h-0.7zM102.3 109.8h0.7v0.7h-0.7zM98.1 106.3h0.7v0.7h-0.7zM102.4 102.0h0.7v0.7h-0.7zM109.4 96.8h0.7v0.7h-0.7zM104.4 101.3h0.7v0.7h-0.7zM99.4 102.4h0.7v0.7h-0.7zM107.9 99.6h0.7v0.7h-0.7zM103.6 105.9h0.7v0.7h-0.7zM104.6 100.1h0.7v0.7h-0.7zM104.1 102.8h0.7v0.7h-0.7zM98.2 112.7h0.7v0.7h-0.7zM101.6 97.1h0.7v0.7h-0.7zM106.7 96.1h0.7v0.7h-0.7zM99.8 104.0h0.7v0.7h-0.7zM104.4 100.6h0.7v0.7h-0.7zM101.8 100.1h0.7v0.7h-0.7zM99.3 103.1h0.7v0.7h-0.7zM101.6 105.5h0.7v0.7h-0.7zM108.6 102.3h0.7v0.7h-0.7zM98.3 104.6h0.7v0.7h-0.7zM103.6 108.1h0.7v0.7h-0.7zM106.6 101.7h0.7v0.7h-0.7zM106.9 101.5h0.7v0.7h-0.7zM109.4 99.4h0.7v0.7h-0.7zM99.9 105.5h0.7v0.7h-0.7zM100.3 110.5h0.7v0.7h-0.7zM103.0 97.5h0.7v0.7h-0.7zM96.4 108.7h0.7v0.7h-0.7zM101.7 105.8h0.7v0.7h-0.7zM103.1 105.7h0.7v0.7h-0.7zM105.2 95.2h0.7v0.7h-0.7zM99.1 101.1h0.7v0.7h-0.7zM99.5 109.0h0.7v0.7h-0.7zM102.8 104.3h0.7v0.7h-0.7zM107.6 99.5h0.7v0.7h-0.7zM96.8 110.7h0.7v0.7h-0.7zM96.1 107.2h0.7v0.7h-0.7zM107.5 101.3h0.7v0.7h-0.7zM104.1 104.3h0.7v0.7h-0.7zM99.6 108.0h0.7v0.7h-0.7zM105.6 107.5h0.7v0.7h-0.7zM103.0 103.8h0.7v0.7h-0.7zM101.6 110.3h0.7v0.7h-0.7zM100.4 105.8h0.7v0.7h-0.7zM101.7 94.2h0.7v0.7h-0.7zM101.3 100.9h0.7v0.7h-0.7zM101.0 95.7h0.7v0.7h-0.7zM101.9 103.6h0.7v0.7h-0.7zM102.8 107.5h0.7v0.7h-0.7zM100.3 100.3h0.7v0.7h-0.7zM100.9 108.3h0.7v0.7h-0.7zM103.0 101.9h0.7v0.7h-0.7zM103.1 106.2h0.7v0.7h-0.7zM102.2 105.4h0.7v0.7h-0.7zM99.8 103.5h0.7v0.7h-0.7zM100.6 108.3h0.7v0.7h-0.7zM106.5 98.4h0.7v0.7h-0.7zM99.4 110.9h0.7v0.7h-0.7zM106.5 105.5h0.7v0.7h-0.7zM98.3 108.4h0.7v0.7h-0.7zM108.0 102.4h0.7v0.7h-0.7zM101.6 104.5h0.7v0.7h-0.7zM104.0 103.9h0.7v0.7h-0.7zM104.2 102.2h0.7v0.7h-0.7zM102.3 101.5h0.7v0.7h-0.7zM103.2 103.2h0.7v0.7h-0.7zM102.7 101.7h0.7v0.7h-0.7zM104.5 103.2h0.7v0.7h-0.7zM99.2 104.1h0.7v0.7h-0.7zM99.8 103.6h0.7v0.7h-0.7zM103.2 105.9h0.7v0.7h-0.7zM101.2 107.3h0.7v0.7h-0.7zM101.8 106.6h0.7v0.7h-0.7zM107.4 99.4h0.7v0.7h-0.7zM99.9 110.8h0.7v0.7h-0.7zM108.3 97.8h0.7v0.7h-0.7zM102.5 107.1h0.7v0.7h-0.7zM102.9 100.3h0.7v0.7h-0.7zM103.3 104.4h0.7v0.7h-0.7zM100.6 103.5h0.7v0.7h-0.7zM101.9 99.9h0.7v0.7h-0.7zM107.1 96.8h0.7v0.7h-0.7zM103.2 105.1h0.7v0.7h-0.7zM102.4 103.9h0.7v0.7h-0.7zM103.9 108.3h0.7v0.7h-0.7zM109.7 96.8h0.7v0.7h-0.7zM106.7 99.8h0.7v0.7h-0.7zM106.0 99.5h0.7v0.7h-0.7zM100.2 101.8h0.7v0.7h-0.7zM96.9 111.2h0.7v0.7h-0.7zM103.9 101.9h0.7v0.7h-0.7zM100.2 113.1h0.7v0.7h-0.7zM99.2 105.1h0.7v0.7h-0.7zM105.1 99.8h0.7v0.7h-0.7zM99.4 105.1h0.7v0.7h-0.7zM100.7 106.6h0.7v0.7h-0.7zM93.1 109.7h0.7v0.7h-0.7zM105.1 101.4h0.7v0.7h-0.7zM103.7 102.2h0.7v0.7h-0.7zM101.3 105.9h0.7v0.7h-0.7zM108.1 105.9h0.7v0.7h-0.7zM97.5 109.9h0.7v0.7h-0.7zM100.5 108.0h0.7v0.7h-0.7zM103.0 103.0h0.7v0.7h-0.7zM107.0 101.8h0.7v0.7h-0.7zM106.3 106.9h0.7v0.7h-0.7zM101.7 110.8h0.7v0.7h-0.7zM101.6 106.1h0.7v0.7h-0.7zM103.5 97.7h0.7v0.7h-0.7zM101.4 106.7h0.7v0.7h-0.7zM100.3 100.6h0.7v0.7h-0.7zM102.2 100.9h0.7v0.7h-0.7zM99.8 105.1h0.7v0.7h-0.7zM100.6 102.2h0.7v0.7h-0.7zM97.1 110.7h0.7v0.7h-0.7zM100.1 105.5h0.7v0.7h-0.7zM101.2 102.6h0.7v0.7h-0.7zM105.0 101.8h0.7v0.7h-0.7zM105.0 97.7h0.7v0.7h-0.7zM103.3 107.4h0.7v0.7h-0.7zM105.0 102.8h0.7v0.7h-0.7zM101.3 103.7h0.7v0.7h-0.7zM100.8 107.4h0.7v0.7h-0.7zM98.9 105.9h0.7v0.7h-0.7zM101.1 103.2h0.7v0.7h-0.7zM104.2 105.1h0.7v0.7h-0.7zM97.4 104.5h0.7v0.7h-0.7zM111.4 93.7h0.7v0.7h-0.7zM105.7 106.5h0.7v0.7h-0.7zM100.5 98.2h0.7v0.7h-0.7zM105.8 108.1h0.7v0.7h-0.7zM107.3 90.3h0.7v0.7h-0.7zM91.8 109.4h0.7v0.7h-0.7zM97.6 102.3h0.7v0.7h-0.7zM100.9 101.5h0.7v0.7h-0.7zM104.9 98.3h0.7v0.7h-0.7zM98.9 101.4h0.7v0.7h-0.7zM99.1 107.4h0.7v0.7h-0.7zM108.5 98.8h0.7v0.7h-0.7zM103.0 100.2h0.7v0.7h-0.7zM101.8 104.9h0.7v0.7h-0.7zM102.7 105.6h0.7v0.7h-0.7zM104.7 107.1h0.7v0.7h-0.7zM102.7 103.0h0.7v0.7h-0.7zM98.5 111.4h0.7v0.7h-0.7zM103.7 104.0h0.7v0.7h-0.7zM100.6 106.2h0.7v0.7h-0.7zM103.2 101.4h0.7v0.7h-0.7zM104.0 103.0h0.7v0.7h-0.7zM100.5 108.8h0.7v0.7h-0.7zM104.0 96.8h0.7v0.7h-0.7zM104.0 100.3h0.7v0.7h-0.7zM100.3 107.7h0.7v0.7h-0.7zM99.8 108.3h0.7v0.7h-0.7zM100.9 106.9h0.7v0.7h-0.7zM106.3 104.7h0.7v0.7h-0.7zM108.0 100.3h0.7v0.7h-0.7zM97.4 105.6h0.7v0.7h-0.7zM102.9 109.0h0.7v0.7h-0.7zM102.6 100.8h0.7v0.7h-0.7zM100.7 102.9h0.7v0.7h-0.7zM104.1 105.5h0.7v0.7h-0.7zM101.4 103.8h0.7v0.7h-0.7zM98.4 102.7h0.7v0.7h-0.7zM108.6 97.9h0.7v0.7h-0.7zM106.0 100.6h0.7v0.7h-0.7zM102.3 105.8h0.7v0.7h-0.7zM103.6 97.0h0.7v0.7h-0.7zM109.4 97.6h0.7v0.7h-0.7zM102.6 101.1h0.7v0.7h-0.7zM104.9 103.8h0.7v0.7h-0.7zM98.7 104.0h0.7v0.7h-0.7zM101.0 102.0h0.7v0.7h-0.7zM99.5 100.2h0.7v0.7h-0.7zM104.8 97.7h0.7v0.7h-0.7zM101.4 108.9h0.7v0.7h-0.7zM97.9 110.4h0.7v0.7h-0.7zM99.8 105.0h0.7v0.7h-0.7zM105.9 104.2h0.7v0.7h-0.7zM96.7 111.8h0.7v0.7h-0.7zM103.1 105.6h0.7v0.7h-0.7zM100.5 107.4h0.7v0.7h-0.7zM98.8 108.0h0.7v0.7h-0.7zM103.0 103.5h0.7v0.7h-0.7zM106.6 99.9h0.7v0.7h-0.7zM100.3 110.6h0.7v0.7h-0.7zM104.1 103.8h0.7v0.7h-0.7zM103.4 105.7h0.7v0.7h-0.7zM102.3 99.8h0.7v0.7h-0.7zM99.0 101.2h0.7v0.7h-0.7zM101.0 106.7h0.7v0.7h-0.7zM105.2 100.6h0.7v0.7h-0.7zM104.4 102.8h0.7v0.7h-0.7zM97.5 106.4h0.7v0.7h-0.7zM96.6 111.7h0.7v0.7h-0.7zM98.3 105.1h0.7v0.7h-0.7zM103.0 103.2h0.7v0.7h-0.7zM104.4 100.7h0.7v0.7h-0.7zM100.3 105.8h0.7v0.7h-0.7zM101.7 105.7h0.7v0.7h-0.7zM96.0 110.1h0.7v0.7h-0.7zM100.9 105.6h0.7v0.7h-0.7zM103.9 104.4h0.7v0.7h-0.7zM103.2 108.2h0.7v0.7h-0.7zM102.7 104.8h0.7v0.7h-0.7zM100.8 108.7h0.7v0.7h-0.7zM100.6 108.1h0.7v0.7h-0.7zM106.0 105.1h0.7v0.7h-0.7zM101.4 112.7h0.7v0.7h-0.7zM101.2 102.9h0.7v0.7h-0.7zM107.0 100.2h0.7v0.7h-0.7zM101.1 106.5h0.7v0.7h-0.7zM103.6 107.9h0.7v0.7h-0.7zM95.4 103.7h0.7v0.7h-0.7zM97.2 108.0h0.7v0.7h-0.7zM97.4 103.7h0.7v0.7h-0.7zM100.9 110.7h0.7v0.7h-0.7zM102.1 105.1h0.7v0.7h-0.7zM101.8 106.9h0.7v0.7h-0.7zM99.6 108.8h0.7v0.7h-0.7zM102.8 104.2h0.7v0.7h-0.7zM105.9 100.6h0.7v0.7h-0.7zM103.8 100.3h0.7v0.7h-0.7zM97.7 102.2h0.7v0.7h-0.7zM102.7 104.5h0.7v0.7h-0.7zM99.0 107.9h0.7v0.7h-0.7zM100.4 104.1h0.7v0.7h-0.7zM103.0 100.6h0.7v0.7h-0.7zM106.8 102.8h0.7v0.7h-0.7zM104.8 97.8h0.7v0.7h-0.7zM95.8 108.3h0.7v0.7h-0.7zM108.0 98.9h0.7v0.7h-0.7zM105.9 104.5h0.7v0.7h-0.7zM104.4 96.2h0.7v0.7h-0.7zM100.4 102.6h0.7v0.7h-0.7zM103.9 97.8h0.7v0.7h-0.7zM102.8 104.6h0.7v0.7h-0.7zM100.0 108.8h0.7v0.7h-0.7zM105.6 104.7h0.7v0.7h-0.7zM100.6 105.9h0.7v0.7h-0.7zM101.6 103.8h0.7v0.7h-0.7zM102.6 101.2h0.7v0.7h-0.7zM106.4 102.6h0.7v0.7h-0.7zM103.0 100.7h0.7v0.7h-0.7zM103.5 99.1h0.7v0.7h-0.7zM97.1 109.6h0.7v0.7h-0.7zM105.5 99.5h0.7v0.7h-0.7zM100.4 107.7h0.7v0.7h-0.7zM101.3 102.8h0.7v0.7h-0.7zM104.0 108.0h0.7v0.7h-0.7zM102.1 111.1h0.7v0.7h-0.7zM102.7 99.1h0.7v0.7h-0.7zM99.4 108.1h0.7v0.7h-0.7zM98.7 104.7h0.7v0.7h-0.7zM105.9 98.0h0.7v0.7h-0.7zM93.3 111.0h0.7v0.7h-0.7zM96.6 110.1h0.7v0.7h-0.7zM105.4 100.7h0.7v0.7h-0.7zM101.2 105.8h0.7v0.7h-0.7zM102.1 99.1h0.7v0.7h-0.7zM98.5 101.3h0.7v0.7h-0.7zM97.4 103.3h0.7v0.7h-0.7zM106.4 103.0h0.7v0.7h-0.7zM99.7 106.4h0.7v0.7h-0.7zM100.6 106.2h0.7v0.7h-0.7zM105.4 105.1h0.7v0.7h-0.7zM97.1 106.8h0.7v0.7h-0.7zM98.6 110.1h0.7v0.7h-0.7zM96.0 109.4h0.7v0.7h-0.7zM105.2 100.6h0.7v0.7h-0.7zM104.5 94.0h0.7v0.7h-0.7zM104.9 98.9h0.7v0.7h-0.7zM100.1 106.3h0.7v0.7h-0.7zM100.8 106.1h0.7v0.7h-0.7zM96.6 105.8h0.7v0.7h-0.7zM101.7 103.6h0.7v0.7h-0.7zM106.8 101.2h0.7v0.7h-0.7zM101.8 104.1h0.7v0.7h-0.7zM103.6 105.2h0.7v0.7h-0.7zM103.5 103.1h0.7v0.7h-0.7zM97.9 108.1h0.7v0.7h-0.7zM101.5 105.0h0.7v0.7h-0.7zM101.6 101.3h0.7v0.7h-0.7zM103.7 104.4h0.7v0.7h-0.7zM104.9 101.5h0.7v0.7h-0.7zM108.8 99.7h0.7v0.7h-0.7zM99.4 115.8h0.7v0.7h-0.7zM99.1 111.1h0.7v0.7h-0.7zM108.1 98.3h0.7v0.7h-0.7zM104.0 102.3h0.7v0.7h-0.7zM101.6 107.9h0.7v0.7h-0.7zM103.9 106.8h0.7v0.7h-0.7zM101.7 103.5h0.7v0.7h-0.7zM103.1 98.1h0.7v0.7h-0.7zM98.8 103.3h0.7v0.7h-0.7zM104.0 105.3h0.7v0.7h-0.7zM99.1 109.7h0.7v0.7h-0.7zM107.5 98.9h0.7v0.7h-0.7zM100.6 99.8h0.7v0.7h-0.7zM99.8 104.9h0.7v0.7h-0.7zM95.4 106.9h0.7v0.7h-0.7zM100.1 102.4h0.7v0.7h-0.7zM103.8 99.7h0.7v0.7h-0.7zM107.9 94.0h0.7v0.7h-0.7zM110.8 98.6h0.7v0.7h-0.7zM98.8 103.6h0.7v0.7h-0.7zM99.9 104.6h0.7v0.7h-0.7zM98.0 106.6h0.7v0.7h-0.7zM103.7 102.1h0.7v0.7h-0.7zM101.3 107.8h0.7v0.7h-0.7zM102.5 100.5h0.7v0.7h-0.7zM100.2 100.3h0.7v0.7h-0.7zM102.7 101.6h0.7v0.7h-0.7zM100.1 108.1h0.7v0.7h-0.7zM103.8 97.8h0.7v0.7h-0.7zM103.4 105.9h0.7v0.7h-0.7zM96.8 107.1h0.7v0.7h-0.7zM101.0 103.0h0.7v0.7h-0.7zM102.0 102.5h0.7v0.7h-0.7zM105.9 106.2h0.7v0.7h-0.7zM106.5 101.2h0.7v0.7h-0.7zM106.5 99.6h0.7v0.7h-0.7zM107.3 93.5h0.7v0.7h-0.7zM100.0 102.6h0.7v0.7h-0.7z" fill="#000" fill-opacity="0.5"/>
<path d="M101.5 105.6h0.7v0.7h-0.7zM106.2 99.1h0.7v0.7h-0.7zM105.9 100.2h0.7v0.7h-0.7zM102.5 102.7h0.7v0.7h-0.7zM102.2 106.1h0.7v0.7h-0.7zM99.7 108.9h0.7v0.7h-0.7zM103.3 105.9h0.7v0.7h-0.7zM104.9 102.8h0.7v0.7h-0.7zM102.5 100.9h0.7v0.7h-0.7zM102.9 101.9h0.7v0.7h-0.7zM101.6 105.7h0.7v0.7h-0.7zM104.8 102.8h0.7v0.7h-0.7zM101.6 103.3h0.7v0.7h-0.7zM104.6 101.0h0.7v0.7h-0.7zM103.5 103.0h0.7v0.7h-0.7zM104.2 101.2h0.7v0.7h-0.7zM104.4 103.3h0.7v0.7h-0.7zM100.7 104.0h0.7v0.7h-0.7zM105.7 100.6h0.7v0.7h-0.7zM99.7 105.7h0.7v0.7h-0.7zM104.5 101.9h0.7v0.7h-0.7zM100.8 103.9h0.7v0.7h-0.7zM101.6 104.2h0.7v0.7h-0.7zM104.2 103.4h0.7v0.7h-0.7zM100.6 104.1h0.7v0.7h-0.7zM100.6 106.3h0.7v0.7h-0.7zM101.4 106.5h0.7v0.7h-0.7zM100.2 106.5h0.7v0.7h-0.7zM102.5 103.2h0.7v0.7h-0.7zM103.4 102.6h0.7v0.7h-0.7zM101.6 103.0h0.7v0.7h-0.7zM100.2 108.3h0.7v0.7h-0.7zM103.7 103.6h0.7v0.7h-0.7zM106.4 102.2h0.7v0.7h-0.7zM100.6 106.8h0.7v0.7h-0.7zM101.9 106.8h0.7v0.7h-0.7zM104.1 100.5h0.7v0.7h-0.7zM102.8 104.3h0.7v0.7h-0.7zM104.0 99.8h0.7v0.7h-0.7zM102.2 104.6h0.7v0.7h-0.7zM99.3 107.1h0.7v0.7h-0.7zM103.6 104.3h0.7v0.7h-0.7zM100.5 102.0h0.7v0.7h-0.7zM103.1 102.5h0.7v0.7h-0.7zM100.6 105.5h0.7v0.7h-0.7zM102.4 105.2h0.7v0.7h-0.7zM106.3 97.3h0.7v0.7h-0.7zM101.1 104.6h0.7v0.7h-0.7zM107.3 100.1h0.7v0.7h-0.7zM99.7 106.0h0.7v0.7h-0.7zM102.8 102.5h0.7v0.7h-0.7zM104.6 103.3h0.7v0.7h-0.7zM102.4 99.4h0.7v0.7h-0.7zM103.1 103.8h0.7v0.7h-0.7zM101.7 105.5h0.7v0.7h-0.7zM103.2 103.4h0.7v0.7h-0.7zM97.8 106.1h0.7v0.7h-0.7zM96.0 109.2h0.7v0.7h-0.7zM98.6 107.0h0.7v0.7h-0.7zM105.1 98.5h0.7v0.7h-0.7zM105.1 101.7h0.7v0.7h-0.7zM106.1 98.0h0.7v0.7h-0.7zM105.2 103.2h0.7v0.7h-0.7zM99.6 107.4h0.7v0.7h-0.7zM101.2 106.6h0.7v0.7h-0.7zM102.7 102.1h0.7v0.7h-0.7zM100.3 105.3h0.7v0.7h-0.7zM101.1 106.4h0.7v0.7h-0.7zM101.3 107.1h0.7v0.7h-0.7zM100.4 105.0h0.7v0.7h-0.7zM100.0 109.7h0.7v0.7h-0.7zM103.3 102.1h0.7v0.7h-0.7zM102.7 106.6h0.7v0.7h-0.7zM104.1 99.0h0.7v0.7h-0.7zM105.8 98.6h0.7v0.7h-0.7zM103.2 104.1h0.7v0.7h-0.7zM104.8 100.5h0.7v0.7h-0.7zM104.4 100.0h0.7v0.7h-0.7zM103.8 103.4h0.7v0.7h-0.7zM103.3 104.7h0.7v0.7h-0.7zM105.0 99.6h0.7v0.7h-0.7zM104.8 102.2h0.7v0.7h-0.7zM101.9 103.6h0.7v0.7h-0.7zM100.8 104.2h0.7v0.7h-0.7zM104.0 104.4h0.7v0.7h-0.7zM104.1 100.4h0.7v0.7h-0.7zM103.6 101.2h0.7v0.7h-0.7zM102.2 105.6h0.7v0.7h-0.7zM101.4 103.1h0.7v0.7h-0.7zM102.1 102.3h0.7v0.7h-0.7zM101.6 104.4h0.7v0.7h-0.7zM102.6 103.7h0.7v0.7h-0.7zM101.6 106.8h0.7v0.7h-0.7zM100.8 105.5h0.7v0.7h-0.7zM102.6 102.2h0.7v0.7h-0.7zM101.9 101.8h0.7v0.7h-0.7zM101.7 104.0h0.7v0.7h-0.7zM106.8 97.2h0.7v0.7h-0.7zM103.4 104.8h0.7v0.7h-0.7zM102.5 100.3h0.7v0.7h-0.7zM101.5 101.3h0.7v0.7h-0.7zM99.8 103.3h0.7v0.7h-0.7zM103.9 101.4h0.7v0.7h-0.7zM105.4 100.8h0.7v0.7h-0.7zM104.3 104.6h0.7v0.7h-0.7zM102.1 100.8h0.7v0.7h-0.7zM108.8 95.8h0.7v0.7h-0.7zM100.2 105.3h0.7v0.7h-0.7zM103.9 105.2h0.7v0.7h-0.7zM104.2 102.1h0.7v0.7h-0.7zM104.2 104.6h0.7v0.7h-0.7zM101.0 105.6h0.7v0.7h-0.7zM102.8 105.6h0.7v0.7h-0.7zM102.6 104.3h0.7v0.7h-0.7zM101.5 103.7h0.7v0.7h-0.7zM103.7 104.0h0.7v0.7h-0.7zM105.7 98.9h0.7v0.7h-0.7zM100.9 101.1h0.7v0.7h-0.7zM101.8 104.3h0.7v0.7h-0.7zM102.9 100.6h0.7v0.7h-0.7zM104.6 102.1h0.7v0.7h-0.7zM102.0 107.5h0.7v0.7h-0.7zM101.7 105.3h0.7v0.7h-0.7zM101.0 106.8h0.7v0.7h-0.7zM102.1 101.5h0.7v0.7h-0.7zM103.7 100.5h0.7v0.7h-0.7zM101.6 103.5h0.7v0.7h-0.7zM107.2 101.6h0.7v0.7h-0.7zM101.1 104.6h0.7v0.7h-0.7zM102.3 104.5h0.7v0.7h-0.7zM100.7 102.2h0.7v0.7h-0.7zM102.6 102.5h0.7v0.7h-0.7zM106.3 99.0h0.7v0.7h-0.7zM100.2 106.3h0.7v0.7h-0.7zM103.6 101.6h0.7v0.7h-0.7zM103.3 103.5h0.7v0.7h-0.7zM105.6 100.6h0.7v0.7h-0.7zM98.7 106.1h0.7v0.7h-0.7zM98.9 105.5h0.7v0.7h-0.7zM106.8 99.2h0.7v0.7h-0.7zM106.1 100.6h0.7v0.7h-0.7zM103.6 99.4h0.7v0.7h-0.7zM103.1 104.2h0.7v0.7h-0.7zM103.5 99.4h0.7v0.7h-0.7zM102.6 103.2h0.7v0.7h-0.7zM101.7 107.3h0.7v0.7h-0.7zM100.8 102.5h0.7v0.7h-0.7zM102.1 104.1h0.7v0.7h-0.7zM100.3 106.0h0.7v0.7h-0.7zM100.4 104.0h0.7v0.7h-0.7zM102.0 105.8h0.7v0.7h-0.7zM102.8 101.2h0.7v0.7h-0.7zM104.0 100.2h0.7v0.7h-0.7zM103.9 99.5h0.7v0.7h-0.7zM105.4 100.8h0.7v0.7h-0.7zM101.0 106.7h0.7v0.7h-0.7zM105.3 102.9h0.7v0.7h-0.7zM104.1 101.0h0.7v0.7h-0.7zM102.7 101.6h0.7v0.7h-0.7zM102.2 107.1h0.7v0.7h-0.7zM96.0 110.7h0.7v0.7h-0.7zM103.7 103.5h0.7v0.7h-0.7zM102.6 106.9h0.7v0.7h-0.7zM105.3 101.6h0.7v0.7h-0.7zM97.8 105.9h0.7v0.7h-0.7zM102.7 101.1h0.7v0.7h-0.7zM101.0 103.9h0.7v0.7h-0.7zM100.8 107.6h0.7v0.7h-0.7zM100.9 104.0h0.7v0.7h-0.7zM103.1 104.4h0.7v0.7h-0.7zM104.6 101.3h0.7v0.7h-0.7zM104.5 101.4h0.7v0.7h-0.7zM105.2 100.0h0.7v0.7h-0.7zM103.5 100.8h0.7v0.7h-0.7zM103.1 105.7h0.7v0.7h-0.7zM101.9 104.7h0.7v0.7h-0.7zM104.5 104.1h0.7v0.7h-0.7zM101.0 103.6h0.7v0.7h-0.7zM97.5 106.5h0.7v0.7h-0.7zM99.8 110.0h0.7v0.7h-0.7zM103.0 100.4h0.7v0.7h-0.7zM103.0 103.2h0.7v0.7h-0.7zM106.4 97.8h0.7v0.7h-0.7zM101.4 104.6h0.7v0.7h-0.7zM104.5 100.3h0.7v0.7h-0.7zM101.8 102.1h0.7v0.7h-0.7zM102.4 101.1h0.7v0.7h-0.7zM103.0 103.4h0.7v0.7h-0.7zM104.2 99.8h0.7v0.7h-0.7zM105.5 103.3h0.7v0.7h-0.7zM101.7 104.7h0.7v0.7h-0.7zM103.8 104.7h0.7v0.7h-0.7zM101.7 103.6h0.7v0.7h-0.7zM103.6 103.8h0.7v0.7h-0.7zM102.5 102.3h0.7v0.7h-0.7zM100.8 103.8h0.7v0.7h-0.7zM101.2 104.7h0.7v0.7h-0.7zM102.4 103.2h0.7v0.7h-0.7zM101.6 110.2h0.7v0.7h-0.7zM102.1 101.2h0.7v0.7h-0.7zM102.7 101.8h0.7v0.7h-0.7zM96.9 112.3h0.7v0.7h-0.7zM100.2 106.2h0.7v0.7h-0.7zM102.7 103.5h0.7v0.7h-0.7zM98.7 110.0h0.7v0.7h-0.7zM103.4 102.1h0.7v0.7h-0.7zM103.9 100.1h0.7v0.7h-0.7zM102.2 101.0h0.7v0.7h-0.7zM104.5 100.8h0.7v0.7h-0.7zM102.9 104.1h0.7v0.7h-0.7zM104.6 101.2h0.7v0.7h-0.7zM105.3 102.4h0.7v0.7h-0.7zM101.9 103.4h0.7v0.7h-0.7zM103.1 103.4h0.7v0.7h-0.7zM98.3 107.2h0.7v0.7h-0.7zM97.8 105.5h0.7v0.7h-0.7zM105.3 101.1h0.7v0.7h-0.7zM104.3 100.2h0.7v0.7h-0.7zM101.6 106.1h0.7v0.7h-0.7zM98.8 107.0h0.7v0.7h-0.7zM96.9 107.5h0.7v0.7h-0.7zM104.1 99.5h0.7v0.7h-0.7zM103.0 102.2h0.7v0.7h-0.7zM105.9 97.7h0.7v0.7h-0.7zM104.9 99.7h0.7v0.7h-0.7zM107.4 98.3h0.7v0.7h-0.7zM104.3 101.1h0.7v0.7h-0.7zM101.9 105.3h0.7v0.7h-0.7zM101.7 104.2h0.7v0.7h-0.7zM104.2 99.8h0.7v0.7h-0.7zM98.6 106.5h0.7v0.7h-0.7zM101.5 100.1h0.7v0.7h-0.7zM102.3 105.0h0.7v0.7h-0.7zM106.4 100.8h0.7v0.7h-0.7zM100.4 104.1h0.7v0.7h-0.7zM100.1 104.6h0.7v0.7h-0.7zM103.7 100.1h0.7v0.7h-0.7zM96.2 112.3h0.7v0.7h-0.7zM104.9 100.6h0.7v0.7h-0.7zM102.9 102.4h0.7v0.7h-0.7zM101.3 105.0h0.7v0.7h-0.7zM102.3 100.3h0.7v0.7h-0.7zM101.4 104.6h0.7v0.7h-0.7zM103.7 101.5h0.7v0.7h-0.7zM103.3 103.5h0.7v0.7h-0.7zM103.4 100.8h0.7v0.7h-0.7zM100.0 105.5h0.7v0.7h-0.7zM101.4 105.4h0.7v0.7h-0.7zM109.1 100.5h0.7v0.7h-0.7zM102.6 102.1h0.7v0.7h-0.7zM104.3 105.5h0.7v0.7h-0.7zM99.7 105.1h0.7v0.7h-0.7zM101.5 104.8h0.7v0.7h-0.7zM102.1 102.0h0.7v0.7h-0.7zM101.4 107.7h0.7v0.7h-0.7zM102.6 103.6h0.7v0.7h-0.7zM102.2 104.2h0.7v0.7h-0.7zM99.5 109.5h0.7v0.7h-0.7zM103.9 104.4h0.7v0.7h-0.7zM104.4 99.6h0.7v0.7h-0.7zM101.9 104.8h0.7v0.7h-0.7zM101.6 103.6h0.7v0.7h-0.7zM104.3 103.6h0.7v0.7h-0.7zM99.2 103.4h0.7v0.7h-0.7zM101.2 109.8h0.7v0.7h-0.7zM102.4 103.1h0.7v0.7h-0.7zM99.5 103.0h0.7v0.7h-0.7zM101.5 105.4h0.7v0.7h-0.7zM104.6 99.0h0.7v0.7h-0.7zM102.8 103.1h0.7v0.7h-0.7zM101.1 105.5h0.7v0.7h-0.7zM102.2 106.1h0.7v0.7h-0.7zM104.0 97.7h0.7v0.7h-0.7zM104.7 101.5h0.7v0.7h-0.7zM100.1 109.1h0.7v0.7h-0.7zM102.5 100.7h0.7v0.7h-0.7zM102.3 105.3h0.7v0.7h-0.7zM102.2 105.6h0.7v0.7h-0.7zM104.4 99.9h0.7v0.7h-0.7zM102.1 100.0h0.7v0.7h-0.7zM101.0 105.8h0.7v0.7h-0.7zM102.1 103.1h0.7v0.7h-0.7zM105.5 102.9h0.7v0.7h-0.7zM102.1 103.5h0.7v0.7h-0.7zM104.2 102.8h0.7v0.7h-0.7zM101.5 105.6h0.7v0.7h-0.7zM105.5 100.1h0.7v0.7h-0.7zM104.3 98.5h0.7v0.7h-0.7zM100.5 104.6h0.7v0.7h-0.7zM99.7 107.3h0.7v0.7h-0.7zM101.5 104.6h0.7v0.7h-0.7zM104.3 101.0h0.7v0.7h-0.7zM103.8 103.4h0.7v0.7h-0.7zM102.5 103.6h0.7v0.7h-0.7zM103.7 103.5h0.7v0.7h-0.7zM99.6 107.5h0.7v0.7h-0.7zM102.9 103.8h0.7v0.7h-0.7zM101.8 103.3h0.7v0.7h-0.7zM99.7 103.9h0.7v0.7h-0.7zM105.1 101.9h0.7v0.7h-0.7zM102.1 105.9h0.7v0.7h-0.7zM101.9 105.6h0.7v0.7h-0.7zM103.2 100.9h0.7v0.7h-0.7zM105.0 102.6h0.7v0.7h-0.7zM102.8 103.3h0.7v0.7h-0.7zM103.2 102.9h0.7v0.7h-0.7zM102.7 101.8h0.7v0.7h-0.7zM102.8 102.1h0.7v0.7h-0.7zM99.9 105.6h0.7v0.7h-0.7zM104.7 101.4h0.7v0.7h-0.7zM106.1 97.4h0.7v0.7h-0.7zM103.4 102.3h0.7v0.7h-0.7zM101.5 103.7h0.7v0.7h-0.7zM103.7 99.2h0.7v0.7h-0.7zM103.9 101.7h0.7v0.7h-0.7zM101.2 105.5h0.7v0.7h-0.7zM102.5 103.7h0.7v0.7h-0.7zM98.4 102.6h0.7v0.7h-0.7zM105.8 101.4h0.7v0.7h-0.7zM99.8 106.9h0.7v0.7h-0.7zM104.2 99.2h0.7v0.7h-0.7zM103.1 106.7h0.7v0.7h-0.7zM103.2 102.6h0.7v0.7h-0.7zM102.4 105.2h0.7v0.7h-0.7zM103.5 102.5h0.7v0.7h-0.7zM102.6 98.4h0.7v0.7h-0.7zM105.1 102.6h0.7v0.7h-0.7zM98.9 105.8h0.7v0.7h-0.7zM103.2 104.9h0.7v0.7h-0.7zM102.7 102.9h0.7v0.7h-0.7zM105.6 97.6h0.7v0.7h-0.7zM99.0 102.9h0.7v0.7h-0.7zM101.3 104.1h0.7v0.7h-0.7zM99.9 104.7h0.7v0.7h-0.7zM102.5 103.6h0.7v0.7h-0.7zM102.8 100.7h0.7v0.7h-0.7zM101.3 106.6h0.7v0.7h-0.7zM105.0 99.2h0.7v0.7h-0.7zM104.8 99.6h0.7v0.7h-0.7zM106.3 102.8h0.7v0.7h-0.7zM104.7 102.3h0.7v0.7h-0.7zM107.0 96.3h0.7v0.7h-0.7zM100.8 106.5h0.7v0.7h-0.7zM99.8 103.6h0.7v0.7h-0.7zM106.3 97.0h0.7v0.7h-0.7zM99.8 106.6h0.7v0.7h-0.7zM102.5 102.0h0.7v0.7h-0.7zM101.2 103.1h0.7v0.7h-0.7zM101.3 106.4h0.7v0.7h-0.7zM100.0 105.5h0.7v0.7h-0.7zM101.3 103.3h0.7v0.7h-0.7zM102.5 102.2h0.7v0.7h-0.7zM102.9 101.5h0.7v0.7h-0.7zM104.6 102.4h0.7v0.7h-0.7zM103.0 103.4h0.7v0.7h-0.7zM101.1 102.1h0.7v0.7h-0.7zM105.2 102.8h0.7v0.7h-0.7zM102.4 106.0h0.7v0.7h-0.7zM99.5 106.8h0.7v0.7h-0.7zM103.3 100.3h0.7v0.7h-0.7zM98.3 109.0h0.7v0.7h-0.7zM103.2 101.4h0.7v0.7h-0.7zM105.8 100.3h0.7v0.7h-0.7zM99.9 106.7h0.7v0.7h-0.7zM99.2 110.4h0.7v0.7h-0.7zM99.1 104.4h0.7v0.7h-0.7zM102.6 102.1h0.7v0.7h-0.7zM100.8 106.2h0.7v0.7h-0.7zM104.2 100.2h0.7v0.7h-0.7zM103.5 101.3h0.7v0.7h-0.7zM99.3 105.2h0.7v0.7h-0.7zM106.1 102.8h0.7v0.7h-0.7zM99.4 107.2h0.7v0.7h-0.7zM102.3 105.2h0.7v0.7h-0.7zM102.3 102.2h0.7v0.7h-0.7zM104.9 99.4h0.7v0.7h-0.7zM104.1 101.2h0.7v0.7h-0.7zM107.4 100.6h0.7v0.7h-0.7zM100.9 108.4h0.7v0.7h-0.7zM111.4 96.3h0.7v0.7h-0.7zM102.3 107.0h0.7v0.7h-0.7zM104.7 103.8h0.7v0.7h-0.7zM105.6 99.0h0.7v0.7h-0.7zM102.9 101.5h0.7v0.7h-0.7zM106.4 101.1h0.7v0.7h-0.7zM99.3 106.2h0.7v0.7h-0.7zM100.8 106.9h0.7v0.7h-0.7zM101.0 104.1h0.7v0.7h-0.7zM100.3 104.1h0.7v0.7h-0.7zM102.9 103.1h0.7v0.7h-0.7zM101.0 103.6h0.7v0.7h-0.7zM99.8 106.3h0.7v0.7h-0.7zM103.9 103.5h0.7v0.7h-0.7zM99.4 107.1h0.7v0.7h-0.7zM102.1 106.1h0.7v0.7h-0.7zM102.8 102.2h0.7v0.7h-0.7zM101.0 106.1h0.7v0.7h-0.7zM101.5 102.7h0.7v0.7h-0.7zM105.3 102.6h0.7v0.7h-0.7zM103.6 97.8h0.7v0.7h-0.7zM105.4 100.3h0.7v0.7h-0.7zM105.0 101.4h0.7v0.7h-0.7zM101.0 100.0h0.7v0.7h-0.7zM98.3 105.5h0.7v0.7h-0.7zM99.2 104.5h0.7v0.7h-0.7zM100.6 105.7h0.7v0.7h-0.7zM101.2 104.7h0.7v0.7h-0.7zM101.9 103.5h0.7v0.7h-0.7zM101.2 106.5h0.7v0.7h-0.7zM103.9 106.4h0.7v0.7h-0.7zM103.9 99.6h0.7v0.7h-0.7zM102.0 104.9h0.7v0.7h-0.7zM98.5 108.7h0.7v0.7h-0.7zM103.1 105.0h0.7v0.7h-0.7zM100.1 102.2h0.7v0.7h-0.7zM100.2 103.1h0.7v0.7h-0.7zM105.9 96.7h0.7v0.7h-0.7zM103.4 100.0h0.7v0.7h-0.7zM106.3 99.0h0.7v0.7h-0.7zM100.8 104.7h0.7v0.7h-0.7zM102.1 99.8h0.7v0.7h-0.7zM102.3 102.2h0.7v0.7h-0.7zM100.7 102.4h0.7v0.7h-0.7zM100.0 105.1h0.7v0.7h-0.7zM102.8 102.7h0.7v0.7h-0.7zM97.7 108.1h0.7v0.7h-0.7zM105.8 101.8h0.7v0.7h-0.7zM110.6 97.6h0.7v0.7h-0.7zM106.2 99.8h0.7v0.7h-0.7zM96.6 107.9h0.7v0.7h-0.7zM104.4 104.0h0.7v0.7h-0.7zM103.1 107.1h0.7v0.7h-0.7zM101.1 105.0h0.7v0.7h-0.7zM102.3 104.5h0.7v0.7h-0.7zM106.1 101.1h0.7v0.7h-0.7zM104.3 101.6h0.7v0.7h-0.7zM102.0 106.7h0.7v0.7h-0.7zM104.3 102.3h0.7v0.7h-0.7zM102.2 102.5h0.7v0.7h-0.7zM106.3 97.5h0.7v0.7h-0.7zM99.2 107.2h0.7v0.7h-0.7zM101.6 103.2h0.7v0.7h-0.7zM101.9 107.0h0.7v0.7h-0.7zM102.8 103.8h0.7v0.7h-0.7zM98.1 108.8h0.7v0.7h-0.7zM101.4 106.6h0.7v0.7h-0.7zM102.4 103.8h0.7v0.7h-0.7zM102.3 105.9h0.7v0.7h-0.7zM102.3 107.1h0.7v0.7h-0.7zM102.4 103.9h0.7v0.7h-0.7zM100.7 104.5h0.7v0.7h-0.7zM99.4 105.1h0.7v0.7h-0.7zM103.8 105.5h0.7v0.7h-0.7zM102.9 103.7h0.7v0.7h-0.7zM102.6 102.1h0.7v0.7h-0.7zM98.8 108.1h0.7v0.7h-0.7zM100.5 103.7h0.7v0.7h-0.7zM106.3 101.3h0.7v0.7h-0.7zM99.8 107.6h0.7v0.7h-0.7zM102.4 102.8h0.7v0.7h-0.7zM100.0 103.6h0.7v0.7h-0.7zM106.9 102.2h0.7v0.7h-0.7zM105.2 100.2h0.7v0.7h-0.7zM100.8 101.0h0.7v0.7h-0.7zM100.9 104.4h0.7v0.7h-0.7zM99.2 107.7h0.7v0.7h-0.7zM101.5 105.0h0.7v0.7h-0.7zM99.6 104.9h0.7v0.7h-0.7zM103.7 104.2h0.7v0.7h-0.7zM106.3 99.7h0.7v0.7h-0.7zM106.5 98.3h0.7v0.7h-0.7zM102.5 102.1h0.7v0.7h-0.7zM101.0 101.7h0.7v0.7h-0.7zM101.8 103.5h0.7v0.7h-0.7zM102.9 102.5h0.7v0.7h-0.7zM100.9 103.1h0.7v0.7h-0.7zM106.4 98.9h0.7v0.7h-0.7zM101.7 106.1h0.7v0.7h-0.7zM102.3 102.8h0.7v0.7h-0.7zM100.8 104.8h0.7v0.7h-0.7zM104.4 100.9h0.7v0.7h-0.7zM107.9 99.9h0.7v0.7h-0.7zM105.3 102.8h0.7v0.7h-0.7zM101.2 101.6h0.7v0.7h-0.7zM102.1 102.9h0.7v0.7h-0.7zM106.3 103.8h0.7v0.7h-0.7zM101.2 104.4h0.7v0.7h-0.7zM107.7 100.3h0.7v0.7h-0.7zM106.7 99.1h0.7v0.7h-0.7zM105.9 101.7h0.7v0.7h-0.7zM103.9 100.9h0.7v0.7h-0.7zM101.8 104.5h0.7v0.7h-0.7zM106.9 98.9h0.7v0.7h-0.7zM99.7 107.1h0.7v0.7h-0.7zM101.0 105.3h0.7v0.7h-0.7zM108.4 98.8h0.7v0.7h-0.7zM101.5 104.4h0.7v0.7h-0.7zM102.2 106.6h0.7v0.7h-0.7zM98.6 107.3h0.7v0.7h-0.7zM104.4 100.3h0.7v0.7h-0.7zM105.8 100.7h0.7v0.7h-0.7zM103.5 103.2h0.7v0.7h-0.7zM100.2 108.5h0.7v0.7h-0.7zM102.4 103.6h0.7v0.7h-0.7zM100.9 105.4h0.7v0.7h-0.7zM104.0 100.6h0.7v0.7h-0.7zM104.0 98.2h0.7v0.7h-0.7zM103.1 101.8h0.7v0.7h-0.7zM104.5 103.0h0.7v0.7h-0.7zM105.7 99.1h0.7v0.7h-0.7zM106.3 98.9h0.7v0.7h-0.7zM101.4 107.5h0.7v0.7h-0.7zM102.6 101.4h0.7v0.7h-0.7zM100.5 106.7h0.7v0.7h-0.7zM100.5 104.9h0.7v0.7h-0.7zM106.1 101.1h0.7v0.7h-0.7zM98.9 105.2h0.7v0.7h-0.7zM101.9 103.5h0.7v0.7h-0.7zM104.7 99.6h0.7v0.7h-0.7zM103.2 101.8h0.7v0.7h-0.7zM98.7 107.3h0.7v0.7h-0.7zM104.3 105.0h0.7v0.7h-0.7zM101.9 103.7h0.7v0.7h-0.7zM100.6 105.6h0.7v0.7h-0.7zM105.4 96.7h0.7v0.7h-0.7zM101.4 102.1h0.7v0.7h-0.7zM102.0 102.6h0.7v0.7h-0.7zM103.5 99.6h0.7v0.7h-0.7zM103.5 103.2h0.7v0.7h-0.7zM99.4 106.3h0.7v0.7h-0.7zM102.2 102.9h0.7v0.7h-0.7zM103.4 102.0h0.7v0.7h-0.7zM102.1 102.1h0.7v0.7h-0.7zM103.6 99.4h0.7v0.7h-0.7zM103.8 100.4h0.7v0.7h-0.7zM103.9 102.0h0.7v0.7h-0.7zM102.2 103.6h0.7v0.7h-0.7zM101.9 102.5h0.7v0.7h-0.7zM108.3 99.3h0.7v0.7h-0.7zM99.7 107.9h0.7v0.7h-0.7zM105.7 100.7h0.7v0.7h-0.7zM105.2 103.2h0.7v0.7h-0.7zM100.4 104.3h0.7v0.7h-0.7zM103.6 104.0h0.7v0.7h-0.7zM104.2 101.8h0.7v0.7h-0.7zM100.1 107.2h0.7v0.7h-0.7zM101.5 101.6h0.7v0.7h-0.7zM103.1 101.0h0.7v0.7h-0.7zM100.9 105.6h0.7v0.7h-0.7zM102.9 102.8h0.7v0.7h-0.7zM107.1 100.7h0.7v0.7h-0.7zM102.7 102.4h0.7v0.7h-0.7zM101.2 105.7h0.7v0.7h-0.7zM99.2 107.2h0.7v0.7h-0.7zM97.8 106.9h0.7v0.7h-0.7zM104.4 100.3h0.7v0.7h-0.7zM102.4 103.8h0.7v0.7h-0.7zM104.3 104.8h0.7v0.7h-0.7zM103.5 104.7h0.7v0.7h-0.7zM100.7 104.7h0.7v0.7h-0.7zM105.4 97.8h0.7v0.7h-0.7zM104.1 101.3h0.7v0.7h-0.7zM105.2 98.8h0.7v0.7h-0.7zM102.7 108.3h0.7v0.7h-0.7zM104.8 102.2h0.7v0.7h-0.7zM104.0 101.4h0.7v0.7h-0.7zM99.9 105.8h0.7v0.7h-0.7zM99.9 104.7h0.7v0.7h-0.7zM101.0 105.3h0.7v0.7h-0.7zM102.3 98.5h0.7v0.7h-0.7zM102.8 102.3h0.7v0.7h-0.7zM100.8 104.7h0.7v0.7h-0.7zM105.7 102.5h0.7v0.7h-0.7zM99.6 103.6h0.7v0.7h-0.7zM103.9 103.5h0.7v0.7h-0.7zM102.2 103.1h0.7v0.7h-0.7zM101.8 106.1h0.7v0.7h-0.7zM103.9 100.1h0.7v0.7h-0.7zM103.3 103.4h0.7v0.7h-0.7zM98.9 109.9h0.7v0.7h-0.7zM104.9 105.6h0.7v0.7h-0.7zM105.0 98.6h0.7v0.7h-0.7zM98.0 109.0h0.7v0.7h-0.7zM104.5 100.7h0.7v0.7h-0.7zM102.6 102.1h0.7v0.7h-0.7zM100.1 106.4h0.7v0.7h-0.7zM102.7 103.3h0.7v0.7h-0.7zM100.1 105.9h0.7v0.7h-0.7zM97.9 105.9h0.7v0.7h-0.7zM103.8 102.4h0.7v0.7h-0.7zM101.9 101.3h0.7v0.7h-0.7zM99.0 107.9h0.7v0.7h-0.7zM102.6 105.4h0.7v0.7h-0.7zM101.5 102.1h0.7v0.7h-0.7zM99.4 107.3h0.7v0.7h-0.7zM105.1 100.5h0.7v0.7h-0.7zM101.2 105.1h0.7v0.7h-0.7zM103.1 101.8h0.7v0.7h-0.7zM104.1 101.5h0.7v0.7h-0.7zM101.5 106.2h0.7v0.7h-0.7z" fill="#000" fill-opacity="0.75"/>
<path d="M96.7 112.3h0.6v0.6h-0.6zM98.5 106.0h0.6v0.6h-0.6zM91.9 109.7h0.6v0.6h-0.6zM100.9 108.8h0.6v0.6h-0.6zM96.1 102.7h0.6v0.6h-0.6zM98.6 103.7h0.6v0.6h-0.6zM98.0 112.6h0.6v0.6h-0.6zM93.2 112.1h0.6v0.6h-0.6zM100.1 100.1h0.6v0.6h-0.6zM102.7 106.6h0.6v0.6h-0.6zM101.6 109.5h0.6v0.6h-0.6zM94.8 112.9h0.6v0.6h-0.6zM96.5 109.0h0.6v0.6h-0.6zM91.5 112.0h0.6v0.6h-0.6zM90.1 111.6h0.6v0.6h-0.6zM95.5 107.9h0.6v0.6h-0.6zM98.0 109.2h0.6v0.6h-0.6zM103.2 114.2h0.6v0.6h-0.6zM101.2 115.9h0.6v0.6h-0.6zM105.4 102.3h0.6v0.6h-0.6zM88.7 108.9h0.6v0.6h-0.6zM102.1 104.9h0.6v0.6h-0.6zM93.6 110.1h0.6v0.6h-0.6zM100.0 105.8h0.6v0.6h-0.6zM88.6 108.3h0.6v0.6h-0.6zM106.3 102.0h0.6v0.6h-0.6zM101.7 103.1h0.6v0.6h-0.6zM88.5 114.9h0.6v0.6h-0.6zM99.4 101.2h0.6v0.6h-0.6zM97.0 109.0h0.6v0.6h-0.6zM98.1 103.4h0.6v0.6h-0.6zM94.5 107.3h0.6v0.6h-0.6zM94.2 108.2h0.6v0.6h-0.6zM88.5 112.6h0.6v0.6h-0.6zM92.9 109.6h0.6v0.6h-0.6zM94.9 108.1h0.6v0.6h-0.6zM87.0 113.4h0.6v0.6h-0.6zM90.1 110.9h0.6v0.6h-0.6zM95.1 107.9h0.6v0.6h-0.6zM97.6 107.1h0.6v0.6h-0.6zM97.4 115.8h0.6v0.6h-0.6zM104.4 107.2h0.6v0.6h-0.6zM92.6 109.6h0.6v0.6h-0.6zM96.6 103.8h0.6v0.6h-0.6zM104.4 108.0h0.6v0.6h-0.6zM92.4 112.0h0.6v0.6h-0.6zM102.2 106.5h0.6v0.6h-0.6zM97.6 112.9h0.6v0.6h-0.6zM88.7 107.3h0.6v0.6h-0.6zM102.7 102.5h0.6v0.6h-0.6zM104.3 104.5h0.6v0.6h-0.6zM97.2 114.1h0.6v0.6h-0.6zM101.1 105.6h0.6v0.6h-0.6zM101.0 106.3h0.6v0.6h-0.6zM96.0 109.4h0.6v0.6h-0.6zM106.5 102.0h0.6v0.6h-0.6zM95.9 110.2h0.6v0.6h-0.6zM92.0 110.1h0.6v0.6h-0.6zM95.1 107.4h0.6v0.6h-0.6zM95.0 108.8h0.6v0.6h-0.6zM95.3 112.4h0.6v0.6h-0.6zM97.0 113.3h0.6v0.6h-0.6zM90.1 114.2h0.6v0.6h-0.6zM98.6 106.6h0.6v0.6h-0.6zM102.5 107.1h0.6v0.6h-0.6zM100.9 108.9h0.6v0.6h-0.6zM94.2 110.3h0.6v0.6h-0.6zM93.7 109.6h0.6v0.6h-0.6zM94.0 112.8h0.6v0.6h-0.6zM96.0 108.9h0.6v0.6h-0.6zM106.7 106.5h0.6v0.6h-0.6zM96.2 106.0h0.6v0.6h-0.6zM94.8 111.6h0.6v0.6h-0.6zM104.7 103.6h0.6v0.6h-0.6zM92.5 108.0h0.6v0.6h-0.6zM94.0 109.6h0.6v0.6h-0.6zM104.6 99.5h0.6v0.6h-0.6zM98.8 106.2h0.6v0.6h-0.6zM101.5 104.7h0.6v0.6h-0.6zM104.0 114.1h0.6v0.6h-0.6zM97.0 104.9h0.6v0.6h-0.6zM100.7 108.7h0.6v0.6h-0.6zM99.1 105.6h0.6v0.6h-0.6zM107.5 102.9h0.6v0.6h-0.6zM90.1 112.3h0.6v0.6h-0.6zM83.5 115.2h0.6v0.6h-0.6zM97.6 114.0h0.6v0.6h-0.6zM93.9 104.3h0.6v0.6h-0.6zM90.4 112.9h0.6v0.6h-0.6zM95.8 108.3h0.6v0.6h-0.6zM98.7 101.5h0.6v0.6h-0.6zM94.2 111.5h0.6v0.6h-0.6zM93.7 113.1h0.6v0.6h-0.6zM100.2 106.8h0.6v0.6h-0.6zM93.5 113.0h0.6v0.6h-0.6zM99.1 114.2h0.6v0.6h-0.6zM94.8 108.6h0.6v0.6h-0.6zM104.7 111.8h0.6v0.6h-0.6zM85.9 105.5h0.6v0.6h-0.6zM100.2 105.8h0.6v0.6h-0.6zM100.5 111.6h0.6v0.6h-0.6zM91.8 113.8h0.6v0.6h-0.6zM93.5 108.9h0.6v0.6h-0.6zM103.0 110.2h0.6v0.6h-0.6zM96.5 112.6h0.6v0.6h-0.6zM103.9 97.9h0.6v0.6h-0.6zM93.1 114.8h0.6v0.6h-0.6zM101.7 104.9h0.6v0.6h-0.6zM88.8 115.4h0.6v0.6h-0.6zM92.9 107.2h0.6v0.6h-0.6zM102.0 107.4h0.6v0.6h-0.6zM87.5 116.2h0.6v0.6h-0.6zM95.9 106.0h0.6v0.6h-0.6zM90.4 112.2h0.6v0.6h-0.6zM95.5 115.8h0.6v0.6h-0.6zM90.9 107.4h0.6v0.6h-0.6zM94.8 112.4h0.6v0.6h-0.6zM92.9 110.6h0.6v0.6h-0.6zM91.2 111.0h0.6v0.6h-0.6zM105.4 108.8h0.6v0.6h-0.6zM107.3 103.8h0.6v0.6h-0.6zM96.7 105.4h0.6v0.6h-0.6zM95.0 110.5h0.6v0.6h-0.6zM92.3 113.9h0.6v0.6h-0.6zM99.6 111.4h0.6v0.6h-0.6zM97.5 108.3h0.6v0.6h-0.6zM92.2 112.8h0.6v0.6h-0.6zM95.8 110.6h0.6v0.6h-0.6zM101.0 108.6h0.6v0.6h-0.6zM94.2 103.6h0.6v0.6h-0.6zM98.5 113.2h0.6v0.6h-0.6zM97.4 109.9h0.6v0.6h-0.6zM92.8 111.9h0.6v0.6h-0.6zM94.0 106.8h0.6v0.6h-0.6zM97.1 109.9h0.6v0.6h-0.6zM94.6 108.3h0.6v0.6h-0.6zM97.6 102.2h0.6v0.6h-0.6zM102.0 107.1h0.6v0.6h-0.6zM89.3 114.2h0.6v0.6h-0.6zM98.3 102.2h0.6v0.6h-0.6zM99.0 109.1h0.6v0.6h-0.6zM99.5 109.6h0.6v0.6h-0.6zM81.7 103.0h0.6v0.6h-0.6zM96.9 109.6h0.6v0.6h-0.6zM100.4 109.5h0.6v0.6h-0.6zM96.7 105.7h0.6v0.6h-0.6zM88.9 106.4h0.6v0.6h-0.6zM93.6 111.6h0.6v0.6h-0.6zM101.6 114.0h0.6v0.6h-0.6zM97.8 109.8h0.6v0.6h-0.6zM106.5 111.0h0.6v0.6h-0.6zM93.0 110.9h0.6v0.6h-0.6zM100.7 103.3h0.6v0.6h-0.6zM94.3 105.7h0.6v0.6h-0.6zM102.0 103.1h0.6v0.6h-0.6zM90.6 111.8h0.6v0.6h-0.6zM98.3 109.1h0.6v0.6h-0.6zM105.5 103.1h0.6v0.6h-0.6zM87.4 109.9h0.6v0.6h-0.6zM84.6 113.1h0.6v0.6h-0.6zM104.4 110.4h0.6v0.6h-0.6zM94.0 111.3h0.6v0.6h-0.6zM96.0 109.7h0.6v0.6h-0.6zM95.9 108.3h0.6v0.6h-0.6zM102.7 106.1h0.6v0.6h-0.6zM93.5 108.5h0.6v0.6h-0.6zM103.0 109.0h0.6v0.6h-0.6zM101.4 109.1h0.6v0.6h-0.6zM96.2 109.5h0.6v0.6h-0.6zM102.9 108.3h0.6v0.6h-0.6zM97.4 108.0h0.6v0.6h-0.6zM95.0 108.7h0.6v0.6h-0.6zM112.5 101.9h0.6v0.6h-0.6zM86.4 116.0h0.6v0.6h-0.6zM89.2 111.3h0.6v0.6h-0.6zM93.8 110.4h0.6v0.6h-0.6zM97.9 110.1h0.6v0.6h-0.6zM97.9 114.2h0.6v0.6h-0.6zM104.8 98.6h0.6v0.6h-0.6zM93.2 110.4h0.6v0.6h-0.6zM92.7 115.7h0.6v0.6h-0.6zM95.7 108.7h0.6v0.6h-0.6zM93.3 109.8h0.6v0.6h-0.6zM93.6 110.8h0.6v0.6h-0.6zM100.1 105.6h0.6v0.6h-0.6zM97.1 107.7h0.6v0.6h-0.6zM102.3 106.8h0.6v0.6h-0.6zM91.2 113.4h0.6v0.6h-0.6zM102.2 112.0h0.6v0.6h-0.6zM96.8 110.3h0.6v0.6h-0.6zM96.2 116.0h0.6v0.6h-0.6zM88.8 115.2h0.6v0.6h-0.6zM99.0 114.3h0.6v0.6h-0.6zM90.3 113.1h0.6v0.6h-0.6zM101.9 110.3h0.6v0.6h-0.6zM98.7 108.4h0.6v0.6h-0.6zM101.4 112.1h0.6v0.6h-0.6zM108.2 98.1h0.6v0.6h-0.6zM101.5 104.1h0.6v0.6h-0.6zM97.3 105.1h0.6v0.6h-0.6zM99.8 112.7h0.6v0.6h-0.6zM96.9 108.4h0.6v0.6h-0.6zM94.7 112.6h0.6v0.6h-0.6zM102.5 109.1h0.6v0.6h-0.6zM88.4 112.2h0.6v0.6h-0.6zM96.7 104.1h0.6v0.6h-0.6zM94.0 104.6h0.6v0.6h-0.6zM98.9 104.1h0.6v0.6h-0.6zM93.0 108.9h0.6v0.6h-0.6zM92.1 109.3h0.6v0.6h-0.6zM100.8 108.1h0.6v0.6h-0.6zM94.5 105.5h0.6v0.6h-0.6zM84.8 111.2h0.6v0.6h-0.6zM101.0 106.8h0.6v0.6h-0.6zM98.7 104.2h0.6v0.6h-0.6zM96.8 108.6h0.6v0.6h-0.6zM98.8 107.5h0.6v0.6h-0.6zM103.0 108.9h0.6v0.6h-0.6zM92.8 115.2h0.6v0.6h-0.6zM98.5 106.2h0.6v0.6h-0.6zM97.5 112.2h0.6v0.6h-0.6zM95.0 110.6h0.6v0.6h-0.6zM97.6 111.6h0.6v0.6h-0.6zM97.0 116.0h0.6v0.6h-0.6zM92.4 103.8h0.6v0.6h-0.6zM94.7 105.1h0.6v0.6h-0.6zM90.6 108.2h0.6v0.6h-0.6zM99.2 102.6h0.6v0.6h-0.6zM96.8 109.5h0.6v0.6h-0.6zM91.0 113.6h0.6v0.6h-0.6zM101.5 112.5h0.6v0.6h-0.6zM101.2 111.5h0.6v0.6h-0.6zM89.7 115.2h0.6v0.6h-0.6zM97.3 108.2h0.6v0.6h-0.6zM95.5 112.6h0.6v0.6h-0.6zM98.1 109.8h0.6v0.6h-0.6zM94.4 108.9h0.6v0.6h-0.6zM99.2 110.0h0.6v0.6h-0.6zM96.1 107.6h0.6v0.6h-0.6zM96.2 108.9h0.6v0.6h-0.6zM97.7 106.1h0.6v0.6h-0.6zM98.4 105.4h0.6v0.6h-0.6zM102.2 105.5h0.6v0.6h-0.6zM97.5 108.1h0.6v0.6h-0.6z" fill="#000" fill-opacity="0.3"/>
<path d="M82.0 112.9h0.6v0.6h-0.6zM96.3 111.7h0.6v0.6h-0.6zM96.5 111.4h0.6v0.6h-0.6zM96.1 111.2h0.6v0.6h-0.6zM94.0 112.3h0.6v0.6h-0.6zM88.2 116.0h0.6v0.6h-0.6zM82.7 108.1h0.6v0.6h-0.6zM82.6 109.8h0.6v0.6h-0.6zM86.6 113.4h0.6v0.6h-0.6zM79.7 114.0h0.6v0.6h-0.6zM88.8 113.3h0.6v0.6h-0.6zM85.5 112.9h0.6v0.6h-0.6zM85.0 109.6h0.6v0.6h-0.6zM87.9 113.5h0.6v0.6h-0.6zM91.5 116.3h0.6v0.6h-0.6zM96.3 111.1h0.6v0.6h-0.6zM83.8 113.5h0.6v0.6h-0.6zM85.2 113.7h0.6v0.6h-0.6zM85.9 114.2h0.6v0.6h-0.6zM87.0 112.3h0.6v0.6h-0.6zM88.9 111.2h0.6v0.6h-0.6zM91.2 115.7h0.6v0.6h-0.6zM87.0 116.3h0.6v0.6h-0.6zM95.7 111.4h0.6v0.6h-0.6zM89.1 110.9h0.6v0.6h-0.6zM87.8 109.8h0.6v0.6h-0.6zM81.0 110.7h0.6v0.6h-0.6zM81.0 112.9h0.6v0.6h-0.6zM88.3 110.8h0.6v0.6h-0.6zM93.6 112.3h0.6v0.6h-0.6zM89.7 111.0h0.6v0.6h-0.6zM87.3 110.4h0.6v0.6h-0.6zM86.3 111.8h0.6v0.6h-0.6zM84.7 107.1h0.6v0.6h-0.6zM86.1 113.6h0.6v0.6h-0.6zM90.9 111.5h0.6v0.6h-0.6zM93.6 114.9h0.6v0.6h-0.6zM90.4 111.1h0.6v0.6h-0.6zM84.6 112.7h0.6v0.6h-0.6zM90.4 110.0h0.6v0.6h-0.6zM89.9 115.1h0.6v0.6h-0.6zM85.2 112.1h0.6v0.6h-0.6zM88.7 113.8h0.6v0.6h-0.6zM81.4 111.2h0.6v0.6h-0.6zM82.6 111.8h0.6v0.6h-0.6zM87.2 111.9h0.6v0.6h-0.6zM84.9 110.8h0.6v0.6h-0.6zM85.8 114.5h0.6v0.6h-0.6zM83.9 115.1h0.6v0.6h-0.6zM90.4 114.9h0.6v0.6h-0.6zM92.7 109.6h0.6v0.6h-0.6zM83.0 111.8h0.6v0.6h-0.6zM89.1 112.2h0.6v0.6h-0.6zM86.0 114.3h0.6v0.6h-0.6zM88.7 109.4h0.6v0.6h-0.6zM93.1 111.1h0.6v0.6h-0.6zM89.4 114.7h0.6v0.6h-0.6zM87.3 112.8h0.6v0.6h-0.6zM82.8 113.0h0.6v0.6h-0.6zM92.9 109.1h0.6v0.6h-0.6zM95.6 110.5h0.6v0.6h-0.6zM91.0 114.4h0.6v0.6h-0.6zM86.4 108.7h0.6v0.6h-0.6zM81.9 114.3h0.6v0.6h-0.6zM96.0 110.4h0.6v0.6h-0.6zM90.0 109.9h0.6v0.6h-0.6zM98.5 115.2h0.6v0.6h-0.6zM84.3 114.6h0.6v0.6h-0.6zM85.2 110.3h0.6v0.6h-0.6zM80.3 111.2h0.6v0.6h-0.6zM88.2 112.8h0.6v0.6h-0.6zM86.2 112.2h0.6v0.6h-0.6zM93.5 112.8h0.6v0.6h-0.6zM89.9 109.0h0.6v0.6h-0.6zM92.5 112.1h0.6v0.6h-0.6zM88.6 113.3h0.6v0.6h-0.6zM91.3 110.4h0.6v0.6h-0.6zM87.4 113.4h0.6v0.6h-0.6zM82.0 114.8h0.6v0.6h-0.6zM90.3 113.0h0.6v0.6h-0.6zM87.3 110.9h0.6v0.6h-0.6zM84.3 114.9h0.6v0.6h-0.6zM82.4 112.4h0.6v0.6h-0.6zM93.7 112.0h0.6v0.6h-0.6zM79.9 113.7h0.6v0.6h-0.6zM83.8 113.0h0.6v0.6h-0.6zM88.8 107.5h0.6v0.6h-0.6zM91.1 114.4h0.6v0.6h-0.6zM89.1 113.3h0.6v0.6h-0.6zM80.6 113.8h0.6v0.6h-0.6zM93.2 113.0h0.6v0.6h-0.6zM87.1 111.5h0.6v0.6h-0.6zM80.7 113.1h0.6v0.6h-0.6zM93.2 112.8h0.6v0.6h-0.6zM86.6 107.5h0.6v0.6h-0.6zM86.9 111.8h0.6v0.6h-0.6zM84.6 111.6h0.6v0.6h-0.6zM88.8 110.4h0.6v0.6h-0.6zM88.6 112.8h0.6v0.6h-0.6zM84.3 114.8h0.6v0.6h-0.6zM90.0 113.1h0.6v0.6h-0.6zM89.2 114.6h0.6v0.6h-0.6zM82.9 114.3h0.6v0.6h-0.6zM92.1 115.2h0.6v0.6h-0.6zM89.3 115.9h0.6v0.6h-0.6zM86.7 111.5h0.6v0.6h-0.6zM89.2 110.3h0.6v0.6h-0.6zM83.7 111.6h0.6v0.6h-0.6zM83.9 112.2h0.6v0.6h-0.6zM87.5 114.1h0.6v0.6h-0.6zM83.5 114.3h0.6v0.6h-0.6zM95.2 111.8h0.6v0.6h-0.6zM88.8 110.7h0.6v0.6h-0.6zM91.1 110.9h0.6v0.6h-0.6zM96.4 110.6h0.6v0.6h-0.6zM94.8 111.9h0.6v0.6h-0.6zM96.9 104.0h0.6v0.6h-0.6zM83.8 113.6h0.6v0.6h-0.6zM95.9 112.3h0.6v0.6h-0.6zM85.6 111.0h0.6v0.6h-0.6z" fill="#000" fill-opacity="0.38"/>
<rect x="105.8" y="80.5" width="2.7" height="1.1" fill="#222" opacity="0.75"/>
<path d="M21.8 115.2 V124.7 H27.6" fill="none" stroke="#000" stroke-width="1.3"/>
<path d="M21.8 110.2 l-3 5.6 h6 z" fill="#000"/>
<path d="M33.6 124.7 l-6.6 -2.8 v5.6 z" fill="#000"/>
<path d="M73.1 115.8 V124.7 H79.8" fill="none" stroke="#000" stroke-width="1.3"/>
<path d="M73.1 110.8 l-3 5.6 h6 z" fill="#000"/>
<path d="M85.8 124.7 l-6.6 -2.8 v5.6 z" fill="#000"/>
<text transform="translate(23.6 108.3) rotate(-90)" font-size="8.3" text-anchor="start" font-weight="normal" fill="#000" textLength="16.2" lengthAdjust="spacingAndGlyphs">SSC</text>
<text transform="translate(76.3 108.0) rotate(-90)" font-size="8.3" text-anchor="start" font-weight="normal" fill="#000">F4/80</text>
<text x="35.6" y="127.4" font-size="8.3" text-anchor="start" font-weight="normal" fill="#000" textLength="16.9" lengthAdjust="spacingAndGlyphs">FSC</text>
<text x="86.8" y="127.4" font-size="8.5" text-anchor="start" font-weight="normal" fill="#000" textLength="27.2" lengthAdjust="spacingAndGlyphs">CD11b</text>
<line x1="151" y1="24.0" x2="151" y2="119.3" stroke="#000" stroke-width="1.1"/>
<line x1="150.5" y1="118.8" x2="240.3" y2="118.8" stroke="#000" stroke-width="1.1"/>
<line x1="148.8" y1="118.8" x2="151" y2="118.8" stroke="#000" stroke-width="1.0"/>
<text x="148.2" y="121.89999999999999" font-size="8.5" text-anchor="end" font-weight="normal" fill="#000">0</text>
<line x1="148.8" y1="99.94999999999999" x2="151" y2="99.94999999999999" stroke="#000" stroke-width="1.0"/>
<text x="148.2" y="103.04999999999998" font-size="8.5" text-anchor="end" font-weight="normal" fill="#000">5</text>
<line x1="148.8" y1="81.1" x2="151" y2="81.1" stroke="#000" stroke-width="1.0"/>
<text x="148.2" y="84.19999999999999" font-size="8.5" text-anchor="end" font-weight="normal" fill="#000">10</text>
<line x1="148.8" y1="62.25" x2="151" y2="62.25" stroke="#000" stroke-width="1.0"/>
<text x="148.2" y="65.35" font-size="8.5" text-anchor="end" font-weight="normal" fill="#000">15</text>
<line x1="148.8" y1="43.39999999999999" x2="151" y2="43.39999999999999" stroke="#000" stroke-width="1.0"/>
<text x="148.2" y="46.49999999999999" font-size="8.5" text-anchor="end" font-weight="normal" fill="#000">20</text>
<line x1="148.8" y1="24.549999999999997" x2="151" y2="24.549999999999997" stroke="#000" stroke-width="1.0"/>
<text x="148.2" y="27.65" font-size="8.5" text-anchor="end" font-weight="normal" fill="#000">25</text>
<line x1="163.6" y1="27.6" x2="163.6" y2="31.3" stroke="#000" stroke-width="1.1"/>
<line x1="162.1" y1="27.6" x2="165.1" y2="27.6" stroke="#000" stroke-width="1.1"/>
<rect x="154.79999999999998" y="31.900000000000002" width="17.40" height="86.90" fill="#fff" stroke="#000" stroke-width="1.2"/>
<line x1="182.3" y1="72.5" x2="182.3" y2="76.4" stroke="#000" stroke-width="1.1"/>
<line x1="180.8" y1="72.5" x2="183.8" y2="72.5" stroke="#000" stroke-width="1.1"/>
<rect x="173.4" y="76.4" width="17.90" height="42.40" fill="#000"/>
<line x1="207.5" y1="74.6" x2="207.5" y2="75.5" stroke="#000" stroke-width="1.1"/>
<line x1="206.0" y1="74.6" x2="209.0" y2="74.6" stroke="#000" stroke-width="1.1"/>
<rect x="199.4" y="76.1" width="16.20" height="42.70" fill="#fff" stroke="#000" stroke-width="1.2"/>
<line x1="226.5" y1="93.5" x2="226.5" y2="96.2" stroke="#000" stroke-width="1.1"/>
<line x1="225.0" y1="93.5" x2="228.0" y2="93.5" stroke="#000" stroke-width="1.1"/>
<rect x="217.7" y="96.2" width="17.40" height="22.60" fill="#000"/>
<line x1="162.5" y1="24.8" x2="182.8" y2="24.8" stroke="#000" stroke-width="1.0"/>
<text x="173.5" y="24.3" font-size="8.8" text-anchor="middle" font-weight="bold" fill="#000" letter-spacing="0.5">***</text>
<line x1="206.9" y1="71.3" x2="226.9" y2="71.3" stroke="#000" stroke-width="1.0"/>
<text x="217.1" y="71.6" font-size="8.8" text-anchor="middle" font-weight="bold" fill="#000" letter-spacing="0.5">***</text>
<text x="172.8" y="128.8" font-size="7.5" text-anchor="middle" font-weight="normal" fill="#000">Peritoneal</text>
<text x="172.5" y="137.5" font-size="7.5" text-anchor="middle" font-weight="normal" fill="#000">cells</text>
<text x="218.4" y="129.3" font-size="7.5" text-anchor="middle" font-weight="normal" fill="#000">Macrophages</text>
<text transform="translate(137.4 115.2) rotate(-90)" font-size="10.2" textLength="89.5" lengthAdjust="spacingAndGlyphs">Cell number (×10<tspan font-size="6.8" dy="-3.6">6</tspan><tspan dy="3.6">)</tspan></text>
<text x="271.0" y="17.5" font-size="8.7" text-anchor="start" font-weight="bold" fill="#000" textLength="62.2" lengthAdjust="spacingAndGlyphs">OVX + Placebo</text>
<text x="369.0" y="17.5" font-size="8.7" text-anchor="start" font-weight="bold" fill="#000" textLength="39.3" lengthAdjust="spacingAndGlyphs">OVX + E2</text>
<rect x="258.2" y="20.7" width="83.80" height="45.10" fill="#fff" stroke="#262626" stroke-width="1.1"/>
<path d="M258.2 20.2V65.8H342.5" fill="none" stroke="#111" stroke-width="1.35"/>
<line x1="256.9" y1="61.29" x2="258.2" y2="61.29" stroke="#222" stroke-width="0.6"/>
<line x1="256.9" y1="56.78" x2="258.2" y2="56.78" stroke="#222" stroke-width="0.6"/>
<line x1="256.9" y1="52.269999999999996" x2="258.2" y2="52.269999999999996" stroke="#222" stroke-width="0.6"/>
<line x1="256.9" y1="47.76" x2="258.2" y2="47.76" stroke="#222" stroke-width="0.6"/>
<line x1="256.9" y1="43.25" x2="258.2" y2="43.25" stroke="#222" stroke-width="0.6"/>
<line x1="256.9" y1="38.74" x2="258.2" y2="38.74" stroke="#222" stroke-width="0.6"/>
<line x1="256.9" y1="34.230000000000004" x2="258.2" y2="34.230000000000004" stroke="#222" stroke-width="0.6"/>
<line x1="256.9" y1="29.72" x2="258.2" y2="29.72" stroke="#222" stroke-width="0.6"/>
<line x1="256.9" y1="25.21" x2="258.2" y2="25.21" stroke="#222" stroke-width="0.6"/>
<path d="M258.20 65.8v1.9M264.51 65.8v1.2M268.20 65.8v1.2M270.81 65.8v1.2M272.84 65.8v1.2M274.50 65.8v1.2M275.90 65.8v1.2M277.12 65.8v1.2M278.19 65.8v1.2M279.15 65.8v1.9M285.46 65.8v1.2M289.15 65.8v1.2M291.76 65.8v1.2M293.79 65.8v1.2M295.45 65.8v1.2M296.85 65.8v1.2M298.07 65.8v1.2M299.14 65.8v1.2M300.10 65.8v1.9M306.41 65.8v1.2M310.10 65.8v1.2M312.71 65.8v1.2M314.74 65.8v1.2M316.40 65.8v1.2M317.80 65.8v1.2M319.02 65.8v1.2M320.09 65.8v1.2M321.05 65.8v1.9M327.36 65.8v1.2M331.05 65.8v1.2M333.66 65.8v1.2M335.69 65.8v1.2M337.35 65.8v1.2M338.75 65.8v1.2M339.97 65.8v1.2M341.04 65.8v1.2" stroke="#222" stroke-width="0.55" fill="none"/>
<clipPath id="c258_20"><rect x="258.7" y="21.2" width="82.80000000000001" height="44.099999999999994"/></clipPath>
<polyline points="261.50,51.23 262.00,52.94 262.50,50.75 263.00,52.17 263.50,49.67 264.00,50.41 264.50,47.50 265.00,48.89 265.50,48.77 266.00,47.44 266.50,48.08 267.00,44.44 267.50,45.09 268.00,43.98 268.50,41.42 269.00,38.49 269.50,40.86 270.00,37.86 270.50,38.69 271.00,40.14 271.50,37.79 272.00,35.58 272.50,37.68 273.00,34.68 273.50,34.79 274.00,36.00 274.50,34.18 275.00,34.96 275.50,33.86 276.00,32.93 276.50,33.06 277.00,33.81 277.50,37.35 278.00,32.60 278.50,36.66 279.00,35.73 279.50,37.91 280.00,36.21 280.50,39.69 281.00,41.30 281.50,42.01 282.00,44.25 282.50,46.62 283.00,46.03 283.50,47.16 284.00,50.11 284.50,53.43 285.00,52.73 285.50,54.94 286.00,54.93 286.50,56.34 287.00,58.63 287.50,60.12 288.00,61.34 288.50,62.78 289.00,62.10 289.50,63.30 290.00,64.55 290.50,64.75 291.00,65.15 291.50,65.25" fill="none" stroke="#8a8a8a" stroke-width="0.65" stroke-linejoin="round" clip-path="url(#c258_20)"/>
<polyline points="285.00,65.25 285.50,65.18 286.00,64.97 286.50,64.97 287.00,64.98 287.50,64.77 288.00,64.93 288.50,64.91 289.00,64.77 289.50,64.83 290.00,65.08 290.50,65.30 291.00,64.19 291.50,64.54 292.00,63.22 292.50,63.73 293.00,63.37 293.50,64.38 294.00,63.93 294.50,62.93 295.00,63.82 295.50,63.31 296.00,62.10 296.50,63.06 297.00,62.54 297.50,60.98 298.00,61.36 298.50,61.80 299.00,60.35 299.50,59.69 300.00,58.80 300.50,56.06 301.00,55.89 301.50,56.65 302.00,56.18 302.50,55.05 303.00,54.72 303.50,51.49 304.00,52.92 304.50,47.93 305.00,49.47 305.50,47.01 306.00,47.54 306.50,48.40 307.00,45.96 307.50,45.30 308.00,42.28 308.50,43.54 309.00,41.58 309.50,38.42 310.00,39.53 310.50,38.05 311.00,33.90 311.50,30.79 312.00,37.41 312.50,38.65 313.00,34.22 313.50,33.21 314.00,32.76 314.50,35.47 315.00,35.59 315.50,31.43 316.00,33.24 316.50,33.55 317.00,32.09 317.50,30.68 318.00,33.09 318.50,28.18 319.00,34.12 319.50,32.22 320.00,36.64 320.50,35.49 321.00,34.14 321.50,33.94 322.00,34.91 322.50,33.54 323.00,35.80 323.50,36.16 324.00,35.00 324.50,36.35 325.00,39.59 325.50,40.58 326.00,43.18 326.50,42.92 327.00,44.71 327.50,48.63 328.00,51.57 328.50,53.47 329.00,54.86 329.50,57.35 330.00,60.20 330.50,59.30 331.00,62.55 331.50,62.30 332.00,63.46 332.50,63.55 333.00,64.95 333.50,64.84 334.00,64.64 334.50,65.18 335.00,65.10 335.50,65.29 336.00,65.24 336.50,65.16 337.00,65.23 337.50,65.27" fill="none" stroke="#2e2e2e" stroke-width="0.7" stroke-linejoin="round" clip-path="url(#c258_20)"/>
<rect x="346.1" y="21.3" width="83.30" height="44.30" fill="#fff" stroke="#262626" stroke-width="1.1"/>
<path d="M346.1 20.8V65.6H429.9" fill="none" stroke="#111" stroke-width="1.35"/>
<line x1="344.8" y1="61.169999999999995" x2="346.1" y2="61.169999999999995" stroke="#222" stroke-width="0.6"/>
<line x1="344.8" y1="56.739999999999995" x2="346.1" y2="56.739999999999995" stroke="#222" stroke-width="0.6"/>
<line x1="344.8" y1="52.309999999999995" x2="346.1" y2="52.309999999999995" stroke="#222" stroke-width="0.6"/>
<line x1="344.8" y1="47.879999999999995" x2="346.1" y2="47.879999999999995" stroke="#222" stroke-width="0.6"/>
<line x1="344.8" y1="43.449999999999996" x2="346.1" y2="43.449999999999996" stroke="#222" stroke-width="0.6"/>
<line x1="344.8" y1="39.019999999999996" x2="346.1" y2="39.019999999999996" stroke="#222" stroke-width="0.6"/>
<line x1="344.8" y1="34.589999999999996" x2="346.1" y2="34.589999999999996" stroke="#222" stroke-width="0.6"/>
<line x1="344.8" y1="30.159999999999997" x2="346.1" y2="30.159999999999997" stroke="#222" stroke-width="0.6"/>
<line x1="344.8" y1="25.729999999999997" x2="346.1" y2="25.729999999999997" stroke="#222" stroke-width="0.6"/>
<path d="M346.10 65.6v1.9M352.37 65.6v1.2M356.04 65.6v1.2M358.64 65.6v1.2M360.66 65.6v1.2M362.30 65.6v1.2M363.70 65.6v1.2M364.91 65.6v1.2M365.97 65.6v1.2M366.93 65.6v1.9M373.19 65.6v1.2M376.86 65.6v1.2M379.46 65.6v1.2M381.48 65.6v1.2M383.13 65.6v1.2M384.52 65.6v1.2M385.73 65.6v1.2M386.80 65.6v1.2M387.75 65.6v1.9M394.02 65.6v1.2M397.69 65.6v1.2M400.29 65.6v1.2M402.31 65.6v1.2M403.95 65.6v1.2M405.35 65.6v1.2M406.56 65.6v1.2M407.62 65.6v1.2M408.57 65.6v1.9M414.84 65.6v1.2M418.51 65.6v1.2M421.11 65.6v1.2M423.13 65.6v1.2M424.78 65.6v1.2M426.17 65.6v1.2M427.38 65.6v1.2M428.45 65.6v1.2" stroke="#222" stroke-width="0.55" fill="none"/>
<clipPath id="c346_21"><rect x="346.6" y="21.8" width="82.29999999999995" height="43.3"/></clipPath>
<polyline points="349.00,56.21 349.50,54.44 350.00,52.08 350.50,53.61 351.00,50.63 351.50,52.74 352.00,47.16 352.50,50.50 353.00,48.52 353.50,49.52 354.00,46.02 354.50,44.37 355.00,44.54 355.50,42.37 356.00,40.35 356.50,39.48 357.00,37.05 357.50,42.40 358.00,36.95 358.50,36.81 359.00,33.08 359.50,38.30 360.00,29.56 360.50,31.11 361.00,28.70 361.50,31.77 362.00,30.47 362.50,30.76 363.00,29.63 363.50,28.74 364.00,30.62 364.50,24.06 365.00,26.77 365.50,28.71 366.00,33.48 366.50,27.01 367.00,35.54 367.50,33.86 368.00,34.49 368.50,35.78 369.00,34.41 369.50,36.03 370.00,37.46 370.50,42.36 371.00,38.84 371.50,42.17 372.00,45.10 372.50,46.25 373.00,51.13 373.50,51.24 374.00,55.31 374.50,57.60 375.00,57.30 375.50,58.27 376.00,61.13 376.50,62.23 377.00,62.91 377.50,63.77 378.00,63.19 378.50,63.10 379.00,64.69 379.50,64.87" fill="none" stroke="#8a8a8a" stroke-width="0.65" stroke-linejoin="round" clip-path="url(#c346_21)"/>
<polyline points="374.00,65.01 374.50,64.68 375.00,64.94 375.50,64.66 376.00,64.63 376.50,64.72 377.00,64.77 377.50,64.69 378.00,64.55 378.50,64.40 379.00,64.50 379.50,64.94 380.00,63.96 380.50,64.17 381.00,64.14 381.50,63.54 382.00,64.56 382.50,64.12 383.00,62.96 383.50,63.06 384.00,63.04 384.50,64.16 385.00,62.99 385.50,63.17 386.00,62.75 386.50,63.18 387.00,63.00 387.50,60.37 388.00,59.44 388.50,61.04 389.00,58.79 389.50,57.64 390.00,56.18 390.50,54.50 391.00,53.32 391.50,53.05 392.00,50.91 392.50,49.06 393.00,48.84 393.50,44.85 394.00,43.41 394.50,40.93 395.00,41.06 395.50,39.35 396.00,37.67 396.50,34.16 397.00,35.63 397.50,35.71 398.00,29.47 398.50,28.68 399.00,28.06 399.50,27.74 400.00,24.50 400.50,27.14 401.00,25.93 401.50,24.92 402.00,26.98 402.50,28.26 403.00,32.65 403.50,28.91 404.00,32.83 404.50,31.45 405.00,33.99 405.50,32.96 406.00,35.17 406.50,35.72 407.00,34.93 407.50,35.58 408.00,39.08 408.50,37.36 409.00,40.88 409.50,40.33 410.00,41.43 410.50,39.94 411.00,43.21 411.50,43.04 412.00,43.83 412.50,42.04 413.00,41.64 413.50,44.08 414.00,44.40 414.50,46.58 415.00,48.19 415.50,49.83 416.00,51.21 416.50,51.68 417.00,53.35 417.50,56.18 418.00,57.06 418.50,58.76 419.00,59.51 419.50,61.37 420.00,62.70 420.50,62.74 421.00,62.90 421.50,64.66 422.00,64.76 422.50,64.95 423.00,64.90 423.50,65.06 424.00,65.00 424.50,65.04 425.00,64.76 425.50,65.02" fill="none" stroke="#2e2e2e" stroke-width="0.7" stroke-linejoin="round" clip-path="url(#c346_21)"/>
<rect x="258.2" y="79.0" width="83.80" height="45.00" fill="#fff" stroke="#262626" stroke-width="1.1"/>
<path d="M258.2 78.5V124.0H342.5" fill="none" stroke="#111" stroke-width="1.35"/>
<line x1="256.9" y1="119.5" x2="258.2" y2="119.5" stroke="#222" stroke-width="0.6"/>
<line x1="256.9" y1="115.0" x2="258.2" y2="115.0" stroke="#222" stroke-width="0.6"/>
<line x1="256.9" y1="110.5" x2="258.2" y2="110.5" stroke="#222" stroke-width="0.6"/>
<line x1="256.9" y1="106.0" x2="258.2" y2="106.0" stroke="#222" stroke-width="0.6"/>
<line x1="256.9" y1="101.5" x2="258.2" y2="101.5" stroke="#222" stroke-width="0.6"/>
<line x1="256.9" y1="97.0" x2="258.2" y2="97.0" stroke="#222" stroke-width="0.6"/>
<line x1="256.9" y1="92.5" x2="258.2" y2="92.5" stroke="#222" stroke-width="0.6"/>
<line x1="256.9" y1="88.0" x2="258.2" y2="88.0" stroke="#222" stroke-width="0.6"/>
<line x1="256.9" y1="83.5" x2="258.2" y2="83.5" stroke="#222" stroke-width="0.6"/>
<path d="M258.20 124.0v1.9M264.51 124.0v1.2M268.20 124.0v1.2M270.81 124.0v1.2M272.84 124.0v1.2M274.50 124.0v1.2M275.90 124.0v1.2M277.12 124.0v1.2M278.19 124.0v1.2M279.15 124.0v1.9M285.46 124.0v1.2M289.15 124.0v1.2M291.76 124.0v1.2M293.79 124.0v1.2M295.45 124.0v1.2M296.85 124.0v1.2M298.07 124.0v1.2M299.14 124.0v1.2M300.10 124.0v1.9M306.41 124.0v1.2M310.10 124.0v1.2M312.71 124.0v1.2M314.74 124.0v1.2M316.40 124.0v1.2M317.80 124.0v1.2M319.02 124.0v1.2M320.09 124.0v1.2M321.05 124.0v1.9M327.36 124.0v1.2M331.05 124.0v1.2M333.66 124.0v1.2M335.69 124.0v1.2M337.35 124.0v1.2M338.75 124.0v1.2M339.97 124.0v1.2M341.04 124.0v1.2" stroke="#222" stroke-width="0.55" fill="none"/>
<clipPath id="c258_79"><rect x="258.7" y="79.5" width="82.80000000000001" height="44.0"/></clipPath>
<polyline points="261.50,110.13 262.00,112.04 262.50,108.84 263.00,108.21 263.50,109.77 264.00,106.96 264.50,104.96 265.00,106.70 265.50,105.38 266.00,104.49 266.50,106.05 267.00,102.66 267.50,104.08 268.00,100.24 268.50,101.29 269.00,102.15 269.50,99.95 270.00,100.96 270.50,100.50 271.00,96.62 271.50,97.90 272.00,99.87 272.50,97.45 273.00,94.97 273.50,95.14 274.00,97.28 274.50,94.97 275.00,95.80 275.50,94.41 276.00,93.33 276.50,97.00 277.00,96.76 277.50,96.44 278.00,95.48 278.50,97.55 279.00,95.97 279.50,96.86 280.00,99.02 280.50,99.91 281.00,100.49 281.50,102.67 282.00,102.69 282.50,103.78 283.00,103.26 283.50,107.92 284.00,107.93 284.50,111.07 285.00,109.76 285.50,110.66 286.00,112.03 286.50,113.22 287.00,114.28 287.50,116.80 288.00,117.47 288.50,116.44 289.00,120.07 289.50,120.14 290.00,121.71 290.50,121.42 291.00,123.10 291.50,123.09 292.00,123.29 292.50,123.32" fill="none" stroke="#8a8a8a" stroke-width="0.65" stroke-linejoin="round" clip-path="url(#c258_79)"/>
<polyline points="259.50,122.00 260.00,119.55 260.50,120.95 261.00,120.11 261.50,121.64 262.00,121.52 262.50,120.32 263.00,121.03 263.50,119.88 264.00,120.05 264.50,120.33 265.00,120.37 265.50,120.18 266.00,120.14 266.50,120.02 267.00,119.19 267.50,120.23 268.00,119.82 268.50,119.23 269.00,119.81 269.50,120.08 270.00,118.58 270.50,118.77 271.00,117.59 271.50,118.22 272.00,119.59 272.50,119.78 273.00,119.41 273.50,118.38 274.00,121.87 274.50,118.71 275.00,117.81 275.50,118.04 276.00,116.74 276.50,116.75 277.00,117.71 277.50,115.14 278.00,114.49 278.50,113.38 279.00,113.40 279.50,110.78 280.00,111.48 280.50,112.24 281.00,108.67 281.50,109.50 282.00,106.77 282.50,105.97 283.00,105.90 283.50,107.04 284.00,103.20 284.50,100.32 285.00,100.49 285.50,99.68 286.00,100.46 286.50,99.91 287.00,98.33 287.50,95.82 288.00,99.53 288.50,97.10 289.00,94.88 289.50,93.86 290.00,90.90 290.50,91.49 291.00,94.31 291.50,91.94 292.00,94.86 292.50,95.24 293.00,95.57 293.50,95.81 294.00,95.39 294.50,100.27 295.00,99.45 295.50,101.12 296.00,100.74 296.50,101.33 297.00,105.02 297.50,106.95 298.00,105.78 298.50,107.23 299.00,110.14 299.50,111.21 300.00,111.60 300.50,112.59 301.00,113.46 301.50,113.57 302.00,114.50 302.50,116.19 303.00,117.48 303.50,118.46 304.00,117.62 304.50,119.45 305.00,120.09 305.50,121.05 306.00,120.47 306.50,122.30 307.00,120.76 307.50,121.97 308.00,123.22 308.50,122.35 309.00,122.93 309.50,123.19 310.00,123.29 310.50,123.14 311.00,123.35 311.50,123.40" fill="none" stroke="#2e2e2e" stroke-width="0.7" stroke-linejoin="round" clip-path="url(#c258_79)"/>
<rect x="346.1" y="78.6" width="83.30" height="45.40" fill="#fff" stroke="#262626" stroke-width="1.1"/>
<path d="M346.1 78.1V124.0H429.9" fill="none" stroke="#111" stroke-width="1.35"/>
<line x1="344.8" y1="119.46" x2="346.1" y2="119.46" stroke="#222" stroke-width="0.6"/>
<line x1="344.8" y1="114.92" x2="346.1" y2="114.92" stroke="#222" stroke-width="0.6"/>
<line x1="344.8" y1="110.38" x2="346.1" y2="110.38" stroke="#222" stroke-width="0.6"/>
<line x1="344.8" y1="105.84" x2="346.1" y2="105.84" stroke="#222" stroke-width="0.6"/>
<line x1="344.8" y1="101.3" x2="346.1" y2="101.3" stroke="#222" stroke-width="0.6"/>
<line x1="344.8" y1="96.75999999999999" x2="346.1" y2="96.75999999999999" stroke="#222" stroke-width="0.6"/>
<line x1="344.8" y1="92.22" x2="346.1" y2="92.22" stroke="#222" stroke-width="0.6"/>
<line x1="344.8" y1="87.67999999999999" x2="346.1" y2="87.67999999999999" stroke="#222" stroke-width="0.6"/>
<line x1="344.8" y1="83.14" x2="346.1" y2="83.14" stroke="#222" stroke-width="0.6"/>
<path d="M346.10 124.0v1.9M352.37 124.0v1.2M356.04 124.0v1.2M358.64 124.0v1.2M360.66 124.0v1.2M362.30 124.0v1.2M363.70 124.0v1.2M364.91 124.0v1.2M365.97 124.0v1.2M366.93 124.0v1.9M373.19 124.0v1.2M376.86 124.0v1.2M379.46 124.0v1.2M381.48 124.0v1.2M383.13 124.0v1.2M384.52 124.0v1.2M385.73 124.0v1.2M386.80 124.0v1.2M387.75 124.0v1.9M394.02 124.0v1.2M397.69 124.0v1.2M400.29 124.0v1.2M402.31 124.0v1.2M403.95 124.0v1.2M405.35 124.0v1.2M406.56 124.0v1.2M407.62 124.0v1.2M408.57 124.0v1.9M414.84 124.0v1.2M418.51 124.0v1.2M421.11 124.0v1.2M423.13 124.0v1.2M424.78 124.0v1.2M426.17 124.0v1.2M427.38 124.0v1.2M428.45 124.0v1.2" stroke="#222" stroke-width="0.55" fill="none"/>
<clipPath id="c346_78"><rect x="346.6" y="79.1" width="82.29999999999995" height="44.400000000000006"/></clipPath>
<polyline points="349.00,114.79 349.50,112.63 350.00,112.42 350.50,113.13 351.00,111.86 351.50,110.02 352.00,110.97 352.50,106.81 353.00,107.34 353.50,107.06 354.00,104.99 354.50,104.68 355.00,104.12 355.50,103.42 356.00,103.58 356.50,101.36 357.00,101.57 357.50,102.97 358.00,96.54 358.50,96.50 359.00,98.38 359.50,96.23 360.00,93.50 360.50,96.03 361.00,92.59 361.50,92.66 362.00,90.12 362.50,95.21 363.00,93.26 363.50,87.21 364.00,91.20 364.50,90.29 365.00,90.84 365.50,93.29 366.00,88.06 366.50,87.15 367.00,89.54 367.50,91.99 368.00,90.23 368.50,90.10 369.00,93.28 369.50,95.39 370.00,96.44 370.50,99.06 371.00,104.89 371.50,102.91 372.00,103.49 372.50,106.34 373.00,108.46 373.50,108.98 374.00,111.54 374.50,114.00 375.00,115.03 375.50,117.10 376.00,117.89 376.50,119.88 377.00,121.27 377.50,122.37 378.00,122.28 378.50,123.14 379.00,123.06 379.50,123.24 380.00,123.44 380.50,123.48" fill="none" stroke="#8a8a8a" stroke-width="0.65" stroke-linejoin="round" clip-path="url(#c346_78)"/>
<polyline points="352.00,123.45 352.50,123.33 353.00,122.80 353.50,123.11 354.00,123.03 354.50,122.81 355.00,122.75 355.50,123.27 356.00,123.36 356.50,122.64 357.00,123.33 357.50,122.07 358.00,121.70 358.50,120.44 359.00,119.76 359.50,118.92 360.00,119.57 360.50,119.51 361.00,117.06 361.50,116.68 362.00,115.40 362.50,113.68 363.00,111.27 363.50,111.01 364.00,110.82 364.50,109.79 365.00,107.36 365.50,103.50 366.00,106.19 366.50,103.26 367.00,99.18 367.50,98.84 368.00,96.84 368.50,94.47 369.00,93.08 369.50,90.20 370.00,92.45 370.50,86.35 371.00,87.41 371.50,85.53 372.00,85.95 372.50,84.64 373.00,86.06 373.50,83.91 374.00,88.42 374.50,89.27 375.00,87.38 375.50,84.76 376.00,90.30 376.50,84.69 377.00,90.04 377.50,86.73 378.00,93.62 378.50,92.18 379.00,92.40 379.50,92.55 380.00,93.92 380.50,93.82 381.00,95.46 381.50,92.89 382.00,95.44 382.50,97.68 383.00,102.45 383.50,99.78 384.00,102.54 384.50,107.67 385.00,108.88 385.50,108.09 386.00,109.99 386.50,113.07 387.00,115.42 387.50,114.61 388.00,116.87 388.50,119.29 389.00,120.30 389.50,120.12 390.00,120.69 390.50,122.25 391.00,121.81 391.50,122.62 392.00,123.21 392.50,123.28 393.00,123.34 393.50,123.41" fill="none" stroke="#2e2e2e" stroke-width="0.7" stroke-linejoin="round" clip-path="url(#c346_78)"/>
<line x1="258.7" y1="72.7" x2="267.7" y2="72.7" stroke="#000" stroke-width="1.2"/>
<path d="M273.7 72.7 l-7.1 -3.05 v6.1 z" fill="#000"/>
<text x="276.1" y="76.3" font-size="8.5" text-anchor="start" font-weight="normal" fill="#000" textLength="22.2" lengthAdjust="spacingAndGlyphs">CD36</text>
<line x1="348.3" y1="72.6" x2="356.8" y2="72.6" stroke="#000" stroke-width="1.2"/>
<path d="M362.8 72.6 l-7.1 -3.05 v6.1 z" fill="#000"/>
<text x="365.2" y="75.8" font-size="8.5" text-anchor="start" font-weight="normal" fill="#000" textLength="22.2" lengthAdjust="spacingAndGlyphs">CD36</text>
<line x1="258.5" y1="132.0" x2="268.0" y2="132.0" stroke="#000" stroke-width="1.2"/>
<path d="M274.0 132.0 l-7.1 -3.05 v6.1 z" fill="#000"/>
<text x="278.0" y="135.0" font-size="8.5" text-anchor="start" font-weight="normal" fill="#000" textLength="20.3" lengthAdjust="spacingAndGlyphs">TLR4</text>
<line x1="348.0" y1="131.8" x2="356.8" y2="131.8" stroke="#000" stroke-width="1.2"/>
<path d="M362.8 131.8 l-7.1 -3.05 v6.1 z" fill="#000"/>
<text x="366.8" y="134.5" font-size="8.5" text-anchor="start" font-weight="normal" fill="#000" textLength="20.3" lengthAdjust="spacingAndGlyphs">TLR4</text>
<line x1="471.0" y1="16.7" x2="471.0" y2="63.3" stroke="#000" stroke-width="1.1"/>
<line x1="470.5" y1="62.8" x2="517.0" y2="62.8" stroke="#000" stroke-width="1.1"/>
<line x1="469.1" y1="62.8" x2="471.0" y2="62.8" stroke="#000" stroke-width="0.9"/>
<text x="468.4" y="65.39999999999999" font-size="7.2" text-anchor="end" font-weight="normal" fill="#000">0</text>
<line x1="469.1" y1="55.209999999999994" x2="471.0" y2="55.209999999999994" stroke="#000" stroke-width="0.9"/>
<text x="468.4" y="57.809999999999995" font-size="7.2" text-anchor="end" font-weight="normal" fill="#000">100</text>
<line x1="469.1" y1="47.62" x2="471.0" y2="47.62" stroke="#000" stroke-width="0.9"/>
<text x="468.4" y="50.22" font-size="7.2" text-anchor="end" font-weight="normal" fill="#000">200</text>
<line x1="469.1" y1="40.03" x2="471.0" y2="40.03" stroke="#000" stroke-width="0.9"/>
<text x="468.4" y="42.63" font-size="7.2" text-anchor="end" font-weight="normal" fill="#000">300</text>
<line x1="469.1" y1="32.44" x2="471.0" y2="32.44" stroke="#000" stroke-width="0.9"/>
<text x="468.4" y="35.04" font-size="7.2" text-anchor="end" font-weight="normal" fill="#000">400</text>
<line x1="469.1" y1="24.85" x2="471.0" y2="24.85" stroke="#000" stroke-width="0.9"/>
<text x="468.4" y="27.450000000000003" font-size="7.2" text-anchor="end" font-weight="normal" fill="#000">500</text>
<line x1="469.1" y1="17.259999999999998" x2="471.0" y2="17.259999999999998" stroke="#000" stroke-width="0.9"/>
<text x="468.4" y="19.86" font-size="7.2" text-anchor="end" font-weight="normal" fill="#000">600</text>
<line x1="484.4" y1="18.4" x2="484.4" y2="21.0" stroke="#000" stroke-width="1.1"/>
<line x1="483.2" y1="18.4" x2="485.59999999999997" y2="18.4" stroke="#000" stroke-width="1.1"/>
<rect x="475.1" y="21.6" width="17.50" height="41.20" fill="#fff" stroke="#000" stroke-width="1.2"/>
<line x1="503.8" y1="16.9" x2="503.8" y2="20.3" stroke="#000" stroke-width="1.1"/>
<line x1="502.6" y1="16.9" x2="505.0" y2="16.9" stroke="#000" stroke-width="1.1"/>
<rect x="494.7" y="20.3" width="18.10" height="42.50" fill="#000"/>
<line x1="471.6" y1="79.9" x2="471.6" y2="126.1" stroke="#000" stroke-width="1.1"/>
<line x1="471.1" y1="125.6" x2="517.5" y2="125.6" stroke="#000" stroke-width="1.1"/>
<line x1="469.70000000000005" y1="125.6" x2="471.6" y2="125.6" stroke="#000" stroke-width="0.9"/>
<text x="469.0" y="128.2" font-size="7.2" text-anchor="end" font-weight="normal" fill="#000">0</text>
<line x1="469.70000000000005" y1="116.55999999999999" x2="471.6" y2="116.55999999999999" stroke="#000" stroke-width="0.9"/>
<text x="469.0" y="119.15999999999998" font-size="7.2" text-anchor="end" font-weight="normal" fill="#000">40</text>
<line x1="469.70000000000005" y1="107.52" x2="471.6" y2="107.52" stroke="#000" stroke-width="0.9"/>
<text x="469.0" y="110.11999999999999" font-size="7.2" text-anchor="end" font-weight="normal" fill="#000">80</text>
<line x1="469.70000000000005" y1="98.47999999999999" x2="471.6" y2="98.47999999999999" stroke="#000" stroke-width="0.9"/>
<text x="469.0" y="101.07999999999998" font-size="7.2" text-anchor="end" font-weight="normal" fill="#000">120</text>
<line x1="469.70000000000005" y1="89.44" x2="471.6" y2="89.44" stroke="#000" stroke-width="0.9"/>
<text x="469.0" y="92.03999999999999" font-size="7.2" text-anchor="end" font-weight="normal" fill="#000">160</text>
<line x1="469.70000000000005" y1="80.39999999999999" x2="471.6" y2="80.39999999999999" stroke="#000" stroke-width="0.9"/>
<text x="469.0" y="82.99999999999999" font-size="7.2" text-anchor="end" font-weight="normal" fill="#000">200</text>
<line x1="485.0" y1="81.4" x2="485.0" y2="84.2" stroke="#000" stroke-width="1.1"/>
<line x1="483.8" y1="81.4" x2="486.2" y2="81.4" stroke="#000" stroke-width="1.1"/>
<rect x="476.40000000000003" y="84.8" width="17.30" height="40.80" fill="#fff" stroke="#000" stroke-width="1.2"/>
<line x1="505.0" y1="87.0" x2="505.0" y2="90.0" stroke="#000" stroke-width="1.1"/>
<line x1="503.8" y1="87.0" x2="506.2" y2="87.0" stroke="#000" stroke-width="1.1"/>
<rect x="495.6" y="90.0" width="18.20" height="35.60" fill="#000"/>
<text x="479.8" y="78.4" font-size="7.3" text-anchor="start" font-weight="normal" fill="#000" textLength="30.8" lengthAdjust="spacingAndGlyphs">p=0,1436</text>
<text transform="translate(440.7 64.5) rotate(-90)" font-size="8.4" text-anchor="start" font-weight="normal" fill="#000" textLength="47.3" lengthAdjust="spacingAndGlyphs">CD36 mean</text>
<text transform="translate(451.2 65.7) rotate(-90)" font-size="8.4" text-anchor="start" font-weight="normal" fill="#000" textLength="48.6" lengthAdjust="spacingAndGlyphs">fluorescence</text>
<text transform="translate(441.4 123.8) rotate(-90)" font-size="8.4" text-anchor="start" font-weight="normal" fill="#000" textLength="44.0" lengthAdjust="spacingAndGlyphs">TLR4 mean</text>
<text transform="translate(452.0 125.1) rotate(-90)" font-size="8.4" text-anchor="start" font-weight="normal" fill="#000" textLength="47.6" lengthAdjust="spacingAndGlyphs">fluorescence</text>
<line x1="45.5" y1="165.89999999999998" x2="45.5" y2="245.5" stroke="#000" stroke-width="1.1"/>
<line x1="45.0" y1="245.0" x2="90.7" y2="245.0" stroke="#000" stroke-width="1.1"/>
<line x1="43.6" y1="245.0" x2="45.5" y2="245.0" stroke="#000" stroke-width="0.9"/>
<text x="42.8" y="247.6" font-size="7.4" text-anchor="end" font-weight="normal" fill="#000">0</text>
<line x1="43.6" y1="235.175" x2="45.5" y2="235.175" stroke="#000" stroke-width="0.9"/>
<text x="42.8" y="237.775" font-size="7.4" text-anchor="end" font-weight="normal" fill="#000">50</text>
<line x1="43.6" y1="225.35" x2="45.5" y2="225.35" stroke="#000" stroke-width="0.9"/>
<text x="42.8" y="227.95" font-size="7.4" text-anchor="end" font-weight="normal" fill="#000">100</text>
<line x1="43.6" y1="215.525" x2="45.5" y2="215.525" stroke="#000" stroke-width="0.9"/>
<text x="42.8" y="218.125" font-size="7.4" text-anchor="end" font-weight="normal" fill="#000">150</text>
<line x1="43.6" y1="205.7" x2="45.5" y2="205.7" stroke="#000" stroke-width="0.9"/>
<text x="42.8" y="208.29999999999998" font-size="7.4" text-anchor="end" font-weight="normal" fill="#000">200</text>
<line x1="43.6" y1="195.875" x2="45.5" y2="195.875" stroke="#000" stroke-width="0.9"/>
<text x="42.8" y="198.475" font-size="7.4" text-anchor="end" font-weight="normal" fill="#000">250</text>
<line x1="43.6" y1="186.05" x2="45.5" y2="186.05" stroke="#000" stroke-width="0.9"/>
<text x="42.8" y="188.65" font-size="7.4" text-anchor="end" font-weight="normal" fill="#000">300</text>
<line x1="43.6" y1="176.225" x2="45.5" y2="176.225" stroke="#000" stroke-width="0.9"/>
<text x="42.8" y="178.825" font-size="7.4" text-anchor="end" font-weight="normal" fill="#000">350</text>
<line x1="43.6" y1="166.39999999999998" x2="45.5" y2="166.39999999999998" stroke="#000" stroke-width="0.9"/>
<text x="42.8" y="168.99999999999997" font-size="7.4" text-anchor="end" font-weight="normal" fill="#000">400</text>
<line x1="58.1" y1="222.4" x2="58.1" y2="225.0" stroke="#000" stroke-width="1.1"/>
<line x1="56.2" y1="222.4" x2="60.0" y2="222.4" stroke="#000" stroke-width="1.1"/>
<rect x="50.0" y="225.6" width="16.60" height="19.40" fill="#fff" stroke="#000" stroke-width="1.2"/>
<line x1="76.8" y1="186.6" x2="76.8" y2="193.1" stroke="#000" stroke-width="1.1"/>
<line x1="74.8" y1="186.6" x2="78.8" y2="186.6" stroke="#000" stroke-width="1.1"/>
<rect x="68.2" y="193.1" width="17.00" height="51.90" fill="#000"/>
<line x1="58.3" y1="245.0" x2="58.3" y2="246.4" stroke="#000" stroke-width="0.8"/>
<line x1="76.7" y1="245.0" x2="76.7" y2="246.4" stroke="#000" stroke-width="0.8"/>
<line x1="57.2" y1="181.9" x2="77.3" y2="181.9" stroke="#000" stroke-width="1.0"/>
<text x="67.55" y="182.1" font-size="8.6" text-anchor="middle" font-weight="bold" fill="#000" letter-spacing="0.55">***</text>
<text transform="translate(17.5 229.9) rotate(-90)" font-size="8.5" text-anchor="start" font-weight="normal" fill="#000" textLength="47.2" lengthAdjust="spacingAndGlyphs">IL-1β mRNA</text>
<text transform="translate(27.1 240.4) rotate(-90)" font-size="8.5" text-anchor="start" font-weight="normal" fill="#000" textLength="71.0" lengthAdjust="spacingAndGlyphs">relative expression</text>
<line x1="129.6" y1="165.89999999999998" x2="129.6" y2="245.5" stroke="#000" stroke-width="1.1"/>
<line x1="129.1" y1="245.0" x2="175.0" y2="245.0" stroke="#000" stroke-width="1.1"/>
<line x1="127.69999999999999" y1="245.0" x2="129.6" y2="245.0" stroke="#000" stroke-width="0.9"/>
<text x="126.89999999999999" y="247.6" font-size="7.4" text-anchor="end" font-weight="normal" fill="#000">0</text>
<line x1="127.69999999999999" y1="235.175" x2="129.6" y2="235.175" stroke="#000" stroke-width="0.9"/>
<text x="126.89999999999999" y="237.775" font-size="7.4" text-anchor="end" font-weight="normal" fill="#000">50</text>
<line x1="127.69999999999999" y1="225.35" x2="129.6" y2="225.35" stroke="#000" stroke-width="0.9"/>
<text x="126.89999999999999" y="227.95" font-size="7.4" text-anchor="end" font-weight="normal" fill="#000">100</text>
<line x1="127.69999999999999" y1="215.525" x2="129.6" y2="215.525" stroke="#000" stroke-width="0.9"/>
<text x="126.89999999999999" y="218.125" font-size="7.4" text-anchor="end" font-weight="normal" fill="#000">150</text>
<line x1="127.69999999999999" y1="205.7" x2="129.6" y2="205.7" stroke="#000" stroke-width="0.9"/>
<text x="126.89999999999999" y="208.29999999999998" font-size="7.4" text-anchor="end" font-weight="normal" fill="#000">200</text>
<line x1="127.69999999999999" y1="195.875" x2="129.6" y2="195.875" stroke="#000" stroke-width="0.9"/>
<text x="126.89999999999999" y="198.475" font-size="7.4" text-anchor="end" font-weight="normal" fill="#000">250</text>
<line x1="127.69999999999999" y1="186.05" x2="129.6" y2="186.05" stroke="#000" stroke-width="0.9"/>
<text x="126.89999999999999" y="188.65" font-size="7.4" text-anchor="end" font-weight="normal" fill="#000">300</text>
<line x1="127.69999999999999" y1="176.225" x2="129.6" y2="176.225" stroke="#000" stroke-width="0.9"/>
<text x="126.89999999999999" y="178.825" font-size="7.4" text-anchor="end" font-weight="normal" fill="#000">350</text>
<line x1="127.69999999999999" y1="166.39999999999998" x2="129.6" y2="166.39999999999998" stroke="#000" stroke-width="0.9"/>
<text x="126.89999999999999" y="168.99999999999997" font-size="7.4" text-anchor="end" font-weight="normal" fill="#000">400</text>
<line x1="142.4" y1="222.3" x2="142.4" y2="224.4" stroke="#000" stroke-width="1.1"/>
<line x1="140.5" y1="222.3" x2="144.3" y2="222.3" stroke="#000" stroke-width="1.1"/>
<rect x="133.79999999999998" y="225.0" width="16.60" height="20.00" fill="#fff" stroke="#000" stroke-width="1.2"/>
<line x1="161.9" y1="181.3" x2="161.9" y2="190.0" stroke="#000" stroke-width="1.1"/>
<line x1="159.9" y1="181.3" x2="163.9" y2="181.3" stroke="#000" stroke-width="1.1"/>
<rect x="153.0" y="190.0" width="16.80" height="55.00" fill="#000"/>
<line x1="142.1" y1="245.0" x2="142.1" y2="246.4" stroke="#000" stroke-width="0.8"/>
<line x1="161.4" y1="245.0" x2="161.4" y2="246.4" stroke="#000" stroke-width="0.8"/>
<line x1="141.6" y1="176.5" x2="161.3" y2="176.5" stroke="#000" stroke-width="1.0"/>
<text x="151.75" y="176.9" font-size="8.6" text-anchor="middle" font-weight="bold" fill="#000" letter-spacing="0.55">**</text>
<text transform="translate(101.4 226.7) rotate(-90)" font-size="8.5" text-anchor="start" font-weight="normal" fill="#000" textLength="42.3" lengthAdjust="spacingAndGlyphs">IL-6 mRNA</text>
<text transform="translate(111.9 240.4) rotate(-90)" font-size="8.5" text-anchor="start" font-weight="normal" fill="#000" textLength="72.3" lengthAdjust="spacingAndGlyphs">relative expression</text>
<line x1="217.5" y1="156.325" x2="217.5" y2="245.3" stroke="#000" stroke-width="1.1"/>
<line x1="217.0" y1="244.8" x2="264.8" y2="244.8" stroke="#000" stroke-width="1.1"/>
<line x1="215.6" y1="244.8" x2="217.5" y2="244.8" stroke="#000" stroke-width="0.9"/>
<text x="214.8" y="247.4" font-size="7.4" text-anchor="end" font-weight="normal" fill="#000">0</text>
<line x1="215.6" y1="235.025" x2="217.5" y2="235.025" stroke="#000" stroke-width="0.9"/>
<text x="214.8" y="237.625" font-size="7.4" text-anchor="end" font-weight="normal" fill="#000">50</text>
<line x1="215.6" y1="225.25" x2="217.5" y2="225.25" stroke="#000" stroke-width="0.9"/>
<text x="214.8" y="227.85" font-size="7.4" text-anchor="end" font-weight="normal" fill="#000">100</text>
<line x1="215.6" y1="215.47500000000002" x2="217.5" y2="215.47500000000002" stroke="#000" stroke-width="0.9"/>
<text x="214.8" y="218.07500000000002" font-size="7.4" text-anchor="end" font-weight="normal" fill="#000">150</text>
<line x1="215.6" y1="205.70000000000002" x2="217.5" y2="205.70000000000002" stroke="#000" stroke-width="0.9"/>
<text x="214.8" y="208.3" font-size="7.4" text-anchor="end" font-weight="normal" fill="#000">200</text>
<line x1="215.6" y1="195.925" x2="217.5" y2="195.925" stroke="#000" stroke-width="0.9"/>
<text x="214.8" y="198.525" font-size="7.4" text-anchor="end" font-weight="normal" fill="#000">250</text>
<line x1="215.6" y1="186.15" x2="217.5" y2="186.15" stroke="#000" stroke-width="0.9"/>
<text x="214.8" y="188.75" font-size="7.4" text-anchor="end" font-weight="normal" fill="#000">300</text>
<line x1="215.6" y1="176.375" x2="217.5" y2="176.375" stroke="#000" stroke-width="0.9"/>
<text x="214.8" y="178.975" font-size="7.4" text-anchor="end" font-weight="normal" fill="#000">350</text>
<line x1="215.6" y1="166.60000000000002" x2="217.5" y2="166.60000000000002" stroke="#000" stroke-width="0.9"/>
<text x="214.8" y="169.20000000000002" font-size="7.4" text-anchor="end" font-weight="normal" fill="#000">400</text>
<line x1="215.6" y1="156.825" x2="217.5" y2="156.825" stroke="#000" stroke-width="0.9"/>
<text x="214.8" y="159.42499999999998" font-size="7.4" text-anchor="end" font-weight="normal" fill="#000">450</text>
<line x1="230.6" y1="223.6" x2="230.6" y2="225.0" stroke="#000" stroke-width="1.1"/>
<line x1="228.7" y1="223.6" x2="232.5" y2="223.6" stroke="#000" stroke-width="1.1"/>
<rect x="221.4" y="225.6" width="18.20" height="19.20" fill="#fff" stroke="#000" stroke-width="1.2"/>
<line x1="250.0" y1="164.0" x2="250.0" y2="176.3" stroke="#000" stroke-width="1.1"/>
<line x1="248.0" y1="164.0" x2="252.0" y2="164.0" stroke="#000" stroke-width="1.1"/>
<rect x="241.3" y="176.3" width="18.00" height="68.50" fill="#000"/>
<line x1="230.5" y1="244.8" x2="230.5" y2="246.20000000000002" stroke="#000" stroke-width="0.8"/>
<line x1="250.3" y1="244.8" x2="250.3" y2="246.20000000000002" stroke="#000" stroke-width="0.8"/>
<line x1="229.4" y1="160.0" x2="250.6" y2="160.0" stroke="#000" stroke-width="1.0"/>
<text x="240.3" y="161.1" font-size="10.4" text-anchor="middle" font-weight="bold" fill="#000" letter-spacing="0.55">**</text>
<text transform="translate(186.4 225.9) rotate(-90)" font-size="8.5" text-anchor="start" font-weight="normal" fill="#000" textLength="50.6" lengthAdjust="spacingAndGlyphs">iNOS mRNA</text>
<text transform="translate(196.8 235.6) rotate(-90)" font-size="8.5" text-anchor="start" font-weight="normal" fill="#000" textLength="71.5" lengthAdjust="spacingAndGlyphs">relative expression</text>
<line x1="306.7" y1="165.89999999999998" x2="306.7" y2="245.5" stroke="#000" stroke-width="1.1"/>
<line x1="306.2" y1="245.0" x2="351.6" y2="245.0" stroke="#000" stroke-width="1.1"/>
<line x1="304.8" y1="245.0" x2="306.7" y2="245.0" stroke="#000" stroke-width="0.9"/>
<text x="304.0" y="247.6" font-size="7.4" text-anchor="end" font-weight="normal" fill="#000">0</text>
<line x1="304.8" y1="235.175" x2="306.7" y2="235.175" stroke="#000" stroke-width="0.9"/>
<text x="304.0" y="237.775" font-size="7.4" text-anchor="end" font-weight="normal" fill="#000">50</text>
<line x1="304.8" y1="225.35" x2="306.7" y2="225.35" stroke="#000" stroke-width="0.9"/>
<text x="304.0" y="227.95" font-size="7.4" text-anchor="end" font-weight="normal" fill="#000">100</text>
<line x1="304.8" y1="215.525" x2="306.7" y2="215.525" stroke="#000" stroke-width="0.9"/>
<text x="304.0" y="218.125" font-size="7.4" text-anchor="end" font-weight="normal" fill="#000">150</text>
<line x1="304.8" y1="205.7" x2="306.7" y2="205.7" stroke="#000" stroke-width="0.9"/>
<text x="304.0" y="208.29999999999998" font-size="7.4" text-anchor="end" font-weight="normal" fill="#000">200</text>
<line x1="304.8" y1="195.875" x2="306.7" y2="195.875" stroke="#000" stroke-width="0.9"/>
<text x="304.0" y="198.475" font-size="7.4" text-anchor="end" font-weight="normal" fill="#000">250</text>
<line x1="304.8" y1="186.05" x2="306.7" y2="186.05" stroke="#000" stroke-width="0.9"/>
<text x="304.0" y="188.65" font-size="7.4" text-anchor="end" font-weight="normal" fill="#000">300</text>
<line x1="304.8" y1="176.225" x2="306.7" y2="176.225" stroke="#000" stroke-width="0.9"/>
<text x="304.0" y="178.825" font-size="7.4" text-anchor="end" font-weight="normal" fill="#000">350</text>
<line x1="304.8" y1="166.39999999999998" x2="306.7" y2="166.39999999999998" stroke="#000" stroke-width="0.9"/>
<text x="304.0" y="168.99999999999997" font-size="7.4" text-anchor="end" font-weight="normal" fill="#000">400</text>
<line x1="319.0" y1="224.0" x2="319.0" y2="225.0" stroke="#000" stroke-width="1.1"/>
<line x1="317.1" y1="224.0" x2="320.9" y2="224.0" stroke="#000" stroke-width="1.1"/>
<rect x="310.90000000000003" y="225.6" width="16.70" height="19.40" fill="#fff" stroke="#000" stroke-width="1.2"/>
<line x1="338.1" y1="222.7" x2="338.1" y2="225.2" stroke="#000" stroke-width="1.1"/>
<line x1="336.1" y1="222.7" x2="340.1" y2="222.7" stroke="#000" stroke-width="1.1"/>
<rect x="329.3" y="225.2" width="17.30" height="19.80" fill="#000"/>
<line x1="319.25" y1="245.0" x2="319.25" y2="246.4" stroke="#000" stroke-width="0.8"/>
<line x1="337.95000000000005" y1="245.0" x2="337.95000000000005" y2="246.4" stroke="#000" stroke-width="0.8"/>
<text transform="translate(277.9 237.6) rotate(-90)" font-size="8.5" text-anchor="start" font-weight="normal" fill="#000" textLength="62.3" lengthAdjust="spacingAndGlyphs">IL-12p40 mRNA</text>
<text transform="translate(289.0 241.2) rotate(-90)" font-size="8.5" text-anchor="start" font-weight="normal" fill="#000" textLength="71.2" lengthAdjust="spacingAndGlyphs">relative expression</text>
<line x1="390.2" y1="165.89999999999998" x2="390.2" y2="245.5" stroke="#000" stroke-width="1.1"/>
<line x1="389.7" y1="245.0" x2="435.7" y2="245.0" stroke="#000" stroke-width="1.1"/>
<line x1="388.3" y1="245.0" x2="390.2" y2="245.0" stroke="#000" stroke-width="0.9"/>
<text x="387.5" y="247.6" font-size="7.4" text-anchor="end" font-weight="normal" fill="#000">0</text>
<line x1="388.3" y1="235.175" x2="390.2" y2="235.175" stroke="#000" stroke-width="0.9"/>
<text x="387.5" y="237.775" font-size="7.4" text-anchor="end" font-weight="normal" fill="#000">50</text>
<line x1="388.3" y1="225.35" x2="390.2" y2="225.35" stroke="#000" stroke-width="0.9"/>
<text x="387.5" y="227.95" font-size="7.4" text-anchor="end" font-weight="normal" fill="#000">100</text>
<line x1="388.3" y1="215.525" x2="390.2" y2="215.525" stroke="#000" stroke-width="0.9"/>
<text x="387.5" y="218.125" font-size="7.4" text-anchor="end" font-weight="normal" fill="#000">150</text>
<line x1="388.3" y1="205.7" x2="390.2" y2="205.7" stroke="#000" stroke-width="0.9"/>
<text x="387.5" y="208.29999999999998" font-size="7.4" text-anchor="end" font-weight="normal" fill="#000">200</text>
<line x1="388.3" y1="195.875" x2="390.2" y2="195.875" stroke="#000" stroke-width="0.9"/>
<text x="387.5" y="198.475" font-size="7.4" text-anchor="end" font-weight="normal" fill="#000">250</text>
<line x1="388.3" y1="186.05" x2="390.2" y2="186.05" stroke="#000" stroke-width="0.9"/>
<text x="387.5" y="188.65" font-size="7.4" text-anchor="end" font-weight="normal" fill="#000">300</text>
<line x1="388.3" y1="176.225" x2="390.2" y2="176.225" stroke="#000" stroke-width="0.9"/>
<text x="387.5" y="178.825" font-size="7.4" text-anchor="end" font-weight="normal" fill="#000">350</text>
<line x1="388.3" y1="166.39999999999998" x2="390.2" y2="166.39999999999998" stroke="#000" stroke-width="0.9"/>
<text x="387.5" y="168.99999999999997" font-size="7.4" text-anchor="end" font-weight="normal" fill="#000">400</text>
<line x1="402.8" y1="224.0" x2="402.8" y2="225.0" stroke="#000" stroke-width="1.1"/>
<line x1="400.90000000000003" y1="224.0" x2="404.7" y2="224.0" stroke="#000" stroke-width="1.1"/>
<rect x="394.3" y="225.6" width="16.80" height="19.40" fill="#fff" stroke="#000" stroke-width="1.2"/>
<line x1="421.9" y1="216.0" x2="421.9" y2="218.1" stroke="#000" stroke-width="1.1"/>
<line x1="419.9" y1="216.0" x2="423.9" y2="216.0" stroke="#000" stroke-width="1.1"/>
<rect x="413.1" y="218.1" width="17.60" height="26.90" fill="#000"/>
<line x1="402.7" y1="245.0" x2="402.7" y2="246.4" stroke="#000" stroke-width="0.8"/>
<line x1="421.9" y1="245.0" x2="421.9" y2="246.4" stroke="#000" stroke-width="0.8"/>
<line x1="402.5" y1="212.3" x2="421.6" y2="212.3" stroke="#000" stroke-width="1.0"/>
<text x="412.35" y="213.20000000000002" font-size="8.6" text-anchor="middle" font-weight="bold" fill="#000" letter-spacing="0.55">*</text>
<text transform="translate(362.5 227.5) rotate(-90)" font-size="8.5" text-anchor="start" font-weight="normal" fill="#000" textLength="48.5" lengthAdjust="spacingAndGlyphs">TNFα mRNA</text>
<text transform="translate(372.2 239.3) rotate(-90)" font-size="8.5" text-anchor="start" font-weight="normal" fill="#000" textLength="72.0" lengthAdjust="spacingAndGlyphs">relative expression</text>
<rect x="442.2" y="190.7" width="15.00" height="8.30" fill="#fff" stroke="#000" stroke-width="1.2"/>
<rect x="441.6" y="203.0" width="16.2" height="9.2" fill="#000"/>
<text x="459.6" y="199.3" font-size="9.0" text-anchor="start" font-weight="normal" fill="#000" textLength="60.6" lengthAdjust="spacingAndGlyphs">OVX + Placebo</text>
<text x="459.6" y="211.4" font-size="9.0" text-anchor="start" font-weight="normal" fill="#000" textLength="38.6" lengthAdjust="spacingAndGlyphs">OVX + E2</text>
</svg>
</body>
</html>
